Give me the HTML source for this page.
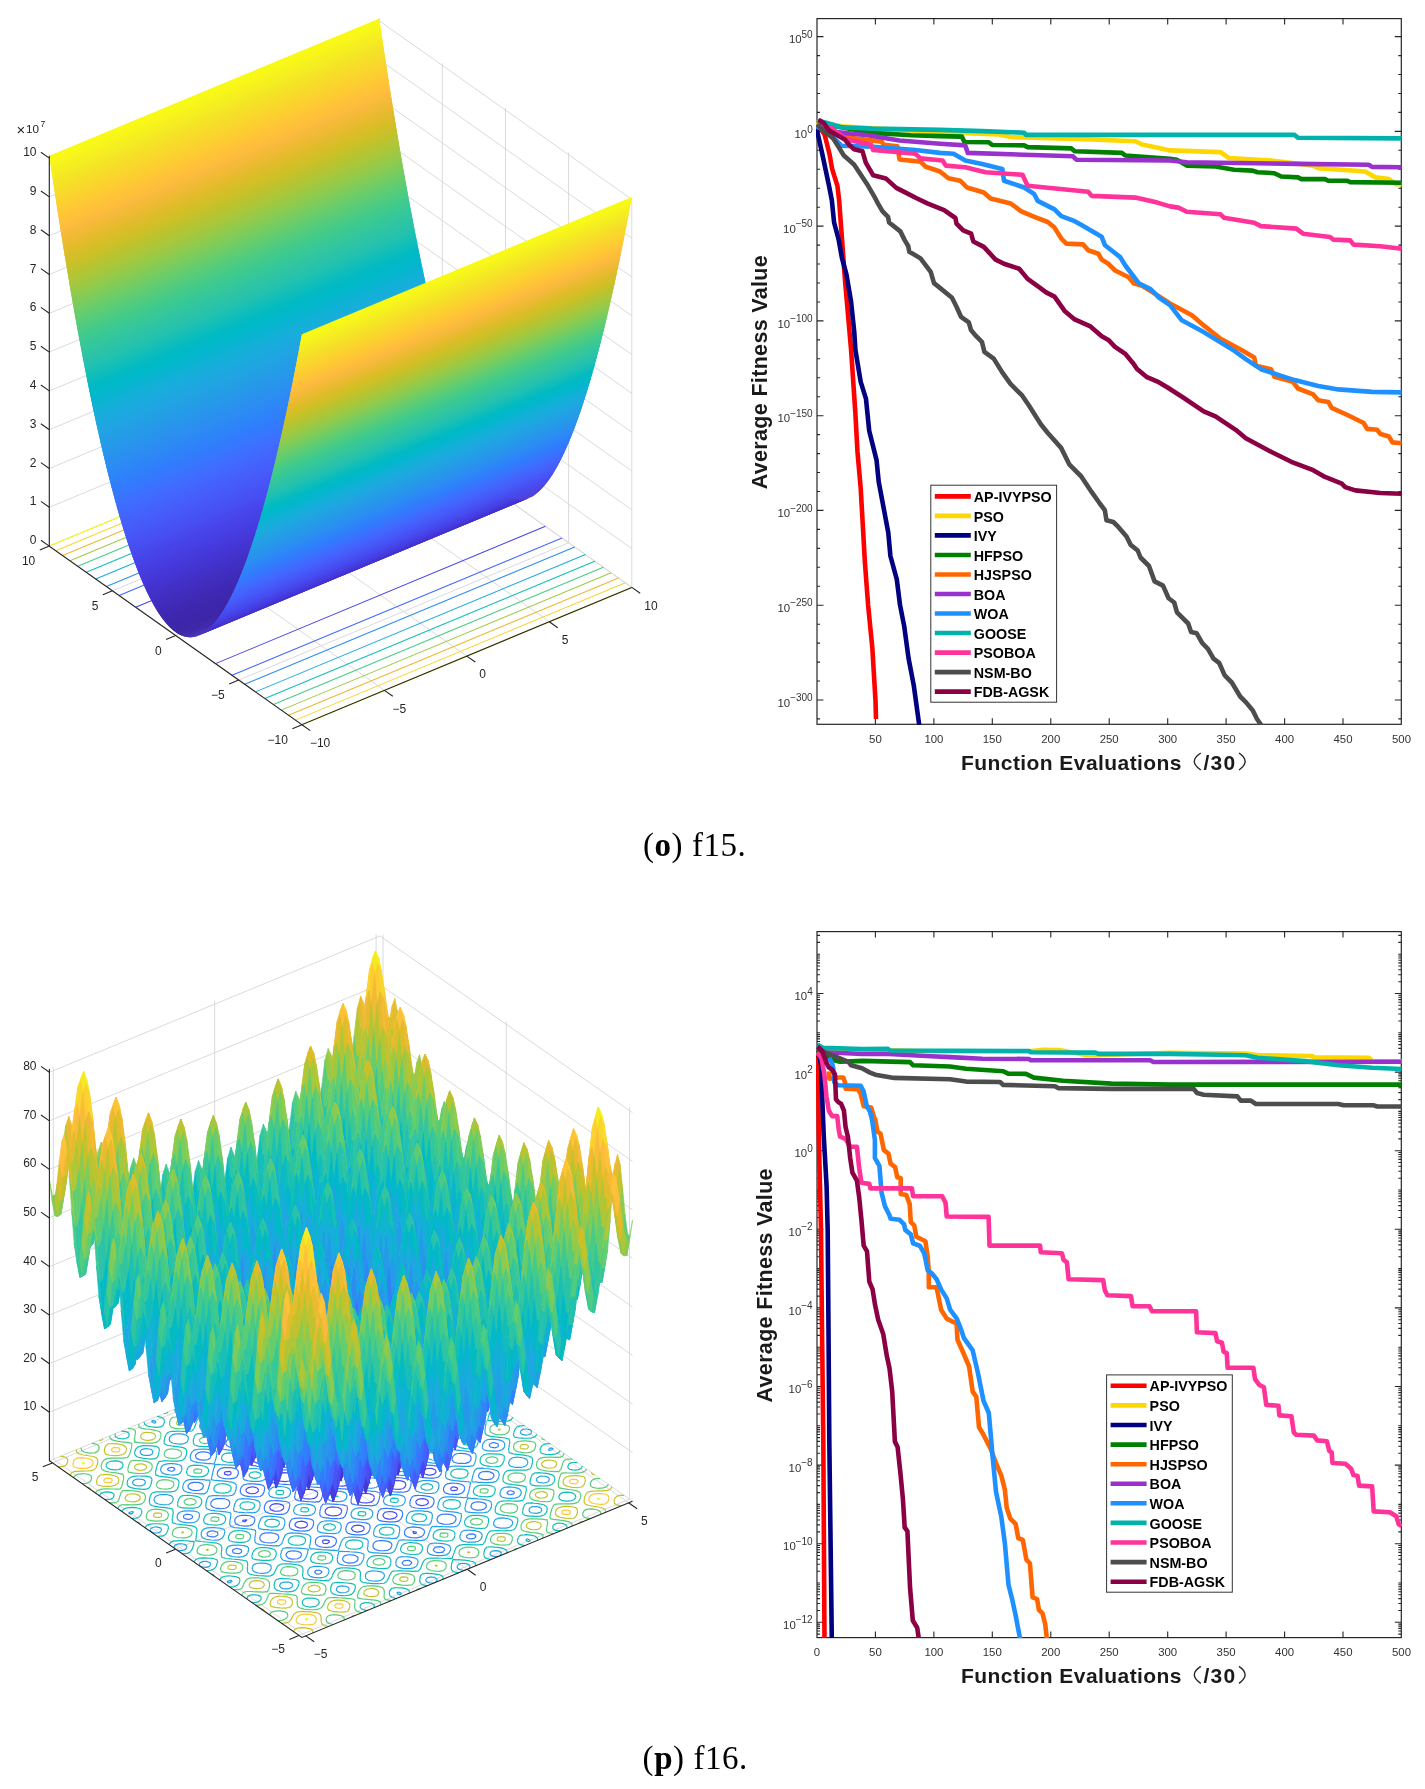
<!DOCTYPE html>
<html><head><meta charset="utf-8"><style>
html,body{margin:0;padding:0;background:#fff}
body{width:1425px;height:1789px;position:relative;overflow:hidden}
canvas,svg{position:absolute;left:0;top:0}
</style></head><body>
<svg width="700" height="1789" style="position:absolute;left:0;top:0"><path d="M301.9 724.7L631.8 587.4M301.9 724.7L49.3 546.1M49.3 546.1L49.3 155.8M631.8 587.4L631.8 197.1M238.7 680.1L568.6 542.8M384.4 690.4L131.8 511.8M131.8 511.8L131.8 121.4M568.6 542.8L568.6 152.4M175.6 635.4L505.5 498.1M466.8 656.1L214.2 477.5M214.2 477.5L214.2 87.1M505.5 498.1L505.5 107.8M112.4 590.8L442.3 453.4M549.3 621.7L296.7 443.1M296.7 443.1L296.7 52.8M442.3 453.4L442.3 63.1M49.3 546.1L379.2 408.8M631.8 587.4L379.2 408.8M379.2 408.8L379.2 18.5M379.2 408.8L379.2 18.5M49.3 546.1L379.2 408.8M631.8 587.4L379.2 408.8M49.3 507.3L379.2 370M631.8 548.6L379.2 370M49.3 468.5L379.2 331.2M631.8 509.8L379.2 331.2M49.3 429.7L379.2 292.4M631.8 471L379.2 292.4M49.3 390.9L379.2 253.6M631.8 432.2L379.2 253.6M49.3 352.1L379.2 214.8M631.8 393.4L379.2 214.8M49.3 313.3L379.2 176M631.8 354.6L379.2 176M49.3 274.5L379.2 137.2M631.8 315.8L379.2 137.2M49.3 235.7L379.2 98.4M631.8 277L379.2 98.4M49.3 196.9L379.2 59.6M631.8 238.2L379.2 59.6M49.3 158.1L379.2 20.8M631.8 199.4L379.2 20.8" stroke="#d6d6d6" stroke-width="0.9" fill="none"/><path d="M298.9 1635.4L629.5 1499.1M305.8 1635.9L53.3 1459.2M53.3 1459.2L53.3 1067.3M629.5 1499.1L629.5 1107.3M175.6 1549.2L506.2 1412.9M467.2 1569.3L214.7 1392.6M214.7 1392.6L214.7 1000.8M506.2 1412.9L506.2 1021M52.4 1462.9L383 1326.6M628.6 1502.8L376.1 1326.1M376.1 1326.1L376.1 934.2M383 1326.6L383 934.7M49.4 1412.2L380 1275.9M632.5 1452.6L380 1275.9M49.4 1363.7L380 1227.4M632.5 1404.1L380 1227.4M49.4 1315.1L380 1178.8M632.5 1355.5L380 1178.8M49.4 1266.6L380 1130.3M632.5 1307L380 1130.3M49.4 1218L380 1081.7M632.5 1258.4L380 1081.7M49.4 1169.4L380 1033.1M632.5 1209.8L380 1033.1M49.4 1120.9L380 984.6M632.5 1161.3L380 984.6M49.4 1072.3L380 936M632.5 1112.7L380 936M49.4 1460.8L380 1324.5M632.5 1501.2L380 1324.5" stroke="#d6d6d6" stroke-width="0.9" fill="none"/><path d="M415.4 1533.7l0.7 -0 0.3 -0.4 -1.7 -0.6 0.7 1M355.8 1531.9l0.5 0 6.4 -1.2 1.1 -2.1 -3.4 -3 -5.1 -0.1 -3.8 3.1 0 0.7 4.3 2.6M387.3 1518.9l6.9 -0.6 2.9 -3.4 -1.1 -1.1 -2.4 -1.9 -0.4 -0.1 -7.6 0.5 -2.7 3.8 -0 0.2 2.7 1.7 1.7 0.9M420.6 1505.2l4 -0.1 4 -3 0 -0.2 -3.6 -2.9 -1.1 -0.2 -6.6 1.2 -1.2 2.7 4.5 2.5M325.1 1540.2l2.2 0.2 -0.9 -0.8 -0.1 0 -1.2 0.6M450.2 1488.6l1.1 0.6 0.2 -1.2 -1.3 0.5 0 0.1M301.1 1528.1l0.5 0 5.4 -1.9 0.3 -0.7 -2.1 -3.5 -5 -0.6 -4.8 2.4 0.2 2.2 5.5 2.1M331.3 1515.7l2 0.1 6.3 -1.3 1.9 -3 -0.9 -2.1 -1.1 -1.5 -1.5 -0.2 -7.3 -0.5 -1.5 0 -1.8 1.3 -1.9 1.9 0.4 3.1 5.4 2.2M362.7 1502.8l1.3 0.1 7.1 -0.8 3.2 -3.5 0.2 -0.7 -2.5 -3.3 -4.7 -0.9 -3.9 0 -3.7 0.4 -1.7 1.9 -1.1 1.9 0.4 2.7 5.4 2.2M395.6 1489.2l5.9 -0.2 4 -2.9 0.3 -1.1 -2.5 -3.4 -5.6 -1 -3.8 0.5 -2.8 0.6 -0.5 0.8 -0.9 3.9 0 0.8 2.5 1 3.4 1M429.8 1475.1l1.2 0 4.9 -2.3 0.1 -0.3 -2.3 -3.4 -3.9 -0.6 -5.6 1.8 -0.2 2.8 5.8 2M279.6 1510.7l3.5 -1.2 0.1 -0.3 -0.8 -4.1 -7.1 -1.4 -0.5 -0 -3.1 1.5 -1.7 0.9 1.2 3.7 6.3 1.5 2.1 -0.6M308 1499l1.3 0.1 6.3 -1.4 1.7 -2.5 -0.1 -2.1 -0.7 -2 -3.4 -0.9 -3.7 -0.5 -5.1 0.2 -4 2.9 -0.2 0.7 1.4 3.8 6.5 1.7M339.4 1486l0.6 0 7.1 -0.8 3.3 -3.4 0 -0.4 -1.4 -3.7 -6.5 -1.8 -0.6 -0 -7 0.8 -3.3 3.4 -0.1 0.4 1.5 3.8 6.4 1.7M372.5 1472.4l5 -0.2 4.1 -2.9 0.2 -0.7 -1.5 -3.8 -6.4 -1.7 -1.3 -0.1 -6.3 1.3 -1.7 2.6 0.1 2 0.7 2.1 3.4 0.8 3.7 0.6M406.6 1458.3l0.4 0 3.2 -1.5 1.7 -0.9 -1.2 -3.7 -6.3 -1.5 -2.1 0.6 -3.5 1.2 -0.1 0.3 0.8 4.1 7.1 1.4M242.5 1521.6l0.7 0.1 1.2 -0.9 -2 0.4 0.1 0.4M437.5 1441.2l2 -0.4 -0.1 -0.4 -0.7 -0.1 -1.2 0.9M287.9 1480.9l2.8 -0.6 0.5 -0.8 1 -3.9 -0.1 -0.8 -2.4 -1 -3.5 -1 -5.9 0.2 -4 3 -0.3 1 2.5 3.4 5.6 1 3.8 -0.5M318.5 1468.3l3.8 -0.4 1.6 -1.8 1.1 -2 -0.4 -2.7 -5.4 -2.2 -1.3 -0.1 -7.1 0.8 -3.2 3.5 -0.2 0.7 2.5 3.4 4.8 0.8 3.8 0M351.2 1454.8l1.5 -0 1.8 -1.4 1.9 -1.8 -0.4 -3.2 -5.4 -2.1 -2 -0.2 -6.3 1.4 -1.9 3 0.9 2 1.1 1.5 1.4 0.3 7.4 0.5M248.3 1492.9l3.9 0.6 5.5 -1.8 0.3 -2.8 -5.8 -2 -1.3 0 -4.9 2.3 -0 0.3 2.3 3.4M376.6 1440l5 0.6 4.8 -2.4 -0.1 -2.2 -5.6 -2.1 -0.4 -0 -5.5 1.9 -0.3 0.7 2.1 3.5M230.4 1473.9l1.3 -0.5 0 -0.1 -1 -0.6 -0.3 1.2M256.8 1463l1.2 0.2 6.6 -1.2 1.1 -2.7 -4.5 -2.5 -4 0.1 -4 2.9 0 0.3 3.6 2.9M288.2 1450.1l0.4 0.1 7.6 -0.5 2.8 -3.8 -0 -0.2 -2.8 -1.7 -1.7 -0.9 -6.8 0.6 -3 3.4 1.2 1.1 2.3 1.9M321.5 1436.4l5.2 0.1 3.7 -3.1 0 -0.7 -4.3 -2.6 -0.4 -0 -6.4 1.2 -1.2 2.1 3.4 3M355.5 1422.4l0.2 0 1.1 -0.6 -2.1 -0.1 0.8 0.7M265.5 1428.7l1.7 0.6 -0.7 -1 -0.7 0 -0.3 0.4" stroke="#484cef" stroke-width="1.1" fill="none"/><path d="M403.4 1564.9l0 0 7 -0.9 0.4 -2.2 -5.4 -1.3 -2 4.4 0 0M435.2 1551.8l7.1 0 1.8 -3.7 -7.7 -1.2 -1 0.1 -0.4 0.5 0.2 4.3M468.3 1538.2l4.1 0.4 3.4 -3.4 -0.1 -0.1 -0 0 -8.4 -0.1 1 3.2M385.8 1550.3l3.7 -0.8 0.7 -1 1.4 -3.3 0.1 -1.7 -4.8 -2.4 -1.5 -0.2 -8.1 0 -3.9 3.1 -0.3 2.8 3.1 3.1 6.9 0.9 2.7 -0.5M416.7 1537.5l4.2 -0.6 2.1 -2 1.1 -1.5 0.1 -3.4 -4.8 -2.4 -4.3 -0.5 -6.3 0.5 -1.2 0 -0.4 0.6 -2.5 3.2 -0.2 2.4 3.2 3 6 0.9 3 -0.2M449.5 1524l1.9 -0.1 2.5 -1.7 1.5 -1.3 0.1 -3.8 -4.7 -2.4 -5.1 -0.6 -6.5 1.2 -2.1 4.3 -0.1 0.8 3.1 3.1 3.1 0.4 6.3 0.1M317.2 1574.2l1.1 0.1 2.7 -1.7 -5.6 -0.3 1.8 1.9M345.9 1562.3l5.4 0.6 5.5 -1.9 0.9 -3.6 -4.9 -2.3 -4.8 -0.2 -4.8 2.3 -0.4 2 3.1 3.1M474.1 1509.5l6.6 0.4 4.9 -2.3 0.3 -3 -4.8 -2.4 -3.6 -0.3 -5.5 1.9 -0.9 2.5 3 3.2M510.9 1494.3l3.6 -1 0.2 -0.6 -3.1 -1.4 -0.7 3M329 1547.4l0 0 5.5 -1.9 0.2 -0.4 1.6 -4.1 0.4 -1.1 -3.6 -3 -3 -0.2 -6 -0.5 -3 -0.1 -4.9 2.3 -0.2 1.2 -0.4 4.1 -0 0.5 4.3 2.6 0 -0 9.1 0.6M359.1 1534.9l1.6 0.1 6.3 -1.3 1.7 -2.8 0.8 -1.2 0.7 -3.8 -3.6 -2.9 -8.1 -1 -0 -0 -8.2 -0 -3.9 3 -0.2 2 -0.1 3.6 -0.2 1 4.4 2.6 1 -0 7.8 0.7M390.5 1522l0.9 0.1 7.1 -0.8 3.2 -3.5 0.1 -0.5 0.8 -4.6 0 -0.1 -3.4 -3 -1 0 -7.2 -1 -2.9 -0.3 -7.4 0.5 -2.9 3.7 -0.2 1.6 -0 4 -0.3 0.6 4.5 2.5 0.1 -0 8.6 0.8M423.6 1508.4l5.4 -0.2 4 -2.9 0.2 -0.9 0.8 -4.2 0.2 -0.5 -3.6 -3 -1.8 -0.1 -6.4 -0.9 -3.6 -0.4 -6.5 1.2 -2.1 4.3 -0 -0 -0.3 4.5 4.3 2.6 6.9 0.5 2.5 0M457.7 1494.3l0.8 0 4.9 -2.3 -0 -0 1.2 -4.9 -0 -0 -3.6 -2.9 -0.7 -0.1 -7.6 -0.9 -2.1 -0.2 -5.5 1.9 -0.6 1.7 -0.7 3.2 -0.3 1.6 4.3 2.6 2.1 0.1 7.8 0.2M290.8 1558.7l5.5 0.2 4.5 -2.6 0.6 -2 -3.5 -2.9 -4.7 -0.4 -5.9 1.6 -0.9 3.5 4.4 2.6M483.1 1479.4l3.7 0.2 5.8 -1.7 1.1 -2.9 -3.5 -2.9 -6.6 -0.5 -4.4 2.7 -0.4 2.5 4.3 2.6M304.8 1531l1 0.1 5.5 -1.9 0.3 -1 1.6 -3.4 0.8 -2 -2.2 -3.4 -8 -1.2 0 0 -8.3 -0.1 -4.9 2.3 -1.1 3.8 0.1 1.3 0.3 2.9 5.4 2.1 1.6 0.1 7.9 0.4M335 1518.6l2.6 0.3 6.6 -1.1 1.6 -3.7 0.5 -0.6 1.2 -4.4 -0.7 -1 0.2 -3.2 -4.3 0.4 -5.1 -0.9 -4.8 -0.4 -5.4 0.2 -4 -1 -1.4 3.2 -1.1 0.8 -1 4.4 0.1 0.7 -0.1 3.8 5.7 2 2.7 0 6.7 0.5M366.4 1505.6l1.9 0.2 7.5 -0.5 2.8 -3.7 0.1 -1.1 0.9 -4 0.8 -1.1 -1.5 -3.7 -6.7 -0.3 -2.2 -0.5 -7.5 -0.6 -2.2 0.3 -7.3 -1.2 0.2 4.1 -1 1.1 -0.8 4 0.2 1.3 -1.2 3.5 6.4 1.8 2.2 -0.1 7.4 0.5M399.2 1492.1l6.9 0.1 3.8 -3.1 0.1 -1.5 0.9 -3.6 0.6 -1.4 -2.1 -3.5 -6.7 -0.8 -1.3 -0.3 -8.2 -0.6 -1.7 0.3 -6.1 -0 0.7 2.3 -1.7 2.7 -0.6 2.6 0.2 2.9 -1.8 2.1 5.9 0.8 1.5 0.6 8.3 0.5 1.3 -0.1M433.4 1478l1.9 0.1 4.8 -2.3 0.1 -0.6 1.3 -4.2 0.3 -0.8 -2.5 -3.4 -5.1 -0.9 -2.4 -0.4 -6.9 -0.4 -5.5 1.9 -1.9 4.4 -0 0 -0.1 4.4 5.7 2.1 3.7 0.1 6.6 0M239.4 1553.6l0 -0 0.1 -0 0.2 -4.5 -5.9 0.5 -0.7 2.2 6.3 1.8M266 1542.6l7.1 0.1 4.6 -2.6 1 -2.7 -2.2 -3.5 -7.9 -1.1 -1.5 -0.1 -5.8 1.7 -0.8 1.7 -0.2 3.3 0.2 1.1 3.1 1.3 2.4 0.8M458.4 1463.3l5.2 0.2 5.8 -1.8 1.7 -3.6 -0.8 -1.5 -1.6 -1.9 -1.8 -0.4 -6.1 -0.8 -3.2 -0 -4.6 2.6 -0.3 0.8 0 4.3 5.7 2.1M497.7 1447.1l0.1 -0 -0 -0 -1.6 -3.8 -4.1 -0.2 -2.5 3 8.1 1M281.6 1514.2l0.1 0 5.6 -1.8 0 -0.6 1.9 -3.8 0.6 -1.6 -1 -4 -6.9 -1.5 -2.9 -0.1 -7.5 0 -1 -0.1 -4.7 2.4 0 0.1 -1.5 4.6 -0.2 0.4 1.4 3.9 6.5 1.7 0.9 0 8.7 0.4M311.8 1501.8l2 0.4 7.1 -0.8 0.6 -3.6 0.8 -1.2 1.1 -4 -0.4 -1.2 2.2 -3.9 -7.6 0.1 -2 -0.5 -7.6 -0.4 -2.3 0.1 -6.6 -0.6 -3.3 3.4 0.2 1.2 -1 4 -0.5 1 0.9 4 7 1.5 1.9 0 7.5 0.5M343.2 1488.9l1.2 0.2 8.3 0.1 2 -4.3 -0.1 -0.7 1.1 -4.4 0.4 -0.6 0.3 -4.5 -8.2 -1 -1.2 0 -8.2 -0.5 -1.2 -0.3 -8.3 -0.1 -2 4.4 0.1 0.7 -1.1 4.4 -0.5 0.6 -0.2 4.5 8.1 1 1.3 -0.1 8.2 0.6M376.2 1475.2l6.6 0.6 3.3 -3.4 -0.2 -1.2 1 -4 0.5 -1 -0.9 -4 -7 -1.5 -1.9 -0 -7.5 -0.5 -2.1 -0.5 -7 0.9 -0.6 3.6 -0.8 1.1 -1.2 4.1 0.5 1.1 -2.3 4 7.7 -0.1 2 0.5 7.6 0.4 2.3 -0.1M410.3 1461.2l1 0.1 4.7 -2.4 0 -0.1 1.6 -4.6 0.1 -0.4 -1.4 -3.8 -6.5 -1.8 -0.9 -0 -8.7 -0.4 -0.1 -0 -5.6 1.8 0 0.6 -1.9 3.8 -0.6 1.6 1 4 6.9 1.5 2.9 0.1 7.5 0M242.8 1525.8l6.3 0 4.6 -2.5 0.9 -2.4 -0.9 -3.3 -0 -0.7 -1.2 -0.2 -5.8 -1.3 -4.5 -0.1 -5.7 1.7 -1.6 3.3 0.3 1.6 1 2.2 3.8 1.1 2.8 0.6M435.2 1446.5l4.5 0.1 5.7 -1.7 1.6 -3.3 -0.3 -1.5 -1 -2.3 -3.8 -1.1 -2.8 -0.6 -6.3 -0 -4.5 2.5 -1 2.4 0.9 3.3 0 0.7 1.2 0.2 5.8 1.3M208.3 1535.7l6.9 0.9 2.3 -4.1 -0.2 -0.5 -0.9 -0.2 -8 0.1 -0.1 3.8M464.5 1430l0.9 0.2 8 -0.1 0.1 -3.8 -6.8 -1 -2.3 4.2 0.1 0.5M290.4 1484.3l6.1 0.1 -0.7 -2.3 1.7 -2.8 0.6 -2.6 -0.3 -2.9 1.8 -2.1 -5.9 -0.7 -1.5 -0.6 -8.2 -0.5 -1.3 0 -7 -0 -3.8 3.1 -0.1 1.4 -0.9 3.6 -0.6 1.4 2.2 3.5 6.7 0.9 1.2 0.2 8.3 0.7 1.7 -0.4M321.6 1471.4l7.3 1.2 -0.2 -4.1 1 -1.1 0.8 -4.1 -0.1 -1.2 1.1 -3.6 -6.4 -1.7 -2.1 0.1 -7.5 -0.5 -1.9 -0.3 -7.5 0.5 -2.8 3.8 -0.1 1 -0.9 4 -0.8 1.1 1.5 3.8 6.7 0.3 2.2 0.4 7.5 0.6 2.2 -0.2M354.5 1457.8l3.9 1 1.5 -3.2 1.1 -0.8 0.9 -4.5 -0.1 -0.7 0.2 -3.7 -5.7 -2 -2.7 -0 -6.7 -0.5 -2.7 -0.3 -6.5 1.1 -1.7 3.7 -0.4 0.6 -1.2 4.4 0.6 1 -0.1 3.2 4.2 -0.4 5.2 0.9 4.8 0.4 5.4 -0.2M221.1 1508.5l3.2 0.1 4.6 -2.6 0.2 -0.8 0 -4.4 -5.6 -2.1 -5.2 -0.1 -5.8 1.7 -1.7 3.7 0.8 1.4 1.6 2 1.8 0.4 6.1 0.7M250 1496.5l7 0.4 5.4 -1.9 1.9 -4.4 0 -0 0.1 -4.4 -5.7 -2.1 -3.7 -0.1 -6.6 -0 -1.8 -0.1 -4.9 2.3 -0 0.6 -1.4 4.2 -0.2 0.8 2.4 3.4 5.2 0.9 2.3 0.4M378.1 1443.8l8.4 0.1 4.9 -2.3 1 -3.7 -0 -1.3 -0.4 -2.9 -5.4 -2.2 -1.6 -0.1 -7.9 -0.4 -1 -0.1 -5.5 1.9 -0.3 1 -1.6 3.5 -0.8 1.9 2.3 3.5 7.9 1.1 0 0M413.3 1429.2l1.5 0.1 5.8 -1.7 0.7 -1.7 0.3 -3.4 -0.2 -1 -3.1 -1.3 -2.4 -0.8 -7.1 -0.1 -4.6 2.6 -1 2.7 2.2 3.5 7.9 1.1M185.7 1518.7l4.1 0.2 2.5 -2.9 -8.1 -1.1 -0.1 0 0 0.1 1.6 3.7M442.2 1412.9l5.9 -0.5 0.7 -2.2 -6.3 -1.8 -0 -0 -0.1 0 -0.2 4.5M229.2 1478.8l2.1 0.2 5.5 -1.9 0.5 -1.6 0.8 -3.2 0.3 -1.7 -4.4 -2.6 -2.1 -0.1 -7.7 -0.2 -0.8 0 -4.9 2.3 -0 0.1 -1.2 4.8 -0 0 3.6 2.9 0.7 0.1 7.6 0.9M259.5 1466.3l3.6 0.4 6.5 -1.2 2.1 -4.2 0.1 -0.1 0.2 -4.5 -4.3 -2.6 -6.9 -0.5 -2.5 0 -5.4 0.2 -4 2.9 -0.2 0.9 -0.7 4.2 -0.2 0.6 3.5 2.9 1.8 0.1 6.4 0.9M290.9 1453.4l2.9 0.3 7.4 -0.5 2.9 -3.7 0.2 -1.6 0.1 -4 0.2 -0.5 -4.5 -2.6 -0.1 0 -8.6 -0.8 -0.9 -0 -7.1 0.7 -3.2 3.5 -0.1 0.5 -0.8 4.7 0 0 3.4 3 1 0 7.2 1M323.4 1440l8.2 0 3.8 -3 0.2 -2 0.2 -3.6 0.2 -1 -4.4 -2.6 -1 0 -7.8 -0.7 -1.6 -0.1 -6.3 1.3 -1.8 2.8 -0.7 1.2 -0.8 3.8 3.6 2.9 8.2 1 0 -0M357.8 1425.8l3 0.1 4.9 -2.3 0.2 -1.1 0.4 -4.2 0 -0.4 -4.2 -2.6 -0.1 -0 -9.1 -0.7 -0 0 -5.4 2 -0.2 0.4 -1.7 4.1 -0.3 1.1 3.5 2.9 3 0.3 6 0.4M191.7 1489.9l6.6 0.5 4.4 -2.7 0.5 -2.5 -4.4 -2.6 -3.7 -0.2 -5.8 1.7 -1.1 2.9 3.5 2.9M384 1410.6l4.7 0.4 5.9 -1.6 0.9 -3.5 -4.4 -2.6 -5.5 -0.2 -4.5 2.6 -0.6 2 3.5 2.9M273.1 1434.4l1.2 -0 0.4 -0.7 2.5 -3.1 0.2 -2.4 -3.1 -3.1 -6.1 -0.8 -3 0.2 -4.2 0.5 -2.1 2.1 -1.1 1.5 -0 3.3 4.7 2.5 4.4 0.5 6.2 -0.5M200.8 1459.8l3.6 0.3 5.5 -1.9 0.9 -2.5 -3 -3.2 -6.6 -0.4 -4.9 2.3 -0.3 3 4.8 2.4M231.1 1447.3l5.1 0.6 6.5 -1.3 2.1 -4.2 0.2 -0.8 -3.2 -3.1 -3.1 -0.4 -6.3 -0.1 -1.9 0.1 -2.5 1.7 -1.5 1.3 -0.1 3.8 4.7 2.4M295 1421l1.5 0.1 8.2 0 3.8 -3 0.4 -2.8 -3.2 -3.1 -6.9 -0.9 -2.7 0.5 -3.6 0.8 -0.7 1 -1.4 3.3 -0.2 1.7 4.8 2.4M329.1 1406.9l4.7 0.2 4.9 -2.3 0.4 -2 -3.1 -3.1 -5.4 -0.6 -5.5 1.9 -0.9 3.5 4.9 2.4M167.2 1469.3l3 1.4 0.8 -3 -3.7 1 -0.1 0.6M361 1389.4l5.6 0.4 -1.8 -2 -1.1 -0 -2.7 1.6M245.6 1415l1 -0.1 0.4 -0.5 -0.2 -4.3 -7.1 0 -1.8 3.7 7.7 1.2M206.1 1426.9l0.1 0 8.3 0.1 -1 -3.2 -4 -0.3 -3.4 3.4 0 0M271 1400.1l5.5 1.3 2 -4.3 -0.1 -0.1 0 0 -7 0.9 -0.4 2.2" stroke="#3479fd" stroke-width="1.1" fill="none"/><path d="M400 1592.7l1.5 -0.4 -0.1 -0.2 -0.2 -0 -1.2 0.6M426.5 1581.7l1.7 0.5 7.9 -0.2 -0.7 -4 -6.1 -0.8 -3.1 3.6 0.3 0.9M468.4 1568.9l0.4 -4.1 -0.1 -0.4 -0.6 -0.1 -8.7 -0.5 -0.1 0.1 -0 -0 -1.5 4.6 0.1 0.4 0.6 0.1 7.5 0.9M491.1 1555.1l6.9 1.4 2.5 -4.1 -0.5 -1 -1.5 -0.3 -7.3 0.6 -0.1 3.4M525.1 1541.1l0.3 0.1 1.1 -0.7 -1.4 0.5 0 0.1M374.9 1581.1l2.4 0 5.3 -1.9 1.1 -1.7 0.1 -3.3 -0.1 -1.1 -2.7 -0.9 -3.5 -1 -6.5 -0.2 -4.9 2.3 -0.6 2.9 2 3.6 7.4 1.3M405.2 1568.6l3.7 0.1 6.1 -1.4 2.9 -3.7 0.1 -0.3 -0.6 -4.1 -5.8 -2 -3.2 -0.3 -6.9 0.1 -1.6 -0.3 -1 1.3 -2.5 2 -0.5 3.6 1.8 3.1 0.3 0.5 0.6 0.1 6.6 1.3M436.6 1555.7l3 0.1 6.9 -0.9 3.5 -3.4 0.5 -1.5 -0.7 -4.1 -5.8 -2 -5.9 -0.7 -3.9 0.3 -4.4 -0.3 -0.5 2.3 -1.6 2 -0.4 3.2 2.2 3.5 7.1 1.5M469.1 1542.3l0.5 0 7.4 -0.5 4.2 -2.8 0.7 -2 -0.6 -3.7 -0 -0.4 -0.9 -0.3 -5 -1.7 -6.7 -0.7 -4.2 0.8 -2.6 0.2 0 0.9 -1.8 3.6 -0.3 1.7 2 3.5 7.3 1.4M503.4 1528.1l3.3 -0.1 4.9 -2.3 0.6 -1.2 -0.5 -4.2 -5.9 -2 -5.4 -0.4 -5.4 1.9 -1.2 3.5 0.8 2 0.9 1.7 1.9 0.3 6 0.8M338.4 1591.7l6 0.8 4.2 -2.8 -0.1 -2.1 -5.4 -1.7 -1.9 0.2 -4.2 1.2 -0.2 0.7 1.6 3.7M530.7 1512.5l3.9 0.6 6.1 -1.4 0.1 -3.3 -6.3 -1.9 -1.2 -0 -3.3 1.9 -0.9 0.9 1.6 3.2M390.7 1552.6l3 -0.2 -0 -1 2.3 -3.2 1 -2.6 0.1 -2.3 3.4 -3.4 8.2 0 1.6 0.2 7.4 0.4 3.5 -0.5 4.6 0.4 0.6 -2.5 1.7 -1.7 1.3 -3.9 -0 -0.9 2.1 -4.2 7 -0.9 4.2 0.5 4.9 0.1 6.3 -0.3 1.8 0.2 1.2 -1.5 2.4 -1.7 1.5 -4.3 0 -0.4 1 -4.4 -4.9 -2.3 -6.3 -0.4 -2.8 -0.3 -7.5 -1.3 -2.9 -3.2 1 -3.8 0.5 -1.2 1.2 -3.3 5.5 -1.9 5.4 0.2 3.3 0.1 7 0.1 3.2 1.3 3.9 -3 -0.8 -0.9 1.4 -4.4 0.1 -0.7 0.9 -4.4 1.2 -0.8 -2.3 -3.4 -3.8 0.8 -6.7 -0.9 -3.3 -0.3 -5.4 -0.5 -4.3 -2.6 0.5 -3.4 0.1 -1.2 0.9 -3.8 4.4 -2.7 7.9 -0.2 2.8 0 6.2 0.6 5.9 -1.7 1.2 -4.3 0.2 -0.4 0.7 -4.4 -1.5 -2 -0.4 -1.6 -1.9 0 -5.8 -1.2 -4.9 -0.5 -4.4 -0.1 -6.2 -1.8 0 -4.4 0.4 -0.8 0.7 -4 -0.8 -1.9 0.6 -2.4 -4.6 -0.3 -3.1 -0.9 -7.3 -0.7 -1.7 -0 -7.9 -1.1 -1.6 -3.8 1 -2.2 0.3 -2.7 -0.7 -3.3 0.6 -1 -2.9 -0.6 -3.1 -1.3 -8.1 -0.8 -0.7 -0 -8.2 -0.5 -4.4 2.6 -0.7 3.4 -0.6 1.5 -2.4 4 -6 1.6 -7.1 -0.5 -2.2 -0.3 -6.2 -0.6 -3.6 -2.9 0.6 -2.9 0.2 -1.8 0.1 -3.7 2.5 -1.8 -5.6 -2.1 -1.7 0.5 -8.2 -0.8 -1.2 -0 -8.3 -0.5 -1.5 -0.6 -6.4 1.2 1.6 2.1 -1.7 3.6 -0.7 1.7 -0.9 2.9 -4.8 2.4 -6.4 -0.3 -2.3 -0 -7 -0.5 -5 -2.3 -0.4 -4.3 0.2 -1.5 0.9 -3.3 -3 -3.2 -8.1 -0.6 -0.7 -0.1 -8.2 -0.4 -3.6 0.9 -3.1 0.2 0.1 1 -2.3 3.1 -1 2.6 -0.2 2.4 -3.4 3.3 -8.2 0.1 -1.6 -0.3 -7.4 -0.3 -3.4 0.4 -4.6 -0.3 -0.6 2.5 -1.7 1.6 -1.3 4 -0 0.9 -2.2 4.2 -6.9 0.9 -4.2 -0.5 -5 -0.2 -6.2 0.4 -1.9 -0.3 -1.1 1.5 -2.5 1.7 -1.4 4.4 -0.1 0.3 -0.9 4.4 4.9 2.4 6.2 0.4 2.8 0.3 7.5 1.3 2.9 3.2 -0.9 3.8 -0.5 1.1 -1.2 3.4 -5.5 1.9 -5.4 -0.3 -3.3 -0.1 -7 -0 -3.3 -1.4 -3.9 3 0.8 1 -1.3 4.4 -0.2 0.6 -0.8 4.5 -1.3 0.8 2.3 3.4 3.8 -0.9 6.8 0.9 3.2 0.4 5.4 0.5 4.4 2.6 -0.5 3.4 -0.1 1.2 -1 3.8 -4.3 2.7 -7.9 0.2 -2.9 -0.1 -6.2 -0.5 -5.9 1.6 -1.2 4.4 -0.2 0.4 -0.7 4.4 1.6 1.9 0.4 1.6 1.9 0 5.8 1.2 4.9 0.6 4.3 0 6.2 1.8 0 4.4 -0.4 0.9 -0.7 4 0.9 1.8 -0.6 2.5 4.5 0.3 3.1 0.9 7.4 0.7 1.6 -0 7.9 1.1 1.7 3.7 -1 2.3 -0.4 2.7 0.7 3.3 -0.5 1 2.8 0.6 3.2 1.3 8 0.8 0.7 -0 8.2 0.5 4.5 -2.7 0.6 -3.3 0.6 -1.5 2.5 -4.1 6 -1.5 7 0.5 2.2 0.2 6.3 0.7 3.5 2.9 -0.5 2.9 -0.2 1.8 -0.2 3.7 -2.5 1.8 5.6 2 1.8 -0.4 8.2 0.7 1.1 0.1 8.3 0.4 1.5 0.7 6.4 -1.3 -1.5 -2 1.6 -3.6 0.7 -1.8 1 -2.8 4.8 -2.4 6.4 0.2 2.2 0.1 7.1 0.5 5 2.3 0.4 4.2 -0.2 1.6 -1 3.3 3 3.2 8.2 0.6 0.7 0.1 8.1 0.3 3.7 -0.8M319.5 1577.6l3.5 -0.1 4.6 -2.5 0.5 -0.9 0.6 -4 0.3 -0.8 -4.1 -1.9 -0.9 -0.4 -8.8 -0.6 -1.1 0.3 -4.9 1.2 -0.1 0.8 -1.3 4 -0 1 3.2 3 3.3 0.5 5.2 0.4M348.4 1565.7l7 0.2 5.4 -2 2.3 -4.1 0.1 -0.2 0.9 -4.8 -4.9 -2.3 -7.2 -0.5 -2 -0.1 -7.5 -0.8 -4.8 2.4 0.1 3.4 -0.4 2.1 -0.3 2.6 3.1 3.1 6.5 0.8 1.7 0.2M476.4 1512.9l0.4 0 8 -0.1 4.9 -2.3 1.5 -3.7 0.1 -0.9 0.2 -3.6 -4.7 -2.4 -4.8 -0.5 -3.8 -0.4 -6.2 -0.9 -5.5 1.9 -0.5 4 -0.4 1.1 -1 3.9 3.1 3.1 8.7 0.8M511.7 1498.4l1.8 0 5.8 -1.7 1 -1.8 0.7 -2.8 -0.1 -1.9 -4.7 -2.4 -1.8 -0.3 -7.4 -0.3 -1.5 -0.2 -3.5 2.2 -0.9 0.5 -1.1 4.8 0.6 0.6 2.2 2.6 1.6 0 7.3 0.7M282.9 1588.3l6.2 0 3.4 -3.3 0.1 -0.7 -3.6 -1.7 -1.6 -0.5 -6 0.8 -1.2 2.1 2.7 3.3M539.2 1482.6l1.2 0.1 6.9 -0.9 1.6 -3.2 -5.2 -2.2 -4.1 0 -3.1 2.9 0.5 1 2.2 2.3M394.7 1537.8l4.9 1.5 -2.1 -2.7 1.9 -3.2 0.2 -2 -0.4 -3.9 0.3 -0.4 -1.6 -0.5 -3.7 -1.7 -7.8 -0.6 -1.7 0.1 -6 0.2 -3.7 3.2 -0.1 0.6 -1.2 4.2 -0.5 0.9 2.3 3.5 4.8 0.2 3.7 0.6 6.3 0.7 4.4 -0.7M426.4 1524.7l4.2 1.8 -1.4 -3 2.3 -2.1 0.5 -3.4 -0.1 -2.1 0.8 -2.6 -5.6 -2 -1.8 0 -7.8 -0.5 -1.2 -0.1 -6.7 1.1 -2 3.1 -0.6 0.8 -0.9 4.2 2.1 2.4 0.4 0.9 0.9 0 6.9 1.2 3.7 0.5 6.3 -0.2M293.9 1561.8l6.6 0.1 4.6 -2.6 1 -2.5 0.6 -2.1 1.8 -3.3 -3.5 -3 -7.6 -0.2 -2 -0.2 -7.2 -0.5 -5.9 1.6 -1.5 4.7 0 0.2 0.3 4.3 4.2 2.6 6.9 0.9 1.7 0M486.3 1482.5l4.8 0.2 5.8 -1.7 1.6 -3.5 0.3 -0.9 0.3 -3.8 -3.6 -2.9 -7.6 -1.2 -0.4 -0.1 -8.8 -0.4 -4.5 2.6 -0.9 3.9 -0.2 1.1 -1.5 4 4.4 2.6 6.4 -0.1 3.9 0.2M256.8 1572.7l2.3 0.3 7.8 -0.3 3.7 -3.2 0.8 -2.8 -3.5 -2.9 -6.5 -0.7 -3.8 0.5 -3.1 0.4 -0.6 1.1 -1.5 3.2 0.2 1.8 4.2 2.6M513.1 1467.1l5.4 0.3 6.6 -1.1 2.5 -4 0.1 -1.2 -3.6 -2.9 -3.1 -0.5 -6.2 -0.1 -2.1 0.1 -1.6 1.4 -1.8 1.9 -0.5 3.5 4.3 2.6M228 1580.2l1.2 0.6 -0.8 -0.8 -0.3 0.1 -0.1 0.1M548.3 1448.2l1.2 0.6 -0.8 -0.8 -0.3 0.1 -0.1 0.1M330.7 1533.5l3.6 0.3 5.5 -1.8 0.6 -2.5 0.7 -2.4 0.2 -2.4 -3.5 -2.9 -5.1 -0.6 -3.5 -0.2 -5.2 -0.1 -4.9 2.3 -0.9 2.3 -0.5 2.4 -0.7 2.5 4.4 2.5 3.7 0.2 5.6 0.4M364.8 1519.4l5.4 -0.7 1 -1.9 1.3 -2.3 0.2 -2.7 -3.5 -3 -6 -0.7 -2.9 0 -4.8 0.3 -3.8 3.1 -0 0.2 -0.5 4.5 4.4 2.6 7.7 0.8 1.5 -0.2M397.5 1505.9l3.7 -0 2.7 -2.6 0.7 -0.7 0.6 -4.3 -3.5 -2.9 -8.4 -0.9 -0.3 -0.1 -6.5 1.2 -1.8 2.4 -0.8 1.5 -0.2 3.3 4.4 2.6 5 0.6 4.4 -0.1M428.3 1493.2l4.5 0.4 4.8 -2.4 0.4 -2 0.7 -3 0.6 -1.9 -3.4 -3 -4.6 -0.3 -4.5 -0.3 -4.4 -0.2 -5.4 2 -1.2 2.7 -0.5 1.9 -0.2 2.8 4.4 2.6 4.2 0.4 4.6 0.3M242.9 1556.5l0.7 -0 0.5 -0.5 3.2 -2.6 1.3 -3.6 -1.4 -2.3 -0.3 -1.4 -1.7 0 -6.7 -1 -3.2 -0.1 -6.6 1.1 -2.6 3.9 -0 0.3 1 4 5.2 2.2 3.6 0.4 7 -0.4M500.9 1450.2l1 -0.1 0.2 -0.4 2.5 -3.5 0.2 -2 -2.7 -3.3 -6.9 -1.5 -0.4 -0.1 -7.7 0.4 -3.8 3.1 -0.5 1.7 0 3.7 -0.5 0.9 2.5 0.5 3.7 1.3 6.8 0.3 5.6 -1M207 1566.9l1.9 -0.3 0.7 -0.8 -1.2 -3.9 -6.3 -0 -2.6 3.7 7.5 1.3M527.6 1434.8l1.6 -0.1 1 -1 -0.4 -4.2 -7.4 0.4 -1.5 3.3 6.7 1.6M275.4 1530l4.8 0.4 3.9 -3 -0.1 -0.9 1 -4.3 0.1 -0.6 -1.9 -3.6 -5.8 -1 -1.5 -0.4 -7.8 -0.5 -4.5 1.2 -1.7 0.2 -0 0.5 -2.3 3.7 -0.8 2 0.3 3.4 -3.4 2.2 5.5 -0.7 4 1.2 6.3 0.3 3.9 -0.1M437.4 1463.2l1.6 0.3 6.5 -1.3 0.5 -2.5 1.1 -2 1.2 -3.4 -1.2 -2.4 2.8 -2.6 -4.9 1.1 -6.1 -1 -3.7 -0.1 -7.2 0.2 -0.9 -0.1 -0.9 0.9 -3.2 2 -1.2 4.2 0.2 0.8 0.5 3.3 5.9 1.9 1.2 0.1 7.8 0.6M300.4 1515.3l7.9 0.3 5.4 -1.9 1.9 -4.5 -0 -0.2 -2.1 -3.5 -4.5 -0.9 -2.9 -0.4 -6.1 -0.1 -4.8 2.3 -1.2 2.7 0.2 2.4 -0 2 4.9 1.4 1.3 0.4M334.1 1501.4l3.5 0.2 6.6 -1.1 2.7 -3.8 0.1 -0.6 -2.1 -3.5 -5.5 -1.2 -2 -0.1 -5.9 0.3 -3.8 3.1 -0.1 0.6 0.7 4.1 5.8 2M366.5 1488l1.1 0.1 7.6 -0.4 3.8 -3.1 0.4 -1.9 -2 -3.6 -7.2 -1.4 -1.1 -0.1 -6.6 1.2 -2.1 3 -0.3 1 0.7 3.2 5.7 2M397.9 1475.1l0.3 0 8.5 0.2 4.9 -2.3 1.5 -4.2 -0.4 -0.8 -1.3 -2.9 -3.6 -0.5 -4.1 -0.7 -5.2 -0.1 -5.5 1.9 -1.4 3.2 0 1.6 0.5 2.6 5.8 2M176.6 1549.8l7.7 0.2 0.7 -0.1 0.2 -0.3 0.9 -4.7 -0 -0 -0.1 -0 -8.7 -0.8 -0.6 0.1 -0.3 0.3 -1.6 4M209 1539.8l3 0.3 7.6 -0.4 3.7 -3.1 1.3 -3.2 -0.6 -2.1 0.7 -2.3 -4.4 -0.3 -3.6 -0.8 -6.1 -0.2 -6.5 1.1 -2.8 3.9 -0.2 1.6 1.8 3.6 6.1 1.9M465.2 1434.2l6.1 0.2 6.5 -1.2 2.8 -3.8 0.2 -1.6 -1.8 -3.7 -6.1 -1.8 -3 -0.4 -7.6 0.5 -3.8 3.1 -1.2 3.2 0.6 2.1 -0.7 2.3 4.4 0.3 3.6 0.8M505.3 1412.2l-7.7 -0.2 -0.7 0.1 -0.2 0.3 -0.9 4.7 0 0 0.1 0 8.7 0.8 0.6 -0.1 0.3 -0.3 1.6 -4M253.9 1512.5l0.8 0.1 0.9 -0.8 3.3 -2 1.1 -4.2 -0.2 -0.9 -0.4 -3.2 -5.9 -2 -1.2 -0.1 -7.8 -0.6 -1.7 -0.3 -6.4 1.3 -0.5 2.6 -1.2 2 -1.2 3.3 1.2 2.4 -2.7 2.7 4.9 -1.2 6 1 3.8 0.1 7.2 -0.2M418.3 1444.7l1.8 -0.2 -0.1 -0.5 2.3 -3.7 0.8 -2 -0.2 -3.4 3.3 -2.2 -5.5 0.7 -3.9 -1.2 -6.4 -0.3 -3.9 0.1 -4.8 -0.4 -3.9 3 0.1 0.9 -0.9 4.3 -0.2 0.6 2 3.6 5.7 1.1 1.5 0.3 7.9 0.5 4.4 -1.2M278.2 1498.1l5.2 0.1 5.5 -1.9 1.4 -3.2 -0.1 -1.6 -0.5 -2.5 -5.7 -2.1 -0.3 0 -8.5 -0.2 -4.9 2.4 -1.5 4.1 0.4 0.8 1.3 2.9 3.5 0.5 4.2 0.7M311.8 1484.3l1.1 0.1 6.5 -1.2 2.2 -3 0.3 -1 -0.7 -3.2 -5.7 -2 -1.1 -0.1 -7.6 0.4 -3.8 3.1 -0.4 1.9 2 3.6 7.2 1.4M344.5 1470.7l5.9 -0.4 3.8 -3.1 0.1 -0.6 -0.7 -4 -5.8 -2 -3.5 -0.3 -6.6 1.1 -2.7 3.9 -0.1 0.6 2.1 3.5 5.5 1.2 2 0.1M375.8 1457.9l6.1 0.1 4.9 -2.4 1.1 -2.7 -0.2 -2.3 0 -2 -4.8 -1.4 -1.4 -0.4 -7.8 -0.3 -5.5 1.9 -1.8 4.5 -0 0.1 2.1 3.5 4.5 1 2.8 0.4M186.7 1522.7l0.5 0.1 7.7 -0.4 3.7 -3.1 0.5 -1.7 -0 -3.7 0.5 -0.9 -2.5 -0.5 -3.6 -1.4 -6.9 -0.2 -5.6 1 -1 0.1 -0.2 0.4 -2.4 3.5 -0.3 2 2.7 3.3 6.9 1.5M443.3 1416.9l3.2 0.1 6.6 -1.1 2.6 -3.9 0 -0.2 -0.9 -4 -5.3 -2.3 -3.6 -0.3 -7 0.3 -0.6 0 -0.5 0.5 -3.3 2.7 -1.3 3.6 1.5 2.2 0.3 1.4 1.7 0 6.6 1M152.2 1532.5l7.4 -0.4 1.5 -3.3 -6.7 -1.6 -1.6 0.2 -1 0.9 0.4 4.2M473.5 1400l6.4 0.1 2.5 -3.8 -7.5 -1.3 -1.9 0.3 -0.6 0.8 1.1 3.9M255.1 1481.3l4.3 0.1 5.5 -1.9 1.2 -2.7 0.5 -1.9 0.2 -2.8 -4.4 -2.6 -4.2 -0.5 -4.6 -0.2 -4.6 -0.4 -4.7 2.4 -0.4 1.9 -0.7 3.1 -0.7 1.9 3.5 3 4.5 0.2 4.6 0.4M288.6 1467.5l0.3 0 6.5 -1.1 1.8 -2.4 0.8 -1.6 0.2 -3.2 -4.3 -2.7 -5.1 -0.5 -4.4 0.1 -3.7 -0 -2.6 2.6 -0.8 0.7 -0.6 4.2 3.6 3 8.3 0.9M321.6 1453.9l4.8 -0.3 3.8 -3.1 -0 -0.1 0.5 -4.6 -4.4 -2.6 -7.7 -0.8 -1.5 0.2 -5.4 0.7 -1 1.9 -1.3 2.3 -0.3 2.8 3.6 2.9 5.9 0.7 3 -0M352.7 1441.1l5.2 0.1 4.9 -2.3 0.9 -2.3 0.5 -2.5 0.7 -2.4 -4.4 -2.6 -3.7 -0.2 -5.6 -0.3 -3.6 -0.4 -5.5 1.9 -0.6 2.4 -0.7 2.5 -0.2 2.3 3.6 2.9 5.1 0.7 3.4 0.2M167.1 1504.4l2.1 -0 1.6 -1.5 1.8 -1.9 0.5 -3.5 -4.3 -2.6 -5.4 -0.3 -6.6 1.1 -2.5 4 -0.1 1.2 3.6 2.9 3.2 0.6 6.1 0M194.1 1493.3l0.4 0.1 8.8 0.4 4.5 -2.6 0.9 -3.9 0.2 -1.1 1.5 -4 -4.5 -2.6 -6.3 0.1 -3.9 -0.2 -4.8 -0.2 -5.8 1.7 -1.6 3.5 -0.4 0.9 -0.3 3.8 3.6 2.9 7.7 1.2M386.5 1414l7.2 0.5 5.9 -1.6 1.5 -4.7 -0 -0.2 -0.2 -4.3 -4.3 -2.6 -6.8 -0.8 -1.8 -0.1 -6.6 -0.1 -4.6 2.6 -0.9 2.5 -0.7 2.1 -1.7 3.3 3.4 3 7.6 0.2 2 0.2M424.4 1398.3l3.1 -0.4 0.6 -1.1 1.5 -3.2 -0.2 -1.8 -4.2 -2.6 -2.3 -0.3 -7.8 0.3 -3.7 3.2 -0.8 2.8 3.5 2.9 6.5 0.7 3.8 -0.5M133.3 1514l0.3 -0 0.1 -0.2 -1.2 -0.6 0.8 0.8M453.6 1381.9l0.2 -0 0.2 -0.2 -1.2 -0.6 0.8 0.8M264.4 1451.1l1.2 0.1 6.7 -1.1 2 -3.1 0.6 -0.8 0.9 -4.2 -2.1 -2.4 -0.5 -0.9 -0.8 0 -6.9 -1.2 -3.7 -0.4 -6.3 0.1 -4.2 -1.7 1.4 2.9 -2.4 2.1 -0.5 3.4 0.2 2.1 -0.8 2.6 5.6 2.1 1.7 -0.1 7.9 0.5M297.2 1437.6l6.1 -0.2 3.6 -3.2 0.2 -0.7 1.1 -4.2 0.6 -0.9 -2.3 -3.4 -4.8 -0.3 -3.7 -0.6 -6.3 -0.6 -4.5 0.7 -4.9 -1.5 2.1 2.6 -1.9 3.3 -0.2 2 0.4 3.8 -0.2 0.5 1.6 0.5 3.7 1.7 7.8 0.6 1.6 -0.1M174.9 1474.9l1.5 0.2 3.5 -2.3 0.8 -0.5 1.2 -4.7 -0.6 -0.6 -2.2 -2.6 -1.6 -0 -7.3 -0.7 -1.9 -0 -5.7 1.7 -1 1.8 -0.7 2.8 0.1 1.8 4.7 2.5 1.8 0.3 7.4 0.3M203.7 1463l6.1 0.9 5.6 -1.8 0.5 -4.1 0.3 -1.1 1 -3.9 -3 -3.1 -8.7 -0.8 -0.4 0 -8 0.2 -4.9 2.3 -1.6 3.6 -0.1 1 -0.1 3.5 4.7 2.5 4.7 0.5 3.9 0.3M331.9 1410.1l7.5 0.8 4.7 -2.4 -0 -3.4 0.4 -2.1 0.3 -2.6 -3.2 -3.1 -6.4 -0.8 -1.7 -0.2 -7 -0.2 -5.4 2 -2.4 4.1 -0.1 0.2 -0.8 4.7 4.8 2.4 7.3 0.5 2 0.1M367.8 1395.3l4.9 -1.2 0.1 -0.9 1.3 -3.9 0 -1 -3.2 -3 -3.4 -0.6 -5.1 -0.3 -3.5 0 -4.6 2.5 -0.5 1 -0.7 4 -0.3 0.8 4.1 1.8 1 0.5 8.8 0.6 1.1 -0.3M138.2 1485.6l4 -0.1 3.2 -2.9 -0.5 -0.9 -2.2 -2.3 -1.2 -0.1 -7 0.9 -1.5 3.2 5.2 2.2M394.5 1379.9l6 -0.9 1.2 -2.1 -2.7 -3.2 -6.2 -0.1 -3.4 3.4 -0.1 0.7 3.5 1.7 1.7 0.5M217.4 1431l2.7 -0.2 -0.1 -0.9 1.9 -3.5 0.3 -1.7 -2.1 -3.6 -7.3 -1.4 -0.4 0 -7.5 0.5 -4.1 2.9 -0.8 1.9 0.7 3.8 -0 0.3 0.9 0.3 4.9 1.7 6.7 0.7 4.2 -0.8M247.8 1418.5l4.4 0.3 0.5 -2.3 1.5 -1.9 0.4 -3.3 -2.1 -3.5 -7.1 -1.5 -3.1 -0.1 -6.8 1 -3.5 3.3 -0.6 1.6 0.8 4.1 5.8 2 5.9 0.6 3.9 -0.3M280.4 1405l1.6 0.3 1 -1.4 2.5 -1.9 0.5 -3.7 -1.8 -3 -0.3 -0.5 -0.6 -0.1 -6.6 -1.3 -3.7 -0.2 -6.1 1.5 -2.9 3.7 -0.1 0.2 0.6 4.2 5.9 1.9 3.1 0.3 6.9 0M147.4 1455.5l1.2 0.1 3.3 -1.9 0.9 -0.9 -1.6 -3.3 -3.8 -0.6 -6.2 1.5 -0 3.3 6.2 1.8M176.2 1443.6l5.3 0.4 5.5 -1.9 1.2 -3.5 -0.9 -2 -0.8 -1.6 -2 -0.3 -5.9 -0.9 -3.3 0.1 -4.9 2.3 -0.6 1.3 0.5 4.2 5.9 1.9M304.4 1390.8l6.6 0.3 4.8 -2.4 0.6 -2.9 -1.9 -3.5 -7.5 -1.4 -2.3 0 -5.4 2 -1 1.7 -0.1 3.3 0 1.1 2.8 0.8 3.4 1M340.6 1375.8l4.3 -1.2 0.2 -0.6 -1.7 -3.8 -5.9 -0.8 -4.2 2.8 0.1 2.2 5.3 1.7 1.9 -0.3M213.5 1393.1l-0.4 4.1 0.1 0.4 0.6 0.1 8.7 0.5 0.1 -0.1 0 0 1.5 -4.6 -0.1 -0.4 -0.6 -0.1 -7.5 -0.9M155.4 1421.5l1.4 -0.4 0 -0.2 -0.3 -0 -1.1 0.6M181.9 1410.6l1.5 0.4 7.3 -0.7 0.1 -3.4 -6.9 -1.3 -2.5 4 0.5 1M246.5 1383.9l6.2 0.8 3 -3.6 -0.3 -0.9 -1.7 -0.5 -7.8 0.3 0.6 3.9M280.5 1369.9l0.2 0 1.2 -0.6 -1.4 0.4 0 0.2" stroke="#22a2e4" stroke-width="1.1" fill="none"/><path d="M374.3 1607.7l-1.4 -3.8 -5.8 -1.2 -4.1 0.9 -2 0.6 -0.1 0.3 0.5 4.1 6.7 1.7M409.4 1593.2l-0.4 -1.4 -0.9 -2.4 -3.7 -0.8 -3.6 -0.6 -6 -0.4 -4.9 2.4 -0.4 2.6 0.9 3.5 0.1 0.5 1.1 0.3 5.2 1.5M443.3 1579.2l-1.7 -3.7 -6.8 -1.6 -2.6 -0.3 -7.2 -0 -2.3 -0.9 -0 1.8 -2.6 2.1 -0.3 3.5 0.9 2.7 0.2 1.3 2.5 0.6 3.7 1.2M182.2 1553.7l5.6 -0.8 1.4 -0 0.2 -0.7 2.7 -3.1 1.3 -2.9 -0.5 -2.2 3.4 -3.4 7.4 1.4 2.7 -0.1 6.4 0.7 4.2 1 3.3 0.3 0.6 2.4 0.9 1.3 -0.4 4.6 0.1 0.3 -0.6 4.3 5.9 1.9 3.6 -0 5.7 0.6 4.4 0.7 4.5 -0 3.3 3 -1 1.8 0.1 3 0.3 3 -0.5 1.4 4.5 2.6 1.7 0 6.8 0.9 3.2 0.4 7.5 -0.4 0.4 0.1 -0.1 -0.3 3.6 -3 1.2 -3.3 0.4 -1.3 3.1 -3.5 7.3 -0.7 1.9 0.2 7.7 0.8 1.1 -0 5.3 2.2 -0.2 2.1 0.3 2.2 -0.1 3.7 -0.8 1.1 2.3 3.4 4.6 -0.2 4.8 0.7 5 0.4 5.1 -0.1 4.2 0.9 3.9 -3 -0.3 -1.2 1.8 -3.6 1.4 -2.1 0.8 -2 6.2 -1.4 1.1 0.1 7.8 0.3 2 0.1 6.6 1.6 1.4 3.9 -0.3 1.2 -0.5 3.4 2 3.4 -0.2 0.3 0.5 -0.1 7 1.4 3.3 0.1 6.9 0.1 1.8 0.2 5.5 -1.9 0.3 -1.4 1.7 -2.9 1.5 -2.9 -0.1 -1.9 4.7 -2.4 4.4 0.6 4.6 -0.1 5.8 0.2 3.4 0.5 6.7 -1 1.6 -4.3 0.2 -0.3 1.8 -4.4 1.5 -1.1 1.8 -2.3 3.3 0.2 4.6 -0.5 6.5 0.3 2.7 0.4 7.7 -0.3 1.6 3.7 -1.5 2.1 -0.2 3 1.1 3.3 -0.1 0.7 1.3 0.2 5 1.6M512.8 1417.4l-2.9 2.7 -0.4 0.7 -1.3 -0 -6.1 0.6 -5.7 -0.1 -3.9 -0.9 -6.9 0.9 0.5 4.2 -0.8 1.4 -0.4 3.5 0.8 2.5 -0.4 1.7 4.2 1 2.1 0.8 8.3 1 0.5 0.1 8 0.8 1.9 3.6 -1 1.8 -0.3 3.1 0.1 2.5 -1.2 2.3 4.5 2.5 3.6 -0 5.3 0.8 5.3 0.9 2.7 0.1 3.5 3 -0.4 0.9 -0.2 3.7 -0.2 1.8 -2.6 3.8 0.2 0.2 -0.6 -0.1 -6.2 1.1 -6.5 -0.2 -2.3 -0.2 -7.2 0.8 -3.1 3.6 -0 1 -0.7 4.2 -0.2 0.6 2.5 3.3 3.9 0.4 3.9 0.8 6.7 0.9 2.1 -0.2 5.6 2.1 -1.7 2.3 0.2 2.7 -0.7 2.7 -1.5 2.6 0.5 2.4 -6.4 1.3 -2 -0.4 -6.9 -0.1 -4.1 0.2 -4 -0.1 -4.1 2.9 -0 0.6 -1.5 4.1 -0.4 1 1.2 3.9 6.6 1.7 2.3 0.2 6.4 0.6 5.5 1.9 0.6 -0 -0.3 0.2 0.6 4 -0.6 1.8 -1.7 3.6 -0 0.9 -4.8 2.4 -2.7 -0.2 -5.6 0.1 -5.6 0.1 -3.3 -0.6 -5.7 1.8 0 2.5 -1.3 2.4 -1.2 3 0.1 1.9 -3.7 3.2 -8 -0.3 -0.6 0 -8.5 -0.2 -2.4 0.5 -4.6 0.4 -0.5 1.7 -1.9 2.3 -1.3 3.4 0.1 1.5 -2.6 4 6.3 1.8 4.1 -0.3 5.5 0.7 5.7 1.4 1.2 0.1 0.1 0.8 1.5 3M507.2 1552.9l-1.1 -2.2 -0.5 -1.5 -2.3 -0.5 -4.5 -1.1 -6.4 -0.7 -4.4 0.8 -3.3 -0.5 0.9 1.4 -1.7 3.8 -0.2 1.4 1.2 3.9 6.1 1.9M537.6 1540.3l-1.3 -3.1 -0.3 -0.6 -0.9 -0.2 -6 -1.4 -4.8 -0.4 -5.5 1.9 -1 3.2 0.2 2 0.4 2.1 4.3 1.1 2.3 0.6M566.4 1528.5l-1.2 -3.9 -7.4 -1.3 -0.6 -0.1 -1.5 0.9 -2.6 2 0.6 3.2 6.5 1.8M312.6 1606.8l2.5 -0.2 2.4 -1.8 1.2 -1.5 -0.3 -3.3 -6 -1.9 -1.3 -0.1 -6.8 1 -1.8 3.2 0.4 1.6 1.4 2 2.3 0.6 6 0.4M339.8 1595.6l0.8 0 7.9 -0.2 4.6 -2.5 1.9 -3.6 -0.1 -0.8 0.6 -3.8 -6.6 -1.6 -1.7 -0 -7.7 -0.5 -1.8 -0.5 -6.4 1.3 0.5 2.3 -1.1 3.1 -0 1.8 2.2 3.4 6.9 1.6M532.1 1516.3l6.9 -0 5.7 -1.8 2.5 -4 0.1 -0.5 -1 -3.9 -5.7 -2.1 -3.3 -0.4 -5.7 -0.3 -4.1 -0.8 -3.9 3 0.3 1 -1.1 4.2 -0.4 0.8 1.3 3.9 6.8 0.6 1.6 0.3M569.5 1500.8l3.9 -0.8 1 -1.2 0.8 -3.2 -0.4 -1.4 -3.3 -1.3 -2.8 -0.6 -6.1 0.2 -3.6 3.2 -0.2 0.7 1.9 3.6 5.9 1 2.9 -0.2M384 1568.6l0.1 0 6 -1.5 -0.4 -0.8 1.3 -4.3 0.1 -0.7 -1.5 -3.8 -6.4 -1.7 -1.1 -0.1 -8.1 0.1 -4.9 2.3 -2.1 4.3 -0.1 0.1 0.8 4 7 1.5 0.3 0 9 0.6M481.6 1528.3l1.4 0.4 4.3 -2.7 -0 -0 1.3 -4.8 0.1 -0.2 -0.9 -4 -7.1 -1.5 -0.2 0 -8.2 -0 -5.4 1.9 -2.2 4.2 -0.2 0.6 1.4 3.8 6.4 1.8 1.3 0.1 8 0.4M408.5 1554.1l4.7 0.4 6.8 -1 2.4 -4 0.1 -1.2 -1.5 -3.7 -6.4 -1.8 -1.9 -0.1 -7.3 0.6 -3.9 3.1 -0.8 2.1 1.3 3.9 6.5 1.7M440.9 1540.7l2.2 0.2 7.8 -0.2 3.6 -3.2 0.4 -2.6 -1.4 -3.8 -6.5 -1.7 -4.2 -0.1 -6.4 1.2 -3 3.7 -0.3 0.9 1.5 3.8 6.3 1.8M285.1 1591.8l0.8 0.1 7.4 -0.6 3.9 -3 0.8 -1.8 0.5 -3.1 1.6 -2.2 -5.6 -2.1 -1.9 0.2 -7.8 -0.6 -1.6 -0.2 -7.2 0.7 -1.3 3.7 -0.4 0.8 0 3.8 3.3 3 7.5 1.3M541.7 1486l3.4 0 6.5 -1.2 2.9 -3.7 0.1 -0.4 -0.4 -4.2 -4.6 -2.5 -6.7 -1 -1.6 0 -7 -0.3 -3.1 3.6 -0 0.9 -1 4.1 -0.8 1 2.3 3.4 4.4 -0.2 5.6 0.5M251.4 1602.2l7.2 -0.7 2.6 -3.9 0.1 -0.3 -1.7 -0.9 -3.6 -1.4 -6.1 0.4 -3.3 3.5M577.2 1462.5l-7.1 0.8 -2.2 3.1 1.6 2.2 1 1.1 0.6 0 7.8 -0.3 3.1 -3.6M321.3 1563.7l6.5 0.1 4.2 -2.8 0.2 -1.8 -0.3 -4.1 -0.1 -0.1 -0.6 -0.3 -4.4 -2 -7.4 -0.6 -5.3 1.4 -0.7 0.2 -0.1 0.1 -2.3 3.9 -0.7 1.8 2.7 3.2 6.3 0.9 2 0.1M356.9 1549l4.9 -1.7 0.1 -0.4 0.4 -4.5 -5.2 -2.2 -5.7 -0.1 -4.8 2.3 -1 2.5 2.7 3.3 8 1 0.6 -0.2M454.1 1508.9l0.7 0 4.3 -2.1 0.5 -0.2 0.2 -4.5 -5.2 -2.2 -4.7 -0.1 -5.4 1.9 -1.3 2.9 2.6 3.3 8.3 1M483.8 1496.7l3.2 0.3 6.1 -1.4 1.6 -3.4 0.3 -1.1 0.1 -3.4 -5.2 -2.3 -3.3 -0.1 -7.6 0.2 -0.3 0 -0.5 0.3 -3.8 2.4 -1 4 2.5 2.8 0.4 0.4 0.2 0.1 7.3 1.2M381.9 1534.3l3.1 0.5 7.1 -0.7 1.7 -4.6 0 -0.1 -0.5 -0.3 -5.1 -1.8 -5.3 0.3 -3.7 3.1 -0.1 0.4 2.8 3.2M414.3 1521l0.2 0 8.7 0.3 3.1 -3.5 -0.1 -1.7 -5 -2.3 -0.7 -0.1 -6.5 1.2 -1.9 2.6 1.9 3.2 0.3 0.3M229.4 1586.8l5.8 -0.7 1.1 -0.2 0.5 -0.5 2.5 -3.2 0.9 -2.6 -3.5 -2.9 -6.1 -0.5 -3.7 0.1 -3.9 0.2 -2.2 2.3 -1 1.3M550.4 1443.7l-2.5 0.2 -4.7 0.5 -1.4 2 -1.2 1.9 -0.6 3.3 4.3 2.6 4.9 0.2 6.4 -0.5 1 -0.1 0.6 -0.6 2.8 -2.8M265.4 1560.4l0.3 0 7.5 -0.4 2.8 -3.9 -0 -0.1 0 -4.4 -3.6 -2.9 -7.8 -1.1 -1 -0.2 -7.1 0.8 -3.3 3.5 -0.3 0.7 -0.8 4.3 -0.7 0.7 5 2.3 0.1 0 8.9 0.7M492.8 1466.7l0.1 0 7.6 -0.4 2.8 -3.8 0.1 -0.2 1 -4.8 0.1 -0 -2.9 -3.2 -1.5 0.2 -7.9 -0.7 -1.4 -0 -7 0.8 -3.3 3.5 -0 0.5 0 4.4 4.3 2.6 8 1.1M292.6 1544.8l8.2 0.1 4.2 -2.8 0.3 -2.5 -3.5 -3 -5.5 -0.6 -6.2 1.4 -1.8 4.4 -0.1 0.4 3.9 2.3 0.5 0.3M327.9 1530.2l1.4 0.1 5.6 -1.9 0.3 -1.2 -3.5 -3 -3.1 -0.2 -4.8 2.4 -0.3 1.2 4.4 2.6M363.7 1515.5l1.6 -0.2 0.3 -0.6 -3.3 -3 -2.1 -0 -1.6 1.5 5.1 2.3M395.2 1502.5l1.1 -0 0.8 -0.8 -2.8 -3.2 -3.1 0.4 -0.6 1.1 4.6 2.5M425.6 1490l2.3 0.1 4.8 -2.3 0.2 -0.8 -3.5 -3 -2.3 -0.1 -5.5 1.8 -0.4 1.7 4.4 2.6M455.4 1477.7l4.6 0.5 6.2 -1.4 1.9 -4.3 -0.3 -0.4 -3.2 -2.6 -0.7 -0.1 -8.4 -0.1 -4.2 2.8 -0.2 3 4.3 2.6M206.2 1570.5l4.1 -0.6 2.9 -0.3 0.8 -1.2 2.1 -2.5 1.4 -3.3 -1.4 -2.4 0.8 -1.8 -2.6 0.5 -7 -0.9 -2.7 -0.1 -7.3 0.6 -3.4 3.4M524.5 1425.6l-6.9 0.9 -3 3.7 -0.5 1.4 -0.2 3.8 -1.6 1.3 3.4 -0 3.9 1.4 6.5 0.1 5 -0.5 2.4 -0.1 1.2 -1.4 2.1 -2M235.1 1542.2l4.8 0.2 7.1 -0.8 3.1 -3.5 0.3 -2.2 -2.3 -3.5 -6.8 -1.6 -1.8 -0.1 -7 0.8 -3.4 3.4 -0.4 1.2 0.4 4.2 6 1.9M272 1527l3.2 -0.1 4.3 -2.7 0.1 -0.3 -2.1 -3.5 -4.9 -1.1 -5.9 1.1 -0.6 0.2 -0.1 0.1 -0.6 4.6 6.6 1.7M433.9 1460.2l0.6 0 6 -1.5 1 -1.6 -1.3 -3.9 -8.5 -0.9 -0.3 0 -0.4 0.3 -3.4 2.8 0.5 2.8 5.8 2M463 1448.2l4.1 0.4 7.1 -0.7 3.3 -3.5 0.8 -2.5 -1.8 -3.6 -7.5 -1.3 -2.3 -0.1 -7 0.8 -3.2 3.5 -0.2 1 1.1 3.9 5.6 2.1M300.6 1510.8l1.4 0.4 6.1 -1.5 -0.8 -1.7 -2.1 -0.3 -4.6 2.5 0 0.6M336.8 1495.9l0.8 0.1 -0.1 -0.4 -0.4 -0 -0.3 0.3M368 1483l0.6 0.1 0.1 -0.4 -0.6 0 -0.1 0.3M398.3 1470.5l2.8 0.8 4.3 -2.7 -0.4 -0.9 -1.1 -0.1 -5.6 1.8 0 1.1M169.1 1544.6l2.9 -2.7 0.4 -0.7 1.3 0 6.1 -0.6 5.7 0.1 3.9 0.9 6.9 -0.9 -0.5 -4.2 0.8 -1.4 0.4 -3.5 -0.8 -2.5 0.4 -1.7 -4.2 -1 -2.1 -0.8 -8.3 -1 -0.5 -0.1 -8 -0.8 -1.9 -3.6 1 -1.8 0.3 -3.1 -0.1 -2.5 1.2 -2.3 -4.5 -2.5 -3.6 0 -5.3 -0.8 -5.3 -0.9 -2.7 -0.1 -3.5 -3 0.4 -0.9 0.2 -3.7 0.2 -1.8 2.6 -3.8 -0.2 -0.2 0.6 0.1 6.2 -1.1 6.5 0.2 2.3 0.2 7.2 -0.8 3.1 -3.6 0 -1 0.7 -4.2 0.2 -0.6 -2.5 -3.3 -3.9 -0.4 -3.9 -0.8 -6.7 -0.9 -2.1 0.2 -5.6 -2.1 1.7 -2.3 -0.2 -2.7 0.7 -2.7 1.5 -2.6 -0.5 -2.4 6.4 -1.3 2 0.4 6.9 0.1 4.1 -0.2 4 0.1 4.1 -2.9 0 -0.6 1.5 -4.1 0.4 -1 -1.2 -3.9 -6.6 -1.7 -2.3 -0.2 -6.4 -0.6 -5.5 -1.9 -0.6 0 0.3 -0.2 -0.6 -4 0.6 -1.8 1.7 -3.6 0 -0.9 4.8 -2.4 2.7 0.2 5.6 -0.1 5.6 -0.1 3.3 0.6 5.7 -1.8 -0 -2.5 1.3 -2.4 1.2 -3 -0.1 -1.9 3.7 -3.2 8 0.3 0.6 -0 8.5 0.2 2.4 -0.5 4.6 -0.4 0.5 -1.7 1.9 -2.3 1.3 -3.4 -0.1 -1.5 2.6 -4 -6.3 -1.8 -4.1 0.3 -5.5 -0.7 -5.7 -1.4 -1.2 -0.1 -0.1 -0.8 -1.5 -3M223.3 1389.1l5 1.5 1.3 0.3 -0 0.6 1 3.3 -0.2 3.1 -1.5 2.1 1.6 3.7 7.8 -0.3 2.6 0.4 6.5 0.2 4.6 -0.4 3.3 0.2 1.8 -2.3 1.5 -1.1 1.8 -4.5 0.3 -0.3 1.5 -4.2 6.7 -1.1 3.4 0.5 5.8 0.2 4.6 -0.1 4.4 0.7 4.7 -2.5 -0.1 -1.9 1.5 -2.8 1.8 -2.9 0.2 -1.5 5.6 -1.8 1.7 0.2 6.9 0.1 3.3 0.1 7 1.3 0.5 -0 -0.2 0.2 2 3.4 -0.5 3.5 -0.2 1.2 1.3 3.8 6.6 1.7 2 0 7.8 0.3 1.1 0.2 6.2 -1.4 0.8 -2.1 1.4 -2.1 1.8 -3.6 -0.3 -1.1 3.9 -3 4.3 0.9 5 -0.1 5 0.3 4.8 0.8 4.6 -0.3 2.3 3.5 -0.8 1 -0.1 3.7 0.4 2.3 -0.3 2.1 5.3 2.2 1.1 -0 7.7 0.7 1.9 0.3 7.3 -0.7 3.1 -3.6 0.4 -1.2 1.2 -3.4 3.6 -3 -0.1 -0.3 0.5 0.2 7.4 -0.4 3.3 0.4 6.7 0.8 1.8 0 4.4 2.6 -0.5 1.4 0.3 3.1 0.1 2.9 -1 1.8 3.3 3.1 4.5 -0.1 4.5 0.7 5.6 0.7 3.6 -0.1 5.9 2 -0.6 4.3 0.1 0.3 -0.4 4.5 0.9 1.3 0.6 2.5 3.3 0.2 4.2 1.1 6.4 0.6 2.8 -0 7.3 1.4 3.4 -3.4 -0.5 -2.2 1.3 -3 2.7 -3 0.2 -0.7 1.4 -0 5.6 -0.8M212.9 1525l2.2 0.1 7 -0.9 3.3 -3.4 0.2 -1 -1.1 -4 -5.6 -2 -4.1 -0.5 -7.2 0.8 -3.2 3.5 -0.9 2.5 1.9 3.6 7.5 1.3M250.2 1509.6l0.3 -0 0.4 -0.3 3.4 -2.8 -0.5 -2.8 -5.8 -2 -0.6 -0 -6.1 1.5 -0.9 1.7 1.3 3.8 8.5 0.9M415.2 1441.6l0.6 -0.2 0.1 -0.1 0.6 -4.6 -6.6 -1.7 -3.2 0.1 -4.3 2.7 -0.1 0.3 2.2 3.5 4.9 1.1 5.8 -1.1M440.5 1431.2l1.8 0.2 7.1 -0.8 3.3 -3.5 0.5 -1.1 -0.4 -4.2 -6.1 -2 -4.7 -0.2 -7.1 0.8 -3.2 3.5 -0.3 2.3 2.3 3.4 6.8 1.6M277 1494.2l1.1 0.2 5.6 -1.8 -0 -1.2 -2.8 -0.8 -4.3 2.7 0.4 0.9M313.2 1479.3l0.7 -0 0 -0.3 -0.6 -0.1 -0.1 0.4M344.3 1466.4l0.5 0 0.2 -0.3 -0.8 -0.1 0.1 0.4M374.6 1454l2 0.3 4.7 -2.5 -0 -0.6 -1.5 -0.4 -6 1.5 0.8 1.7M157.4 1536.4l6.9 -0.9 3 -3.7 0.5 -1.4 0.2 -3.8 1.6 -1.3 -3.4 0 -3.9 -1.4 -6.5 -0.1 -5 0.5 -2.4 0.1 -1.2 1.4 -2.1 2M475.7 1391.5l-4.1 0.6 -2.9 0.3 -0.8 1.2 -2.1 2.5 -1.4 3.3 1.4 2.4 -0.8 1.8 2.6 -0.5 7 0.9 2.7 0.1 7.3 -0.6 3.4 -3.4M189.8 1508.2l1.3 0 7.1 -0.8 3.2 -3.5 0.1 -0.5 -0.1 -4.4 -4.3 -2.6 -7.9 -1.1 -0.2 -0 -7.6 0.4 -2.8 3.8 0 0.2 -1.1 4.8 -0 -0 2.8 3.2 1.6 -0.2 7.9 0.7M417.3 1414.4l1.1 0.1 7 -0.8 3.4 -3.4 0.2 -0.7 0.8 -4.3 0.8 -0.8 -5.1 -2.3 -0 0 -9 -0.6 -0.3 -0.1 -7.5 0.5 -2.7 3.8 -0 0.1 -0.1 4.4 3.6 2.9 7.8 1.2M217.2 1492.5l0.7 0.1 8.5 0.1 4.2 -2.8 0.2 -3 -4.4 -2.6 -4.6 -0.5 -6.1 1.4 -2 4.3 0.4 0.4 3.1 2.6M252.5 1478l2.3 0.2 5.5 -1.9 0.4 -1.7 -4.4 -2.6 -2.3 -0.1 -4.8 2.4 -0.2 0.8 3.5 2.9M287.6 1463.5l3.1 -0.4 0.6 -1.1 -4.6 -2.5 -1.1 0 -0.8 0.8 2.8 3.2M319.6 1450.3l2.1 -0 1.6 -1.5 -5.1 -2.3 -1.6 0.2 -0.3 0.6 3.3 3M350.1 1437.7l3.2 0.2 4.8 -2.4 0.2 -1.2 -4.4 -2.6 -1.4 -0.1 -5.5 1.9 -0.4 1.2 3.5 3M380.1 1425.4l5.5 0.7 6.1 -1.5 1.9 -4.4 0.1 -0.4 -3.9 -2.3 -0.5 -0.3 -8.3 -0.1 -4.2 2.8 -0.3 2.6 3.6 2.9M131.5 1518.3l2.5 -0.2 4.7 -0.5 1.4 -2 1.2 -1.9 0.6 -3.3 -4.3 -2.6 -4.9 -0.2 -6.4 0.5 -1 0.1 -0.6 0.6 -2.8 2.8M452.5 1375.2l-5.8 0.7 -1.1 0.2 -0.5 0.5 -2.5 3.2 -0.9 2.6 3.5 2.9 6.1 0.5 3.7 -0.1 3.9 -0.2 2.2 -2.3 1 -1.3M202.9 1476.5l0.3 -0 0.5 -0.3 3.8 -2.4 1 -4 -2.5 -2.8 -0.3 -0.4 -0.3 -0.1 -7.3 -1.2 -3.2 -0.3 -6.1 1.4 -1.6 3.4 -0.2 1.1 -0.2 3.4 5.2 2.3 3.3 0.1 7.6 -0.2M367.7 1408.5l0.7 -0.2 0.1 -0.1 2.3 -3.9 0.7 -1.8 -2.7 -3.2 -6.3 -0.9 -2 -0.1 -6.5 -0.1 -4.2 2.8 -0.2 1.8 0.4 4.1 -0 0.1 0.6 0.3 4.4 2 7.4 0.6 5.3 -1.4M227.3 1462.1l4.7 0.1 5.5 -1.9 1.2 -2.9 -2.6 -3.3 -8.3 -1 -0.7 -0 -4.3 2.1 -0.5 0.2 -0.2 4.5 5.2 2.2M260.8 1448.3l0.6 0 6.6 -1.1 1.9 -2.6 -1.9 -3.2 -0.3 -0.3 -0.3 -0.1 -8.6 -0.3 -3.2 3.6 0.1 1.7 5.1 2.3M293.7 1434.7l5.2 -0.3 3.8 -3.1 0.1 -0.3 -2.8 -3.3 -3.1 -0.5 -7.2 0.7 -1.7 4.6 0 0.1 0.6 0.3 5.1 1.8M324.8 1421.8l5.6 0.1 4.9 -2.3 0.9 -2.5 -2.6 -3.3 -8 -1 -0.6 0.2 -5 1.6 -0.1 0.4 -0.4 4.6 5.3 2.2M140.6 1489l6.9 0.3 3.2 -3.6 -0 -0.9 1 -4.1 0.8 -1 -2.3 -3.4 -4.4 0.3 -5.6 -0.6 -3.5 -0 -6.4 1.2 -2.9 3.7 -0.1 0.4 0.4 4.3 4.6 2.4 6.7 1 1.6 -0M397 1383.3l1.6 0.2 7.2 -0.7 1.3 -3.7 0.5 -0.8 -0.1 -3.7 -3.2 -3.1 -7.6 -1.3 -0.7 -0 -7.4 0.5 -3.9 3.1 -0.8 1.8 -0.5 3 -1.7 2.2 5.6 2.1 2 -0.2 7.7 0.6M104.7 1499.5l7.1 -0.8 2.2 -3.1 -1.6 -2.2 -1 -1.1 -0.6 -0 -7.8 0.3 -3.1 3.6M430.5 1359.8l-7.2 0.7 -2.6 3.9 -0.1 0.3 1.7 0.9 3.6 1.4 6.1 -0.4 3.3 -3.5M201.2 1446.5l0.1 -0 8.3 0 5.4 -1.9 2.2 -4.2 0.2 -0.6 -1.4 -3.8 -6.4 -1.7 -1.3 -0.2 -8 -0.4 -1.4 -0.4 -4.3 2.7 -0 0.1 -1.3 4.8 -0.1 0.1 0.9 4.1 7.1 1.4M234.9 1432.6l4.2 0.1 6.4 -1.2 3 -3.7 0.3 -0.9 -1.5 -3.8 -6.3 -1.8 -2.2 -0.2 -7.9 0.2 -3.6 3.2 -0.4 2.6 1.5 3.8 6.5 1.7M267.4 1419.2l1.8 0.1 7.4 -0.6 3.9 -3 0.8 -2.2 -1.3 -3.9 -6.5 -1.7 -4.7 -0.4 -6.8 1 -2.4 4 -0.2 1.2 1.6 3.8 6.4 1.7M298.8 1406.2l1.1 0 8.1 -0 4.9 -2.3 2.1 -4.3 0 -0.1 -0.7 -4.1 -7.1 -1.4 -0.3 -0.1 -8.9 -0.5 -0.1 -0 -6 1.5 0.4 0.8 -1.4 4.3 -0.1 0.7 1.5 3.8 6.5 1.7M150.3 1458.7l4.1 0.9 3.9 -3 -0.3 -1.1 1.1 -4.1 0.4 -0.9 -1.2 -3.9 -6.9 -0.6 -1.6 -0.3 -6.9 0.1 -5.7 1.7 -2.4 4.1 -0.1 0.4 1 4 5.6 2 3.3 0.5 5.7 0.2M342.4 1379.5l1.8 0.4 6.4 -1.2 -0.5 -2.4 1.1 -3 0 -1.8 -2.2 -3.5 -6.9 -1.5 -0.8 -0.1 -7.9 0.2 -4.6 2.5 -1.9 3.6 0.1 0.9 -0.6 3.7 6.6 1.7 1.7 0 7.7 0.5M113.1 1469.6l6.2 -0.1 3.5 -3.3 0.2 -0.7 -1.8 -3.6 -5.9 -1 -3 0.2 -3.8 0.8 -1.1 1.3 -0.8 3.2 0.4 1.3 3.4 1.3 2.7 0.6M369.5 1363.9l1.3 0.1 6.8 -1 1.8 -3.2 -0.4 -1.6 -1.4 -2 -2.3 -0.6 -6 -0.4 -2.5 0.2 -2.4 1.8 -1.2 1.5 0.3 3.3 6 1.9M174.7 1409.1l1.1 2.2 0.5 1.5 2.3 0.5 4.5 1.1 6.4 0.7 4.4 -0.8 3.3 0.5 -0.9 -1.4 1.7 -3.8 0.2 -1.4 -1.2 -3.9 -6.1 -1.9M238.6 1382.8l1.7 3.7 6.8 1.6 2.6 0.3 7.2 0 2.3 0.9 0 -1.8 2.6 -2.1 0.3 -3.5 -0.9 -2.7 -0.2 -1.3 -2.5 -0.6 -3.7 -1.2M115.5 1433.5l1.2 3.9 7.4 1.3 0.6 0.1 1.5 -0.9 2.6 -2 -0.6 -3.2 -6.5 -1.8M144.3 1421.7l1.3 3.1 0.3 0.6 0.9 0.2 6 1.4 4.8 0.4 5.5 -1.9 1 -3.2 -0.2 -2 -0.4 -2.1 -4.3 -1.1 -2.3 -0.6M272.5 1368.8l0.4 1.4 0.9 2.4 3.7 0.8 3.6 0.6 6 0.4 4.9 -2.4 0.4 -2.6 -0.9 -3.5 -0.1 -0.5 -1.1 -0.3 -5.2 -1.5M307.6 1354.3l1.4 3.8 5.8 1.2 4.1 -0.9 2 -0.6 0.1 -0.3 -0.5 -4.1 -6.7 -1.7" stroke="#0ebdbb" stroke-width="1.1" fill="none"/><path d="M302.9 1632.7l0.4 0 -0 -0.2 -0.3 0 -0.1 0.2M344.3 1620l-1.5 -3.8 -7 -1.5 -0.8 -0 -6.8 0.9 -1.5 2.9 -0.2 1.7 1 2.3 4.6 1.6 1.6 0.3M256 1605.4l6.7 -1.1 3.2 -3.4 0.8 -1.6 0.7 -3.2 4.1 -2.8 8.8 0.4 0.1 0 8.9 0.7 0.5 0.2 7.3 1 0 4.1 0.1 0.2 0 4.4 1.6 2.3 0.5 1.3 1.5 0.1 5.5 1.3 5.1 0.4 6 -0.5 1.5 0 1.1 -1.1 2.6 -2 2.2 -4.3 0.2 -0.2 2 -3.9 7.6 -0 0.6 -0.1 8.9 0.5 0.1 0 8.7 0.8 2.6 3.3 -1 3.2 0 1.6 1.5 3.8 5.9 1.9M391.2 1600.7l-4.2 -1.3 -4.4 0.5 2.2 -2 -0.9 -3 0.3 -3.2 0.2 -1.3 -2.8 -3.3 -5 -0.7 -2.9 -0.4 -6.2 -0.2 -5.9 1.6 -2.8 3.8 -0.5 1.1 -0.4 4 -3 1.8 5.4 -0.1 2.7 1.1 8.1 0.7 1 0 7.9 1.1 0.8 4.1M420.9 1588.4l-0.5 -0.1 -1.8 1.1M515.8 1549.3l-2.4 0.7 0.1 0.3M553.6 1533.7l-7.1 -1.5 0 -4.4 0.2 -0.5 1 -4.3 -1.4 -1.7 1.7 -2.8 -4.2 1.1 -7.1 -0.9 -2.2 0.1 -7.5 0.4 -4.5 2.7 -1.2 3.2 -0 1.7 -0.1 2.7 5.1 2.3 2.5 0.2 5.9 0.7 5.1 1.2 4.1 -0.6 -1.9 2.2 1.2 2.5M586.6 1469.1l-3.7 3.2 -7 0.8 -3 0 -5.9 -0.5 -6.2 1.4 -1.5 4.7 -0 0 -1 4.8 0.1 0.3 -0.1 4.1 7.4 1.1 0.4 0.1 7.9 1.1 3.8 1.4 2 0.6 -0.1 0.8 1 3.2 -0.7 2.7 -2.5 3 -0.3 0.8 -2.3 0.3 -4.3 0.9 -8.2 -0 -0.4 0 -7.7 0.1 -1.9 3.9 -0.3 0.3 -1.4 4.7 0 0.1 -0.9 4.7 5.4 2.2 6 0.3 2.8 0.4 6.4 1.8 2 3.6M600.7 1514.3l-0.1 -0.9 -1.6 -2.8 -3.9 -1.1 -3.2 -0.4 -5.5 0.1 -3.5 3.3 -0.1 0.4 0.9 4 6.4 1.8M623.2 1500.6l0.3 0 0.1 -0.2 -0.4 0 0 0.2M407.3 1585.3l0.8 0.2 5.8 -1.8 -0.2 -1 1.1 -4.1 0 -0.8 -2.8 -3.2 -3.8 -0.6 -4.4 -0.4 -4.3 0.1 -4.9 2.3 -1 1.8 -0.4 3 -0.3 1.6 5.4 2.2 0.5 0 8.5 0.7M443.7 1570.3l0.2 -0 0 -0.1 2.3 -4.1 0.1 -1.3 -2.9 -3.2 -4.7 -0.7 -3.9 -0.1 -3.9 0.4 -3.6 2.7 -0.3 0.3 0 4.2 5.1 2.3 5 0.5 6.6 -0.9M474.7 1557.5l0.2 0 0 -0.1 3.4 -3.2 0.3 -2.7 -2.7 -3.3 -7.6 -1 -0.6 0 -5.8 1.2 -1.7 1.9 -0.9 2.1 0.1 2.6 5.1 2.3 2.3 0.3 7.9 -0.1M504.9 1545l1.9 0.4 4.6 -2.6 -0.1 -0.4 1 -4.6 0.1 -0.3 -2.5 -3.3 -3.1 -0.3 -5.4 -0.6 -3.6 0 -5.4 2 -1.3 2.2 -0.3 2.4 0 2.1 5.1 2.3 1.5 0.2 7.5 0.5M277.6 1620.5l1.7 -0.1 5.2 -0.8 2.1 -2.2 0.7 -1.6 -0.1 -3 -6.2 -1.9 -0.7 0 -7.5 0.5 -3.3 3.4M600.1 1478.6l-7 0.8 -2.9 3.8 -0.1 0.4 1.8 3.7 5.3 0.8 3.2 0 4.3 -0.5 3 -2.5 0.5 -0.8M320 1594.9l3.9 0.6 -0.1 -2.2 1.9 -2.3 0.2 -2.9 -1.8 -3.7 -6.2 -1.8 -4.6 -0.3 -6.9 0.9 -3.5 3.3 -1.3 2.8 0.7 2.5 -1.2 2.1 4.1 -0 4.2 1 6.1 0.4 4.5 -0.4M547.4 1501.2l3.9 0.6 -0.1 -2.2 1.9 -2.2 0.8 -3.3 -0.7 -2.4 1.1 -2.1 -4 0 -4.3 -1 -5.4 -0 -6.9 0.9 -3.4 3.4 -0.6 2.4 1.6 3.7 6.2 1.9 5.2 0.7 4.7 -0.4M346.2 1579.8l4.6 0 4.2 -2.8 0.1 -0.9 -1.4 -3.8 -6.5 -1.7 -1.4 -0 -5.9 1.6 -1.5 2 0.2 2.8 0.4 1.4 2.3 0.6 4.9 0.8M508.3 1512.9l1.7 0.2 6.1 -1.5 1.1 -2.4 -0.2 -2.7 -0.4 -1.4 -2.4 -0.5 -5 -0.9 -4 0.3 -4.5 2.6 -0.2 0.7 1.4 3.9 6.4 1.7M374.2 1563.8l4.5 1 5.8 -1.6 -0.8 -3.3 -5.6 -1.2 -4.5 2.6 0.6 2.5M408.5 1549.7l5.9 -0.1 0.1 -2.4 -4.3 -0.5 -1.7 3M441 1536.3l4.4 0.6 1.6 -3.1 -5.9 0.1 -0.1 2.4M471.8 1523.6l5.6 1.3 4.6 -2.6 -0.7 -2.6 -4.4 -1 -5.8 1.7 0.7 3.2M241.6 1595.3l2.8 -3.8 8.1 -0 1 0.1 8.1 0.5 3.2 -0.8 5.2 0.9 -2 -2.2 1.6 -3.9 -0.1 -1.1 -0.8 -4.1 -4.9 -2.3 -6 -0.7 -3.1 0 -5.2 -0 -4.2 2.8 -0.4 1.3 -1.4 3.2 -2.3 2.7 1.2 2.2 -4 -1 -4.8 0.6M564.3 1453.5l-2.4 2.3 0.8 2.3 -3.7 -1.1 -5.5 0.5 -6 -0.2 -2.5 -0.1 -6.1 1.5 -1.3 2.7 -0.8 1.6 -0.4 3.3 3 3.1 7.1 1.5 2.1 0.3 7.3 0.2 3.4 1.6 -0.2 -2.9 2.2 -1.5 1.2 -4.3 0.1 -0.5 2.1 -4.3 7.6 -0.4M292.6 1575.5l2.6 -0.2 1 -1.3 1.5 -2.7 -0.3 -2.2 -5 -2.3 -1.3 -0.1 -7.1 0.7 -3.3 3.5 -0.4 0.9 2.8 3.2 4.4 0.7 5.1 -0.2M519.9 1481.8l2.5 -0.2 1.1 -1.3 1.6 -2.6 0 -2.4 -5.2 -2.3 -1.7 -0.1 -7 0.9 -3.2 3.4 -0.1 0.8 2.9 3.2 3.9 0.7 5.2 -0.1M320.1 1559.8l2.4 0.2 3.3 -2.6 -7.7 -0.5 2 2.9M482.3 1492.9l5.4 -1.1 0.3 -1.3 -4.7 -1.8 -1 4.2M234.3 1573.2l0.4 0 6.3 -1.3 0.5 -1.7 1.2 -2.9 -0.1 -1.9 -3.6 -2.9 -4.2 -0.7 -4.4 -0.2 -4 0.1 -4.3 2.7 -0.3 0.8 -1 4 -0.7 1.1 4.7 2.4 0.9 -0 8.6 0.5M527.2 1452.5l3.1 0.2 4.1 -2.9 0 -0.3 1.3 -4.6 0.3 -0.4 -3.2 -3.1 -2 0.1 -7.6 -0.5 -1.5 -0.1 -6 1.6 -1.1 2 -0.8 2.4 0.1 2.3 4.3 2.6 3.4 0.5 5.6 0.2M263.4 1556.9l4.8 -0.4 1.9 -2.4 -3.2 -3 -5.9 0.3 -2.4 3.1 4.8 2.4M490.8 1463.1l4.7 -0.4 2 -2.4 -3.1 -3.1 -6.1 0.5 -2.2 3 4.7 2.4M212.8 1575.1l-1.2 -1.3 -0.6 0.1M541.6 1437.6l-0.2 0.3 2 0.9M203.9 1555.1l5 0.1 6.1 -1.5 2.1 -4 -0.2 -0.4 -2.1 -3.1 -3.6 -0.8 -3.8 -0.5 -5 0.1 -4.3 2.7 -0.5 1.2 0.2 4.3 -0.1 0.1 0.3 -0 5.9 1.8M496.4 1434.5l7.8 -0 4.3 -2.8 1.1 -2.6 -1.7 -3.6 -0.1 -0.1 -0.1 -0 -7.6 -1.2 -2.4 -0 -6 1.5 -1.4 2.5 -0.2 2.2 0.7 2 5 1.9 0.6 0.2M236.3 1537.3l5.7 0.9 -0.1 -3.2 -4.5 -0 -1.1 2.3M463.7 1443.6l5.6 0.9 -0 -3.2 -4.5 -0 -1.1 2.3M181.8 1537.8l2.4 0 6 -1.5 1.4 -2.5 0.1 -2.2 -0.6 -2 -5 -1.9 -0.6 -0.2 -7.8 0 -4.3 2.8 -1.1 2.6 1.7 3.6 0.1 0.1 0.1 0 7.6 1.2M474.5 1417.2l5 -0.1 4.3 -2.7 0.5 -1.2 -0.2 -4.3 0.1 -0.1 -0.3 -0 -5.9 -1.8 -5 -0.2 -6.1 1.5 -2.1 4.1 0.2 0.3 2.1 3.2 3.6 0.8 3.8 0.5M212.7 1520.7l4.5 0 1.1 -2.3 -5.7 -0.9 0.1 3.2M440 1427l4.4 0 1.2 -2.3 -5.7 -0.8 0.1 3.1M158.7 1521.1l1.5 0 6 -1.5 1.1 -2.1 0.9 -2.3 -0.2 -2.3 -4.3 -2.7 -3.4 -0.5 -5.6 -0.1 -3 -0.2 -4.1 2.9 -0.1 0.2 -1.2 4.6 -0.4 0.5 3.3 3 2 -0 7.5 0.5M451.5 1400.3l4 -0 4.3 -2.8 0.3 -0.8 1 -4 0.7 -1 -4.7 -2.5 -0.9 0.1 -8.6 -0.6 -0.4 -0 -6.3 1.4 -0.5 1.6 -1.1 2.9 0 1.9 3.6 2.9 4.2 0.7 4.4 0.2M140.3 1524.4l0.2 -0.3 -2 -0.9M187.6 1504.7l6.1 -0.4 2.2 -3 -4.7 -2.5 -4.8 0.4 -1.9 2.4 3.1 3.1M415 1411l5.9 -0.4 2.4 -3 -4.8 -2.4 -4.8 0.4 -1.8 2.3 3.1 3.1M469.1 1386.9l1.2 1.3 0.6 -0.1M117.6 1508.5l2.4 -2.3 -0.8 -2.3 3.7 1.1 5.5 -0.5 6 0.2 2.5 0.1 6.1 -1.5 1.3 -2.7 0.8 -1.6 0.4 -3.3 -3 -3.1 -7.1 -1.5 -2.1 -0.3 -7.3 -0.2 -3.4 -1.6 0.2 2.9 -2.2 1.5 -1.2 4.3 -0.1 0.5 -2.1 4.3 -7.6 0.4M440.3 1366.7l-2.8 3.8 -8.1 0 -1 -0.1 -8.1 -0.5 -3.2 0.8 -5.2 -0.9 2 2.2 -1.6 3.9 0.1 1.1 0.8 4.1 4.9 2.3 6 0.7 3.1 -0 5.2 0 4.2 -2.8 0.4 -1.3 1.4 -3.2 2.3 -2.7 -1.2 -2.2 4 1 4.8 -0.6M161.9 1489l1.7 0.1 7 -0.8 3.3 -3.5 0.1 -0.8 -3 -3.2 -3.8 -0.7 -5.3 0.1 -2.5 0.2 -1 1.3 -1.6 2.6 -0.1 2.4 5.2 2.3M389.5 1395.2l1.4 0.1 7.1 -0.7 3.3 -3.5 0.3 -0.9 -2.7 -3.3 -4.5 -0.6 -5.1 0.2 -2.5 0.2 -1 1.3 -1.6 2.7 0.4 2.1 4.9 2.4M193.8 1471.5l4.7 1.8 1 -4.2 -5.4 1.1 -0.3 1.3M356.1 1404.6l7.8 0.5 -2.1 -2.9 -2.3 -0.1 -3.4 2.5M95.3 1492.9l3.7 -3.2 7 -0.8 3 -0 5.9 0.5 6.2 -1.4 1.5 -4.7 0 -0 1 -4.8 -0.1 -0.3 0.1 -4.1 -7.4 -1.1 -0.4 -0.1 -7.9 -1.1 -3.8 -1.4 -2 -0.6 0.1 -0.8 -1 -3.2 0.7 -2.7 2.5 -3 0.3 -0.8 2.3 -0.3 4.3 -0.9 8.2 0 0.4 -0 7.7 -0.1 1.9 -3.9 0.3 -0.3 1.4 -4.7 -0 -0.1 0.9 -4.7 -5.4 -2.2 -6 -0.3 -2.8 -0.4 -6.4 -1.8 -2 -3.6M319.9 1349.3l5.9 1.9 1.5 3.8 0 1.6 -0.9 3.2 2.5 3.3 8.8 0.8 0 0 9 0.5 0.5 -0 7.6 -0 2.1 -4 0.1 -0.2 2.2 -4.2 2.7 -2.1 1 -1.1 1.6 0.1 5.9 -0.6 5.1 0.4 5.5 1.3 1.5 0.2 0.5 1.2 1.6 2.3 -0 4.4 0.1 0.2 0 4.2 7.3 1 0.5 0.1 8.9 0.7 0.1 0 8.9 0.5 4 -2.9 0.7 -3.2 0.8 -1.5 3.3 -3.5 6.6 -1.1M135.9 1473.4l5.4 0.1 6.9 -1 3.4 -3.3 0.6 -2.5 -1.7 -3.7 -6.1 -1.9 -5.3 -0.7 -4.6 0.4 -3.9 -0.6 0 2.2 -1.9 2.3 -0.8 3.2 0.8 2.4 -1.1 2.2 4 -0.1 4.3 1M172.7 1458.2l4.1 -0.2 4.4 -2.7 0.3 -0.7 -1.5 -3.8 -6.4 -1.8 -1.6 -0.1 -6.1 1.4 -1.2 2.4 0.3 2.8 0.4 1.3 2.3 0.6 5 0.8M334.8 1391.4l1.4 0.1 5.9 -1.6 1.5 -2.1 -0.2 -2.8 -0.4 -1.4 -2.4 -0.5 -4.8 -0.9 -4.6 0 -4.2 2.8 -0.2 0.9 1.5 3.8 6.5 1.7M364 1379.4l4.6 0.3 6.9 -0.9 3.5 -3.3 1.3 -2.8 -0.7 -2.5 1.2 -2.1 -4.1 0 -4.2 -1 -6.1 -0.4 -4.5 0.4 -3.9 -0.6 0.1 2.2 -1.9 2.3 -0.2 2.9 1.8 3.7 6.2 1.8M200.6 1442.3l4.4 1 5.8 -1.7 -0.7 -3.2 -5.7 -1.3 -4.5 2.6 0.7 2.6M234.9 1428.2l5.9 -0.1 0.1 -2.4 -4.4 -0.6 -1.6 3.1M267.5 1414.8l4.3 0.6 1.7 -3.1 -6 0.1 0 2.4M298.2 1402.1l5.5 1.2 4.6 -2.6 -0.6 -2.5 -4.5 -1 -5.8 1.6 0.8 3.3M81.8 1483.4l7 -0.8 2.9 -3.8 0.1 -0.4 -1.8 -3.7 -5.3 -0.8 -3.2 -0 -4.3 0.5 -3 2.5 -0.5 0.8M404.3 1341.5l-1.7 0.1 -5.2 0.8 -2.1 2.2 -0.7 1.6 0.1 3 6.2 1.9 0.7 -0 7.5 -0.5 3.3 -3.4M128.3 1428.3l7.1 1.5 -0 4.4 -0.2 0.5 -1 4.3 1.4 1.7 -1.7 2.8 4.2 -1.1 7.1 0.9 2.2 -0.1 7.5 -0.4 4.5 -2.7 1.2 -3.2 0 -1.7 0.1 -2.7 -5.1 -2.3 -2.5 -0.2 -5.9 -0.7 -5.1 -1.2 -4.1 0.6 1.9 -2.2 -1.2 -2.5M180.5 1428.7l3.5 -0 5.5 -2 1.2 -2.2 0.4 -2.4 -0.1 -2.1 -5 -2.3 -1.5 -0.2 -7.5 -0.5 -2 -0.4 -4.6 2.6 0.1 0.4 -1 4.6 -0.1 0.3 2.6 3.3 3 0.3 5.5 0.6M214.2 1414.8l5.8 -1.2 1.7 -1.9 0.9 -2 -0.1 -2.7 -5.1 -2.3 -2.3 -0.3 -7.9 0.1 -0.2 0 -0.1 0.1 -3.4 3.2 -0.3 2.7 2.8 3.3 7.6 1.1 0.6 -0.1M247.2 1401.2l3.8 -0.4 3.7 -2.7 0.2 -0.3 0.1 -4.2 -5.2 -2.3 -4.9 -0.5 -6.6 0.9 -0.3 0 0 0.1 -2.2 4.1 -0.1 1.3 2.8 3.2 4.8 0.7 3.9 0.1M278.1 1388.5l4.4 -0.1 4.9 -2.3 0.9 -1.8 0.4 -3 0.3 -1.7 -5.4 -2.1 -0.4 -0.1 -8.6 -0.6 -0.8 -0.2 -5.8 1.7 0.2 1.1 -1 4.1 -0.1 0.8 2.8 3.2 3.9 0.6 4.3 0.4M290.7 1361.3l4.2 1.3 4.4 -0.5 -2.2 2 0.9 3 -0.3 3.2 -0.2 1.3 2.8 3.3 5 0.7 2.9 0.4 6.2 0.2 5.9 -1.6 2.8 -3.8 0.5 -1.1 0.4 -4 3 -1.8 -5.4 0.1 -2.7 -1.1 -8.1 -0.7 -1 -0 -7.9 -1.1 -0.8 -4.1M81.2 1447.7l0.1 0.9 1.6 2.8 3.9 1.1 3.2 0.4 5.5 -0.1 3.5 -3.3 0.1 -0.4 -0.9 -4 -6.4 -1.8M337.6 1342l1.5 3.8 7 1.5 0.8 0 6.8 -0.9 1.5 -2.9 0.2 -1.7 -1 -2.3 -4.6 -1.6 -1.6 -0.3M58.3 1461.5l0.3 0 0.1 -0.2 -0.3 -0 -0.1 0.2M378.6 1329.5l0.3 0 0.1 -0.2 -0.4 0 -0 0.2M166.1 1412.7l2.4 -0.7 -0.1 -0.3M261 1373.6l0.5 0.1 1.8 -1.1" stroke="#57cc7a" stroke-width="1.1" fill="none"/><path d="M293.5 1631.6l3.2 -3.5 7.6 -0.4 0.2 0 7.2 1.4 1.3 3.9M281.5 1623.2l3 -0.5 4 -0.3 1 -1.8 2 -1.9 2.3 -4.1 0.3 -0.2 3.5 -2.9 2.7 0.3 5.6 -0.3 4.8 0.4 5.3 1 2.8 0.1 2 3.2 0.2 0.2 0.2 4.3 0.9 2.2 0.1 1.8 3.7 0.8 2.7 1M354.9 1615.6l-2.6 -0.3 -0.2 1.5M582.3 1521.9l-2.6 -0.3 -0.2 1.5M612.1 1486.9l-1.7 1.4 -1.6 2 -3.4 0.1 -4 0.5 -8 0.1 -0.4 0.1 -6.1 1.1 -0.2 1.5 -1.9 2.8 -0.6 2.6 0.4 3 -0.6 1.5 5.4 1.9 0.3 0.1 7.7 1.3 3.6 1 3.3 0.5 0.5 2.1 1 1.7M624.1 1495.3l-7.2 0.7 -2.6 3.9 -0 0.1 0.6 4.1 6.6 1.7M343.1 1611.7l4.4 0.2 0.7 -2.3 1.5 -1.9 -0.1 -3.1 -2.9 -3.2 -7.4 -1.3 -0.5 -0 -6.8 0.9 -3.6 3.3 -0.2 0.4 -0.4 4.5 5.3 2.2 6.3 0.6 3.7 -0.3M570.4 1518l4.3 0.2 0.8 -2.3 1.5 -1.8 0.6 -3.5 -2.6 -3.3 -8.3 -0.9 -0.7 -0 -6.8 1 -3.5 3.3 -0.1 0.2 0.5 4.2 5 2.4 5.5 0.8 3.8 -0.3M369.8 1596.4l4.8 0.1 4.2 -2.8 0.1 -1 -2.8 -3.3 -4.3 -0.6 -6.3 1.3 -1.3 4.2 5.6 2.1M531.9 1529.5l1.8 0.2 6.2 -1.4 1.1 -2.5 -2.3 -3.5 -7.9 -0.4 -4 2.9 0 2.4 5.1 2.3M399.4 1579.8l1.6 0.7 6.5 -1.2 -1.6 -2.2 -1.7 -0.1 -4.8 2.4 0 0.4M435.7 1564.8l0.5 0.1 -0.2 -0.2 -0.2 -0 -0.1 0.1M466.8 1552l0.4 0.1 -0.1 -0.2 -0.3 -0 0 0.1M497 1539.5l3.5 1.4 3.8 -3.1 -0.8 -1 -0.8 -0 -5.6 1.8 -0.1 0.9M278.2 1607.8l6.4 0.3 6.1 -1.4 1.9 -4.5 -0 -0.3 -1.8 -3.7 -6.2 -1.8 -0.5 -0.1 -7.8 0.3 -4.4 2.7 -1.5 2.9 0.5 2.1 -0.4 2.3 4.3 0.4 3.4 0.8M317.9 1591.4l0.2 -0 0.1 -0.1 1 -4.8 -9 -0.7 -1.4 4.8 0 0.1 0.2 0.1 8.9 0.6M545.2 1497.7l0.2 -0 0.1 -0.1 1.1 -4.8 0 -0.1 -0.2 -0 -8.9 -0.6 -1.3 4.9 9 0.7M570.8 1487.1l0.7 0.1 8.5 0.2 4.1 -2.8 1.1 -3.4 -0.5 -2 0.3 -2.3 -4.2 -0.4 -3.6 -0.8 -5.7 0 -6 1.6 -2.5 4 -0 0.3 1.7 3.6 6.1 1.9M263.5 1610.6l0.5 -1.4 -2.6 -0.1M592 1472.9l-0.5 1.4 2.6 0.1M251.8 1587.9l4.7 0.6 6.4 -1.3 0.8 -4.2 -5.4 -2.2 -4.4 0.1 -4.3 2.7 -0.4 1 2.6 3.3M544.4 1467.3l7.8 0.7 3.9 -3 0.2 -2.6 -5.3 -2.2 -1.8 -0.1 -6.1 1.6 -1.2 2.2 2.5 3.4M234.2 1568.9l1.9 -0.4 0.2 -0.4 -3.5 -3 -1.6 -0.1 -2.7 1.9 5.7 2M524.6 1449.2l0.8 0 1.3 -0.8 -2.2 -3.5 -4.1 0.9 -0.3 0.9 4.5 2.5M207.8 1549.1l0.5 -0 -0 -0.2 -0.2 -0 -0.3 0.2M497.3 1429.7l0.3 0.1 0.2 -0.3 -0.5 0.1 0 0.1M184.1 1532.5l0.5 -0.1 -0 -0.1 -0.3 -0.1 -0.2 0.3M473.6 1413.1l0.2 0 0.3 -0.2 -0.6 0 0.1 0.2M157.4 1517.2l4.1 -0.9 0.3 -0.9 -4.5 -2.5 -0.8 -0.1 -1.3 0.9 2.2 3.5M449.1 1396.9l1.7 0.1 2.7 -1.9 -5.8 -2 -1.9 0.4 -0.1 0.4 3.4 3M130.8 1501.8l1.9 0 6 -1.5 1.2 -2.3 -2.5 -3.3 -7.7 -0.7 -4 3 -0.1 2.6 5.2 2.2M423.6 1381.1l4.4 -0 4.3 -2.8 0.4 -1 -2.6 -3.3 -4.7 -0.5 -6.4 1.2 -0.8 4.2 5.4 2.2M104.7 1486.3l5.7 -0 6 -1.6 2.5 -4 0 -0.3 -1.7 -3.6 -6.1 -1.9 -0.7 -0.1 -8.5 -0.2 -4.1 2.8 -1.1 3.4 0.5 2 -0.3 2.3 4.2 0.4 3.6 0.8M397.3 1365.6l0.5 0 7.8 -0.2 4.4 -2.7 1.5 -3 -0.5 -2 0.4 -2.3 -4.3 -0.4 -3.4 -0.8 -6.4 -0.4 -6.1 1.5 -1.9 4.4 0 0.4 1.9 3.6 6.1 1.9M89.9 1489.1l0.5 -1.4 -2.6 -0.1M135.3 1469.3l0.2 0 9 0.6 1.2 -4.9 -9 -0.7 -0.2 0 -0 0.1 -1.2 4.8 0 0.1M362.7 1375.5l9.1 0.6 1.3 -4.8 -0 -0.1 -0.2 -0 -8.9 -0.6 -0.2 -0 -0 0.1 -1.1 4.8M418.4 1351.4l-0.5 1.4 2.6 0.1M69.8 1475.1l1.7 -1.4 1.6 -2 3.4 -0.1 4 -0.5 8 -0.1 0.4 -0.1 6.1 -1.1 0.2 -1.5 1.9 -2.8 0.6 -2.6 -0.4 -3 0.6 -1.5 -5.4 -1.9 -0.3 -0.1 -7.7 -1.3 -3.6 -1 -3.3 -0.5 -0.5 -2.1 -1 -1.7M353.3 1335.5l2.7 0.9 3.7 0.9 0.1 1.8 0.9 2.1 0.2 4.3 0.2 0.3 2 3.2 2.8 0.1 5.2 1 4.9 0.3 5.6 -0.2 2.7 0.3 3.5 -2.9 0.3 -0.2 2.3 -4.1 1.9 -2 1.1 -1.7 3.9 -0.3 3.1 -0.5M115.2 1455.6l0.7 -0 6.8 -1 3.5 -3.3 0.1 -0.3 -0.5 -4.2 -5 -2.3 -5.5 -0.8 -3.8 0.3 -4.3 -0.2 -0.8 2.3 -1.5 1.8 -0.7 3.4 2.7 3.3 8.3 1M342.6 1361.8l0.5 0 6.8 -0.9 3.6 -3.3 0.2 -0.4 0.4 -4.5 -5.3 -2.2 -6.3 -0.6 -3.7 0.3 -4.4 -0.2 -0.7 2.3 -1.5 1.9 0.1 3.1 2.9 3.2 7.4 1.3M143.2 1439.7l7.8 0.4 4.1 -2.9 -0 -2.4 -5.1 -2.3 -1.9 -0.2 -6.1 1.4 -1.1 2.6 2.3 3.4M178.4 1425.2l0.8 0.1 5.5 -1.9 0.2 -0.9 -3.5 -1.4 -3.8 3.1 0.8 1M214.8 1410.2l0.3 -0 0 -0.1 -0.4 -0.2 0.1 0.3M245.9 1397.4l0.2 0 0.1 -0.1 -0.4 -0.1 0.1 0.2M276.1 1384.9l1.7 0.2 4.7 -2.4 0.1 -0.5 -1.7 -0.6 -6.5 1.1 1.7 2.2M305.9 1372.6l4.2 0.6 6.3 -1.3 1.4 -4.2 -5.6 -2.1 -4.8 -0.1 -4.2 2.9 -0.1 1 2.8 3.2M57.8 1466.7l7.2 -0.7 2.6 -3.9 0 -0.1 -0.6 -4.1 -6.6 -1.7M368.9 1329.1l1.3 3.8 7.3 1.4 0.1 0.1 7.6 -0.4 3.2 -3.5M99.6 1440.1l2.6 0.3 0.2 -1.5M327 1346.4l2.6 0.3 0.2 -1.5" stroke="#c3c22b" stroke-width="1.1" fill="none"/><path d="M301.8 1624.4l6.7 0.5 6.2 -1.4 1.6 -4.6 -0 -0.5 -3 -3.1 -3 -0.6 -5.3 -0.4 -3.2 0.2 -4.4 2.6 -0.3 0.4 -0.6 4.7 5.3 2.2M341.5 1608l0.4 -0 0.1 -0.2 -1.6 -3.7 -3.9 0.1 -1.3 2 6.3 1.8M568.8 1514.3l0.3 -0 0.2 -0.2 -1.6 -3.7 -3.9 0.1 -1.3 2 6.3 1.8M594.4 1503.7l0.8 0.1 8.7 0.4 4.1 -2.9 0.9 -3.6 -2.6 -3.3 -8.5 -0.9 -0.9 0.1 -5.9 1.6 -1.1 1.6 -0.7 2.8 0.3 1.7 4.9 2.4M277.8 1603.6l0.3 0.1 7 -0.9 -0.3 -2.1 -3.6 -0.7 -3.4 3.4 0 0.2M570.7 1482.8l3.7 0.7 3.3 -3.4 -0 -0.2 -0.3 -0.1 -7 0.9 0.3 2.1M104.2 1482.1l0.3 0.1 7 -0.9 -0.3 -2.1 -3.7 -0.7 -3.3 3.4 0 0.2M397.1 1361.3l3.6 0.7 3.4 -3.4 -0 -0.2 -0.3 -0.1 -7 0.9 0.3 2.1M84.1 1468.4l0.8 -0 5.9 -1.6 1.1 -1.6 0.7 -2.9 -0.2 -1.7 -4.9 -2.4 -0.8 -0.1 -8.7 -0.3 -4.1 2.8 -0.9 3.6 2.6 3.3 8.5 0.9M376.9 1347.7l3.2 -0.1 4.4 -2.7 0.2 -0.4 0.7 -4.7 -5.3 -2.2 -6.7 -0.4 -6.2 1.4 -1.6 4.5 -0 0.5 2.9 3.2 3 0.5 5.4 0.4M114.2 1451.6l3.9 -0.2 1.3 -1.9 -6.3 -1.8 -0.3 -0 -0.2 0.2 1.6 3.7M341.6 1357.9l3.8 -0.2 1.4 -1.9 -6.3 -1.8 -0.4 0 -0.1 0.2 1.6 3.7" stroke="#fec735" stroke-width="1.1" fill="none"/><path d="" stroke="#f8f818" stroke-width="1.1" fill="none"/><path d="M135.7 607.2L465.6 469.9" stroke="#4743e7" stroke-width="1.2"/><path d="M215.5 663.6L545.4 526.3" stroke="#4743e7" stroke-width="1.2"/><path d="M119.1 595.5L449 458.2" stroke="#4367fd" stroke-width="1.2"/><path d="M232.1 675.3L562 538" stroke="#4367fd" stroke-width="1.2"/><path d="M106.4 586.5L436.3 449.2" stroke="#2d8cf3" stroke-width="1.2"/><path d="M244.8 684.3L574.7 547" stroke="#2d8cf3" stroke-width="1.2"/><path d="M95.7 578.9L425.6 441.6" stroke="#1caadf" stroke-width="1.2"/><path d="M255.5 691.9L585.4 554.6" stroke="#1caadf" stroke-width="1.2"/><path d="M86.3 572.3L416.2 435" stroke="#12beb9" stroke-width="1.2"/><path d="M264.9 698.5L594.8 561.2" stroke="#12beb9" stroke-width="1.2"/><path d="M77.8 566.2L407.7 428.9" stroke="#48cb86" stroke-width="1.2"/><path d="M273.4 704.6L603.3 567.3" stroke="#48cb86" stroke-width="1.2"/><path d="M69.9 560.7L399.8 423.4" stroke="#9fc942" stroke-width="1.2"/><path d="M281.3 710.1L611.2 572.8" stroke="#9fc942" stroke-width="1.2"/><path d="M62.6 555.5L392.5 418.2" stroke="#eaba31" stroke-width="1.2"/><path d="M288.6 715.3L618.5 578" stroke="#eaba31" stroke-width="1.2"/><path d="M55.8 550.7L385.7 413.4" stroke="#fad42e" stroke-width="1.2"/><path d="M295.4 720.1L625.3 582.8" stroke="#fad42e" stroke-width="1.2"/><path d="M49.3 546.1L379.2 408.8" stroke="#f9fb15" stroke-width="1.2"/><path d="M301.9 724.7L631.8 587.4" stroke="#f9fb15" stroke-width="1.2"/><path fill="#484df0" d="M131.9 554.8L129.3 547.5L459.2 410.2L461.8 417.5Z" stroke="#484df0" stroke-width="0.6"/><path fill="#4849ed" d="M133.4 559.2L130.9 552.1L460.8 414.8L463.3 421.9Z" stroke="#4849ed" stroke-width="0.6"/><path fill="#4850f2" d="M130.3 550.2L127.8 542.7L457.7 405.4L460.2 412.9Z" stroke="#4850f2" stroke-width="0.6"/><path fill="#4746eb" d="M135 563.5L132.5 556.5L462.4 419.2L464.9 426.2Z" stroke="#4746eb" stroke-width="0.6"/><path fill="#4853f5" d="M128.7 545.6L126.2 537.9L456.1 400.6L458.6 408.3Z" stroke="#4853f5" stroke-width="0.6"/><path fill="#4744e8" d="M136.6 567.6L134.1 560.9L464 423.6L466.5 430.3Z" stroke="#4744e8" stroke-width="0.6"/><path fill="#4757f7" d="M127.1 540.8L124.6 532.9L454.5 395.6L457 403.5Z" stroke="#4757f7" stroke-width="0.6"/><path fill="#4741e5" d="M138.2 571.7L135.7 565.1L465.6 427.8L468.1 434.4Z" stroke="#4741e5" stroke-width="0.6"/><path fill="#475af9" d="M125.6 535.9L123 527.9L452.9 390.6L455.5 398.6Z" stroke="#475af9" stroke-width="0.6"/><path fill="#473ee1" d="M139.8 575.6L137.2 569.3L467.1 432L469.7 438.3Z" stroke="#473ee1" stroke-width="0.6"/><path fill="#465efb" d="M124 530.9L121.4 522.7L451.3 385.4L453.9 393.6Z" stroke="#465efb" stroke-width="0.6"/><path fill="#463cde" d="M141.3 579.4L138.8 573.2L468.7 435.9L471.2 442.1Z" stroke="#463cde" stroke-width="0.6"/><path fill="#4562fc" d="M122.4 525.8L119.9 517.3L449.8 380L452.3 388.5Z" stroke="#4562fc" stroke-width="0.6"/><path fill="#4639da" d="M142.9 583.1L140.4 577.1L470.3 439.8L472.8 445.8Z" stroke="#4639da" stroke-width="0.6"/><path fill="#4466fd" d="M120.8 520.5L118.3 511.9L448.2 374.6L450.7 383.2Z" stroke="#4466fd" stroke-width="0.6"/><path fill="#4537d6" d="M144.5 586.6L142 580.9L471.9 443.6L474.4 449.3Z" stroke="#4537d6" stroke-width="0.6"/><path fill="#426afe" d="M119.2 515.2L116.7 506.3L446.6 369L449.1 377.9Z" stroke="#426afe" stroke-width="0.6"/><path fill="#4536d3" d="M146.1 590.1L143.6 584.5L473.5 447.2L476 452.8Z" stroke="#4536d3" stroke-width="0.6"/><path fill="#3f6eff" d="M117.7 509.7L115.1 500.6L445 363.3L447.6 372.4Z" stroke="#3f6eff" stroke-width="0.6"/><path fill="#4434cf" d="M147.7 593.4L145.1 588L475 450.7L477.6 456.1Z" stroke="#4434cf" stroke-width="0.6"/><path fill="#3b73fe" d="M116.1 504.1L113.6 494.8L443.5 357.5L446 366.8Z" stroke="#3b73fe" stroke-width="0.6"/><path fill="#4433cb" d="M149.2 596.6L146.7 591.4L476.6 454.1L479.1 459.3Z" stroke="#4433cb" stroke-width="0.6"/><path fill="#3678fe" d="M114.5 498.3L112 488.9L441.9 351.6L444.4 361Z" stroke="#3678fe" stroke-width="0.6"/><path fill="#4331c7" d="M150.8 599.7L148.3 594.7L478.2 457.4L480.7 462.4Z" stroke="#4331c7" stroke-width="0.6"/><path fill="#327cfc" d="M112.9 492.5L110.4 482.8L440.3 345.5L442.8 355.2Z" stroke="#327cfc" stroke-width="0.6"/><path fill="#4230c4" d="M152.4 602.6L149.9 597.8L479.8 460.5L482.3 465.3Z" stroke="#4230c4" stroke-width="0.6"/><path fill="#2f81fa" d="M111.3 486.5L108.8 476.7L438.7 339.4L441.2 349.2Z" stroke="#2f81fa" stroke-width="0.6"/><path fill="#422fc0" d="M154 605.4L151.4 600.8L481.3 463.5L483.9 468.1Z" stroke="#422fc0" stroke-width="0.6"/><path fill="#2e86f8" d="M109.8 480.4L107.2 470.4L437.1 333.1L439.7 343.1Z" stroke="#2e86f8" stroke-width="0.6"/><path fill="#412dbd" d="M155.5 608.2L153 603.8L482.9 466.5L485.4 470.9Z" stroke="#412dbd" stroke-width="0.6"/><path fill="#2d8af4" d="M108.2 474.2L105.7 464L435.6 326.7L438.1 336.9Z" stroke="#2d8af4" stroke-width="0.6"/><path fill="#412cba" d="M157.1 610.7L154.6 606.5L484.5 469.2L487 473.4Z" stroke="#412cba" stroke-width="0.6"/><path fill="#2c8ff1" d="M106.6 467.8L104.1 457.4L434 320.1L436.5 330.5Z" stroke="#2c8ff1" stroke-width="0.6"/><path fill="#402bb8" d="M158.7 613.2L156.2 609.2L486.1 471.9L488.6 475.9Z" stroke="#402bb8" stroke-width="0.6"/><path fill="#2a93ed" d="M105 461.4L102.5 450.8L432.4 313.5L434.9 324.1Z" stroke="#2a93ed" stroke-width="0.6"/><path fill="#402ab5" d="M160.3 615.6L157.8 611.7L487.7 474.4L490.2 478.3Z" stroke="#402ab5" stroke-width="0.6"/><path fill="#2798ea" d="M103.5 454.8L100.9 444L430.8 306.7L433.4 317.5Z" stroke="#2798ea" stroke-width="0.6"/><path fill="#402ab3" d="M161.9 617.8L159.3 614.2L489.2 476.9L491.8 480.5Z" stroke="#402ab3" stroke-width="0.6"/><path fill="#259ce7" d="M101.9 448.1L99.3 437.1L429.2 299.8L431.8 310.8Z" stroke="#259ce7" stroke-width="0.6"/><path fill="#3f29b1" d="M163.4 619.9L160.9 616.5L490.8 479.2L493.3 482.6Z" stroke="#3f29b1" stroke-width="0.6"/><path fill="#23a1e4" d="M100.3 441.2L97.8 430.1L427.7 292.8L430.2 303.9Z" stroke="#23a1e4" stroke-width="0.6"/><path fill="#3f28af" d="M165 621.9L162.5 618.7L492.4 481.4L494.9 484.6Z" stroke="#3f28af" stroke-width="0.6"/><path fill="#1fa5e2" d="M98.7 434.3L96.2 422.9L426.1 285.6L428.6 297Z" stroke="#1fa5e2" stroke-width="0.6"/><path fill="#3f28ad" d="M166.6 623.8L164.1 620.7L494 483.4L496.5 486.5Z" stroke="#3f28ad" stroke-width="0.6"/><path fill="#1caadf" d="M97.1 427.2L94.6 415.7L424.5 278.4L427 289.9Z" stroke="#1caadf" stroke-width="0.6"/><path fill="#3e27ac" d="M168.2 625.5L165.7 622.6L495.6 485.3L498.1 488.2Z" stroke="#3e27ac" stroke-width="0.6"/><path fill="#18aedb" d="M95.6 420L93 408.3L422.9 271L425.5 282.7Z" stroke="#18aedb" stroke-width="0.6"/><path fill="#3e27ab" d="M169.8 627.1L167.2 624.5L497.1 487.2L499.7 489.8Z" stroke="#3e27ab" stroke-width="0.6"/><path fill="#10b2d5" d="M94 412.7L91.5 400.8L421.4 263.5L423.9 275.4Z" stroke="#10b2d5" stroke-width="0.6"/><path fill="#3e27aa" d="M171.3 628.6L168.8 626.2L498.7 488.9L501.2 491.3Z" stroke="#3e27aa" stroke-width="0.6"/><path fill="#06b5cf" d="M92.4 405.3L89.9 393.2L419.8 255.9L422.3 268Z" stroke="#06b5cf" stroke-width="0.6"/><path fill="#3e27a9" d="M172.9 630L170.4 627.7L500.3 490.4L502.8 492.7Z" stroke="#3e27a9" stroke-width="0.6"/><path fill="#01b8c8" d="M90.8 397.8L88.3 385.4L418.2 248.1L420.7 260.5Z" stroke="#01b8c8" stroke-width="0.6"/><path fill="#3e26a9" d="M174.5 631.3L172 629.2L501.9 491.9L504.4 494Z" stroke="#3e26a9" stroke-width="0.6"/><path fill="#05bbc1" d="M89.2 390.1L86.7 377.6L416.6 240.3L419.1 252.8Z" stroke="#05bbc1" stroke-width="0.6"/><path fill="#3e26a8" d="M176.1 632.4L173.5 630.5L503.4 493.2L506 495.1Z" stroke="#3e26a8" stroke-width="0.6"/><path fill="#11beba" d="M87.7 382.3L85.1 369.6L415 232.3L417.6 245Z" stroke="#11beba" stroke-width="0.6"/><path fill="#3e26a8" d="M177.7 633.4L175.1 631.7L505 494.4L507.6 496.1Z" stroke="#3e26a8" stroke-width="0.6"/><path fill="#1fc0b2" d="M86.1 374.4L83.6 361.5L413.5 224.2L416 237.1Z" stroke="#1fc0b2" stroke-width="0.6"/><path fill="#3e26a9" d="M179.2 634.3L176.7 632.8L506.6 495.5L509.1 497Z" stroke="#3e26a9" stroke-width="0.6"/><path fill="#29c3a9" d="M84.5 366.4L82 353.2L411.9 215.9L414.4 229.1Z" stroke="#29c3a9" stroke-width="0.6"/><path fill="#3e27a9" d="M180.8 635.1L178.3 633.8L508.2 496.5L510.7 497.8Z" stroke="#3e27a9" stroke-width="0.6"/><path fill="#31c5a1" d="M82.9 358.2L80.4 344.9L410.3 207.6L412.8 220.9Z" stroke="#31c5a1" stroke-width="0.6"/><path fill="#3e27aa" d="M182.4 635.8L179.9 634.7L509.8 497.4L512.3 498.5Z" stroke="#3e27aa" stroke-width="0.6"/><path fill="#37c897" d="M81.3 349.9L78.8 336.4L408.7 199.1L411.2 212.6Z" stroke="#37c897" stroke-width="0.6"/><path fill="#3e27ab" d="M184 636.3L181.4 635.4L511.3 498.1L513.9 499Z" stroke="#3e27ab" stroke-width="0.6"/><path fill="#42ca8c" d="M79.8 341.5L77.2 327.8L407.1 190.5L409.7 204.2Z" stroke="#42ca8c" stroke-width="0.6"/><path fill="#3e27ac" d="M185.5 636.7L183 636L512.9 498.7L515.4 499.4Z" stroke="#3e27ac" stroke-width="0.6"/><path fill="#50cc80" d="M78.2 333L75.7 319.1L405.6 181.8L408.1 195.7Z" stroke="#50cc80" stroke-width="0.6"/><path fill="#3f28ad" d="M187.1 637L184.6 636.5L514.5 499.2L517 499.7Z" stroke="#3f28ad" stroke-width="0.6"/><path fill="#60cd72" d="M76.6 324.4L74.1 310.3L404 173L406.5 187.1Z" stroke="#60cd72" stroke-width="0.6"/><path fill="#3f28af" d="M188.7 637.2L186.2 636.8L516.1 499.5L518.6 499.9Z" stroke="#3f28af" stroke-width="0.6"/><path fill="#71cd64" d="M75 315.6L72.5 301.3L402.4 164L404.9 178.3Z" stroke="#71cd64" stroke-width="0.6"/><path fill="#3f29b1" d="M190.3 637.2L187.8 637.1L517.7 499.8L520.2 499.9Z" stroke="#3f29b1" stroke-width="0.6"/><path fill="#84cc56" d="M73.5 306.7L70.9 292.3L400.8 155L403.4 169.4Z" stroke="#84cc56" stroke-width="0.6"/><path fill="#402ab3" d="M191.9 637.2L189.3 637.2L519.2 499.9L521.8 499.9Z" stroke="#402ab3" stroke-width="0.6"/><path fill="#97ca48" d="M71.9 297.7L69.4 283.1L399.3 145.8L401.8 160.4Z" stroke="#97ca48" stroke-width="0.6"/><path fill="#402ab5" d="M193.4 637L190.9 637.2L520.8 499.9L523.3 499.7Z" stroke="#402ab5" stroke-width="0.6"/><path fill="#a9c73a" d="M70.3 288.6L67.8 273.8L397.7 136.5L400.2 151.3Z" stroke="#a9c73a" stroke-width="0.6"/><path fill="#402bb8" d="M195 636.7L192.5 637.1L522.4 499.8L524.9 499.4Z" stroke="#402bb8" stroke-width="0.6"/><path fill="#bbc42f" d="M68.7 279.4L66.2 264.3L396.1 127L398.6 142.1Z" stroke="#bbc42f" stroke-width="0.6"/><path fill="#412cba" d="M196.6 636.2L194.1 636.9L524 499.6L526.5 498.9Z" stroke="#412cba" stroke-width="0.6"/><path fill="#ccc028" d="M67.1 270L64.6 254.8L394.5 117.5L397 132.7Z" stroke="#ccc028" stroke-width="0.6"/><path fill="#412dbd" d="M198.2 635.7L195.7 636.5L525.6 499.2L528.1 498.4Z" stroke="#412dbd" stroke-width="0.6"/><path fill="#dbbd29" d="M65.6 260.5L63 245.1L392.9 107.8L395.5 123.2Z" stroke="#dbbd29" stroke-width="0.6"/><path fill="#422fc0" d="M199.8 635L197.2 636L527.1 498.7L529.7 497.7Z" stroke="#422fc0" stroke-width="0.6"/><path fill="#e9bb30" d="M64 250.9L61.5 235.3L391.4 98L393.9 113.6Z" stroke="#e9bb30" stroke-width="0.6"/><path fill="#4230c4" d="M201.3 634.2L198.8 635.4L528.7 498.1L531.2 496.9Z" stroke="#4230c4" stroke-width="0.6"/><path fill="#f6ba3b" d="M62.4 241.2L59.9 225.4L389.8 88.1L392.3 103.9Z" stroke="#f6ba3b" stroke-width="0.6"/><path fill="#4331c7" d="M202.9 633.3L200.4 634.7L530.3 497.4L532.8 496Z" stroke="#4331c7" stroke-width="0.6"/><path fill="#febf3c" d="M60.8 231.3L58.3 215.3L388.2 78L390.7 94Z" stroke="#febf3c" stroke-width="0.6"/><path fill="#4433cb" d="M204.5 632.3L202 633.9L531.9 496.6L534.4 495Z" stroke="#4433cb" stroke-width="0.6"/><path fill="#fec735" d="M59.2 221.4L56.7 205.2L386.6 67.9L389.1 84.1Z" stroke="#fec735" stroke-width="0.6"/><path fill="#4434cf" d="M206.1 631.1L203.5 632.9L533.4 495.6L536 493.8Z" stroke="#4434cf" stroke-width="0.6"/><path fill="#fcd030" d="M57.7 211.3L55.1 194.9L385 57.6L387.6 74Z" stroke="#fcd030" stroke-width="0.6"/><path fill="#4536d3" d="M207.6 629.8L205.1 631.8L535 494.5L537.5 492.5Z" stroke="#4536d3" stroke-width="0.6"/><path fill="#f8da2b" d="M56.1 201.1L53.6 184.5L383.5 47.2L386 63.8Z" stroke="#f8da2b" stroke-width="0.6"/><path fill="#4537d6" d="M209.2 628.4L206.7 630.6L536.6 493.3L539.1 491.1Z" stroke="#4537d6" stroke-width="0.6"/><path fill="#f5e327" d="M54.5 190.7L52 173.9L381.9 36.6L384.4 53.4Z" stroke="#f5e327" stroke-width="0.6"/><path fill="#4639da" d="M210.8 626.9L208.3 629.3L538.2 492L540.7 489.6Z" stroke="#4639da" stroke-width="0.6"/><path fill="#f5ed22" d="M52.9 180.3L50.4 163.3L380.3 26L382.8 43Z" stroke="#f5ed22" stroke-width="0.6"/><path fill="#463cde" d="M212.4 625.3L209.9 627.8L539.8 490.5L542.3 488Z" stroke="#463cde" stroke-width="0.6"/><path fill="#f8f61a" d="M51.4 169.7L49.3 155.8L379.2 18.5L381.3 32.4Z" stroke="#f8f61a" stroke-width="0.6"/><path fill="#473ee1" d="M214 623.5L211.4 626.3L541.3 489L543.9 486.2Z" stroke="#473ee1" stroke-width="0.6"/><path fill="#4741e5" d="M215.5 621.6L213 624.6L542.9 487.3L545.4 484.3Z" stroke="#4741e5" stroke-width="0.6"/><path fill="#4744e8" d="M217.1 619.6L214.6 622.8L544.5 485.5L547 482.3Z" stroke="#4744e8" stroke-width="0.6"/><path fill="#4746eb" d="M218.7 617.5L216.2 620.8L546.1 483.5L548.6 480.2Z" stroke="#4746eb" stroke-width="0.6"/><path fill="#4849ed" d="M220.3 615.2L217.8 618.8L547.7 481.5L550.2 477.9Z" stroke="#4849ed" stroke-width="0.6"/><path fill="#484df0" d="M221.9 612.9L219.3 616.6L549.2 479.3L551.8 475.6Z" stroke="#484df0" stroke-width="0.6"/><path fill="#4850f2" d="M223.4 610.4L220.9 614.3L550.8 477L553.3 473.1Z" stroke="#4850f2" stroke-width="0.6"/><path fill="#4853f5" d="M225 607.8L222.5 611.9L552.4 474.6L554.9 470.5Z" stroke="#4853f5" stroke-width="0.6"/><path fill="#4757f7" d="M226.6 605L224.1 609.4L554 472.1L556.5 467.7Z" stroke="#4757f7" stroke-width="0.6"/><path fill="#475af9" d="M228.2 602.2L225.6 606.7L555.5 469.4L558.1 464.9Z" stroke="#475af9" stroke-width="0.6"/><path fill="#465efb" d="M229.8 599.2L227.2 603.9L557.1 466.6L559.7 461.9Z" stroke="#465efb" stroke-width="0.6"/><path fill="#4562fc" d="M231.3 596.1L228.8 601L558.7 463.7L561.2 458.8Z" stroke="#4562fc" stroke-width="0.6"/><path fill="#4466fd" d="M232.9 592.9L230.4 598L560.3 460.7L562.8 455.6Z" stroke="#4466fd" stroke-width="0.6"/><path fill="#426afe" d="M234.5 589.6L232 594.9L561.9 457.6L564.4 452.3Z" stroke="#426afe" stroke-width="0.6"/><path fill="#3f6eff" d="M236.1 586.1L233.5 591.6L563.4 454.3L566 448.8Z" stroke="#3f6eff" stroke-width="0.6"/><path fill="#3b73fe" d="M237.6 582.6L235.1 588.2L565 450.9L567.5 445.3Z" stroke="#3b73fe" stroke-width="0.6"/><path fill="#3678fe" d="M239.2 578.9L236.7 584.7L566.6 447.4L569.1 441.6Z" stroke="#3678fe" stroke-width="0.6"/><path fill="#327cfc" d="M240.8 575L238.3 581.1L568.2 443.8L570.7 437.7Z" stroke="#327cfc" stroke-width="0.6"/><path fill="#2f81fa" d="M242.4 571.1L239.9 577.3L569.8 440L572.3 433.8Z" stroke="#2f81fa" stroke-width="0.6"/><path fill="#2e86f8" d="M244 567L241.4 573.5L571.3 436.2L573.9 429.7Z" stroke="#2e86f8" stroke-width="0.6"/><path fill="#2d8af4" d="M245.5 562.9L243 569.5L572.9 432.2L575.4 425.6Z" stroke="#2d8af4" stroke-width="0.6"/><path fill="#2c8ff1" d="M247.1 558.6L244.6 565.4L574.5 428.1L577 421.3Z" stroke="#2c8ff1" stroke-width="0.6"/><path fill="#2a93ed" d="M248.7 554.1L246.2 561.2L576.1 423.9L578.6 416.8Z" stroke="#2a93ed" stroke-width="0.6"/><path fill="#2798ea" d="M250.3 549.6L247.7 556.8L577.6 419.5L580.2 412.3Z" stroke="#2798ea" stroke-width="0.6"/><path fill="#259ce7" d="M251.9 544.9L249.3 552.3L579.2 415L581.8 407.6Z" stroke="#259ce7" stroke-width="0.6"/><path fill="#23a1e4" d="M253.4 540.1L250.9 547.7L580.8 410.4L583.3 402.8Z" stroke="#23a1e4" stroke-width="0.6"/><path fill="#1fa5e2" d="M255 535.2L252.5 543L582.4 405.7L584.9 397.9Z" stroke="#1fa5e2" stroke-width="0.6"/><path fill="#1caadf" d="M256.6 530.2L254.1 538.2L584 400.9L586.5 392.9Z" stroke="#1caadf" stroke-width="0.6"/><path fill="#18aedb" d="M258.2 525.1L255.6 533.2L585.5 395.9L588.1 387.8Z" stroke="#18aedb" stroke-width="0.6"/><path fill="#10b2d5" d="M259.7 519.8L257.2 528.2L587.1 390.9L589.6 382.5Z" stroke="#10b2d5" stroke-width="0.6"/><path fill="#06b5cf" d="M261.3 514.4L258.8 523L588.7 385.7L591.2 377.1Z" stroke="#06b5cf" stroke-width="0.6"/><path fill="#01b8c8" d="M262.9 508.9L260.4 517.6L590.3 380.3L592.8 371.6Z" stroke="#01b8c8" stroke-width="0.6"/><path fill="#05bbc1" d="M264.5 503.3L262 512.2L591.9 374.9L594.4 366Z" stroke="#05bbc1" stroke-width="0.6"/><path fill="#11beba" d="M266.1 497.5L263.5 506.6L593.4 369.3L596 360.2Z" stroke="#11beba" stroke-width="0.6"/><path fill="#1fc0b2" d="M267.6 491.6L265.1 501L595 363.7L597.5 354.3Z" stroke="#1fc0b2" stroke-width="0.6"/><path fill="#29c3a9" d="M269.2 485.6L266.7 495.2L596.6 357.9L599.1 348.3Z" stroke="#29c3a9" stroke-width="0.6"/><path fill="#31c5a1" d="M270.8 479.5L268.3 489.2L598.2 351.9L600.7 342.2Z" stroke="#31c5a1" stroke-width="0.6"/><path fill="#37c897" d="M272.4 473.3L269.9 483.2L599.8 345.9L602.3 336Z" stroke="#37c897" stroke-width="0.6"/><path fill="#42ca8c" d="M274 466.9L271.4 477L601.3 339.7L603.9 329.6Z" stroke="#42ca8c" stroke-width="0.6"/><path fill="#50cc80" d="M275.5 460.4L273 470.8L602.9 333.5L605.4 323.1Z" stroke="#50cc80" stroke-width="0.6"/><path fill="#60cd72" d="M277.1 453.8L274.6 464.3L604.5 327L607 316.5Z" stroke="#60cd72" stroke-width="0.6"/><path fill="#71cd64" d="M278.7 447.1L276.2 457.8L606.1 320.5L608.6 309.8Z" stroke="#71cd64" stroke-width="0.6"/><path fill="#84cc56" d="M280.3 440.3L277.7 451.2L607.6 313.9L610.2 303Z" stroke="#84cc56" stroke-width="0.6"/><path fill="#97ca48" d="M281.8 433.3L279.3 444.4L609.2 307.1L611.7 296Z" stroke="#97ca48" stroke-width="0.6"/><path fill="#a9c73a" d="M283.4 426.2L280.9 437.5L610.8 300.2L613.3 288.9Z" stroke="#a9c73a" stroke-width="0.6"/><path fill="#bbc42f" d="M285 419L282.5 430.5L612.4 293.2L614.9 281.7Z" stroke="#bbc42f" stroke-width="0.6"/><path fill="#ccc028" d="M286.6 411.7L284.1 423.4L614 286.1L616.5 274.4Z" stroke="#ccc028" stroke-width="0.6"/><path fill="#dbbd29" d="M288.2 404.3L285.6 416.1L615.5 278.8L618.1 267Z" stroke="#dbbd29" stroke-width="0.6"/><path fill="#e9bb30" d="M289.7 396.7L287.2 408.7L617.1 271.4L619.6 259.4Z" stroke="#e9bb30" stroke-width="0.6"/><path fill="#f6ba3b" d="M291.3 389L288.8 401.2L618.7 263.9L621.2 251.7Z" stroke="#f6ba3b" stroke-width="0.6"/><path fill="#febf3c" d="M292.9 381.2L290.4 393.6L620.3 256.3L622.8 243.9Z" stroke="#febf3c" stroke-width="0.6"/><path fill="#fec735" d="M294.5 373.3L292 385.9L621.9 248.6L624.4 236Z" stroke="#fec735" stroke-width="0.6"/><path fill="#fcd030" d="M296.1 365.2L293.5 378L623.4 240.7L626 227.9Z" stroke="#fcd030" stroke-width="0.6"/><path fill="#f8da2b" d="M297.6 357L295.1 370.1L625 232.8L627.5 219.7Z" stroke="#f8da2b" stroke-width="0.6"/><path fill="#f5e327" d="M299.2 348.7L296.7 362L626.6 224.7L629.1 211.4Z" stroke="#f5e327" stroke-width="0.6"/><path fill="#f5ed22" d="M300.8 340.3L298.3 353.7L628.2 216.4L630.7 203Z" stroke="#f5ed22" stroke-width="0.6"/><path fill="#f8f61a" d="M301.9 334.4L299.8 345.4L629.7 208.1L631.8 197.1Z" stroke="#f8f61a" stroke-width="0.6"/><path fill="#82cc58" stroke="#82cc58" stroke-width=".5" d="M379.1 1085.4l-3 -21.1 3.9 -20.7 3 21.1Z"/><path fill="#97ca48" stroke="#97ca48" stroke-width=".5" d="M371 1052l-3 -21.1 8.1 33.4 3 21.1Z"/><path fill="#97ca48" stroke="#97ca48" stroke-width=".5" d="M385.2 1053l-6.2 32.4 3.9 -20.7 6.2 -32.4Z"/><path fill="#e1bc2b" stroke="#e1bc2b" stroke-width=".5" d="M362.9 1018l-3 -21.1 8.1 34 3 21.1Z"/><path fill="#aac739" stroke="#aac739" stroke-width=".5" d="M377.2 1019.6l-6.2 32.4 8.1 33.4 6.2 -32.4Z"/><path fill="#e1bc2b" stroke="#e1bc2b" stroke-width=".5" d="M391.4 1019.9l-6.2 33 3.9 -20.7 6.2 -33Z"/><path fill="#cec028" stroke="#cec028" stroke-width=".5" d="M354.9 1080.5l-3 -21.1 8.1 -62.5 3 21.1Z"/><path fill="#efba35" stroke="#efba35" stroke-width=".5" d="M369.1 985.6l-6.2 32.4 8.1 34 6.2 -32.4Z"/><path fill="#efba35" stroke="#efba35" stroke-width=".5" d="M383.3 986.5l-6.2 33 8.1 33.4 6.2 -33Z"/><path fill="#cec028" stroke="#cec028" stroke-width=".5" d="M397.6 1083.4l-6.2 -63.5 3.9 -20.7 6.2 63.5Z"/><path fill="#4dcc82" stroke="#4dcc82" stroke-width=".5" d="M346.8 1142.4l-3 -21.1 8.1 -61.9 3 21.1Z"/><path fill="#debd29" stroke="#debd29" stroke-width=".5" d="M361 1048.1l-6.2 32.4 8.1 -62.5 6.2 -32.4Z"/><path fill="#fad52e" stroke="#fad52e" stroke-width=".5" d="M375.3 952.5l-6.2 33 8.1 34 6.2 -33Z"/><path fill="#debd29" stroke="#debd29" stroke-width=".5" d="M389.5 1050l-6.2 -63.5 8.1 33.4 6.2 63.5Z"/><path fill="#3dc991" stroke="#3dc991" stroke-width=".5" d="M338.7 1106.6l-3 -21.1 8.1 35.8 3 21.1Z"/><path fill="#4dcc82" stroke="#4dcc82" stroke-width=".5" d="M403.7 1146.3l-6.2 -62.9 3.9 -20.7 6.2 62.9Z"/><path fill="#5fcd73" stroke="#5fcd73" stroke-width=".5" d="M353 1110l-6.2 32.4 8.1 -61.9 6.2 -32.4Z"/><path fill="#feca33" stroke="#feca33" stroke-width=".5" d="M367.2 1015.1l-6.2 33 8.1 -62.5 6.2 -33Z"/><path fill="#feca33" stroke="#feca33" stroke-width=".5" d="M381.4 1016l-6.2 -63.5 8.1 34 6.2 63.5Z"/><path fill="#90ca4d" stroke="#90ca4d" stroke-width=".5" d="M330.7 1070.1l-3 -21.1 8.1 36.4 3 21.1Z"/><path fill="#5fcd73" stroke="#5fcd73" stroke-width=".5" d="M395.7 1112.9l-6.2 -62.9 8.1 33.4 6.2 62.9Z"/><path fill="#4bcb83" stroke="#4bcb83" stroke-width=".5" d="M344.9 1074.1l-6.2 32.4 8.1 35.8 6.2 -32.4Z"/><path fill="#3dc991" stroke="#3dc991" stroke-width=".5" d="M409.9 1111.5l-6.2 34.8 3.9 -20.7 6.2 -34.8Z"/><path fill="#b4c534" stroke="#b4c534" stroke-width=".5" d="M359.1 1077l-6.2 33 8.1 -61.9 6.2 -33Z"/><path fill="#febf3b" stroke="#febf3b" stroke-width=".5" d="M373.4 1078.5l-6.2 -63.5 8.1 -62.5 6.2 63.5Z"/><path fill="#7ccc5c" stroke="#7ccc5c" stroke-width=".5" d="M322.6 1130.2l-3 -21.1 8.1 -60.1 3 21.1Z"/><path fill="#b4c534" stroke="#b4c534" stroke-width=".5" d="M387.6 1078.9l-6.2 -62.9 8.1 34 6.2 62.9Z"/><path fill="#a4c83e" stroke="#a4c83e" stroke-width=".5" d="M336.8 1037.7l-6.2 32.4 8.1 36.4 6.2 -32.4Z"/><path fill="#4bcb83" stroke="#4bcb83" stroke-width=".5" d="M401.8 1078.1l-6.2 34.8 8.1 33.4 6.2 -34.8Z"/><path fill="#9ec942" stroke="#9ec942" stroke-width=".5" d="M351.1 1041.1l-6.2 33 8.1 35.8 6.2 -33Z"/><path fill="#90ca4d" stroke="#90ca4d" stroke-width=".5" d="M416.1 1076l-6.2 35.4 3.9 -20.7 6.2 -35.4Z"/><path fill="#9bc944" stroke="#9bc944" stroke-width=".5" d="M365.3 1140.5l-6.2 -63.5 8.1 -61.9 6.2 63.5Z"/><path fill="#1fc1b1" stroke="#1fc1b1" stroke-width=".5" d="M314.5 1189.7l-3 -21.1 8.1 -59.5 3 21.1Z"/><path fill="#9bc944" stroke="#9bc944" stroke-width=".5" d="M379.5 1141.4l-6.2 -62.9 8.1 -62.5 6.2 62.9Z"/><path fill="#90ca4d" stroke="#90ca4d" stroke-width=".5" d="M328.8 1097.8l-6.2 32.4 8.1 -60.1 6.2 -32.4Z"/><path fill="#9ec942" stroke="#9ec942" stroke-width=".5" d="M393.8 1044.1l-6.2 34.8 8.1 34 6.2 -34.8Z"/><path fill="#eaba31" stroke="#eaba31" stroke-width=".5" d="M343 1004.7l-6.2 33 8.1 36.4 6.2 -33Z"/><path fill="#a4c83e" stroke="#a4c83e" stroke-width=".5" d="M408 1042.6l-6.2 35.4 8.1 33.4 6.2 -35.4Z"/><path fill="#85cb55" stroke="#85cb55" stroke-width=".5" d="M357.2 1104.6l-6.2 -63.5 8.1 35.8 6.2 63.5Z"/><path fill="#11beba" stroke="#11beba" stroke-width=".5" d="M306.4 1151.4l-3 -21.1 8.1 38.3 3 21.1Z"/><path fill="#7ccc5c" stroke="#7ccc5c" stroke-width=".5" d="M422.2 1137.1l-6.2 -61.1 3.9 -20.7 6.2 61.1Z"/><path fill="#2ec4a4" stroke="#2ec4a4" stroke-width=".5" d="M371.5 1203.3l-6.2 -62.9 8.1 -61.9 6.2 62.9Z"/><path fill="#2cc4a7" stroke="#2cc4a7" stroke-width=".5" d="M320.7 1157.3l-6.2 32.4 8.1 -59.5 6.2 -32.4Z"/><path fill="#85cb55" stroke="#85cb55" stroke-width=".5" d="M385.7 1106.6l-6.2 34.8 8.1 -62.5 6.2 -34.8Z"/><path fill="#ddbd29" stroke="#ddbd29" stroke-width=".5" d="M334.9 1064.8l-6.2 33 8.1 -60.1 6.2 -33Z"/><path fill="#eaba31" stroke="#eaba31" stroke-width=".5" d="M399.9 1008.6l-6.2 35.4 8.1 34 6.2 -35.4Z"/><path fill="#d8be28" stroke="#d8be28" stroke-width=".5" d="M349.2 1068.2l-6.2 -63.5 8.1 36.4 6.2 63.5Z"/><path fill="#4ccb83" stroke="#4ccb83" stroke-width=".5" d="M298.4 1112.6l-3 -21.1 8.1 38.9 3 21.1Z"/><path fill="#90ca4d" stroke="#90ca4d" stroke-width=".5" d="M414.2 1103.7l-6.2 -61.1 8.1 33.4 6.2 61.1Z"/><path fill="#22c1b0" stroke="#22c1b0" stroke-width=".5" d="M363.4 1167.5l-6.2 -62.9 8.1 35.8 6.2 62.9Z"/><path fill="#22c1b0" stroke="#22c1b0" stroke-width=".5" d="M312.6 1119l-6.2 32.4 8.1 38.3 6.2 -32.4Z"/><path fill="#1fc1b1" stroke="#1fc1b1" stroke-width=".5" d="M428.4 1197.6l-6.2 -60.5 3.9 -20.7 6.2 60.5Z"/><path fill="#22c1b0" stroke="#22c1b0" stroke-width=".5" d="M377.6 1168.5l-6.2 34.8 8.1 -61.9 6.2 -34.8Z"/><path fill="#63cd6f" stroke="#63cd6f" stroke-width=".5" d="M326.8 1124.3l-6.2 33 8.1 -59.5 6.2 -33Z"/><path fill="#d8be28" stroke="#d8be28" stroke-width=".5" d="M391.9 1071.2l-6.2 35.4 8.1 -62.5 6.2 -35.4Z"/><path fill="#c9c129" stroke="#c9c129" stroke-width=".5" d="M341.1 1128.3l-6.2 -63.5 8.1 -60.1 6.2 63.5Z"/><path fill="#41ca8c" stroke="#41ca8c" stroke-width=".5" d="M290.3 1170.2l-3 -21.1 8.1 -57.7 3 21.1Z"/><path fill="#ddbd29" stroke="#ddbd29" stroke-width=".5" d="M406.1 1069.7l-6.2 -61.1 8.1 34 6.2 61.1Z"/><path fill="#59cc78" stroke="#59cc78" stroke-width=".5" d="M355.3 1131.1l-6.2 -62.9 8.1 36.4 6.2 62.9Z"/><path fill="#5ecd74" stroke="#5ecd74" stroke-width=".5" d="M304.5 1080.2l-6.2 32.4 8.1 38.9 6.2 -32.4Z"/><path fill="#2cc4a7" stroke="#2cc4a7" stroke-width=".5" d="M420.3 1164.2l-6.2 -60.5 8.1 33.4 6.2 60.5Z"/><path fill="#0fbebb" stroke="#0fbebb" stroke-width=".5" d="M369.6 1132.7l-6.2 34.8 8.1 35.8 6.2 -34.8Z"/><path fill="#54cc7c" stroke="#54cc7c" stroke-width=".5" d="M318.8 1086l-6.2 33 8.1 38.3 6.2 -33Z"/><path fill="#11beba" stroke="#11beba" stroke-width=".5" d="M434.6 1160.3l-6.2 37.3 3.9 -20.7 6.2 -37.3Z"/><path fill="#59cc78" stroke="#59cc78" stroke-width=".5" d="M383.8 1133.1l-6.2 35.4 8.1 -61.9 6.2 -35.4Z"/><path fill="#4dcb82" stroke="#4dcb82" stroke-width=".5" d="M333 1187.8l-6.2 -63.5 8.1 -59.5 6.2 63.5Z"/><path fill="#04b6cd" stroke="#04b6cd" stroke-width=".5" d="M282.2 1227.3l-3 -21.1 8.1 -57 3 21.1Z"/><path fill="#c9c129" stroke="#c9c129" stroke-width=".5" d="M398 1132.2l-6.2 -61.1 8.1 -62.5 6.2 61.1Z"/><path fill="#48cb86" stroke="#48cb86" stroke-width=".5" d="M347.2 1191.2l-6.2 -62.9 8.1 -60.1 6.2 62.9Z"/><path fill="#52cc7e" stroke="#52cc7e" stroke-width=".5" d="M296.5 1137.8l-6.2 32.4 8.1 -57.7 6.2 -32.4Z"/><path fill="#63cd6f" stroke="#63cd6f" stroke-width=".5" d="M412.3 1130.2l-6.2 -60.5 8.1 34 6.2 60.5Z"/><path fill="#46cb88" stroke="#46cb88" stroke-width=".5" d="M361.5 1096.3l-6.2 34.8 8.1 36.4 6.2 -34.8Z"/><path fill="#b2c535" stroke="#b2c535" stroke-width=".5" d="M310.7 1047.1l-6.2 33 8.1 38.9 6.2 -33Z"/><path fill="#22c1b0" stroke="#22c1b0" stroke-width=".5" d="M426.5 1126.9l-6.2 37.3 8.1 33.4 6.2 -37.3Z"/><path fill="#46cb88" stroke="#46cb88" stroke-width=".5" d="M375.7 1097.2l-6.2 35.4 8.1 35.8 6.2 -35.4Z"/><path fill="#3fca8e" stroke="#3fca8e" stroke-width=".5" d="M324.9 1149.5l-6.2 -63.5 8.1 38.3 6.2 63.5Z"/><path fill="#0ab4d2" stroke="#0ab4d2" stroke-width=".5" d="M274.2 1186.6l-3 -21.1 8.1 40.7 3 21.1Z"/><path fill="#4ccb83" stroke="#4ccb83" stroke-width=".5" d="M440.7 1122.4l-6.2 37.9 3.9 -20.7 6.2 -37.9Z"/><path fill="#48cb86" stroke="#48cb86" stroke-width=".5" d="M390 1194.1l-6.2 -61.1 8.1 -61.9 6.2 61.1Z"/><path fill="#03b7cc" stroke="#03b7cc" stroke-width=".5" d="M339.2 1250.6l-6.2 -62.9 8.1 -59.5 6.2 62.9Z"/><path fill="#02bac4" stroke="#02bac4" stroke-width=".5" d="M288.4 1194.9l-6.2 32.4 8.1 -57 6.2 -32.4Z"/><path fill="#4dcb82" stroke="#4dcb82" stroke-width=".5" d="M404.2 1192.7l-6.2 -60.5 8.1 -62.5 6.2 60.5Z"/><path fill="#39c895" stroke="#39c895" stroke-width=".5" d="M353.4 1156.3l-6.2 34.8 8.1 -60.1 6.2 -34.8Z"/><path fill="#a5c83d" stroke="#a5c83d" stroke-width=".5" d="M302.6 1104.8l-6.2 33 8.1 -57.7 6.2 -33Z"/><path fill="#54cc7c" stroke="#54cc7c" stroke-width=".5" d="M418.4 1092.9l-6.2 37.3 8.1 34 6.2 -37.3Z"/><path fill="#9dc943" stroke="#9dc943" stroke-width=".5" d="M367.6 1060.8l-6.2 35.4 8.1 36.4 6.2 -35.4Z"/><path fill="#9ac945" stroke="#9ac945" stroke-width=".5" d="M316.9 1110.6l-6.2 -63.5 8.1 38.9 6.2 63.5Z"/><path fill="#30c5a1" stroke="#30c5a1" stroke-width=".5" d="M266.1 1145.3l-3 -21.1 8.1 41.3 3 21.1Z"/><path fill="#5ecd74" stroke="#5ecd74" stroke-width=".5" d="M432.7 1089l-6.2 37.9 8.1 33.4 6.2 -37.9Z"/><path fill="#39c895" stroke="#39c895" stroke-width=".5" d="M381.9 1158.3l-6.2 -61.1 8.1 35.8 6.2 61.1Z"/><path fill="#0cb3d3" stroke="#0cb3d3" stroke-width=".5" d="M331.1 1212.4l-6.2 -62.9 8.1 38.3 6.2 62.9Z"/><path fill="#01b8c9" stroke="#01b8c9" stroke-width=".5" d="M280.3 1154.2l-6.2 32.4 8.1 40.7 6.2 -32.4Z"/><path fill="#41ca8c" stroke="#41ca8c" stroke-width=".5" d="M446.9 1181.1l-6.2 -58.6 3.9 -20.7 6.2 58.6Z"/><path fill="#03b7cc" stroke="#03b7cc" stroke-width=".5" d="M396.1 1254.6l-6.2 -60.5 8.1 -61.9 6.2 60.5Z"/><path fill="#10b2d5" stroke="#10b2d5" stroke-width=".5" d="M345.3 1215.8l-6.2 34.8 8.1 -59.5 6.2 -34.8Z"/><path fill="#36c898" stroke="#36c898" stroke-width=".5" d="M294.6 1161.8l-6.2 33 8.1 -57 6.2 -33Z"/><path fill="#3fca8e" stroke="#3fca8e" stroke-width=".5" d="M410.4 1155.4l-6.2 37.3 8.1 -62.5 6.2 -37.3Z"/><path fill="#89cb52" stroke="#89cb52" stroke-width=".5" d="M359.6 1120.9l-6.2 35.4 8.1 -60.1 6.2 -35.4Z"/><path fill="#8ccb50" stroke="#8ccb50" stroke-width=".5" d="M308.8 1168.3l-6.2 -63.5 8.1 -57.7 6.2 63.5Z"/><path fill="#2dc4a5" stroke="#2dc4a5" stroke-width=".5" d="M258 1200.5l-3 -21.1 8.1 -55.2 3 21.1Z"/><path fill="#b2c535" stroke="#b2c535" stroke-width=".5" d="M424.6 1055l-6.2 37.9 8.1 34 6.2 -37.9Z"/><path fill="#89cb52" stroke="#89cb52" stroke-width=".5" d="M373.8 1121.9l-6.2 -61.1 8.1 36.4 6.2 61.1Z"/><path fill="#2dc4a5" stroke="#2dc4a5" stroke-width=".5" d="M323 1173.5l-6.2 -62.9 8.1 38.9 6.2 62.9Z"/><path fill="#39c895" stroke="#39c895" stroke-width=".5" d="M272.3 1112.9l-6.2 32.4 8.1 41.3 6.2 -32.4Z"/><path fill="#52cc7e" stroke="#52cc7e" stroke-width=".5" d="M438.8 1147.7l-6.2 -58.6 8.1 33.4 6.2 58.6Z"/><path fill="#10b2d5" stroke="#10b2d5" stroke-width=".5" d="M388 1218.8l-6.2 -60.5 8.1 35.8 6.2 60.5Z"/><path fill="#18addb" stroke="#18addb" stroke-width=".5" d="M337.3 1177.6l-6.2 34.8 8.1 38.3 6.2 -34.8Z"/><path fill="#32c69f" stroke="#32c69f" stroke-width=".5" d="M286.5 1121.2l-6.2 33 8.1 40.7 6.2 -33Z"/><path fill="#04b6cd" stroke="#04b6cd" stroke-width=".5" d="M453.1 1239.1l-6.2 -58 3.9 -20.7 6.2 58Z"/><path fill="#0cb3d3" stroke="#0cb3d3" stroke-width=".5" d="M402.3 1217.3l-6.2 37.3 8.1 -61.9 6.2 -37.3Z"/><path fill="#28c3ab" stroke="#28c3ab" stroke-width=".5" d="M351.5 1180.4l-6.2 35.4 8.1 -59.5 6.2 -35.4Z"/><path fill="#2cc4a6" stroke="#2cc4a6" stroke-width=".5" d="M300.7 1225.3l-6.2 -63.5 8.1 -57 6.2 63.5Z"/><path fill="#18addb" stroke="#18addb" stroke-width=".5" d="M249.9 1255.2l-3 -21.1 8.1 -54.6 3 21.1Z"/><path fill="#9ac945" stroke="#9ac945" stroke-width=".5" d="M416.5 1117.5l-6.2 37.9 8.1 -62.5 6.2 -37.9Z"/><path fill="#75cc61" stroke="#75cc61" stroke-width=".5" d="M365.7 1182l-6.2 -61.1 8.1 -60.1 6.2 61.1Z"/><path fill="#26c2ac" stroke="#26c2ac" stroke-width=".5" d="M315 1231.2l-6.2 -62.9 8.1 -57.7 6.2 62.9Z"/><path fill="#35c79a" stroke="#35c79a" stroke-width=".5" d="M264.2 1168.1l-6.2 32.4 8.1 -55.2 6.2 -32.4Z"/><path fill="#a5c83d" stroke="#a5c83d" stroke-width=".5" d="M430.8 1113.7l-6.2 -58.6 8.1 34 6.2 58.6Z"/><path fill="#28c3ab" stroke="#28c3ab" stroke-width=".5" d="M380 1182.3l-6.2 -60.5 8.1 36.4 6.2 60.5Z"/><path fill="#21c1b0" stroke="#21c1b0" stroke-width=".5" d="M329.2 1138.7l-6.2 34.8 8.1 38.9 6.2 -34.8Z"/><path fill="#84cc56" stroke="#84cc56" stroke-width=".5" d="M278.4 1079.9l-6.2 33 8.1 41.3 6.2 -33Z"/><path fill="#02bac4" stroke="#02bac4" stroke-width=".5" d="M445 1205.7l-6.2 -58 8.1 33.4 6.2 58Z"/><path fill="#18addb" stroke="#18addb" stroke-width=".5" d="M394.2 1181.5l-6.2 37.3 8.1 35.8 6.2 -37.3Z"/><path fill="#1dc0b3" stroke="#1dc0b3" stroke-width=".5" d="M343.4 1142.1l-6.2 35.4 8.1 38.3 6.2 -35.4Z"/><path fill="#26c2ac" stroke="#26c2ac" stroke-width=".5" d="M292.7 1184.7l-6.2 -63.5 8.1 40.7 6.2 63.5Z"/><path fill="#0ab4d2" stroke="#0ab4d2" stroke-width=".5" d="M459.2 1199.4l-6.2 39.7 3.9 -20.7 6.2 -39.7Z"/><path fill="#1aacdd" stroke="#1aacdd" stroke-width=".5" d="M241.9 1212l-3 -21.1 8.1 43.1 3 21.1Z"/><path fill="#2dc4a5" stroke="#2dc4a5" stroke-width=".5" d="M408.4 1179.5l-6.2 37.9 8.1 -61.9 6.2 -37.9Z"/><path fill="#1ac0b4" stroke="#1ac0b4" stroke-width=".5" d="M357.7 1241.4l-6.2 -61.1 8.1 -59.5 6.2 61.1Z"/><path fill="#1ea8e1" stroke="#1ea8e1" stroke-width=".5" d="M306.9 1288.2l-6.2 -62.9 8.1 -57 6.2 62.9Z"/><path fill="#0eb2d4" stroke="#0eb2d4" stroke-width=".5" d="M256.1 1222.7l-6.2 32.4 8.1 -54.6 6.2 -32.4Z"/><path fill="#8ccb50" stroke="#8ccb50" stroke-width=".5" d="M422.7 1176.2l-6.2 -58.6 8.1 -62.5 6.2 58.6Z"/><path fill="#1ac0b4" stroke="#1ac0b4" stroke-width=".5" d="M371.9 1242.4l-6.2 -60.5 8.1 -60.1 6.2 60.5Z"/><path fill="#15bfb7" stroke="#15bfb7" stroke-width=".5" d="M321.1 1196.4l-6.2 34.8 8.1 -57.7 6.2 -34.8Z"/><path fill="#7bcc5d" stroke="#7bcc5d" stroke-width=".5" d="M270.3 1135.1l-6.2 33 8.1 -55.2 6.2 -33Z"/><path fill="#36c898" stroke="#36c898" stroke-width=".5" d="M436.9 1171.7l-6.2 -58 8.1 34 6.2 58Z"/><path fill="#1dc0b3" stroke="#1dc0b3" stroke-width=".5" d="M386.1 1145.1l-6.2 37.3 8.1 36.4 6.2 -37.3Z"/><path fill="#58cc79" stroke="#58cc79" stroke-width=".5" d="M335.4 1103.3l-6.2 35.4 8.1 38.9 6.2 -35.4Z"/><path fill="#6acd6a" stroke="#6acd6a" stroke-width=".5" d="M284.6 1143.4l-6.2 -63.5 8.1 41.3 6.2 63.5Z"/><path fill="#01b8c9" stroke="#01b8c9" stroke-width=".5" d="M451.2 1166l-6.2 39.7 8.1 33.4 6.2 -39.7Z"/><path fill="#25c2ae" stroke="#25c2ae" stroke-width=".5" d="M233.8 1168.3l-3 -21.1 8.1 43.7 3 21.1Z"/><path fill="#21c1b0" stroke="#21c1b0" stroke-width=".5" d="M400.4 1143.6l-6.2 37.9 8.1 35.8 6.2 -37.9Z"/><path fill="#0bbdbd" stroke="#0bbdbd" stroke-width=".5" d="M349.6 1203.2l-6.2 -61.1 8.1 38.3 6.2 61.1Z"/><path fill="#20a4e3" stroke="#20a4e3" stroke-width=".5" d="M298.8 1247.6l-6.2 -62.9 8.1 40.7 6.2 62.9Z"/><path fill="#30c5a1" stroke="#30c5a1" stroke-width=".5" d="M465.4 1159.1l-6.2 40.3 3.9 -20.7 6.2 -40.3Z"/><path fill="#12b1d6" stroke="#12b1d6" stroke-width=".5" d="M248 1179.6l-6.2 32.4 8.1 43.1 6.2 -32.4Z"/><path fill="#26c2ac" stroke="#26c2ac" stroke-width=".5" d="M414.6 1238.1l-6.2 -58.6 8.1 -61.9 6.2 58.6Z"/><path fill="#23a0e5" stroke="#23a0e5" stroke-width=".5" d="M363.8 1301.9l-6.2 -60.5 8.1 -59.5 6.2 60.5Z"/><path fill="#23a0e5" stroke="#23a0e5" stroke-width=".5" d="M313.1 1253.4l-6.2 34.8 8.1 -57 6.2 -34.8Z"/><path fill="#26c2ac" stroke="#26c2ac" stroke-width=".5" d="M262.3 1189.7l-6.2 33 8.1 -54.6 6.2 -33Z"/><path fill="#2cc4a6" stroke="#2cc4a6" stroke-width=".5" d="M428.8 1234.2l-6.2 -58 8.1 -62.5 6.2 58Z"/><path fill="#0bbdbd" stroke="#0bbdbd" stroke-width=".5" d="M378.1 1205.2l-6.2 37.3 8.1 -60.1 6.2 -37.3Z"/><path fill="#4bcb83" stroke="#4bcb83" stroke-width=".5" d="M327.3 1160.9l-6.2 35.4 8.1 -57.7 6.2 -35.4Z"/><path fill="#62cd71" stroke="#62cd71" stroke-width=".5" d="M276.5 1198.6l-6.2 -63.5 8.1 -55.2 6.2 63.5Z"/><path fill="#32c69f" stroke="#32c69f" stroke-width=".5" d="M443.1 1132l-6.2 39.7 8.1 34 6.2 -39.7Z"/><path fill="#23c1af" stroke="#23c1af" stroke-width=".5" d="M225.7 1221.1l-3 -21.1 8.1 -52.8 3 21.1Z"/><path fill="#58cc79" stroke="#58cc79" stroke-width=".5" d="M392.3 1107.2l-6.2 37.9 8.1 36.4 6.2 -37.9Z"/><path fill="#47cb87" stroke="#47cb87" stroke-width=".5" d="M341.5 1164.3l-6.2 -61.1 8.1 38.9 6.2 61.1Z"/><path fill="#0bbdbd" stroke="#0bbdbd" stroke-width=".5" d="M290.7 1206.3l-6.2 -62.9 8.1 41.3 6.2 62.9Z"/><path fill="#39c895" stroke="#39c895" stroke-width=".5" d="M457.3 1125.7l-6.2 40.3 8.1 33.4 6.2 -40.3Z"/><path fill="#2fc5a3" stroke="#2fc5a3" stroke-width=".5" d="M240 1135.9l-6.2 32.4 8.1 43.7 6.2 -32.4Z"/><path fill="#15bfb7" stroke="#15bfb7" stroke-width=".5" d="M406.5 1202.3l-6.2 -58.6 8.1 35.8 6.2 58.6Z"/><path fill="#259be8" stroke="#259be8" stroke-width=".5" d="M355.8 1263.6l-6.2 -60.5 8.1 38.3 6.2 60.5Z"/><path fill="#259de7" stroke="#259de7" stroke-width=".5" d="M305 1212.7l-6.2 34.8 8.1 40.7 6.2 -34.8Z"/><path fill="#2dc4a5" stroke="#2dc4a5" stroke-width=".5" d="M471.6 1215.3l-6.2 -56.2 3.9 -20.7 6.2 56.2Z"/><path fill="#23c1af" stroke="#23c1af" stroke-width=".5" d="M254.2 1146.6l-6.2 33 8.1 43.1 6.2 -33Z"/><path fill="#1ea8e1" stroke="#1ea8e1" stroke-width=".5" d="M420.8 1296.1l-6.2 -58 8.1 -61.9 6.2 58Z"/><path fill="#259be8" stroke="#259be8" stroke-width=".5" d="M370 1264.6l-6.2 37.3 8.1 -59.5 6.2 -37.3Z"/><path fill="#01b9c7" stroke="#01b9c7" stroke-width=".5" d="M319.2 1218l-6.2 35.4 8.1 -57 6.2 -35.4Z"/><path fill="#13beb9" stroke="#13beb9" stroke-width=".5" d="M268.4 1253.2l-6.2 -63.5 8.1 -54.6 6.2 63.5Z"/><path fill="#26c2ac" stroke="#26c2ac" stroke-width=".5" d="M435 1194.5l-6.2 39.7 8.1 -62.5 6.2 -39.7Z"/><path fill="#1ca9e0" stroke="#1ca9e0" stroke-width=".5" d="M217.7 1273.3l-3 -21.1 8.1 -52.2 3 21.1Z"/><path fill="#47cb87" stroke="#47cb87" stroke-width=".5" d="M384.2 1167.3l-6.2 37.9 8.1 -60.1 6.2 -37.9Z"/><path fill="#3dc990" stroke="#3dc990" stroke-width=".5" d="M333.5 1222l-6.2 -61.1 8.1 -57.7 6.2 61.1Z"/><path fill="#05bbc1" stroke="#05bbc1" stroke-width=".5" d="M282.7 1261.5l-6.2 -62.9 8.1 -55.2 6.2 62.9Z"/><path fill="#84cc56" stroke="#84cc56" stroke-width=".5" d="M449.2 1091.7l-6.2 40.3 8.1 34 6.2 -40.3Z"/><path fill="#2dc4a5" stroke="#2dc4a5" stroke-width=".5" d="M231.9 1188.7l-6.2 32.4 8.1 -52.8 6.2 -32.4Z"/><path fill="#4bcb83" stroke="#4bcb83" stroke-width=".5" d="M398.5 1165.8l-6.2 -58.6 8.1 36.4 6.2 58.6Z"/><path fill="#03b7cc" stroke="#03b7cc" stroke-width=".5" d="M347.7 1224.8l-6.2 -60.5 8.1 38.9 6.2 60.5Z"/><path fill="#01b9c7" stroke="#01b9c7" stroke-width=".5" d="M296.9 1171.4l-6.2 34.8 8.1 41.3 6.2 -34.8Z"/><path fill="#35c79a" stroke="#35c79a" stroke-width=".5" d="M463.5 1181.9l-6.2 -56.2 8.1 33.4 6.2 56.2Z"/><path fill="#6acd6a" stroke="#6acd6a" stroke-width=".5" d="M246.1 1102.9l-6.2 33 8.1 43.7 6.2 -33Z"/><path fill="#23a0e5" stroke="#23a0e5" stroke-width=".5" d="M412.7 1260.3l-6.2 -58 8.1 35.8 6.2 58Z"/><path fill="#2895ec" stroke="#2895ec" stroke-width=".5" d="M361.9 1226.4l-6.2 37.3 8.1 38.3 6.2 -37.3Z"/><path fill="#03b7cc" stroke="#03b7cc" stroke-width=".5" d="M311.1 1177.3l-6.2 35.4 8.1 40.7 6.2 -35.4Z"/><path fill="#18addb" stroke="#18addb" stroke-width=".5" d="M477.7 1270.9l-6.2 -55.6 3.9 -20.7 6.2 55.6Z"/><path fill="#0dbdbb" stroke="#0dbdbb" stroke-width=".5" d="M260.4 1210.1l-6.2 -63.5 8.1 43.1 6.2 63.5Z"/><path fill="#20a4e3" stroke="#20a4e3" stroke-width=".5" d="M426.9 1256.4l-6.2 39.7 8.1 -61.9 6.2 -39.7Z"/><path fill="#1ca9e0" stroke="#1ca9e0" stroke-width=".5" d="M209.6 1227.8l-3 -21.1 8.1 45.5 3 21.1Z"/><path fill="#03b7cc" stroke="#03b7cc" stroke-width=".5" d="M376.2 1226.8l-6.2 37.9 8.1 -59.5 6.2 -37.9Z"/><path fill="#07b5d0" stroke="#07b5d0" stroke-width=".5" d="M325.4 1279l-6.2 -61.1 8.1 -57 6.2 61.1Z"/><path fill="#259ce7" stroke="#259ce7" stroke-width=".5" d="M274.6 1316.1l-6.2 -62.9 8.1 -54.6 6.2 62.9Z"/><path fill="#6acd6a" stroke="#6acd6a" stroke-width=".5" d="M441.2 1154.2l-6.2 40.3 8.1 -62.5 6.2 -40.3Z"/><path fill="#16afd9" stroke="#16afd9" stroke-width=".5" d="M223.8 1240.9l-6.2 32.4 8.1 -52.2 6.2 -32.4Z"/><path fill="#3dc990" stroke="#3dc990" stroke-width=".5" d="M390.4 1225.9l-6.2 -58.6 8.1 -60.1 6.2 58.6Z"/><path fill="#0bb3d2" stroke="#0bb3d2" stroke-width=".5" d="M339.6 1282.4l-6.2 -60.5 8.1 -57.7 6.2 60.5Z"/><path fill="#02b7cb" stroke="#02b7cb" stroke-width=".5" d="M288.8 1226.7l-6.2 34.8 8.1 -55.2 6.2 -34.8Z"/><path fill="#7bcc5d" stroke="#7bcc5d" stroke-width=".5" d="M455.4 1147.9l-6.2 -56.2 8.1 34 6.2 56.2Z"/><path fill="#67cd6c" stroke="#67cd6c" stroke-width=".5" d="M238.1 1155.7l-6.2 33 8.1 -52.8 6.2 -33Z"/><path fill="#01b9c7" stroke="#01b9c7" stroke-width=".5" d="M404.6 1223.9l-6.2 -58 8.1 36.4 6.2 58Z"/><path fill="#0db3d3" stroke="#0db3d3" stroke-width=".5" d="M353.9 1187.5l-6.2 37.3 8.1 38.9 6.2 -37.3Z"/><path fill="#36c799" stroke="#36c799" stroke-width=".5" d="M303.1 1136l-6.2 35.4 8.1 41.3 6.2 -35.4Z"/><path fill="#0eb2d4" stroke="#0eb2d4" stroke-width=".5" d="M469.6 1237.5l-6.2 -55.6 8.1 33.4 6.2 55.6Z"/><path fill="#53cc7d" stroke="#53cc7d" stroke-width=".5" d="M252.3 1166.4l-6.2 -63.5 8.1 43.7 6.2 63.5Z"/><path fill="#259de7" stroke="#259de7" stroke-width=".5" d="M418.9 1220.6l-6.2 39.7 8.1 35.8 6.2 -39.7Z"/><path fill="#23c1af" stroke="#23c1af" stroke-width=".5" d="M201.5 1181.6l-3 -21.1 8.1 46.1 3 21.1Z"/><path fill="#0db3d3" stroke="#0db3d3" stroke-width=".5" d="M368.1 1188.5l-6.2 37.9 8.1 38.3 6.2 -37.9Z"/><path fill="#0fb2d4" stroke="#0fb2d4" stroke-width=".5" d="M317.3 1238.3l-6.2 -61.1 8.1 40.7 6.2 61.1Z"/><path fill="#1aacdd" stroke="#1aacdd" stroke-width=".5" d="M483.9 1228.8l-6.2 42.1 3.9 -20.7 6.2 -42.1Z"/><path fill="#269ae9" stroke="#269ae9" stroke-width=".5" d="M266.5 1273l-6.2 -62.9 8.1 43.1 6.2 62.9Z"/><path fill="#0bbdbd" stroke="#0bbdbd" stroke-width=".5" d="M433.1 1216.1l-6.2 40.3 8.1 -61.9 6.2 -40.3Z"/><path fill="#16afd9" stroke="#16afd9" stroke-width=".5" d="M215.8 1195.4l-6.2 32.4 8.1 45.5 6.2 -32.4Z"/><path fill="#0bb3d2" stroke="#0bb3d2" stroke-width=".5" d="M382.3 1285.4l-6.2 -58.6 8.1 -59.5 6.2 58.6Z"/><path fill="#2d8cf3" stroke="#2d8cf3" stroke-width=".5" d="M331.5 1339.5l-6.2 -60.5 8.1 -57 6.2 60.5Z"/><path fill="#2994ed" stroke="#2994ed" stroke-width=".5" d="M280.8 1281.3l-6.2 34.8 8.1 -54.6 6.2 -34.8Z"/><path fill="#62cd71" stroke="#62cd71" stroke-width=".5" d="M447.3 1210.4l-6.2 -56.2 8.1 -62.5 6.2 56.2Z"/><path fill="#1dc0b3" stroke="#1dc0b3" stroke-width=".5" d="M230 1207.9l-6.2 33 8.1 -52.2 6.2 -33Z"/><path fill="#07b5d0" stroke="#07b5d0" stroke-width=".5" d="M396.6 1284l-6.2 -58 8.1 -60.1 6.2 58Z"/><path fill="#15afd9" stroke="#15afd9" stroke-width=".5" d="M345.8 1245.2l-6.2 37.3 8.1 -57.7 6.2 -37.3Z"/><path fill="#32c69e" stroke="#32c69e" stroke-width=".5" d="M295 1191.2l-6.2 35.4 8.1 -55.2 6.2 -35.4Z"/><path fill="#26c2ac" stroke="#26c2ac" stroke-width=".5" d="M461.6 1203.5l-6.2 -55.6 8.1 34 6.2 55.6Z"/><path fill="#50cc7f" stroke="#50cc7f" stroke-width=".5" d="M244.2 1219.2l-6.2 -63.5 8.1 -52.8 6.2 63.5Z"/><path fill="#03b7cc" stroke="#03b7cc" stroke-width=".5" d="M410.8 1184.2l-6.2 39.7 8.1 36.4 6.2 -39.7Z"/><path fill="#25c2ae" stroke="#25c2ae" stroke-width=".5" d="M193.4 1232l-3 -21.1 8.1 -50.4 3 21.1Z"/><path fill="#2dc4a6" stroke="#2dc4a6" stroke-width=".5" d="M360 1149.6l-6.2 37.9 8.1 38.9 6.2 -37.9Z"/><path fill="#2ec4a4" stroke="#2ec4a4" stroke-width=".5" d="M309.2 1197.1l-6.2 -61.1 8.1 41.3 6.2 61.1Z"/><path fill="#12b1d6" stroke="#12b1d6" stroke-width=".5" d="M475.8 1195.4l-6.2 42.1 8.1 33.4 6.2 -42.1Z"/><path fill="#01b8c8" stroke="#01b8c8" stroke-width=".5" d="M258.5 1229.3l-6.2 -62.9 8.1 43.7 6.2 62.9Z"/><path fill="#01b9c7" stroke="#01b9c7" stroke-width=".5" d="M425 1180.3l-6.2 40.3 8.1 35.8 6.2 -40.3Z"/><path fill="#2dc4a5" stroke="#2dc4a5" stroke-width=".5" d="M207.7 1149.2l-6.2 32.4 8.1 46.1 6.2 -32.4Z"/><path fill="#15afd9" stroke="#15afd9" stroke-width=".5" d="M374.3 1247.1l-6.2 -58.6 8.1 38.3 6.2 58.6Z"/><path fill="#2d88f6" stroke="#2d88f6" stroke-width=".5" d="M323.5 1298.8l-6.2 -60.5 8.1 40.7 6.2 60.5Z"/><path fill="#25c2ae" stroke="#25c2ae" stroke-width=".5" d="M490 1186.1l-6.2 42.7 3.9 -20.7 6.2 -42.7Z"/><path fill="#2a92ee" stroke="#2a92ee" stroke-width=".5" d="M272.7 1238.2l-6.2 34.8 8.1 43.1 6.2 -34.8Z"/><path fill="#05bbc1" stroke="#05bbc1" stroke-width=".5" d="M439.3 1272.3l-6.2 -56.2 8.1 -61.9 6.2 56.2Z"/><path fill="#1dc0b3" stroke="#1dc0b3" stroke-width=".5" d="M221.9 1162.4l-6.2 33 8.1 45.5 6.2 -33Z"/><path fill="#2d8cf3" stroke="#2d8cf3" stroke-width=".5" d="M388.5 1343.4l-6.2 -58 8.1 -59.5 6.2 58Z"/><path fill="#2e86f7" stroke="#2e86f7" stroke-width=".5" d="M337.7 1302.2l-6.2 37.3 8.1 -57 6.2 -37.3Z"/><path fill="#12b1d7" stroke="#12b1d7" stroke-width=".5" d="M286.9 1245.8l-6.2 35.4 8.1 -54.6 6.2 -35.4Z"/><path fill="#13beb9" stroke="#13beb9" stroke-width=".5" d="M453.5 1266l-6.2 -55.6 8.1 -62.5 6.2 55.6Z"/><path fill="#07bcbf" stroke="#07bcbf" stroke-width=".5" d="M236.2 1271.4l-6.2 -63.5 8.1 -52.2 6.2 63.5Z"/><path fill="#0fb2d4" stroke="#0fb2d4" stroke-width=".5" d="M402.7 1244.3l-6.2 39.7 8.1 -60.1 6.2 -39.7Z"/><path fill="#1aacdd" stroke="#1aacdd" stroke-width=".5" d="M185.4 1281.8l-3 -21.1 8.1 -49.8 3 21.1Z"/><path fill="#26c2ad" stroke="#26c2ad" stroke-width=".5" d="M351.9 1207.3l-6.2 37.9 8.1 -57.7 6.2 -37.9Z"/><path fill="#2ac3a9" stroke="#2ac3a9" stroke-width=".5" d="M301.2 1252.3l-6.2 -61.1 8.1 -55.2 6.2 61.1Z"/><path fill="#23c1af" stroke="#23c1af" stroke-width=".5" d="M467.7 1161.4l-6.2 42.1 8.1 34 6.2 -42.1Z"/><path fill="#01b8ca" stroke="#01b8ca" stroke-width=".5" d="M250.4 1282.1l-6.2 -62.9 8.1 -52.8 6.2 62.9Z"/><path fill="#36c799" stroke="#36c799" stroke-width=".5" d="M417 1143.9l-6.2 40.3 8.1 36.4 6.2 -40.3Z"/><path fill="#2fc5a3" stroke="#2fc5a3" stroke-width=".5" d="M199.6 1199.6l-6.2 32.4 8.1 -50.4 6.2 -32.4Z"/><path fill="#26c2ad" stroke="#26c2ad" stroke-width=".5" d="M366.2 1208.3l-6.2 -58.6 8.1 38.9 6.2 58.6Z"/><path fill="#1babde" stroke="#1babde" stroke-width=".5" d="M315.4 1257.5l-6.2 -60.5 8.1 41.3 6.2 60.5Z"/><path fill="#2fc5a3" stroke="#2fc5a3" stroke-width=".5" d="M482 1152.7l-6.2 42.7 8.1 33.4 6.2 -42.7Z"/><path fill="#0bb3d2" stroke="#0bb3d2" stroke-width=".5" d="M264.6 1194.5l-6.2 34.8 8.1 43.7 6.2 -34.8Z"/><path fill="#02b7cb" stroke="#02b7cb" stroke-width=".5" d="M431.2 1236.5l-6.2 -56.2 8.1 35.8 6.2 56.2Z"/><path fill="#67cd6c" stroke="#67cd6c" stroke-width=".5" d="M213.8 1116.2l-6.2 33 8.1 46.1 6.2 -33Z"/><path fill="#2e86f7" stroke="#2e86f7" stroke-width=".5" d="M380.4 1305.2l-6.2 -58 8.1 38.3 6.2 58Z"/><path fill="#2f82fa" stroke="#2f82fa" stroke-width=".5" d="M329.6 1261.5l-6.2 37.3 8.1 40.7 6.2 -37.3Z"/><path fill="#23c1af" stroke="#23c1af" stroke-width=".5" d="M496.2 1239.9l-6.2 -53.8 3.9 -20.7 6.2 53.8Z"/><path fill="#15afd9" stroke="#15afd9" stroke-width=".5" d="M278.9 1202.7l-6.2 35.4 8.1 43.1 6.2 -35.4Z"/><path fill="#259ce7" stroke="#259ce7" stroke-width=".5" d="M445.4 1327.9l-6.2 -55.6 8.1 -61.9 6.2 55.6Z"/><path fill="#07bcbf" stroke="#07bcbf" stroke-width=".5" d="M228.1 1225.9l-6.2 -63.5 8.1 45.5 6.2 63.5Z"/><path fill="#2d88f6" stroke="#2d88f6" stroke-width=".5" d="M394.7 1303.7l-6.2 39.7 8.1 -59.5 6.2 -39.7Z"/><path fill="#18addb" stroke="#18addb" stroke-width=".5" d="M177.3 1233.8l-3 -21.1 8.1 48 3 21.1Z"/><path fill="#1ea7e1" stroke="#1ea7e1" stroke-width=".5" d="M343.9 1264.3l-6.2 37.9 8.1 -57 6.2 -37.9Z"/><path fill="#1aabdd" stroke="#1aabdd" stroke-width=".5" d="M293.1 1306.9l-6.2 -61.1 8.1 -54.6 6.2 61.1Z"/><path fill="#0dbdbb" stroke="#0dbdbb" stroke-width=".5" d="M459.7 1223.9l-6.2 42.1 8.1 -62.5 6.2 -42.1Z"/><path fill="#2797eb" stroke="#2797eb" stroke-width=".5" d="M242.3 1334.3l-6.2 -62.9 8.1 -52.2 6.2 62.9Z"/><path fill="#2ec4a4" stroke="#2ec4a4" stroke-width=".5" d="M408.9 1204l-6.2 40.3 8.1 -60.1 6.2 -40.3Z"/><path fill="#12b1d6" stroke="#12b1d6" stroke-width=".5" d="M191.5 1249.4l-6.2 32.4 8.1 -49.8 6.2 -32.4Z"/><path fill="#1bc0b4" stroke="#1bc0b4" stroke-width=".5" d="M358.1 1265.9l-6.2 -58.6 8.1 -57.7 6.2 58.6Z"/><path fill="#1da8e0" stroke="#1da8e0" stroke-width=".5" d="M307.3 1312.7l-6.2 -60.5 8.1 -55.2 6.2 60.5Z"/><path fill="#6acd6a" stroke="#6acd6a" stroke-width=".5" d="M473.9 1118.7l-6.2 42.7 8.1 34 6.2 -42.7Z"/><path fill="#0db3d3" stroke="#0db3d3" stroke-width=".5" d="M256.6 1247.3l-6.2 34.8 8.1 -52.8 6.2 -34.8Z"/><path fill="#32c69e" stroke="#32c69e" stroke-width=".5" d="M423.1 1200.1l-6.2 -56.2 8.1 36.4 6.2 56.2Z"/><path fill="#6acd6a" stroke="#6acd6a" stroke-width=".5" d="M205.8 1166.6l-6.2 33 8.1 -50.4 6.2 -33Z"/><path fill="#1ea7e1" stroke="#1ea7e1" stroke-width=".5" d="M372.3 1266.3l-6.2 -58 8.1 38.9 6.2 58Z"/><path fill="#1fa5e2" stroke="#1fa5e2" stroke-width=".5" d="M321.6 1220.3l-6.2 37.3 8.1 41.3 6.2 -37.3Z"/><path fill="#2dc4a5" stroke="#2dc4a5" stroke-width=".5" d="M488.1 1206.5l-6.2 -53.8 8.1 33.4 6.2 53.8Z"/><path fill="#2cc4a7" stroke="#2cc4a7" stroke-width=".5" d="M270.8 1159l-6.2 35.4 8.1 43.7 6.2 -35.4Z"/><path fill="#2994ed" stroke="#2994ed" stroke-width=".5" d="M437.4 1292.1l-6.2 -55.6 8.1 35.8 6.2 55.6Z"/><path fill="#50cc7f" stroke="#50cc7f" stroke-width=".5" d="M220 1179.7l-6.2 -63.5 8.1 46.1 6.2 63.5Z"/><path fill="#2f82fa" stroke="#2f82fa" stroke-width=".5" d="M386.6 1265.5l-6.2 39.7 8.1 38.3 6.2 -39.7Z"/><path fill="#2dc4a5" stroke="#2dc4a5" stroke-width=".5" d="M169.2 1185.2l-3 -21.1 8.1 48.6 3 21.1Z"/><path fill="#21a4e3" stroke="#21a4e3" stroke-width=".5" d="M335.8 1223.7l-6.2 37.9 8.1 40.7 6.2 -37.9Z"/><path fill="#1ca9e0" stroke="#1ca9e0" stroke-width=".5" d="M502.4 1293l-6.2 -53.2 3.9 -20.7 6.2 53.2Z"/><path fill="#1caadf" stroke="#1caadf" stroke-width=".5" d="M285 1263.8l-6.2 -61.1 8.1 43.1 6.2 61.1Z"/><path fill="#269ae9" stroke="#269ae9" stroke-width=".5" d="M451.6 1285.8l-6.2 42.1 8.1 -61.9 6.2 -42.1Z"/><path fill="#2797eb" stroke="#2797eb" stroke-width=".5" d="M234.2 1288.7l-6.2 -62.9 8.1 45.5 6.2 62.9Z"/><path fill="#1babde" stroke="#1babde" stroke-width=".5" d="M400.8 1263.4l-6.2 40.3 8.1 -59.5 6.2 -40.3Z"/><path fill="#0eb2d4" stroke="#0eb2d4" stroke-width=".5" d="M183.5 1201.4l-6.2 32.4 8.1 48 6.2 -32.4Z"/><path fill="#21a3e4" stroke="#21a3e4" stroke-width=".5" d="M350 1323l-6.2 -58.6 8.1 -57 6.2 58.6Z"/><path fill="#317efb" stroke="#317efb" stroke-width=".5" d="M299.3 1367.4l-6.2 -60.5 8.1 -54.6 6.2 60.5Z"/><path fill="#53cc7d" stroke="#53cc7d" stroke-width=".5" d="M465.8 1181.2l-6.2 42.7 8.1 -62.5 6.2 -42.7Z"/><path fill="#2c8ff0" stroke="#2c8ff0" stroke-width=".5" d="M248.5 1299.4l-6.2 34.8 8.1 -52.2 6.2 -34.8Z"/><path fill="#2ac3a9" stroke="#2ac3a9" stroke-width=".5" d="M415.1 1260.2l-6.2 -56.2 8.1 -60.1 6.2 56.2Z"/><path fill="#23c1af" stroke="#23c1af" stroke-width=".5" d="M197.7 1216.3l-6.2 33 8.1 -49.8 6.2 -33Z"/><path fill="#21a3e4" stroke="#21a3e4" stroke-width=".5" d="M364.3 1324l-6.2 -58 8.1 -57.7 6.2 58Z"/><path fill="#21a3e4" stroke="#21a3e4" stroke-width=".5" d="M313.5 1275.5l-6.2 37.3 8.1 -55.2 6.2 -37.3Z"/><path fill="#67cd6c" stroke="#67cd6c" stroke-width=".5" d="M480.1 1172.5l-6.2 -53.8 8.1 34 6.2 53.8Z"/><path fill="#2ac3a9" stroke="#2ac3a9" stroke-width=".5" d="M262.7 1211.8l-6.2 35.4 8.1 -52.8 6.2 -35.4Z"/><path fill="#12b1d7" stroke="#12b1d7" stroke-width=".5" d="M429.3 1255.7l-6.2 -55.6 8.1 36.4 6.2 55.6Z"/><path fill="#53cc7d" stroke="#53cc7d" stroke-width=".5" d="M211.9 1230.1l-6.2 -63.5 8.1 -50.4 6.2 63.5Z"/><path fill="#21a4e3" stroke="#21a4e3" stroke-width=".5" d="M378.5 1226.6l-6.2 39.7 8.1 38.9 6.2 -39.7Z"/><path fill="#30c5a1" stroke="#30c5a1" stroke-width=".5" d="M161.2 1233.2l-3 -21.1 8.1 -47.9 3 21.1Z"/><path fill="#0abdbd" stroke="#0abdbd" stroke-width=".5" d="M327.7 1182.4l-6.2 37.9 8.1 41.3 6.2 -37.9Z"/><path fill="#16afd9" stroke="#16afd9" stroke-width=".5" d="M494.3 1259.7l-6.2 -53.2 8.1 33.4 6.2 53.2Z"/><path fill="#20c1b1" stroke="#20c1b1" stroke-width=".5" d="M277 1220.1l-6.2 -61.1 8.1 43.7 6.2 61.1Z"/><path fill="#2a92ee" stroke="#2a92ee" stroke-width=".5" d="M443.5 1250l-6.2 42.1 8.1 35.8 6.2 -42.1Z"/><path fill="#01b8ca" stroke="#01b8ca" stroke-width=".5" d="M226.2 1242.6l-6.2 -62.9 8.1 46.1 6.2 62.9Z"/><path fill="#1fa5e2" stroke="#1fa5e2" stroke-width=".5" d="M392.7 1225.2l-6.2 40.3 8.1 38.3 6.2 -40.3Z"/><path fill="#35c79a" stroke="#35c79a" stroke-width=".5" d="M175.4 1152.8l-6.2 32.4 8.1 48.6 6.2 -32.4Z"/><path fill="#249fe5" stroke="#249fe5" stroke-width=".5" d="M342 1282.3l-6.2 -58.6 8.1 40.7 6.2 58.6Z"/><path fill="#1ca9e0" stroke="#1ca9e0" stroke-width=".5" d="M508.5 1248.5l-6.2 44.5 3.9 -20.7 6.2 -44.5Z"/><path fill="#327cfc" stroke="#327cfc" stroke-width=".5" d="M291.2 1324.3l-6.2 -60.5 8.1 43.1 6.2 60.5Z"/><path fill="#01b8c8" stroke="#01b8c8" stroke-width=".5" d="M457.8 1243.1l-6.2 42.7 8.1 -61.9 6.2 -42.7Z"/><path fill="#2c8ff0" stroke="#2c8ff0" stroke-width=".5" d="M240.4 1253.9l-6.2 34.8 8.1 45.5 6.2 -34.8Z"/><path fill="#1da8e0" stroke="#1da8e0" stroke-width=".5" d="M407 1319.6l-6.2 -56.2 8.1 -59.5 6.2 56.2Z"/><path fill="#26c2ac" stroke="#26c2ac" stroke-width=".5" d="M189.6 1168.4l-6.2 33 8.1 48 6.2 -33Z"/><path fill="#3975fe" stroke="#3975fe" stroke-width=".5" d="M356.2 1381l-6.2 -58 8.1 -57 6.2 58Z"/><path fill="#3777fe" stroke="#3777fe" stroke-width=".5" d="M305.4 1330.1l-6.2 37.3 8.1 -54.6 6.2 -37.3Z"/><path fill="#50cc7f" stroke="#50cc7f" stroke-width=".5" d="M472 1235l-6.2 -53.8 8.1 -62.5 6.2 53.8Z"/><path fill="#19addc" stroke="#19addc" stroke-width=".5" d="M254.6 1264l-6.2 35.4 8.1 -52.2 6.2 -35.4Z"/><path fill="#1aabdd" stroke="#1aabdd" stroke-width=".5" d="M421.2 1315.8l-6.2 -55.6 8.1 -60.1 6.2 55.6Z"/><path fill="#0dbdbb" stroke="#0dbdbb" stroke-width=".5" d="M203.9 1279.8l-6.2 -63.5 8.1 -49.8 6.2 63.5Z"/><path fill="#249fe5" stroke="#249fe5" stroke-width=".5" d="M370.4 1284.3l-6.2 39.7 8.1 -57.7 6.2 -39.7Z"/><path fill="#0ab4d2" stroke="#0ab4d2" stroke-width=".5" d="M153.1 1280.5l-3 -21.1 8.1 -47.3 3 21.1Z"/><path fill="#05bbc1" stroke="#05bbc1" stroke-width=".5" d="M319.7 1237.6l-6.2 37.9 8.1 -55.2 6.2 -37.9Z"/><path fill="#1dc0b3" stroke="#1dc0b3" stroke-width=".5" d="M486.2 1225.6l-6.2 -53.2 8.1 34 6.2 53.2Z"/><path fill="#1ec0b2" stroke="#1ec0b2" stroke-width=".5" d="M268.9 1272.9l-6.2 -61.1 8.1 -52.8 6.2 61.1Z"/><path fill="#15afd9" stroke="#15afd9" stroke-width=".5" d="M435.5 1213.6l-6.2 42.1 8.1 36.4 6.2 -42.1Z"/><path fill="#01b8c8" stroke="#01b8c8" stroke-width=".5" d="M218.1 1293l-6.2 -62.9 8.1 -50.4 6.2 62.9Z"/><path fill="#0abdbd" stroke="#0abdbd" stroke-width=".5" d="M384.7 1186.3l-6.2 40.3 8.1 38.9 6.2 -40.3Z"/><path fill="#39c895" stroke="#39c895" stroke-width=".5" d="M167.3 1200.8l-6.2 32.4 8.1 -47.9 6.2 -32.4Z"/><path fill="#02bac4" stroke="#02bac4" stroke-width=".5" d="M333.9 1241l-6.2 -58.6 8.1 41.3 6.2 58.6Z"/><path fill="#16afd9" stroke="#16afd9" stroke-width=".5" d="M500.5 1215.1l-6.2 44.5 8.1 33.4 6.2 -44.5Z"/><path fill="#21a3e4" stroke="#21a3e4" stroke-width=".5" d="M283.1 1280.5l-6.2 -60.5 8.1 43.7 6.2 60.5Z"/><path fill="#0bb3d2" stroke="#0bb3d2" stroke-width=".5" d="M449.7 1207.3l-6.2 42.7 8.1 35.8 6.2 -42.7Z"/><path fill="#0db3d3" stroke="#0db3d3" stroke-width=".5" d="M232.3 1207.8l-6.2 34.8 8.1 46.1 6.2 -34.8Z"/><path fill="#21a3e4" stroke="#21a3e4" stroke-width=".5" d="M398.9 1281.4l-6.2 -56.2 8.1 38.3 6.2 56.2Z"/><path fill="#7bcc5d" stroke="#7bcc5d" stroke-width=".5" d="M181.6 1119.8l-6.2 33 8.1 48.6 6.2 -33Z"/><path fill="#3e70ff" stroke="#3e70ff" stroke-width=".5" d="M348.1 1340.3l-6.2 -58 8.1 40.7 6.2 58Z"/><path fill="#23c1af" stroke="#23c1af" stroke-width=".5" d="M514.7 1203.3l-6.2 45.2 3.9 -20.7 6.2 -45.2Z"/><path fill="#3975fe" stroke="#3975fe" stroke-width=".5" d="M297.4 1287l-6.2 37.3 8.1 43.1 6.2 -37.3Z"/><path fill="#01b8ca" stroke="#01b8ca" stroke-width=".5" d="M463.9 1296.9l-6.2 -53.8 8.1 -61.9 6.2 53.8Z"/><path fill="#19addc" stroke="#19addc" stroke-width=".5" d="M246.6 1218.5l-6.2 35.4 8.1 45.5 6.2 -35.4Z"/><path fill="#317efb" stroke="#317efb" stroke-width=".5" d="M413.1 1375.3l-6.2 -55.6 8.1 -59.5 6.2 55.6Z"/><path fill="#13beb9" stroke="#13beb9" stroke-width=".5" d="M195.8 1231.9l-6.2 -63.5 8.1 48 6.2 63.5Z"/><path fill="#3e70ff" stroke="#3e70ff" stroke-width=".5" d="M362.4 1341.3l-6.2 39.7 8.1 -57 6.2 -39.7Z"/><path fill="#04b6cd" stroke="#04b6cd" stroke-width=".5" d="M145 1230.1l-3 -21.1 8.1 50.4 3 21.1Z"/><path fill="#259be8" stroke="#259be8" stroke-width=".5" d="M311.6 1292.2l-6.2 37.9 8.1 -54.6 6.2 -37.9Z"/><path fill="#07bcbf" stroke="#07bcbf" stroke-width=".5" d="M478.2 1288.2l-6.2 -53.2 8.1 -62.5 6.2 53.2Z"/><path fill="#1ea7e1" stroke="#1ea7e1" stroke-width=".5" d="M260.8 1325.1l-6.2 -61.1 8.1 -52.2 6.2 61.1Z"/><path fill="#1caadf" stroke="#1caadf" stroke-width=".5" d="M427.4 1273.7l-6.2 42.1 8.1 -60.1 6.2 -42.1Z"/><path fill="#269ae9" stroke="#269ae9" stroke-width=".5" d="M210 1342.7l-6.2 -62.9 8.1 -49.8 6.2 62.9Z"/><path fill="#02bac4" stroke="#02bac4" stroke-width=".5" d="M376.6 1244l-6.2 40.3 8.1 -57.7 6.2 -40.3Z"/><path fill="#01b8c9" stroke="#01b8c9" stroke-width=".5" d="M159.3 1248.1l-6.2 32.4 8.1 -47.3 6.2 -32.4Z"/><path fill="#01b9c8" stroke="#01b9c8" stroke-width=".5" d="M325.8 1296.2l-6.2 -58.6 8.1 -55.2 6.2 58.6Z"/><path fill="#1dc0b3" stroke="#1dc0b3" stroke-width=".5" d="M492.4 1181.1l-6.2 44.5 8.1 34 6.2 -44.5Z"/><path fill="#22a2e4" stroke="#22a2e4" stroke-width=".5" d="M275 1333.3l-6.2 -60.5 8.1 -52.8 6.2 60.5Z"/><path fill="#2cc4a7" stroke="#2cc4a7" stroke-width=".5" d="M441.6 1170.8l-6.2 42.7 8.1 36.4 6.2 -42.7Z"/><path fill="#0bb3d2" stroke="#0bb3d2" stroke-width=".5" d="M224.3 1258.1l-6.2 34.8 8.1 -50.4 6.2 -34.8Z"/><path fill="#05bbc1" stroke="#05bbc1" stroke-width=".5" d="M390.8 1242.5l-6.2 -56.2 8.1 38.9 6.2 56.2Z"/><path fill="#84cc56" stroke="#84cc56" stroke-width=".5" d="M173.5 1167.8l-6.2 33 8.1 -47.9 6.2 -33Z"/><path fill="#2798ea" stroke="#2798ea" stroke-width=".5" d="M340.1 1299.1l-6.2 -58 8.1 41.3 6.2 58Z"/><path fill="#2dc4a5" stroke="#2dc4a5" stroke-width=".5" d="M506.6 1169.9l-6.2 45.2 8.1 33.4 6.2 -45.2Z"/><path fill="#249de6" stroke="#249de6" stroke-width=".5" d="M289.3 1243.3l-6.2 37.3 8.1 43.7 6.2 -37.3Z"/><path fill="#0db3d3" stroke="#0db3d3" stroke-width=".5" d="M455.9 1261.1l-6.2 -53.8 8.1 35.8 6.2 53.8Z"/><path fill="#2ac3a9" stroke="#2ac3a9" stroke-width=".5" d="M238.5 1172.3l-6.2 35.4 8.1 46.1 6.2 -35.4Z"/><path fill="#3777fe" stroke="#3777fe" stroke-width=".5" d="M405.1 1337l-6.2 -55.6 8.1 38.3 6.2 55.6Z"/><path fill="#62cd71" stroke="#62cd71" stroke-width=".5" d="M187.7 1183.3l-6.2 -63.5 8.1 48.6 6.2 63.5Z"/><path fill="#416bfe" stroke="#416bfe" stroke-width=".5" d="M354.3 1300.6l-6.2 39.7 8.1 40.7 6.2 -39.7Z"/><path fill="#25c2ae" stroke="#25c2ae" stroke-width=".5" d="M520.9 1254.7l-6.2 -51.4 3.9 -20.7 6.2 51.4Z"/><path fill="#41ca8c" stroke="#41ca8c" stroke-width=".5" d="M136.9 1179.1l-3 -21.1 8.1 51 3 21.1Z"/><path fill="#2699e9" stroke="#2699e9" stroke-width=".5" d="M303.5 1249.1l-6.2 37.9 8.1 43.1 6.2 -37.9Z"/><path fill="#2797eb" stroke="#2797eb" stroke-width=".5" d="M470.1 1350.1l-6.2 -53.2 8.1 -61.9 6.2 53.2Z"/><path fill="#1ea7e1" stroke="#1ea7e1" stroke-width=".5" d="M252.7 1279.5l-6.2 -61.1 8.1 45.5 6.2 61.1Z"/><path fill="#327cfc" stroke="#327cfc" stroke-width=".5" d="M419.3 1333.1l-6.2 42.1 8.1 -59.5 6.2 -42.1Z"/><path fill="#259ce7" stroke="#259ce7" stroke-width=".5" d="M202 1294.8l-6.2 -62.9 8.1 48 6.2 62.9Z"/><path fill="#2798ea" stroke="#2798ea" stroke-width=".5" d="M368.5 1301l-6.2 40.3 8.1 -57 6.2 -40.3Z"/><path fill="#02bac4" stroke="#02bac4" stroke-width=".5" d="M151.2 1197.7l-6.2 32.4 8.1 50.4 6.2 -32.4Z"/><path fill="#2797eb" stroke="#2797eb" stroke-width=".5" d="M317.8 1350.9l-6.2 -58.6 8.1 -54.6 6.2 58.6Z"/><path fill="#07bcbf" stroke="#07bcbf" stroke-width=".5" d="M484.3 1243.6l-6.2 44.5 8.1 -62.5 6.2 -44.5Z"/><path fill="#3578fd" stroke="#3578fd" stroke-width=".5" d="M267 1385.5l-6.2 -60.5 8.1 -52.2 6.2 60.5Z"/><path fill="#20c1b1" stroke="#20c1b1" stroke-width=".5" d="M433.5 1230.9l-6.2 42.7 8.1 -60.1 6.2 -42.7Z"/><path fill="#2a92ee" stroke="#2a92ee" stroke-width=".5" d="M216.2 1307.9l-6.2 34.8 8.1 -49.8 6.2 -34.8Z"/><path fill="#01b9c8" stroke="#01b9c8" stroke-width=".5" d="M382.8 1300.2l-6.2 -56.2 8.1 -57.7 6.2 56.2Z"/><path fill="#32c69f" stroke="#32c69f" stroke-width=".5" d="M165.4 1215.1l-6.2 33 8.1 -47.3 6.2 -33Z"/><path fill="#2995ec" stroke="#2995ec" stroke-width=".5" d="M332 1354.3l-6.2 -58 8.1 -55.2 6.2 58Z"/><path fill="#67cd6c" stroke="#67cd6c" stroke-width=".5" d="M498.6 1135.9l-6.2 45.2 8.1 34 6.2 -45.2Z"/><path fill="#259ce7" stroke="#259ce7" stroke-width=".5" d="M281.2 1296.1l-6.2 37.3 8.1 -52.8 6.2 -37.3Z"/><path fill="#2ac3a9" stroke="#2ac3a9" stroke-width=".5" d="M447.8 1224.6l-6.2 -53.8 8.1 36.4 6.2 53.8Z"/><path fill="#2cc4a7" stroke="#2cc4a7" stroke-width=".5" d="M230.4 1222.7l-6.2 35.4 8.1 -50.4 6.2 -35.4Z"/><path fill="#259be8" stroke="#259be8" stroke-width=".5" d="M397 1298.1l-6.2 -55.6 8.1 38.9 6.2 55.6Z"/><path fill="#6acd6a" stroke="#6acd6a" stroke-width=".5" d="M179.7 1231.3l-6.2 -63.5 8.1 -47.9 6.2 63.5Z"/><path fill="#2994ed" stroke="#2994ed" stroke-width=".5" d="M346.2 1259.4l-6.2 39.7 8.1 41.3 6.2 -39.7Z"/><path fill="#2fc5a3" stroke="#2fc5a3" stroke-width=".5" d="M512.8 1221.3l-6.2 -51.4 8.1 33.4 6.2 51.4Z"/><path fill="#4ccb83" stroke="#4ccb83" stroke-width=".5" d="M128.9 1224.6l-3 -21.1 8.1 -45.5 3 21.1Z"/><path fill="#01b8c9" stroke="#01b8c9" stroke-width=".5" d="M295.4 1205.4l-6.2 37.9 8.1 43.7 6.2 -37.9Z"/><path fill="#2c8ff0" stroke="#2c8ff0" stroke-width=".5" d="M462 1314.2l-6.2 -53.2 8.1 35.8 6.2 53.2Z"/><path fill="#1ec0b2" stroke="#1ec0b2" stroke-width=".5" d="M244.7 1233.4l-6.2 -61.1 8.1 46.1 6.2 61.1Z"/><path fill="#3975fe" stroke="#3975fe" stroke-width=".5" d="M411.2 1294.9l-6.2 42.1 8.1 38.3 6.2 -42.1Z"/><path fill="#05bbc1" stroke="#05bbc1" stroke-width=".5" d="M193.9 1246.2l-6.2 -62.9 8.1 48.6 6.2 62.9Z"/><path fill="#2994ed" stroke="#2994ed" stroke-width=".5" d="M360.5 1260.3l-6.2 40.3 8.1 40.7 6.2 -40.3Z"/><path fill="#1aacdd" stroke="#1aacdd" stroke-width=".5" d="M527 1305.4l-6.2 -50.7 3.9 -20.7 6.2 50.7Z"/><path fill="#52cc7e" stroke="#52cc7e" stroke-width=".5" d="M143.1 1146.7l-6.2 32.4 8.1 51 6.2 -32.4Z"/><path fill="#2995ec" stroke="#2995ec" stroke-width=".5" d="M309.7 1307.8l-6.2 -58.6 8.1 43.1 6.2 58.6Z"/><path fill="#2797eb" stroke="#2797eb" stroke-width=".5" d="M476.3 1305.5l-6.2 44.5 8.1 -61.9 6.2 -44.5Z"/><path fill="#3578fd" stroke="#3578fd" stroke-width=".5" d="M258.9 1340l-6.2 -60.5 8.1 45.5 6.2 60.5Z"/><path fill="#21a3e4" stroke="#21a3e4" stroke-width=".5" d="M425.5 1290.4l-6.2 42.7 8.1 -59.5 6.2 -42.7Z"/><path fill="#2994ed" stroke="#2994ed" stroke-width=".5" d="M208.1 1259.9l-6.2 34.8 8.1 48 6.2 -34.8Z"/><path fill="#2995ec" stroke="#2995ec" stroke-width=".5" d="M374.7 1357.2l-6.2 -56.2 8.1 -57 6.2 56.2Z"/><path fill="#36c898" stroke="#36c898" stroke-width=".5" d="M157.3 1164.7l-6.2 33 8.1 50.4 6.2 -33Z"/><path fill="#4465fd" stroke="#4465fd" stroke-width=".5" d="M323.9 1408.9l-6.2 -58 8.1 -54.6 6.2 58Z"/><path fill="#50cc7f" stroke="#50cc7f" stroke-width=".5" d="M490.5 1198.5l-6.2 45.2 8.1 -62.5 6.2 -45.2Z"/><path fill="#3c71ff" stroke="#3c71ff" stroke-width=".5" d="M273.1 1348.3l-6.2 37.3 8.1 -52.2 6.2 -37.3Z"/><path fill="#1ec0b2" stroke="#1ec0b2" stroke-width=".5" d="M439.7 1284.7l-6.2 -53.8 8.1 -60.1 6.2 53.8Z"/><path fill="#15afd9" stroke="#15afd9" stroke-width=".5" d="M222.4 1272.5l-6.2 35.4 8.1 -49.8 6.2 -35.4Z"/><path fill="#2797eb" stroke="#2797eb" stroke-width=".5" d="M388.9 1355.8l-6.2 -55.6 8.1 -57.7 6.2 55.6Z"/><path fill="#26c2ac" stroke="#26c2ac" stroke-width=".5" d="M171.6 1278.6l-6.2 -63.5 8.1 -47.3 6.2 63.5Z"/><path fill="#2b91ef" stroke="#2b91ef" stroke-width=".5" d="M338.2 1314.6l-6.2 39.7 8.1 -55.2 6.2 -39.7Z"/><path fill="#6acd6a" stroke="#6acd6a" stroke-width=".5" d="M504.7 1187.3l-6.2 -51.4 8.1 34 6.2 51.4Z"/><path fill="#11beba" stroke="#11beba" stroke-width=".5" d="M120.8 1269.5l-3 -21.1 8.1 -44.9 3 21.1Z"/><path fill="#01b7ca" stroke="#01b7ca" stroke-width=".5" d="M287.4 1258.2l-6.2 37.9 8.1 -52.8 6.2 -37.9Z"/><path fill="#19addc" stroke="#19addc" stroke-width=".5" d="M453.9 1277.8l-6.2 -53.2 8.1 36.4 6.2 53.2Z"/><path fill="#20c1b1" stroke="#20c1b1" stroke-width=".5" d="M236.6 1283.8l-6.2 -61.1 8.1 -50.4 6.2 61.1Z"/><path fill="#2699e9" stroke="#2699e9" stroke-width=".5" d="M403.2 1256l-6.2 42.1 8.1 38.9 6.2 -42.1Z"/><path fill="#0bbdbd" stroke="#0bbdbd" stroke-width=".5" d="M185.8 1294.1l-6.2 -62.9 8.1 -47.9 6.2 62.9Z"/><path fill="#0cb3d3" stroke="#0cb3d3" stroke-width=".5" d="M352.4 1219.1l-6.2 40.3 8.1 41.3 6.2 -40.3Z"/><path fill="#12b1d6" stroke="#12b1d6" stroke-width=".5" d="M519 1272.1l-6.2 -50.7 8.1 33.4 6.2 50.7Z"/><path fill="#5ecd74" stroke="#5ecd74" stroke-width=".5" d="M135 1192.2l-6.2 32.4 8.1 -45.5 6.2 -32.4Z"/><path fill="#07b5cf" stroke="#07b5cf" stroke-width=".5" d="M301.6 1264l-6.2 -58.6 8.1 43.7 6.2 58.6Z"/><path fill="#2c8ff0" stroke="#2c8ff0" stroke-width=".5" d="M468.2 1269.7l-6.2 44.5 8.1 35.8 6.2 -44.5Z"/><path fill="#22a2e4" stroke="#22a2e4" stroke-width=".5" d="M250.8 1293.8l-6.2 -60.5 8.1 46.1 6.2 60.5Z"/><path fill="#249de6" stroke="#249de6" stroke-width=".5" d="M417.4 1252.2l-6.2 42.7 8.1 38.3 6.2 -42.7Z"/><path fill="#02b7cb" stroke="#02b7cb" stroke-width=".5" d="M200.1 1211.4l-6.2 34.8 8.1 48.6 6.2 -34.8Z"/><path fill="#2b91ef" stroke="#2b91ef" stroke-width=".5" d="M366.6 1316.6l-6.2 -56.2 8.1 40.7 6.2 56.2Z"/><path fill="#18addb" stroke="#18addb" stroke-width=".5" d="M533.2 1258.5l-6.2 47 3.9 -20.7 6.2 -47Z"/><path fill="#a5c83d" stroke="#a5c83d" stroke-width=".5" d="M149.3 1113.7l-6.2 33 8.1 51 6.2 -33Z"/><path fill="#4563fd" stroke="#4563fd" stroke-width=".5" d="M315.8 1365.8l-6.2 -58 8.1 43.1 6.2 58Z"/><path fill="#01b8ca" stroke="#01b8ca" stroke-width=".5" d="M482.4 1260.4l-6.2 45.2 8.1 -61.9 6.2 -45.2Z"/><path fill="#3c71ff" stroke="#3c71ff" stroke-width=".5" d="M265.1 1302.7l-6.2 37.3 8.1 45.5 6.2 -37.3Z"/><path fill="#22a2e4" stroke="#22a2e4" stroke-width=".5" d="M431.6 1344.2l-6.2 -53.8 8.1 -59.5 6.2 53.8Z"/><path fill="#12b1d7" stroke="#12b1d7" stroke-width=".5" d="M214.3 1224.5l-6.2 35.4 8.1 48 6.2 -35.4Z"/><path fill="#4465fd" stroke="#4465fd" stroke-width=".5" d="M380.9 1412.8l-6.2 -55.6 8.1 -57 6.2 55.6Z"/><path fill="#2cc4a6" stroke="#2cc4a6" stroke-width=".5" d="M163.5 1228.2l-6.2 -63.5 8.1 50.4 6.2 63.5Z"/><path fill="#4661fc" stroke="#4661fc" stroke-width=".5" d="M330.1 1369.2l-6.2 39.7 8.1 -54.6 6.2 -39.7Z"/><path fill="#53cc7d" stroke="#53cc7d" stroke-width=".5" d="M496.7 1249.8l-6.2 -51.4 8.1 -62.5 6.2 51.4Z"/><path fill="#1fc1b1" stroke="#1fc1b1" stroke-width=".5" d="M112.7 1216.7l-3 -21.1 8.1 52.8 3 21.1Z"/><path fill="#2797eb" stroke="#2797eb" stroke-width=".5" d="M279.3 1310.4l-6.2 37.9 8.1 -52.2 6.2 -37.9Z"/><path fill="#1ea7e1" stroke="#1ea7e1" stroke-width=".5" d="M445.9 1337.9l-6.2 -53.2 8.1 -60.1 6.2 53.2Z"/><path fill="#1caadf" stroke="#1caadf" stroke-width=".5" d="M228.5 1333.5l-6.2 -61.1 8.1 -49.8 6.2 61.1Z"/><path fill="#2995ec" stroke="#2995ec" stroke-width=".5" d="M395.1 1313.7l-6.2 42.1 8.1 -57.7 6.2 -42.1Z"/><path fill="#20a4e3" stroke="#20a4e3" stroke-width=".5" d="M177.7 1341.5l-6.2 -62.9 8.1 -47.3 6.2 62.9Z"/><path fill="#12b1d6" stroke="#12b1d6" stroke-width=".5" d="M344.3 1274.3l-6.2 40.3 8.1 -55.2 6.2 -40.3Z"/><path fill="#23c1af" stroke="#23c1af" stroke-width=".5" d="M510.9 1238l-6.2 -50.7 8.1 34 6.2 50.7Z"/><path fill="#22c1b0" stroke="#22c1b0" stroke-width=".5" d="M127 1237.1l-6.2 32.4 8.1 -44.9 6.2 -32.4Z"/><path fill="#08b4d0" stroke="#08b4d0" stroke-width=".5" d="M293.5 1316.8l-6.2 -58.6 8.1 -52.8 6.2 58.6Z"/><path fill="#19addc" stroke="#19addc" stroke-width=".5" d="M460.1 1233.3l-6.2 44.5 8.1 36.4 6.2 -44.5Z"/><path fill="#21a3e4" stroke="#21a3e4" stroke-width=".5" d="M242.8 1344.2l-6.2 -60.5 8.1 -50.4 6.2 60.5Z"/><path fill="#01b8c9" stroke="#01b8c9" stroke-width=".5" d="M409.3 1213.3l-6.2 42.7 8.1 38.9 6.2 -42.7Z"/><path fill="#01b9c7" stroke="#01b9c7" stroke-width=".5" d="M192 1259.3l-6.2 34.8 8.1 -47.9 6.2 -34.8Z"/><path fill="#12b1d6" stroke="#12b1d6" stroke-width=".5" d="M358.6 1275.3l-6.2 -56.2 8.1 41.3 6.2 56.2Z"/><path fill="#0eb2d4" stroke="#0eb2d4" stroke-width=".5" d="M525.1 1225.1l-6.2 47 8.1 33.4 6.2 -47Z"/><path fill="#b2c535" stroke="#b2c535" stroke-width=".5" d="M141.2 1159.2l-6.2 33 8.1 -45.5 6.2 -33Z"/><path fill="#2c8ff1" stroke="#2c8ff1" stroke-width=".5" d="M307.8 1322.1l-6.2 -58 8.1 43.7 6.2 58Z"/><path fill="#0db3d3" stroke="#0db3d3" stroke-width=".5" d="M474.3 1224.5l-6.2 45.2 8.1 35.8 6.2 -45.2Z"/><path fill="#259ce7" stroke="#259ce7" stroke-width=".5" d="M257 1256.6l-6.2 37.3 8.1 46.1 6.2 -37.3Z"/><path fill="#259ce7" stroke="#259ce7" stroke-width=".5" d="M423.6 1305.9l-6.2 -53.8 8.1 38.3 6.2 53.8Z"/><path fill="#32c69e" stroke="#32c69e" stroke-width=".5" d="M206.2 1175.9l-6.2 35.4 8.1 48.6 6.2 -35.4Z"/><path fill="#4661fc" stroke="#4661fc" stroke-width=".5" d="M372.8 1372.2l-6.2 -55.6 8.1 40.7 6.2 55.6Z"/><path fill="#2dc4a5" stroke="#2dc4a5" stroke-width=".5" d="M539.4 1210.9l-6.2 47.6 3.9 -20.7 6.2 -47.6Z"/><path fill="#8ccb50" stroke="#8ccb50" stroke-width=".5" d="M155.4 1177.2l-6.2 -63.5 8.1 51 6.2 63.5Z"/><path fill="#465ffb" stroke="#465ffb" stroke-width=".5" d="M322 1326.1l-6.2 39.7 8.1 43.1 6.2 -39.7Z"/><path fill="#01b8c8" stroke="#01b8c8" stroke-width=".5" d="M488.6 1311.7l-6.2 -51.4 8.1 -61.9 6.2 51.4Z"/><path fill="#7ccc5c" stroke="#7ccc5c" stroke-width=".5" d="M104.7 1163.3l-3 -21.1 8.1 53.4 3 21.1Z"/><path fill="#2797eb" stroke="#2797eb" stroke-width=".5" d="M271.2 1264.9l-6.2 37.9 8.1 45.5 6.2 -37.9Z"/><path fill="#3578fd" stroke="#3578fd" stroke-width=".5" d="M437.8 1397.4l-6.2 -53.2 8.1 -59.5 6.2 53.2Z"/><path fill="#1aabdd" stroke="#1aabdd" stroke-width=".5" d="M220.5 1285.6l-6.2 -61.1 8.1 48 6.2 61.1Z"/><path fill="#4563fd" stroke="#4563fd" stroke-width=".5" d="M387 1370.7l-6.2 42.1 8.1 -57 6.2 -42.1Z"/><path fill="#1ea8e1" stroke="#1ea8e1" stroke-width=".5" d="M169.7 1291.1l-6.2 -62.9 8.1 50.4 6.2 62.9Z"/><path fill="#2d8bf4" stroke="#2d8bf4" stroke-width=".5" d="M336.2 1328.9l-6.2 40.3 8.1 -54.6 6.2 -40.3Z"/><path fill="#0dbdbb" stroke="#0dbdbb" stroke-width=".5" d="M502.8 1300.6l-6.2 -50.7 8.1 -62.5 6.2 50.7Z"/><path fill="#2cc4a7" stroke="#2cc4a7" stroke-width=".5" d="M118.9 1184.3l-6.2 32.4 8.1 52.8 6.2 -32.4Z"/><path fill="#2b92ee" stroke="#2b92ee" stroke-width=".5" d="M285.5 1369l-6.2 -58.6 8.1 -52.2 6.2 58.6Z"/><path fill="#1ea7e1" stroke="#1ea7e1" stroke-width=".5" d="M452 1293.3l-6.2 44.5 8.1 -60.1 6.2 -44.5Z"/><path fill="#327cfc" stroke="#327cfc" stroke-width=".5" d="M234.7 1394l-6.2 -60.5 8.1 -49.8 6.2 60.5Z"/><path fill="#07b5cf" stroke="#07b5cf" stroke-width=".5" d="M401.3 1270.9l-6.2 42.7 8.1 -57.7 6.2 -42.7Z"/><path fill="#259de7" stroke="#259de7" stroke-width=".5" d="M183.9 1306.6l-6.2 34.8 8.1 -47.3 6.2 -34.8Z"/><path fill="#16afd9" stroke="#16afd9" stroke-width=".5" d="M350.5 1330.5l-6.2 -56.2 8.1 -55.2 6.2 56.2Z"/><path fill="#26c2ac" stroke="#26c2ac" stroke-width=".5" d="M517.1 1191.1l-6.2 47 8.1 34 6.2 -47Z"/><path fill="#54cc7c" stroke="#54cc7c" stroke-width=".5" d="M133.1 1204.1l-6.2 33 8.1 -44.9 6.2 -33Z"/><path fill="#2c8ef2" stroke="#2c8ef2" stroke-width=".5" d="M299.7 1374.9l-6.2 -58 8.1 -52.8 6.2 58Z"/><path fill="#2ac3a9" stroke="#2ac3a9" stroke-width=".5" d="M466.3 1188.1l-6.2 45.2 8.1 36.4 6.2 -45.2Z"/><path fill="#249de6" stroke="#249de6" stroke-width=".5" d="M248.9 1307l-6.2 37.3 8.1 -50.4 6.2 -37.3Z"/><path fill="#01b7ca" stroke="#01b7ca" stroke-width=".5" d="M415.5 1267.1l-6.2 -53.8 8.1 38.9 6.2 53.8Z"/><path fill="#36c799" stroke="#36c799" stroke-width=".5" d="M198.1 1223.9l-6.2 35.4 8.1 -47.9 6.2 -35.4Z"/><path fill="#2d8bf4" stroke="#2d8bf4" stroke-width=".5" d="M364.7 1330.9l-6.2 -55.6 8.1 41.3 6.2 55.6Z"/><path fill="#35c79a" stroke="#35c79a" stroke-width=".5" d="M531.3 1177.5l-6.2 47.6 8.1 33.4 6.2 -47.6Z"/><path fill="#9ac945" stroke="#9ac945" stroke-width=".5" d="M147.4 1222.7l-6.2 -63.5 8.1 -45.5 6.2 63.5Z"/><path fill="#2d8bf4" stroke="#2d8bf4" stroke-width=".5" d="M313.9 1282.4l-6.2 39.7 8.1 43.7 6.2 -39.7Z"/><path fill="#0bb3d2" stroke="#0bb3d2" stroke-width=".5" d="M480.5 1275.9l-6.2 -51.4 8.1 35.8 6.2 51.4Z"/><path fill="#90ca4d" stroke="#90ca4d" stroke-width=".5" d="M96.6 1206.4l-3 -21.1 8.1 -43.1 3 21.1Z"/><path fill="#01b7ca" stroke="#01b7ca" stroke-width=".5" d="M263.2 1218.7l-6.2 37.9 8.1 46.1 6.2 -37.9Z"/><path fill="#3c71ff" stroke="#3c71ff" stroke-width=".5" d="M429.7 1359.1l-6.2 -53.2 8.1 38.3 6.2 53.2Z"/><path fill="#2ac3a9" stroke="#2ac3a9" stroke-width=".5" d="M212.4 1237l-6.2 -61.1 8.1 48.6 6.2 61.1Z"/><path fill="#465ffb" stroke="#465ffb" stroke-width=".5" d="M379 1330l-6.2 42.1 8.1 40.7 6.2 -42.1Z"/><path fill="#30c5a1" stroke="#30c5a1" stroke-width=".5" d="M545.5 1259.8l-6.2 -48.9 3.9 -20.7 6.2 48.9Z"/><path fill="#26c2ac" stroke="#26c2ac" stroke-width=".5" d="M161.6 1240.1l-6.2 -62.9 8.1 51 6.2 62.9Z"/><path fill="#2d88f6" stroke="#2d88f6" stroke-width=".5" d="M328.2 1285.8l-6.2 40.3 8.1 43.1 6.2 -40.3Z"/><path fill="#269ae9" stroke="#269ae9" stroke-width=".5" d="M494.7 1362.5l-6.2 -50.7 8.1 -61.9 6.2 50.7Z"/><path fill="#90ca4d" stroke="#90ca4d" stroke-width=".5" d="M110.8 1130.9l-6.2 32.4 8.1 53.4 6.2 -32.4Z"/><path fill="#2b92ee" stroke="#2b92ee" stroke-width=".5" d="M277.4 1323.5l-6.2 -58.6 8.1 45.5 6.2 58.6Z"/><path fill="#3578fd" stroke="#3578fd" stroke-width=".5" d="M444 1352.8l-6.2 44.5 8.1 -59.5 6.2 -44.5Z"/><path fill="#317efb" stroke="#317efb" stroke-width=".5" d="M226.6 1346l-6.2 -60.5 8.1 48 6.2 60.5Z"/><path fill="#2c8ff1" stroke="#2c8ff1" stroke-width=".5" d="M393.2 1328l-6.2 42.7 8.1 -57 6.2 -42.7Z"/><path fill="#23a0e5" stroke="#23a0e5" stroke-width=".5" d="M175.8 1256.2l-6.2 34.8 8.1 50.4 6.2 -34.8Z"/><path fill="#2d87f6" stroke="#2d87f6" stroke-width=".5" d="M342.4 1385.1l-6.2 -56.2 8.1 -54.6 6.2 56.2Z"/><path fill="#13beb9" stroke="#13beb9" stroke-width=".5" d="M509 1253.6l-6.2 47 8.1 -62.5 6.2 -47Z"/><path fill="#63cd6f" stroke="#63cd6f" stroke-width=".5" d="M125.1 1151.3l-6.2 33 8.1 52.8 6.2 -33Z"/><path fill="#4660fb" stroke="#4660fb" stroke-width=".5" d="M291.6 1427.1l-6.2 -58 8.1 -52.2 6.2 58Z"/><path fill="#1ec0b2" stroke="#1ec0b2" stroke-width=".5" d="M458.2 1248.2l-6.2 45.2 8.1 -60.1 6.2 -45.2Z"/><path fill="#3975fe" stroke="#3975fe" stroke-width=".5" d="M240.9 1356.7l-6.2 37.3 8.1 -49.8 6.2 -37.3Z"/><path fill="#08b4d0" stroke="#08b4d0" stroke-width=".5" d="M407.4 1324.7l-6.2 -53.8 8.1 -57.7 6.2 53.8Z"/><path fill="#03b7cc" stroke="#03b7cc" stroke-width=".5" d="M190.1 1271.2l-6.2 35.4 8.1 -47.3 6.2 -35.4Z"/><path fill="#2d87f6" stroke="#2d87f6" stroke-width=".5" d="M356.6 1386.1l-6.2 -55.6 8.1 -55.2 6.2 55.6Z"/><path fill="#7bcc5d" stroke="#7bcc5d" stroke-width=".5" d="M523.2 1143.5l-6.2 47.6 8.1 34 6.2 -47.6Z"/><path fill="#3fca8e" stroke="#3fca8e" stroke-width=".5" d="M139.3 1267.6l-6.2 -63.5 8.1 -44.9 6.2 63.5Z"/><path fill="#2d8af5" stroke="#2d8af5" stroke-width=".5" d="M305.9 1335.2l-6.2 39.7 8.1 -52.8 6.2 -39.7Z"/><path fill="#2cc4a7" stroke="#2cc4a7" stroke-width=".5" d="M472.4 1239.5l-6.2 -51.4 8.1 36.4 6.2 51.4Z"/><path fill="#3dc991" stroke="#3dc991" stroke-width=".5" d="M88.5 1248.9l-3 -21.1 8.1 -42.5 3 21.1Z"/><path fill="#01b8c9" stroke="#01b8c9" stroke-width=".5" d="M255.1 1269.1l-6.2 37.9 8.1 -50.4 6.2 -37.9Z"/><path fill="#2797eb" stroke="#2797eb" stroke-width=".5" d="M421.7 1320.3l-6.2 -53.2 8.1 38.9 6.2 53.2Z"/><path fill="#2ec4a4" stroke="#2ec4a4" stroke-width=".5" d="M204.3 1284.9l-6.2 -61.1 8.1 -47.9 6.2 61.1Z"/><path fill="#2d88f6" stroke="#2d88f6" stroke-width=".5" d="M370.9 1288.8l-6.2 42.1 8.1 41.3 6.2 -42.1Z"/><path fill="#39c895" stroke="#39c895" stroke-width=".5" d="M537.5 1226.4l-6.2 -48.9 8.1 33.4 6.2 48.9Z"/><path fill="#2dc4a5" stroke="#2dc4a5" stroke-width=".5" d="M153.5 1285.6l-6.2 -62.9 8.1 -45.5 6.2 62.9Z"/><path fill="#19addc" stroke="#19addc" stroke-width=".5" d="M320.1 1242.1l-6.2 40.3 8.1 43.7 6.2 -40.3Z"/><path fill="#2a92ee" stroke="#2a92ee" stroke-width=".5" d="M486.7 1326.6l-6.2 -50.7 8.1 35.8 6.2 50.7Z"/><path fill="#a4c83e" stroke="#a4c83e" stroke-width=".5" d="M102.8 1174l-6.2 32.4 8.1 -43.1 6.2 -32.4Z"/><path fill="#08b4d0" stroke="#08b4d0" stroke-width=".5" d="M269.3 1277.4l-6.2 -58.6 8.1 46.1 6.2 58.6Z"/><path fill="#3c71ff" stroke="#3c71ff" stroke-width=".5" d="M435.9 1314.6l-6.2 44.5 8.1 38.3 6.2 -44.5Z"/><path fill="#1da8e0" stroke="#1da8e0" stroke-width=".5" d="M218.5 1297.4l-6.2 -60.5 8.1 48.6 6.2 60.5Z"/><path fill="#2d8bf4" stroke="#2d8bf4" stroke-width=".5" d="M385.1 1287.3l-6.2 42.7 8.1 40.7 6.2 -42.7Z"/><path fill="#0ab4d2" stroke="#0ab4d2" stroke-width=".5" d="M551.7 1308.1l-6.2 -48.3 3.9 -20.7 6.2 48.3Z"/><path fill="#15bfb7" stroke="#15bfb7" stroke-width=".5" d="M167.8 1205.2l-6.2 34.8 8.1 51 6.2 -34.8Z"/><path fill="#2e85f8" stroke="#2e85f8" stroke-width=".5" d="M334.3 1342l-6.2 -56.2 8.1 43.1 6.2 56.2Z"/><path fill="#259ce7" stroke="#259ce7" stroke-width=".5" d="M500.9 1315.5l-6.2 47 8.1 -61.9 6.2 -47Z"/><path fill="#ddbd29" stroke="#ddbd29" stroke-width=".5" d="M117 1097.9l-6.2 33 8.1 53.4 6.2 -33Z"/><path fill="#4660fb" stroke="#4660fb" stroke-width=".5" d="M283.6 1381.5l-6.2 -58 8.1 45.5 6.2 58Z"/><path fill="#22a2e4" stroke="#22a2e4" stroke-width=".5" d="M450.1 1307.7l-6.2 45.2 8.1 -59.5 6.2 -45.2Z"/><path fill="#3777fe" stroke="#3777fe" stroke-width=".5" d="M232.8 1308.8l-6.2 37.3 8.1 48 6.2 -37.3Z"/><path fill="#2c8ef2" stroke="#2c8ef2" stroke-width=".5" d="M399.4 1381.8l-6.2 -53.8 8.1 -57 6.2 53.8Z"/><path fill="#01b9c7" stroke="#01b9c7" stroke-width=".5" d="M182 1220.8l-6.2 35.4 8.1 50.4 6.2 -35.4Z"/><path fill="#4757f7" stroke="#4757f7" stroke-width=".5" d="M348.6 1440.7l-6.2 -55.6 8.1 -54.6 6.2 55.6Z"/><path fill="#62cd71" stroke="#62cd71" stroke-width=".5" d="M515.1 1206l-6.2 47.6 8.1 -62.5 6.2 -47.6Z"/><path fill="#4dcb82" stroke="#4dcb82" stroke-width=".5" d="M131.2 1214.8l-6.2 -63.5 8.1 52.8 6.2 63.5Z"/><path fill="#475bf9" stroke="#475bf9" stroke-width=".5" d="M297.8 1387.4l-6.2 39.7 8.1 -52.2 6.2 -39.7Z"/><path fill="#20c1b1" stroke="#20c1b1" stroke-width=".5" d="M464.4 1299.5l-6.2 -51.4 8.1 -60.1 6.2 51.4Z"/><path fill="#4dcc82" stroke="#4dcc82" stroke-width=".5" d="M80.4 1193.6l-3 -21.1 8.1 55.2 3 21.1Z"/><path fill="#2699e9" stroke="#2699e9" stroke-width=".5" d="M247 1318.8l-6.2 37.9 8.1 -49.8 6.2 -37.9Z"/><path fill="#2b92ee" stroke="#2b92ee" stroke-width=".5" d="M413.6 1377.9l-6.2 -53.2 8.1 -57.7 6.2 53.2Z"/><path fill="#0fb2d4" stroke="#0fb2d4" stroke-width=".5" d="M196.2 1332.3l-6.2 -61.1 8.1 -47.3 6.2 61.1Z"/><path fill="#2e85f8" stroke="#2e85f8" stroke-width=".5" d="M362.8 1344l-6.2 42.1 8.1 -55.2 6.2 -42.1Z"/><path fill="#84cc56" stroke="#84cc56" stroke-width=".5" d="M529.4 1192.4l-6.2 -48.9 8.1 34 6.2 48.9Z"/><path fill="#0cb3d3" stroke="#0cb3d3" stroke-width=".5" d="M145.5 1330.5l-6.2 -62.9 8.1 -44.9 6.2 62.9Z"/><path fill="#1aacdd" stroke="#1aacdd" stroke-width=".5" d="M312 1294.9l-6.2 40.3 8.1 -52.8 6.2 -40.3Z"/><path fill="#15afd9" stroke="#15afd9" stroke-width=".5" d="M478.6 1290.2l-6.2 -50.7 8.1 36.4 6.2 50.7Z"/><path fill="#4bcb83" stroke="#4bcb83" stroke-width=".5" d="M94.7 1216.5l-6.2 32.4 8.1 -42.5 6.2 -32.4Z"/><path fill="#07b5cf" stroke="#07b5cf" stroke-width=".5" d="M261.3 1327.7l-6.2 -58.6 8.1 -50.4 6.2 58.6Z"/><path fill="#2797eb" stroke="#2797eb" stroke-width=".5" d="M427.8 1275.7l-6.2 44.5 8.1 38.9 6.2 -44.5Z"/><path fill="#1babde" stroke="#1babde" stroke-width=".5" d="M210.5 1345.4l-6.2 -60.5 8.1 -47.9 6.2 60.5Z"/><path fill="#19addc" stroke="#19addc" stroke-width=".5" d="M377 1246l-6.2 42.7 8.1 41.3 6.2 -42.7Z"/><path fill="#01b8c9" stroke="#01b8c9" stroke-width=".5" d="M543.6 1274.7l-6.2 -48.3 8.1 33.4 6.2 48.3Z"/><path fill="#21c1b0" stroke="#21c1b0" stroke-width=".5" d="M159.7 1250.8l-6.2 34.8 8.1 -45.5 6.2 -34.8Z"/><path fill="#1baadf" stroke="#1baadf" stroke-width=".5" d="M326.3 1298.3l-6.2 -56.2 8.1 43.7 6.2 56.2Z"/><path fill="#2994ed" stroke="#2994ed" stroke-width=".5" d="M492.8 1279.7l-6.2 47 8.1 35.8 6.2 -47Z"/><path fill="#eaba31" stroke="#eaba31" stroke-width=".5" d="M108.9 1141l-6.2 33 8.1 -43.1 6.2 -33Z"/><path fill="#2c8ef2" stroke="#2c8ef2" stroke-width=".5" d="M275.5 1335.4l-6.2 -58 8.1 46.1 6.2 58Z"/><path fill="#259ce7" stroke="#259ce7" stroke-width=".5" d="M442.1 1269.4l-6.2 45.2 8.1 38.3 6.2 -45.2Z"/><path fill="#21a3e4" stroke="#21a3e4" stroke-width=".5" d="M224.7 1260.2l-6.2 37.3 8.1 48.6 6.2 -37.3Z"/><path fill="#2d8af5" stroke="#2d8af5" stroke-width=".5" d="M391.3 1341.1l-6.2 -53.8 8.1 40.7 6.2 53.8Z"/><path fill="#04b6cd" stroke="#04b6cd" stroke-width=".5" d="M557.9 1258.7l-6.2 49.4 3.9 -20.7 6.2 -49.4Z"/><path fill="#4bcb83" stroke="#4bcb83" stroke-width=".5" d="M173.9 1169.8l-6.2 35.4 8.1 51 6.2 -35.4Z"/><path fill="#4755f6" stroke="#4755f6" stroke-width=".5" d="M340.5 1397.6l-6.2 -55.6 8.1 43.1 6.2 55.6Z"/><path fill="#05bbc1" stroke="#05bbc1" stroke-width=".5" d="M507.1 1267.9l-6.2 47.6 8.1 -61.9 6.2 -47.6Z"/><path fill="#c9c129" stroke="#c9c129" stroke-width=".5" d="M123.2 1161.4l-6.2 -63.5 8.1 53.4 6.2 63.5Z"/><path fill="#475bf9" stroke="#475bf9" stroke-width=".5" d="M289.7 1341.8l-6.2 39.7 8.1 45.5 6.2 -39.7Z"/><path fill="#21a3e4" stroke="#21a3e4" stroke-width=".5" d="M456.3 1359l-6.2 -51.4 8.1 -59.5 6.2 51.4Z"/><path fill="#cec028" stroke="#cec028" stroke-width=".5" d="M72.4 1137.8l-3 -21.1 8.1 55.9 3 21.1Z"/><path fill="#259be8" stroke="#259be8" stroke-width=".5" d="M238.9 1270.9l-6.2 37.9 8.1 48 6.2 -37.9Z"/><path fill="#4660fb" stroke="#4660fb" stroke-width=".5" d="M405.5 1435l-6.2 -53.2 8.1 -57 6.2 53.2Z"/><path fill="#07b5d0" stroke="#07b5d0" stroke-width=".5" d="M188.2 1281.9l-6.2 -61.1 8.1 50.4 6.2 61.1Z"/><path fill="#4755f6" stroke="#4755f6" stroke-width=".5" d="M354.7 1398.6l-6.2 42.1 8.1 -54.6 6.2 -42.1Z"/><path fill="#6acd6a" stroke="#6acd6a" stroke-width=".5" d="M521.3 1254.9l-6.2 -48.9 8.1 -62.5 6.2 48.9Z"/><path fill="#03b7cc" stroke="#03b7cc" stroke-width=".5" d="M137.4 1277.7l-6.2 -62.9 8.1 52.8 6.2 62.9Z"/><path fill="#2e85f8" stroke="#2e85f8" stroke-width=".5" d="M304 1347.1l-6.2 40.3 8.1 -52.2 6.2 -40.3Z"/><path fill="#1caadf" stroke="#1caadf" stroke-width=".5" d="M470.5 1350.3l-6.2 -50.7 8.1 -60.1 6.2 50.7Z"/><path fill="#5fcd73" stroke="#5fcd73" stroke-width=".5" d="M86.6 1161.2l-6.2 32.4 8.1 55.2 6.2 -32.4Z"/><path fill="#2995ec" stroke="#2995ec" stroke-width=".5" d="M253.2 1377.5l-6.2 -58.6 8.1 -49.8 6.2 58.6Z"/><path fill="#2b92ee" stroke="#2b92ee" stroke-width=".5" d="M419.8 1333.4l-6.2 44.5 8.1 -57.7 6.2 -44.5Z"/><path fill="#2d88f6" stroke="#2d88f6" stroke-width=".5" d="M202.4 1392.7l-6.2 -60.5 8.1 -47.3 6.2 60.5Z"/><path fill="#1baadf" stroke="#1baadf" stroke-width=".5" d="M369 1301.3l-6.2 42.7 8.1 -55.2 6.2 -42.7Z"/><path fill="#32c69f" stroke="#32c69f" stroke-width=".5" d="M535.5 1240.7l-6.2 -48.3 8.1 34 6.2 48.3Z"/><path fill="#18addb" stroke="#18addb" stroke-width=".5" d="M151.6 1295.7l-6.2 34.8 8.1 -44.9 6.2 -34.8Z"/><path fill="#1ca9df" stroke="#1ca9df" stroke-width=".5" d="M318.2 1351.1l-6.2 -56.2 8.1 -52.8 6.2 56.2Z"/><path fill="#12b1d7" stroke="#12b1d7" stroke-width=".5" d="M484.8 1243.2l-6.2 47 8.1 36.4 6.2 -47Z"/><path fill="#9ec942" stroke="#9ec942" stroke-width=".5" d="M100.8 1183.4l-6.2 33 8.1 -42.5 6.2 -33Z"/><path fill="#2c8ff1" stroke="#2c8ff1" stroke-width=".5" d="M267.4 1385.8l-6.2 -58 8.1 -50.4 6.2 58Z"/><path fill="#01b7ca" stroke="#01b7ca" stroke-width=".5" d="M434 1230.5l-6.2 45.2 8.1 38.9 6.2 -45.2Z"/><path fill="#1fa5e2" stroke="#1fa5e2" stroke-width=".5" d="M216.6 1308.1l-6.2 37.3 8.1 -47.9 6.2 -37.3Z"/><path fill="#1aacdd" stroke="#1aacdd" stroke-width=".5" d="M383.2 1299.8l-6.2 -53.8 8.1 41.3 6.2 53.8Z"/><path fill="#02bac4" stroke="#02bac4" stroke-width=".5" d="M549.8 1225.3l-6.2 49.4 8.1 33.4 6.2 -49.4Z"/><path fill="#58cc79" stroke="#58cc79" stroke-width=".5" d="M165.9 1215.3l-6.2 35.4 8.1 -45.5 6.2 -35.4Z"/><path fill="#2f81fa" stroke="#2f81fa" stroke-width=".5" d="M332.4 1353.9l-6.2 -55.6 8.1 43.7 6.2 55.6Z"/><path fill="#02b7cb" stroke="#02b7cb" stroke-width=".5" d="M499 1232.1l-6.2 47.6 8.1 35.8 6.2 -47.6Z"/><path fill="#d8be28" stroke="#d8be28" stroke-width=".5" d="M115.1 1204.5l-6.2 -63.5 8.1 -43.1 6.2 63.5Z"/><path fill="#2d8af5" stroke="#2d8af5" stroke-width=".5" d="M281.7 1295.7l-6.2 39.7 8.1 46.1 6.2 -39.7Z"/><path fill="#249de6" stroke="#249de6" stroke-width=".5" d="M448.2 1320.8l-6.2 -51.4 8.1 38.3 6.2 51.4Z"/><path fill="#e1bc2b" stroke="#e1bc2b" stroke-width=".5" d="M64.3 1178.4l-3 -21.1 8.1 -40.7 3 21.1Z"/><path fill="#05bbc1" stroke="#05bbc1" stroke-width=".5" d="M230.9 1222.3l-6.2 37.9 8.1 48.6 6.2 -37.9Z"/><path fill="#475bf9" stroke="#475bf9" stroke-width=".5" d="M397.4 1394.3l-6.2 -53.2 8.1 40.7 6.2 53.2Z"/><path fill="#41ca8c" stroke="#41ca8c" stroke-width=".5" d="M564 1208.7l-6.2 50 3.9 -20.7 6.2 -50Z"/><path fill="#3dc990" stroke="#3dc990" stroke-width=".5" d="M180.1 1230.9l-6.2 -61.1 8.1 51 6.2 61.1Z"/><path fill="#4852f4" stroke="#4852f4" stroke-width=".5" d="M346.7 1355.5l-6.2 42.1 8.1 43.1 6.2 -42.1Z"/><path fill="#0bbdbd" stroke="#0bbdbd" stroke-width=".5" d="M513.2 1316.8l-6.2 -48.9 8.1 -61.9 6.2 48.9Z"/><path fill="#48cb86" stroke="#48cb86" stroke-width=".5" d="M129.3 1224.3l-6.2 -62.9 8.1 53.4 6.2 62.9Z"/><path fill="#2e85f8" stroke="#2e85f8" stroke-width=".5" d="M295.9 1301.5l-6.2 40.3 8.1 45.5 6.2 -40.3Z"/><path fill="#327cfc" stroke="#327cfc" stroke-width=".5" d="M462.5 1409.8l-6.2 -50.7 8.1 -59.5 6.2 50.7Z"/><path fill="#debd29" stroke="#debd29" stroke-width=".5" d="M78.5 1105.4l-6.2 32.4 8.1 55.9 6.2 -32.4Z"/><path fill="#2797eb" stroke="#2797eb" stroke-width=".5" d="M245.1 1329.5l-6.2 -58.6 8.1 48 6.2 58.6Z"/><path fill="#4660fb" stroke="#4660fb" stroke-width=".5" d="M411.7 1390.4l-6.2 44.5 8.1 -57 6.2 -44.5Z"/><path fill="#2d8cf3" stroke="#2d8cf3" stroke-width=".5" d="M194.3 1342.3l-6.2 -60.5 8.1 50.4 6.2 60.5Z"/><path fill="#2f81fa" stroke="#2f81fa" stroke-width=".5" d="M360.9 1355.9l-6.2 42.7 8.1 -54.6 6.2 -42.7Z"/><path fill="#26c2ac" stroke="#26c2ac" stroke-width=".5" d="M527.5 1303.2l-6.2 -48.3 8.1 -62.5 6.2 48.3Z"/><path fill="#10b2d5" stroke="#10b2d5" stroke-width=".5" d="M143.6 1242.9l-6.2 34.8 8.1 52.8 6.2 -34.8Z"/><path fill="#2f82f9" stroke="#2f82f9" stroke-width=".5" d="M310.1 1403.3l-6.2 -56.2 8.1 -52.2 6.2 56.2Z"/><path fill="#1aabdd" stroke="#1aabdd" stroke-width=".5" d="M476.7 1303.3l-6.2 47 8.1 -60.1 6.2 -47Z"/><path fill="#b4c534" stroke="#b4c534" stroke-width=".5" d="M92.8 1128.2l-6.2 33 8.1 55.2 6.2 -33Z"/><path fill="#4563fd" stroke="#4563fd" stroke-width=".5" d="M259.3 1435.5l-6.2 -58 8.1 -49.8 6.2 58Z"/><path fill="#08b4d0" stroke="#08b4d0" stroke-width=".5" d="M425.9 1288.2l-6.2 45.2 8.1 -57.7 6.2 -45.2Z"/><path fill="#2f82fa" stroke="#2f82fa" stroke-width=".5" d="M208.6 1355.5l-6.2 37.3 8.1 -47.3 6.2 -37.3Z"/><path fill="#1ca9df" stroke="#1ca9df" stroke-width=".5" d="M375.1 1355l-6.2 -53.8 8.1 -55.2 6.2 53.8Z"/><path fill="#36c898" stroke="#36c898" stroke-width=".5" d="M541.7 1191.3l-6.2 49.4 8.1 34 6.2 -49.4Z"/><path fill="#1dc0b3" stroke="#1dc0b3" stroke-width=".5" d="M157.8 1260.2l-6.2 35.4 8.1 -44.9 6.2 -35.4Z"/><path fill="#3080fa" stroke="#3080fa" stroke-width=".5" d="M324.4 1406.7l-6.2 -55.6 8.1 -52.8 6.2 55.6Z"/><path fill="#32c69e" stroke="#32c69e" stroke-width=".5" d="M490.9 1195.6l-6.2 47.6 8.1 36.4 6.2 -47.6Z"/><path fill="#85cb55" stroke="#85cb55" stroke-width=".5" d="M107 1246.9l-6.2 -63.5 8.1 -42.5 6.2 63.5Z"/><path fill="#2d8bf4" stroke="#2d8bf4" stroke-width=".5" d="M273.6 1346.1l-6.2 39.7 8.1 -50.4 6.2 -39.7Z"/><path fill="#01b8c9" stroke="#01b8c9" stroke-width=".5" d="M440.2 1281.9l-6.2 -51.4 8.1 38.9 6.2 51.4Z"/><path fill="#97ca48" stroke="#97ca48" stroke-width=".5" d="M56.2 1218.5l-3 -21.1 8.1 -40.1 3 21.1Z"/><path fill="#0abdbd" stroke="#0abdbd" stroke-width=".5" d="M222.8 1270.3l-6.2 37.9 8.1 -47.9 6.2 -37.9Z"/><path fill="#2e85f8" stroke="#2e85f8" stroke-width=".5" d="M389.4 1353l-6.2 -53.2 8.1 41.3 6.2 53.2Z"/><path fill="#52cc7e" stroke="#52cc7e" stroke-width=".5" d="M556 1175.3l-6.2 50 8.1 33.4 6.2 -50Z"/><path fill="#47cb87" stroke="#47cb87" stroke-width=".5" d="M172 1276.4l-6.2 -61.1 8.1 -45.5 6.2 61.1Z"/><path fill="#307ffb" stroke="#307ffb" stroke-width=".5" d="M338.6 1311.8l-6.2 42.1 8.1 43.7 6.2 -42.1Z"/><path fill="#01b9c7" stroke="#01b9c7" stroke-width=".5" d="M505.2 1281l-6.2 -48.9 8.1 35.8 6.2 48.9Z"/><path fill="#59cc78" stroke="#59cc78" stroke-width=".5" d="M121.2 1267.3l-6.2 -62.9 8.1 -43.1 6.2 62.9Z"/><path fill="#1aacdd" stroke="#1aacdd" stroke-width=".5" d="M287.8 1255.4l-6.2 40.3 8.1 46.1 6.2 -40.3Z"/><path fill="#3975fe" stroke="#3975fe" stroke-width=".5" d="M454.4 1371.5l-6.2 -50.7 8.1 38.3 6.2 50.7Z"/><path fill="#efba35" stroke="#efba35" stroke-width=".5" d="M70.5 1146l-6.2 32.4 8.1 -40.7 6.2 -32.4Z"/><path fill="#01b9c8" stroke="#01b9c8" stroke-width=".5" d="M237 1281l-6.2 -58.6 8.1 48.6 6.2 58.6Z"/><path fill="#475bf9" stroke="#475bf9" stroke-width=".5" d="M403.6 1349.7l-6.2 44.5 8.1 40.7 6.2 -44.5Z"/><path fill="#4ccb83" stroke="#4ccb83" stroke-width=".5" d="M570.2 1255.2l-6.2 -46.5 3.9 -20.7 6.2 46.5Z"/><path fill="#0bb3d2" stroke="#0bb3d2" stroke-width=".5" d="M186.3 1291.3l-6.2 -60.5 8.1 51 6.2 60.5Z"/><path fill="#307ffb" stroke="#307ffb" stroke-width=".5" d="M352.8 1312.8l-6.2 42.7 8.1 43.1 6.2 -42.7Z"/><path fill="#20a4e3" stroke="#20a4e3" stroke-width=".5" d="M519.4 1365.1l-6.2 -48.3 8.1 -61.9 6.2 48.3Z"/><path fill="#39c895" stroke="#39c895" stroke-width=".5" d="M135.5 1189.4l-6.2 34.8 8.1 53.4 6.2 -34.8Z"/><path fill="#2f82f9" stroke="#2f82f9" stroke-width=".5" d="M302.1 1357.7l-6.2 -56.2 8.1 45.5 6.2 56.2Z"/><path fill="#317efb" stroke="#317efb" stroke-width=".5" d="M468.6 1362.8l-6.2 47 8.1 -59.5 6.2 -47Z"/><path fill="#feca33" stroke="#feca33" stroke-width=".5" d="M84.7 1072.3l-6.2 33 8.1 55.9 6.2 -33Z"/><path fill="#4465fd" stroke="#4465fd" stroke-width=".5" d="M251.3 1387.6l-6.2 -58 8.1 48 6.2 58Z"/><path fill="#2c8ef2" stroke="#2c8ef2" stroke-width=".5" d="M417.8 1345.2l-6.2 45.2 8.1 -57 6.2 -45.2Z"/><path fill="#2e86f7" stroke="#2e86f7" stroke-width=".5" d="M200.5 1305.1l-6.2 37.3 8.1 50.4 6.2 -37.3Z"/><path fill="#3080fa" stroke="#3080fa" stroke-width=".5" d="M367.1 1409.7l-6.2 -53.8 8.1 -54.6 6.2 53.8Z"/><path fill="#2cc4a6" stroke="#2cc4a6" stroke-width=".5" d="M533.6 1253.8l-6.2 49.4 8.1 -62.5 6.2 -49.4Z"/><path fill="#28c3ab" stroke="#28c3ab" stroke-width=".5" d="M149.7 1207.4l-6.2 35.4 8.1 52.8 6.2 -35.4Z"/><path fill="#4851f4" stroke="#4851f4" stroke-width=".5" d="M316.3 1458.9l-6.2 -55.6 8.1 -52.2 6.2 55.6Z"/><path fill="#2ac3a9" stroke="#2ac3a9" stroke-width=".5" d="M482.9 1255.7l-6.2 47.6 8.1 -60.1 6.2 -47.6Z"/><path fill="#9bc944" stroke="#9bc944" stroke-width=".5" d="M98.9 1191.7l-6.2 -63.5 8.1 55.2 6.2 63.5Z"/><path fill="#465ffb" stroke="#465ffb" stroke-width=".5" d="M265.5 1395.8l-6.2 39.7 8.1 -49.8 6.2 -39.7Z"/><path fill="#07b5cf" stroke="#07b5cf" stroke-width=".5" d="M432.1 1339.6l-6.2 -51.4 8.1 -57.7 6.2 51.4Z"/><path fill="#82cc58" stroke="#82cc58" stroke-width=".5" d="M52.4 1201l-3 -21.1 3.9 17.5 3 21.1Z"/><path fill="#21a4e3" stroke="#21a4e3" stroke-width=".5" d="M214.7 1317.6l-6.2 37.9 8.1 -47.3 6.2 -37.9Z"/><path fill="#2f82f9" stroke="#2f82f9" stroke-width=".5" d="M381.3 1408.2l-6.2 -53.2 8.1 -55.2 6.2 53.2Z"/><path fill="#a5c83d" stroke="#a5c83d" stroke-width=".5" d="M547.9 1141.3l-6.2 50 8.1 34 6.2 -50Z"/><path fill="#0bbdbd" stroke="#0bbdbd" stroke-width=".5" d="M164 1321.3l-6.2 -61.1 8.1 -44.9 6.2 61.1Z"/><path fill="#317efb" stroke="#317efb" stroke-width=".5" d="M330.5 1364.6l-6.2 42.1 8.1 -52.8 6.2 -42.1Z"/><path fill="#36c799" stroke="#36c799" stroke-width=".5" d="M497.1 1244.6l-6.2 -48.9 8.1 36.4 6.2 48.9Z"/><path fill="#22c1b0" stroke="#22c1b0" stroke-width=".5" d="M113.2 1309.8l-6.2 -62.9 8.1 -42.5 6.2 62.9Z"/><path fill="#19addc" stroke="#19addc" stroke-width=".5" d="M279.7 1305.8l-6.2 40.3 8.1 -50.4 6.2 -40.3Z"/><path fill="#2699e9" stroke="#2699e9" stroke-width=".5" d="M446.3 1332.7l-6.2 -50.7 8.1 38.9 6.2 50.7Z"/><path fill="#aac739" stroke="#aac739" stroke-width=".5" d="M62.4 1186.1l-6.2 32.4 8.1 -40.1 6.2 -32.4Z"/><path fill="#02bac4" stroke="#02bac4" stroke-width=".5" d="M229 1328.9l-6.2 -58.6 8.1 -47.9 6.2 58.6Z"/><path fill="#2e85f8" stroke="#2e85f8" stroke-width=".5" d="M395.5 1308.4l-6.2 44.5 8.1 41.3 6.2 -44.5Z"/><path fill="#5ecd74" stroke="#5ecd74" stroke-width=".5" d="M562.1 1221.8l-6.2 -46.5 8.1 33.4 6.2 46.5Z"/><path fill="#03b7cc" stroke="#03b7cc" stroke-width=".5" d="M178.2 1336.8l-6.2 -60.5 8.1 -45.5 6.2 60.5Z"/><path fill="#20a5e2" stroke="#20a5e2" stroke-width=".5" d="M344.8 1269l-6.2 42.7 8.1 43.7 6.2 -42.7Z"/><path fill="#259de7" stroke="#259de7" stroke-width=".5" d="M511.3 1329.3l-6.2 -48.3 8.1 35.8 6.2 48.3Z"/><path fill="#46cb88" stroke="#46cb88" stroke-width=".5" d="M127.4 1232.5l-6.2 34.8 8.1 -43.1 6.2 -34.8Z"/><path fill="#1ca9df" stroke="#1ca9df" stroke-width=".5" d="M294 1311.6l-6.2 -56.2 8.1 46.1 6.2 56.2Z"/><path fill="#3777fe" stroke="#3777fe" stroke-width=".5" d="M460.6 1324.5l-6.2 47 8.1 38.3 6.2 -47Z"/><path fill="#fad52e" stroke="#fad52e" stroke-width=".5" d="M76.6 1113l-6.2 33 8.1 -40.7 6.2 -33Z"/><path fill="#2995ec" stroke="#2995ec" stroke-width=".5" d="M243.2 1339l-6.2 -58 8.1 48.6 6.2 58Z"/><path fill="#2d8af5" stroke="#2d8af5" stroke-width=".5" d="M409.8 1304.6l-6.2 45.2 8.1 40.7 6.2 -45.2Z"/><path fill="#11beba" stroke="#11beba" stroke-width=".5" d="M576.4 1301.1l-6.2 -45.9 3.9 -20.7 6.2 45.9Z"/><path fill="#15afd9" stroke="#15afd9" stroke-width=".5" d="M192.4 1254.1l-6.2 37.3 8.1 51 6.2 -37.3Z"/><path fill="#317efb" stroke="#317efb" stroke-width=".5" d="M359 1366.5l-6.2 -53.8 8.1 43.1 6.2 53.8Z"/><path fill="#1ea8e1" stroke="#1ea8e1" stroke-width=".5" d="M525.6 1315.7l-6.2 49.4 8.1 -61.9 6.2 -49.4Z"/><path fill="#89cb52" stroke="#89cb52" stroke-width=".5" d="M141.6 1154l-6.2 35.4 8.1 53.4 6.2 -35.4Z"/><path fill="#4851f4" stroke="#4851f4" stroke-width=".5" d="M308.2 1413.4l-6.2 -55.6 8.1 45.5 6.2 55.6Z"/><path fill="#1da8e0" stroke="#1da8e0" stroke-width=".5" d="M474.8 1315.2l-6.2 47.6 8.1 -59.5 6.2 -47.6Z"/><path fill="#febf3b" stroke="#febf3b" stroke-width=".5" d="M90.9 1135.8l-6.2 -63.5 8.1 55.9 6.2 63.5Z"/><path fill="#4661fc" stroke="#4661fc" stroke-width=".5" d="M257.4 1347.9l-6.2 39.7 8.1 48 6.2 -39.7Z"/><path fill="#2c8ff1" stroke="#2c8ff1" stroke-width=".5" d="M424 1396.6l-6.2 -51.4 8.1 -57 6.2 51.4Z"/><path fill="#1ea7e1" stroke="#1ea7e1" stroke-width=".5" d="M206.7 1267.2l-6.2 37.9 8.1 50.4 6.2 -37.9Z"/><path fill="#4851f4" stroke="#4851f4" stroke-width=".5" d="M373.2 1462.8l-6.2 -53.2 8.1 -54.6 6.2 53.2Z"/><path fill="#8ccb50" stroke="#8ccb50" stroke-width=".5" d="M539.8 1203.8l-6.2 50 8.1 -62.5 6.2 -50Z"/><path fill="#1ac0b4" stroke="#1ac0b4" stroke-width=".5" d="M155.9 1268.5l-6.2 -61.1 8.1 52.8 6.2 61.1Z"/><path fill="#484ff2" stroke="#484ff2" stroke-width=".5" d="M322.5 1416.8l-6.2 42.1 8.1 -52.2 6.2 -42.1Z"/><path fill="#2ec4a4" stroke="#2ec4a4" stroke-width=".5" d="M489 1304.7l-6.2 -48.9 8.1 -60.1 6.2 48.9Z"/><path fill="#2ec4a4" stroke="#2ec4a4" stroke-width=".5" d="M105.1 1254.6l-6.2 -62.9 8.1 55.2 6.2 62.9Z"/><path fill="#2d88f6" stroke="#2d88f6" stroke-width=".5" d="M271.7 1355.5l-6.2 40.3 8.1 -49.8 6.2 -40.3Z"/><path fill="#2995ec" stroke="#2995ec" stroke-width=".5" d="M438.2 1390.3l-6.2 -50.7 8.1 -57.7 6.2 50.7Z"/><path fill="#97ca48" stroke="#97ca48" stroke-width=".5" d="M58.5 1168.6l-6.2 32.4 3.9 17.5 6.2 -32.4Z"/><path fill="#249fe5" stroke="#249fe5" stroke-width=".5" d="M220.9 1376.2l-6.2 -58.6 8.1 -47.3 6.2 58.6Z"/><path fill="#2f82f9" stroke="#2f82f9" stroke-width=".5" d="M387.5 1363.7l-6.2 44.5 8.1 -55.2 6.2 -44.5Z"/><path fill="#b2c535" stroke="#b2c535" stroke-width=".5" d="M554 1187.8l-6.2 -46.5 8.1 34 6.2 46.5Z"/><path fill="#259be8" stroke="#259be8" stroke-width=".5" d="M170.1 1381.8l-6.2 -60.5 8.1 -44.9 6.2 60.5Z"/><path fill="#20a4e3" stroke="#20a4e3" stroke-width=".5" d="M336.7 1321.8l-6.2 42.7 8.1 -52.8 6.2 -42.7Z"/><path fill="#03b7cc" stroke="#03b7cc" stroke-width=".5" d="M503.3 1292.9l-6.2 -48.3 8.1 36.4 6.2 48.3Z"/><path fill="#0fbebb" stroke="#0fbebb" stroke-width=".5" d="M119.3 1275l-6.2 34.8 8.1 -42.5 6.2 -34.8Z"/><path fill="#1baadf" stroke="#1baadf" stroke-width=".5" d="M285.9 1362l-6.2 -56.2 8.1 -50.4 6.2 56.2Z"/><path fill="#259be8" stroke="#259be8" stroke-width=".5" d="M452.5 1285.7l-6.2 47 8.1 38.9 6.2 -47Z"/><path fill="#efba35" stroke="#efba35" stroke-width=".5" d="M68.6 1153l-6.2 33 8.1 -40.1 6.2 -33Z"/><path fill="#2798ea" stroke="#2798ea" stroke-width=".5" d="M235.1 1386.9l-6.2 -58 8.1 -47.9 6.2 58Z"/><path fill="#1aacdd" stroke="#1aacdd" stroke-width=".5" d="M401.7 1263.3l-6.2 45.2 8.1 41.3 6.2 -45.2Z"/><path fill="#22c1b0" stroke="#22c1b0" stroke-width=".5" d="M568.3 1267.7l-6.2 -45.9 8.1 33.4 6.2 45.9Z"/><path fill="#0db3d3" stroke="#0db3d3" stroke-width=".5" d="M184.4 1299.6l-6.2 37.3 8.1 -45.5 6.2 -37.3Z"/><path fill="#20a4e3" stroke="#20a4e3" stroke-width=".5" d="M350.9 1322.8l-6.2 -53.8 8.1 43.7 6.2 53.8Z"/><path fill="#23a0e5" stroke="#23a0e5" stroke-width=".5" d="M517.5 1279.9l-6.2 49.4 8.1 35.8 6.2 -49.4Z"/><path fill="#9dc943" stroke="#9dc943" stroke-width=".5" d="M133.6 1197.1l-6.2 35.4 8.1 -43.1 6.2 -35.4Z"/><path fill="#3080fa" stroke="#3080fa" stroke-width=".5" d="M300.1 1367.2l-6.2 -55.6 8.1 46.1 6.2 55.6Z"/><path fill="#21a3e4" stroke="#21a3e4" stroke-width=".5" d="M466.7 1277l-6.2 47.6 8.1 38.3 6.2 -47.6Z"/><path fill="#feca33" stroke="#feca33" stroke-width=".5" d="M82.8 1176.5l-6.2 -63.5 8.1 -40.7 6.2 63.5Z"/><path fill="#2b91ef" stroke="#2b91ef" stroke-width=".5" d="M249.4 1299.3l-6.2 39.7 8.1 48.6 6.2 -39.7Z"/><path fill="#2d8bf4" stroke="#2d8bf4" stroke-width=".5" d="M415.9 1355.9l-6.2 -51.4 8.1 40.7 6.2 51.4Z"/><path fill="#1fc1b1" stroke="#1fc1b1" stroke-width=".5" d="M582.5 1249.3l-6.2 51.8 3.9 -20.7 6.2 -51.8Z"/><path fill="#26c2ad" stroke="#26c2ad" stroke-width=".5" d="M198.6 1216.2l-6.2 37.9 8.1 51 6.2 -37.9Z"/><path fill="#484ff2" stroke="#484ff2" stroke-width=".5" d="M365.2 1419.7l-6.2 -53.2 8.1 43.1 6.2 53.2Z"/><path fill="#26c2ac" stroke="#26c2ac" stroke-width=".5" d="M531.7 1265.7l-6.2 50 8.1 -61.9 6.2 -50Z"/><path fill="#75cc61" stroke="#75cc61" stroke-width=".5" d="M147.8 1215l-6.2 -61.1 8.1 53.4 6.2 61.1Z"/><path fill="#484ff2" stroke="#484ff2" stroke-width=".5" d="M314.4 1371.2l-6.2 42.1 8.1 45.5 6.2 -42.1Z"/><path fill="#1babde" stroke="#1babde" stroke-width=".5" d="M481 1364.1l-6.2 -48.9 8.1 -59.5 6.2 48.9Z"/><path fill="#9bc944" stroke="#9bc944" stroke-width=".5" d="M97 1198.7l-6.2 -62.9 8.1 55.9 6.2 62.9Z"/><path fill="#2d8bf4" stroke="#2d8bf4" stroke-width=".5" d="M263.6 1307.6l-6.2 40.3 8.1 48 6.2 -40.3Z"/><path fill="#4563fd" stroke="#4563fd" stroke-width=".5" d="M430.2 1447.4l-6.2 -50.7 8.1 -57 6.2 50.7Z"/><path fill="#21a3e4" stroke="#21a3e4" stroke-width=".5" d="M212.8 1325.8l-6.2 -58.6 8.1 50.4 6.2 58.6Z"/><path fill="#4851f4" stroke="#4851f4" stroke-width=".5" d="M379.4 1418.3l-6.2 44.5 8.1 -54.6 6.2 -44.5Z"/><path fill="#9ac945" stroke="#9ac945" stroke-width=".5" d="M546 1250.3l-6.2 -46.5 8.1 -62.5 6.2 46.5Z"/><path fill="#23a0e5" stroke="#23a0e5" stroke-width=".5" d="M162 1328.9l-6.2 -60.5 8.1 52.8 6.2 60.5Z"/><path fill="#327bfc" stroke="#327bfc" stroke-width=".5" d="M328.6 1374l-6.2 42.7 8.1 -52.2 6.2 -42.7Z"/><path fill="#0fb2d4" stroke="#0fb2d4" stroke-width=".5" d="M495.2 1353l-6.2 -48.3 8.1 -60.1 6.2 48.3Z"/><path fill="#22c1b0" stroke="#22c1b0" stroke-width=".5" d="M111.3 1219.7l-6.2 34.8 8.1 55.2 6.2 -34.8Z"/><path fill="#2e85f8" stroke="#2e85f8" stroke-width=".5" d="M277.8 1411.7l-6.2 -56.2 8.1 -49.8 6.2 56.2Z"/><path fill="#2797eb" stroke="#2797eb" stroke-width=".5" d="M444.4 1343.3l-6.2 47 8.1 -57.7 6.2 -47Z"/><path fill="#e1bc2b" stroke="#e1bc2b" stroke-width=".5" d="M64.7 1135.6l-6.2 33 3.9 17.5 6.2 -33Z"/><path fill="#3e70ff" stroke="#3e70ff" stroke-width=".5" d="M227.1 1434.3l-6.2 -58 8.1 -47.3 6.2 58Z"/><path fill="#1ca9df" stroke="#1ca9df" stroke-width=".5" d="M393.6 1318.5l-6.2 45.2 8.1 -55.2 6.2 -45.2Z"/><path fill="#54cc7c" stroke="#54cc7c" stroke-width=".5" d="M560.2 1233.7l-6.2 -45.9 8.1 34 6.2 45.9Z"/><path fill="#2895ec" stroke="#2895ec" stroke-width=".5" d="M176.3 1344.5l-6.2 37.3 8.1 -44.9 6.2 -37.3Z"/><path fill="#21a3e3" stroke="#21a3e3" stroke-width=".5" d="M342.9 1375.6l-6.2 -53.8 8.1 -52.8 6.2 53.8Z"/><path fill="#01b9c7" stroke="#01b9c7" stroke-width=".5" d="M509.4 1243.5l-6.2 49.4 8.1 36.4 6.2 -49.4Z"/><path fill="#46cb88" stroke="#46cb88" stroke-width=".5" d="M125.5 1239.5l-6.2 35.4 8.1 -42.5 6.2 -35.4Z"/><path fill="#2f81fa" stroke="#2f81fa" stroke-width=".5" d="M292.1 1417.6l-6.2 -55.6 8.1 -50.4 6.2 55.6Z"/><path fill="#05bbc1" stroke="#05bbc1" stroke-width=".5" d="M458.7 1238.1l-6.2 47.6 8.1 38.9 6.2 -47.6Z"/><path fill="#debd29" stroke="#debd29" stroke-width=".5" d="M74.7 1216.5l-6.2 -63.5 8.1 -40.1 6.2 63.5Z"/><path fill="#2994ed" stroke="#2994ed" stroke-width=".5" d="M241.3 1347.2l-6.2 39.7 8.1 -47.9 6.2 -39.7Z"/><path fill="#19addc" stroke="#19addc" stroke-width=".5" d="M407.9 1314.6l-6.2 -51.4 8.1 41.3 6.2 51.4Z"/><path fill="#2cc4a7" stroke="#2cc4a7" stroke-width=".5" d="M574.4 1215.9l-6.2 51.8 8.1 33.4 6.2 -51.8Z"/><path fill="#2dc4a6" stroke="#2dc4a6" stroke-width=".5" d="M190.5 1261.7l-6.2 37.9 8.1 -45.5 6.2 -37.9Z"/><path fill="#327bfc" stroke="#327bfc" stroke-width=".5" d="M357.1 1376l-6.2 -53.2 8.1 43.7 6.2 53.2Z"/><path fill="#15bfb7" stroke="#15bfb7" stroke-width=".5" d="M523.7 1229.9l-6.2 50 8.1 35.8 6.2 -50Z"/><path fill="#89cb52" stroke="#89cb52" stroke-width=".5" d="M139.7 1258.1l-6.2 -61.1 8.1 -43.1 6.2 61.1Z"/><path fill="#317efb" stroke="#317efb" stroke-width=".5" d="M306.3 1325.1l-6.2 42.1 8.1 46.1 6.2 -42.1Z"/><path fill="#1fa5e2" stroke="#1fa5e2" stroke-width=".5" d="M472.9 1325.9l-6.2 -48.9 8.1 38.3 6.2 48.9Z"/><path fill="#b4c534" stroke="#b4c534" stroke-width=".5" d="M89 1239.4l-6.2 -62.9 8.1 -40.7 6.2 62.9Z"/><path fill="#12b1d6" stroke="#12b1d6" stroke-width=".5" d="M255.5 1259l-6.2 40.3 8.1 48.6 6.2 -40.3Z"/><path fill="#465ffb" stroke="#465ffb" stroke-width=".5" d="M422.1 1406.7l-6.2 -50.7 8.1 40.7 6.2 50.7Z"/><path fill="#7ccc5c" stroke="#7ccc5c" stroke-width=".5" d="M588.7 1196.8l-6.2 52.4 3.9 -20.7 6.2 -52.4Z"/><path fill="#1bc0b4" stroke="#1bc0b4" stroke-width=".5" d="M204.8 1274.8l-6.2 -58.6 8.1 51 6.2 58.6Z"/><path fill="#484ff2" stroke="#484ff2" stroke-width=".5" d="M371.3 1375.2l-6.2 44.5 8.1 43.1 6.2 -44.5Z"/><path fill="#2dc4a5" stroke="#2dc4a5" stroke-width=".5" d="M537.9 1312.2l-6.2 -46.5 8.1 -61.9 6.2 46.5Z"/><path fill="#1ac0b4" stroke="#1ac0b4" stroke-width=".5" d="M154 1275.5l-6.2 -60.5 8.1 53.4 6.2 60.5Z"/><path fill="#327bfc" stroke="#327bfc" stroke-width=".5" d="M320.5 1328.5l-6.2 42.7 8.1 45.5 6.2 -42.7Z"/><path fill="#2d88f6" stroke="#2d88f6" stroke-width=".5" d="M487.1 1412.5l-6.2 -48.3 8.1 -59.5 6.2 48.3Z"/><path fill="#85cb55" stroke="#85cb55" stroke-width=".5" d="M103.2 1163.9l-6.2 34.8 8.1 55.9 6.2 -34.8Z"/><path fill="#2d87f6" stroke="#2d87f6" stroke-width=".5" d="M269.8 1363.8l-6.2 -56.2 8.1 48 6.2 56.2Z"/><path fill="#4465fd" stroke="#4465fd" stroke-width=".5" d="M436.3 1400.4l-6.2 47 8.1 -57 6.2 -47Z"/><path fill="#3975fe" stroke="#3975fe" stroke-width=".5" d="M219 1383.9l-6.2 -58 8.1 50.4 6.2 58Z"/><path fill="#3080fa" stroke="#3080fa" stroke-width=".5" d="M385.6 1373.1l-6.2 45.2 8.1 -54.6 6.2 -45.2Z"/><path fill="#3fca8e" stroke="#3fca8e" stroke-width=".5" d="M552.1 1296.2l-6.2 -45.9 8.1 -62.5 6.2 45.9Z"/><path fill="#259be8" stroke="#259be8" stroke-width=".5" d="M168.2 1291.7l-6.2 37.3 8.1 52.8 6.2 -37.3Z"/><path fill="#347afd" stroke="#347afd" stroke-width=".5" d="M334.8 1427.8l-6.2 -53.8 8.1 -52.2 6.2 53.8Z"/><path fill="#07b5d0" stroke="#07b5d0" stroke-width=".5" d="M501.4 1303.6l-6.2 49.4 8.1 -60.1 6.2 -49.4Z"/><path fill="#59cc78" stroke="#59cc78" stroke-width=".5" d="M117.4 1184.3l-6.2 35.4 8.1 55.2 6.2 -35.4Z"/><path fill="#4755f6" stroke="#4755f6" stroke-width=".5" d="M284 1467.3l-6.2 -55.6 8.1 -49.8 6.2 55.6Z"/><path fill="#01b9c8" stroke="#01b9c8" stroke-width=".5" d="M450.6 1295.7l-6.2 47.6 8.1 -57.7 6.2 -47.6Z"/><path fill="#cec028" stroke="#cec028" stroke-width=".5" d="M70.9 1199.1l-6.2 -63.5 3.9 17.5 6.2 63.5Z"/><path fill="#416bfe" stroke="#416bfe" stroke-width=".5" d="M233.2 1394.6l-6.2 39.7 8.1 -47.3 6.2 -39.7Z"/><path fill="#1baadf" stroke="#1baadf" stroke-width=".5" d="M399.8 1369.9l-6.2 -51.4 8.1 -55.2 6.2 51.4Z"/><path fill="#63cd6f" stroke="#63cd6f" stroke-width=".5" d="M566.4 1181.9l-6.2 51.8 8.1 34 6.2 -51.8Z"/><path fill="#0db3d3" stroke="#0db3d3" stroke-width=".5" d="M182.4 1306.6l-6.2 37.9 8.1 -44.9 6.2 -37.9Z"/><path fill="#347afd" stroke="#347afd" stroke-width=".5" d="M349 1428.8l-6.2 -53.2 8.1 -52.8 6.2 53.2Z"/><path fill="#4bcb83" stroke="#4bcb83" stroke-width=".5" d="M515.6 1193.5l-6.2 50 8.1 36.4 6.2 -50Z"/><path fill="#39c895" stroke="#39c895" stroke-width=".5" d="M131.7 1300.6l-6.2 -61.1 8.1 -42.5 6.2 61.1Z"/><path fill="#307ffb" stroke="#307ffb" stroke-width=".5" d="M298.2 1375.5l-6.2 42.1 8.1 -50.4 6.2 -42.1Z"/><path fill="#0abdbd" stroke="#0abdbd" stroke-width=".5" d="M464.8 1287l-6.2 -48.9 8.1 38.9 6.2 48.9Z"/><path fill="#5fcd73" stroke="#5fcd73" stroke-width=".5" d="M80.9 1279.4l-6.2 -62.9 8.1 -40.1 6.2 62.9Z"/><path fill="#0cb3d3" stroke="#0cb3d3" stroke-width=".5" d="M247.5 1306.9l-6.2 40.3 8.1 -47.9 6.2 -40.3Z"/><path fill="#2d88f6" stroke="#2d88f6" stroke-width=".5" d="M414 1365.4l-6.2 -50.7 8.1 41.3 6.2 50.7Z"/><path fill="#90ca4d" stroke="#90ca4d" stroke-width=".5" d="M580.6 1163.4l-6.2 52.4 8.1 33.4 6.2 -52.4Z"/><path fill="#26c2ad" stroke="#26c2ad" stroke-width=".5" d="M196.7 1320.4l-6.2 -58.6 8.1 -45.5 6.2 58.6Z"/><path fill="#327bfc" stroke="#327bfc" stroke-width=".5" d="M363.3 1331.5l-6.2 44.5 8.1 43.7 6.2 -44.5Z"/><path fill="#21c1b0" stroke="#21c1b0" stroke-width=".5" d="M529.8 1276.4l-6.2 -46.5 8.1 35.8 6.2 46.5Z"/><path fill="#28c3ab" stroke="#28c3ab" stroke-width=".5" d="M145.9 1318.6l-6.2 -60.5 8.1 -43.1 6.2 60.5Z"/><path fill="#20a4e3" stroke="#20a4e3" stroke-width=".5" d="M312.5 1282.4l-6.2 42.7 8.1 46.1 6.2 -42.7Z"/><path fill="#2f82fa" stroke="#2f82fa" stroke-width=".5" d="M479.1 1374.2l-6.2 -48.3 8.1 38.3 6.2 48.3Z"/><path fill="#9ec942" stroke="#9ec942" stroke-width=".5" d="M95.1 1204.5l-6.2 34.8 8.1 -40.7 6.2 -34.8Z"/><path fill="#16afd9" stroke="#16afd9" stroke-width=".5" d="M261.7 1315.2l-6.2 -56.2 8.1 48.6 6.2 56.2Z"/><path fill="#4661fc" stroke="#4661fc" stroke-width=".5" d="M428.3 1359.7l-6.2 47 8.1 40.7 6.2 -47Z"/><path fill="#90ca4d" stroke="#90ca4d" stroke-width=".5" d="M594.8 1240.9l-6.2 -44.1 3.9 -20.7 6.2 44.1Z"/><path fill="#21a3e4" stroke="#21a3e4" stroke-width=".5" d="M210.9 1332.9l-6.2 -58 8.1 51 6.2 58Z"/><path fill="#317efb" stroke="#317efb" stroke-width=".5" d="M377.5 1330l-6.2 45.2 8.1 43.1 6.2 -45.2Z"/><path fill="#0cb3d3" stroke="#0cb3d3" stroke-width=".5" d="M544.1 1358.1l-6.2 -45.9 8.1 -61.9 6.2 45.9Z"/><path fill="#0bbdbd" stroke="#0bbdbd" stroke-width=".5" d="M160.1 1238.2l-6.2 37.3 8.1 53.4 6.2 -37.3Z"/><path fill="#347afd" stroke="#347afd" stroke-width=".5" d="M326.7 1382.3l-6.2 -53.8 8.1 45.5 6.2 53.8Z"/><path fill="#2d8cf3" stroke="#2d8cf3" stroke-width=".5" d="M493.3 1363l-6.2 49.4 8.1 -59.5 6.2 -49.4Z"/><path fill="#d8be28" stroke="#d8be28" stroke-width=".5" d="M109.4 1128.4l-6.2 35.4 8.1 55.9 6.2 -35.4Z"/><path fill="#4757f7" stroke="#4757f7" stroke-width=".5" d="M275.9 1419.4l-6.2 -55.6 8.1 48 6.2 55.6Z"/><path fill="#2995ec" stroke="#2995ec" stroke-width=".5" d="M442.5 1352.8l-6.2 47.6 8.1 -57 6.2 -47.6Z"/><path fill="#3e70ff" stroke="#3e70ff" stroke-width=".5" d="M225.2 1344.2l-6.2 39.7 8.1 50.4 6.2 -39.7Z"/><path fill="#2f81fa" stroke="#2f81fa" stroke-width=".5" d="M391.7 1424.5l-6.2 -51.4 8.1 -54.6 6.2 51.4Z"/><path fill="#4dcb82" stroke="#4dcb82" stroke-width=".5" d="M558.3 1244.4l-6.2 51.8 8.1 -62.5 6.2 -51.8Z"/><path fill="#03b7cc" stroke="#03b7cc" stroke-width=".5" d="M174.4 1253.8l-6.2 37.9 8.1 52.8 6.2 -37.9Z"/><path fill="#484cef" stroke="#484cef" stroke-width=".5" d="M340.9 1481l-6.2 -53.2 8.1 -52.2 6.2 53.2Z"/><path fill="#3dc990" stroke="#3dc990" stroke-width=".5" d="M507.5 1253.6l-6.2 50 8.1 -60.1 6.2 -50Z"/><path fill="#48cb86" stroke="#48cb86" stroke-width=".5" d="M123.6 1245.4l-6.2 -61.1 8.1 55.2 6.2 61.1Z"/><path fill="#4852f4" stroke="#4852f4" stroke-width=".5" d="M290.2 1425.2l-6.2 42.1 8.1 -49.8 6.2 -42.1Z"/><path fill="#02bac4" stroke="#02bac4" stroke-width=".5" d="M456.7 1344.7l-6.2 -48.9 8.1 -57.7 6.2 48.9Z"/><path fill="#4dcc82" stroke="#4dcc82" stroke-width=".5" d="M77 1262l-6.2 -62.9 3.9 17.5 6.2 62.9Z"/><path fill="#2994ed" stroke="#2994ed" stroke-width=".5" d="M239.4 1354.3l-6.2 40.3 8.1 -47.3 6.2 -40.3Z"/><path fill="#2e85f8" stroke="#2e85f8" stroke-width=".5" d="M406 1420.6l-6.2 -50.7 8.1 -55.2 6.2 50.7Z"/><path fill="#ddbd29" stroke="#ddbd29" stroke-width=".5" d="M572.5 1129.4l-6.2 52.4 8.1 34 6.2 -52.4Z"/><path fill="#15afd9" stroke="#15afd9" stroke-width=".5" d="M188.6 1365.3l-6.2 -58.6 8.1 -44.9 6.2 58.6Z"/><path fill="#347afd" stroke="#347afd" stroke-width=".5" d="M355.2 1384.3l-6.2 44.5 8.1 -52.8 6.2 -44.5Z"/><path fill="#58cc79" stroke="#58cc79" stroke-width=".5" d="M521.8 1240l-6.2 -46.5 8.1 36.4 6.2 46.5Z"/><path fill="#10b2d5" stroke="#10b2d5" stroke-width=".5" d="M137.8 1361.1l-6.2 -60.5 8.1 -42.5 6.2 60.5Z"/><path fill="#20a5e2" stroke="#20a5e2" stroke-width=".5" d="M304.4 1332.7l-6.2 42.7 8.1 -50.4 6.2 -42.7Z"/><path fill="#21a4e3" stroke="#21a4e3" stroke-width=".5" d="M471 1335.3l-6.2 -48.3 8.1 38.9 6.2 48.3Z"/><path fill="#4bcb83" stroke="#4bcb83" stroke-width=".5" d="M87.1 1244.6l-6.2 34.8 8.1 -40.1 6.2 -34.8Z"/><path fill="#12b1d6" stroke="#12b1d6" stroke-width=".5" d="M253.6 1363.1l-6.2 -56.2 8.1 -47.9 6.2 56.2Z"/><path fill="#2d8bf4" stroke="#2d8bf4" stroke-width=".5" d="M420.2 1318.4l-6.2 47 8.1 41.3 6.2 -47Z"/><path fill="#a4c83e" stroke="#a4c83e" stroke-width=".5" d="M586.8 1207.5l-6.2 -44.1 8.1 33.4 6.2 44.1Z"/><path fill="#1ea7e1" stroke="#1ea7e1" stroke-width=".5" d="M202.8 1378.4l-6.2 -58 8.1 -45.5 6.2 58Z"/><path fill="#20a4e3" stroke="#20a4e3" stroke-width=".5" d="M369.4 1286.3l-6.2 45.2 8.1 43.7 6.2 -45.2Z"/><path fill="#18addb" stroke="#18addb" stroke-width=".5" d="M536 1322.3l-6.2 -45.9 8.1 35.8 6.2 45.9Z"/><path fill="#1dc0b3" stroke="#1dc0b3" stroke-width=".5" d="M152.1 1281.3l-6.2 37.3 8.1 -43.1 6.2 -37.3Z"/><path fill="#21a3e3" stroke="#21a3e3" stroke-width=".5" d="M318.6 1336.1l-6.2 -53.8 8.1 46.1 6.2 53.8Z"/><path fill="#2e86f7" stroke="#2e86f7" stroke-width=".5" d="M485.2 1324.8l-6.2 49.4 8.1 38.3 6.2 -49.4Z"/><path fill="#eaba31" stroke="#eaba31" stroke-width=".5" d="M101.3 1169.1l-6.2 35.4 8.1 -40.7 6.2 -35.4Z"/><path fill="#2d87f6" stroke="#2d87f6" stroke-width=".5" d="M267.9 1370.8l-6.2 -55.6 8.1 48.6 6.2 55.6Z"/><path fill="#2b91ef" stroke="#2b91ef" stroke-width=".5" d="M434.4 1312.1l-6.2 47.6 8.1 40.7 6.2 -47.6Z"/><path fill="#3dc991" stroke="#3dc991" stroke-width=".5" d="M601 1284.4l-6.2 -43.5 3.9 -20.7 6.2 43.5Z"/><path fill="#249fe5" stroke="#249fe5" stroke-width=".5" d="M217.1 1293.2l-6.2 39.7 8.1 51 6.2 -39.7Z"/><path fill="#307ffb" stroke="#307ffb" stroke-width=".5" d="M383.7 1381.4l-6.2 -51.4 8.1 43.1 6.2 51.4Z"/><path fill="#03b7cc" stroke="#03b7cc" stroke-width=".5" d="M550.2 1306.3l-6.2 51.8 8.1 -61.9 6.2 -51.8Z"/><path fill="#47cb87" stroke="#47cb87" stroke-width=".5" d="M166.3 1200.4l-6.2 37.9 8.1 53.4 6.2 -37.9Z"/><path fill="#484cef" stroke="#484cef" stroke-width=".5" d="M332.9 1435.5l-6.2 -53.2 8.1 45.5 6.2 53.2Z"/><path fill="#0bb3d2" stroke="#0bb3d2" stroke-width=".5" d="M499.5 1313l-6.2 50 8.1 -59.5 6.2 -50Z"/><path fill="#c9c129" stroke="#c9c129" stroke-width=".5" d="M115.5 1189.5l-6.2 -61.1 8.1 55.9 6.2 61.1Z"/><path fill="#4755f6" stroke="#4755f6" stroke-width=".5" d="M282.1 1377.3l-6.2 42.1 8.1 48 6.2 -42.1Z"/><path fill="#2798ea" stroke="#2798ea" stroke-width=".5" d="M448.7 1401.7l-6.2 -48.9 8.1 -57 6.2 48.9Z"/><path fill="#2798ea" stroke="#2798ea" stroke-width=".5" d="M231.3 1303.9l-6.2 40.3 8.1 50.4 6.2 -40.3Z"/><path fill="#4755f6" stroke="#4755f6" stroke-width=".5" d="M397.9 1475.2l-6.2 -50.7 8.1 -54.6 6.2 50.7Z"/><path fill="#c9c129" stroke="#c9c129" stroke-width=".5" d="M564.5 1191.9l-6.2 52.4 8.1 -62.5 6.2 -52.4Z"/><path fill="#0bb3d2" stroke="#0bb3d2" stroke-width=".5" d="M180.5 1312.4l-6.2 -58.6 8.1 52.8 6.2 58.6Z"/><path fill="#484cef" stroke="#484cef" stroke-width=".5" d="M347.1 1436.5l-6.2 44.5 8.1 -52.2 6.2 -44.5Z"/><path fill="#47cb87" stroke="#47cb87" stroke-width=".5" d="M513.7 1300.1l-6.2 -46.5 8.1 -60.1 6.2 46.5Z"/><path fill="#03b7cc" stroke="#03b7cc" stroke-width=".5" d="M129.8 1305.8l-6.2 -60.5 8.1 55.2 6.2 60.5Z"/><path fill="#307ffb" stroke="#307ffb" stroke-width=".5" d="M296.3 1382.5l-6.2 42.7 8.1 -49.8 6.2 -42.7Z"/><path fill="#249fe5" stroke="#249fe5" stroke-width=".5" d="M462.9 1393l-6.2 -48.3 8.1 -57.7 6.2 48.3Z"/><path fill="#3dc991" stroke="#3dc991" stroke-width=".5" d="M83.2 1227.1l-6.2 34.8 3.9 17.5 6.2 -34.8Z"/><path fill="#2b91ef" stroke="#2b91ef" stroke-width=".5" d="M245.6 1410.5l-6.2 -56.2 8.1 -47.3 6.2 56.2Z"/><path fill="#2d87f6" stroke="#2d87f6" stroke-width=".5" d="M412.1 1373.6l-6.2 47 8.1 -55.2 6.2 -47Z"/><path fill="#eaba31" stroke="#eaba31" stroke-width=".5" d="M578.7 1173.5l-6.2 -44.1 8.1 34 6.2 44.1Z"/><path fill="#2e86f7" stroke="#2e86f7" stroke-width=".5" d="M194.8 1423.3l-6.2 -58 8.1 -44.9 6.2 58Z"/><path fill="#21a3e3" stroke="#21a3e3" stroke-width=".5" d="M361.4 1339.1l-6.2 45.2 8.1 -52.8 6.2 -45.2Z"/><path fill="#1dc0b3" stroke="#1dc0b3" stroke-width=".5" d="M527.9 1285.9l-6.2 -45.9 8.1 36.4 6.2 45.9Z"/><path fill="#18addb" stroke="#18addb" stroke-width=".5" d="M144 1323.8l-6.2 37.3 8.1 -42.5 6.2 -37.3Z"/><path fill="#20a4e3" stroke="#20a4e3" stroke-width=".5" d="M310.6 1386.5l-6.2 -53.8 8.1 -50.4 6.2 53.8Z"/><path fill="#1ea7e1" stroke="#1ea7e1" stroke-width=".5" d="M477.1 1285.9l-6.2 49.4 8.1 38.9 6.2 -49.4Z"/><path fill="#a4c83e" stroke="#a4c83e" stroke-width=".5" d="M93.2 1209.2l-6.2 35.4 8.1 -40.1 6.2 -35.4Z"/><path fill="#2d8bf4" stroke="#2d8bf4" stroke-width=".5" d="M259.8 1418.8l-6.2 -55.6 8.1 -47.9 6.2 55.6Z"/><path fill="#12b1d6" stroke="#12b1d6" stroke-width=".5" d="M426.4 1270.8l-6.2 47.6 8.1 41.3 6.2 -47.6Z"/><path fill="#4bcb83" stroke="#4bcb83" stroke-width=".5" d="M592.9 1251l-6.2 -43.5 8.1 33.4 6.2 43.5Z"/><path fill="#21a4e3" stroke="#21a4e3" stroke-width=".5" d="M209 1338.7l-6.2 39.7 8.1 -45.5 6.2 -39.7Z"/><path fill="#20a5e2" stroke="#20a5e2" stroke-width=".5" d="M375.6 1337.7l-6.2 -51.4 8.1 43.7 6.2 51.4Z"/><path fill="#10b2d5" stroke="#10b2d5" stroke-width=".5" d="M542.2 1270.5l-6.2 51.8 8.1 35.8 6.2 -51.8Z"/><path fill="#58cc79" stroke="#58cc79" stroke-width=".5" d="M158.2 1243.5l-6.2 37.9 8.1 -43.1 6.2 -37.9Z"/><path fill="#347afd" stroke="#347afd" stroke-width=".5" d="M324.8 1389.3l-6.2 -53.2 8.1 46.1 6.2 53.2Z"/><path fill="#15afd9" stroke="#15afd9" stroke-width=".5" d="M491.4 1274.8l-6.2 50 8.1 38.3 6.2 -50Z"/><path fill="#ddbd29" stroke="#ddbd29" stroke-width=".5" d="M107.5 1230.2l-6.2 -61.1 8.1 -40.7 6.2 61.1Z"/><path fill="#2e85f8" stroke="#2e85f8" stroke-width=".5" d="M274 1328.7l-6.2 42.1 8.1 48.6 6.2 -42.1Z"/><path fill="#2994ed" stroke="#2994ed" stroke-width=".5" d="M440.6 1361l-6.2 -48.9 8.1 40.7 6.2 48.9Z"/><path fill="#4dcc82" stroke="#4dcc82" stroke-width=".5" d="M607.2 1230.1l-6.2 54.3 3.9 -20.7 6.2 -54.3Z"/><path fill="#02bac4" stroke="#02bac4" stroke-width=".5" d="M223.2 1252.9l-6.2 40.3 8.1 51 6.2 -40.3Z"/><path fill="#4852f4" stroke="#4852f4" stroke-width=".5" d="M389.8 1432.1l-6.2 -50.7 8.1 43.1 6.2 50.7Z"/><path fill="#48cb86" stroke="#48cb86" stroke-width=".5" d="M556.4 1253.9l-6.2 52.4 8.1 -61.9 6.2 -52.4Z"/><path fill="#3dc990" stroke="#3dc990" stroke-width=".5" d="M172.5 1259l-6.2 -58.6 8.1 53.4 6.2 58.6Z"/><path fill="#484cef" stroke="#484cef" stroke-width=".5" d="M339 1390.9l-6.2 44.5 8.1 45.5 6.2 -44.5Z"/><path fill="#03b7cc" stroke="#03b7cc" stroke-width=".5" d="M505.6 1359.5l-6.2 -46.5 8.1 -59.5 6.2 46.5Z"/><path fill="#4dcb82" stroke="#4dcb82" stroke-width=".5" d="M121.7 1250l-6.2 -60.5 8.1 55.9 6.2 60.5Z"/><path fill="#2f81fa" stroke="#2f81fa" stroke-width=".5" d="M288.3 1334.5l-6.2 42.7 8.1 48 6.2 -42.7Z"/><path fill="#3e70ff" stroke="#3e70ff" stroke-width=".5" d="M454.8 1450l-6.2 -48.3 8.1 -57 6.2 48.3Z"/><path fill="#2995ec" stroke="#2995ec" stroke-width=".5" d="M237.5 1360.1l-6.2 -56.2 8.1 50.4 6.2 56.2Z"/><path fill="#4757f7" stroke="#4757f7" stroke-width=".5" d="M404.1 1428.3l-6.2 47 8.1 -54.6 6.2 -47Z"/><path fill="#d8be28" stroke="#d8be28" stroke-width=".5" d="M570.6 1236l-6.2 -44.1 8.1 -62.5 6.2 44.1Z"/><path fill="#2d8cf3" stroke="#2d8cf3" stroke-width=".5" d="M186.7 1370.5l-6.2 -58 8.1 52.8 6.2 58Z"/><path fill="#347afd" stroke="#347afd" stroke-width=".5" d="M353.3 1391.3l-6.2 45.2 8.1 -52.2 6.2 -45.2Z"/><path fill="#0bbdbd" stroke="#0bbdbd" stroke-width=".5" d="M519.9 1346l-6.2 -45.9 8.1 -60.1 6.2 45.9Z"/><path fill="#0cb3d3" stroke="#0cb3d3" stroke-width=".5" d="M135.9 1268.6l-6.2 37.3 8.1 55.2 6.2 -37.3Z"/><path fill="#317efb" stroke="#317efb" stroke-width=".5" d="M302.5 1436.3l-6.2 -53.8 8.1 -49.8 6.2 53.8Z"/><path fill="#21a3e4" stroke="#21a3e4" stroke-width=".5" d="M469.1 1343.6l-6.2 49.4 8.1 -57.7 6.2 -49.4Z"/><path fill="#90ca4d" stroke="#90ca4d" stroke-width=".5" d="M89.3 1191.7l-6.2 35.4 3.9 17.5 6.2 -35.4Z"/><path fill="#4661fc" stroke="#4661fc" stroke-width=".5" d="M251.7 1466.1l-6.2 -55.6 8.1 -47.3 6.2 55.6Z"/><path fill="#16afd9" stroke="#16afd9" stroke-width=".5" d="M418.3 1326.1l-6.2 47.6 8.1 -55.2 6.2 -47.6Z"/><path fill="#9ec942" stroke="#9ec942" stroke-width=".5" d="M584.9 1217l-6.2 -43.5 8.1 34 6.2 43.5Z"/><path fill="#2f82fa" stroke="#2f82fa" stroke-width=".5" d="M200.9 1383.6l-6.2 39.7 8.1 -44.9 6.2 -39.7Z"/><path fill="#20a4e3" stroke="#20a4e3" stroke-width=".5" d="M367.5 1390.5l-6.2 -51.4 8.1 -52.8 6.2 51.4Z"/><path fill="#28c3ab" stroke="#28c3ab" stroke-width=".5" d="M534.1 1234l-6.2 51.8 8.1 36.4 6.2 -51.8Z"/><path fill="#21c1b0" stroke="#21c1b0" stroke-width=".5" d="M150.2 1285.9l-6.2 37.9 8.1 -42.5 6.2 -37.9Z"/><path fill="#327bfc" stroke="#327bfc" stroke-width=".5" d="M316.7 1439.7l-6.2 -53.2 8.1 -50.4 6.2 53.2Z"/><path fill="#26c2ad" stroke="#26c2ad" stroke-width=".5" d="M483.3 1235.9l-6.2 50 8.1 38.9 6.2 -50Z"/><path fill="#90ca4d" stroke="#90ca4d" stroke-width=".5" d="M99.4 1270.2l-6.2 -61.1 8.1 -40.1 6.2 61.1Z"/><path fill="#2d88f6" stroke="#2d88f6" stroke-width=".5" d="M266 1376.6l-6.2 42.1 8.1 -47.9 6.2 -42.1Z"/><path fill="#0cb3d3" stroke="#0cb3d3" stroke-width=".5" d="M432.5 1319.8l-6.2 -48.9 8.1 41.3 6.2 48.9Z"/><path fill="#5fcd73" stroke="#5fcd73" stroke-width=".5" d="M599.1 1196.7l-6.2 54.3 8.1 33.4 6.2 -54.3Z"/><path fill="#0abdbd" stroke="#0abdbd" stroke-width=".5" d="M215.2 1298.4l-6.2 40.3 8.1 -45.5 6.2 -40.3Z"/><path fill="#307ffb" stroke="#307ffb" stroke-width=".5" d="M381.8 1388.4l-6.2 -50.7 8.1 43.7 6.2 50.7Z"/><path fill="#39c895" stroke="#39c895" stroke-width=".5" d="M548.3 1218l-6.2 52.4 8.1 35.8 6.2 -52.4Z"/><path fill="#4bcb83" stroke="#4bcb83" stroke-width=".5" d="M164.4 1302.1l-6.2 -58.6 8.1 -43.1 6.2 58.6Z"/><path fill="#347afd" stroke="#347afd" stroke-width=".5" d="M331 1344.8l-6.2 44.5 8.1 46.1 6.2 -44.5Z"/><path fill="#0db3d3" stroke="#0db3d3" stroke-width=".5" d="M497.5 1321.3l-6.2 -46.5 8.1 38.3 6.2 46.5Z"/><path fill="#63cd6f" stroke="#63cd6f" stroke-width=".5" d="M113.6 1290.6l-6.2 -60.5 8.1 -40.7 6.2 60.5Z"/><path fill="#1baadf" stroke="#1baadf" stroke-width=".5" d="M280.2 1286l-6.2 42.7 8.1 48.6 6.2 -42.7Z"/><path fill="#416bfe" stroke="#416bfe" stroke-width=".5" d="M446.8 1409.4l-6.2 -48.3 8.1 40.7 6.2 48.3Z"/><path fill="#cec028" stroke="#cec028" stroke-width=".5" d="M613.3 1175.2l-6.2 54.9 3.9 -20.7 6.2 -54.9Z"/><path fill="#01b9c8" stroke="#01b9c8" stroke-width=".5" d="M229.4 1309.1l-6.2 -56.2 8.1 51 6.2 56.2Z"/><path fill="#4755f6" stroke="#4755f6" stroke-width=".5" d="M396 1385.1l-6.2 47 8.1 43.1 6.2 -47Z"/><path fill="#59cc78" stroke="#59cc78" stroke-width=".5" d="M562.6 1297.9l-6.2 -44.1 8.1 -61.9 6.2 44.1Z"/><path fill="#07b5d0" stroke="#07b5d0" stroke-width=".5" d="M178.6 1317l-6.2 -58 8.1 53.4 6.2 58Z"/><path fill="#347afd" stroke="#347afd" stroke-width=".5" d="M345.2 1345.8l-6.2 45.2 8.1 45.5 6.2 -45.2Z"/><path fill="#259be8" stroke="#259be8" stroke-width=".5" d="M511.8 1405.4l-6.2 -45.9 8.1 -59.5 6.2 45.9Z"/><path fill="#3fca8e" stroke="#3fca8e" stroke-width=".5" d="M127.9 1212.7l-6.2 37.3 8.1 55.9 6.2 -37.3Z"/><path fill="#3080fa" stroke="#3080fa" stroke-width=".5" d="M294.4 1388.3l-6.2 -53.8 8.1 48 6.2 53.8Z"/><path fill="#3975fe" stroke="#3975fe" stroke-width=".5" d="M461 1400.6l-6.2 49.4 8.1 -57 6.2 -49.4Z"/><path fill="#4465fd" stroke="#4465fd" stroke-width=".5" d="M243.7 1415.7l-6.2 -55.6 8.1 50.4 6.2 55.6Z"/><path fill="#2d87f6" stroke="#2d87f6" stroke-width=".5" d="M410.2 1380.7l-6.2 47.6 8.1 -54.6 6.2 -47.6Z"/><path fill="#85cb55" stroke="#85cb55" stroke-width=".5" d="M576.8 1279.5l-6.2 -43.5 8.1 -62.5 6.2 43.5Z"/><path fill="#2d88f6" stroke="#2d88f6" stroke-width=".5" d="M192.9 1330.8l-6.2 39.7 8.1 52.8 6.2 -39.7Z"/><path fill="#327bfc" stroke="#327bfc" stroke-width=".5" d="M359.4 1442.7l-6.2 -51.4 8.1 -52.2 6.2 51.4Z"/><path fill="#1ac0b4" stroke="#1ac0b4" stroke-width=".5" d="M526 1294.1l-6.2 51.8 8.1 -60.1 6.2 -51.8Z"/><path fill="#2dc4a5" stroke="#2dc4a5" stroke-width=".5" d="M142.1 1230.7l-6.2 37.9 8.1 55.2 6.2 -37.9Z"/><path fill="#484ff2" stroke="#484ff2" stroke-width=".5" d="M308.7 1489.5l-6.2 -53.2 8.1 -49.8 6.2 53.2Z"/><path fill="#1bc0b4" stroke="#1bc0b4" stroke-width=".5" d="M475.2 1293.6l-6.2 50 8.1 -57.7 6.2 -50Z"/><path fill="#7ccc5c" stroke="#7ccc5c" stroke-width=".5" d="M95.5 1252.8l-6.2 -61.1 3.9 17.5 6.2 61.1Z"/><path fill="#465ffb" stroke="#465ffb" stroke-width=".5" d="M257.9 1424l-6.2 42.1 8.1 -47.3 6.2 -42.1Z"/><path fill="#12b1d6" stroke="#12b1d6" stroke-width=".5" d="M424.5 1375l-6.2 -48.9 8.1 -55.2 6.2 48.9Z"/><path fill="#b4c534" stroke="#b4c534" stroke-width=".5" d="M591 1162.7l-6.2 54.3 8.1 34 6.2 -54.3Z"/><path fill="#1fa5e2" stroke="#1fa5e2" stroke-width=".5" d="M207.1 1343.3l-6.2 40.3 8.1 -44.9 6.2 -40.3Z"/><path fill="#317efb" stroke="#317efb" stroke-width=".5" d="M373.7 1441.2l-6.2 -50.7 8.1 -52.8 6.2 50.7Z"/><path fill="#89cb52" stroke="#89cb52" stroke-width=".5" d="M540.3 1181.6l-6.2 52.4 8.1 36.4 6.2 -52.4Z"/><path fill="#15bfb7" stroke="#15bfb7" stroke-width=".5" d="M156.3 1344.6l-6.2 -58.6 8.1 -42.5 6.2 58.6Z"/><path fill="#327bfc" stroke="#327bfc" stroke-width=".5" d="M322.9 1395.1l-6.2 44.5 8.1 -50.4 6.2 -44.5Z"/><path fill="#2dc4a6" stroke="#2dc4a6" stroke-width=".5" d="M489.5 1282.4l-6.2 -46.5 8.1 38.9 6.2 46.5Z"/><path fill="#2cc4a7" stroke="#2cc4a7" stroke-width=".5" d="M105.5 1330.7l-6.2 -60.5 8.1 -40.1 6.2 60.5Z"/><path fill="#19addc" stroke="#19addc" stroke-width=".5" d="M272.1 1333.9l-6.2 42.7 8.1 -47.9 6.2 -42.7Z"/><path fill="#2994ed" stroke="#2994ed" stroke-width=".5" d="M438.7 1368.1l-6.2 -48.3 8.1 41.3 6.2 48.3Z"/><path fill="#debd29" stroke="#debd29" stroke-width=".5" d="M605.3 1141.8l-6.2 54.9 8.1 33.4 6.2 -54.9Z"/><path fill="#05bbc1" stroke="#05bbc1" stroke-width=".5" d="M221.3 1354.6l-6.2 -56.2 8.1 -45.5 6.2 56.2Z"/><path fill="#2f81fa" stroke="#2f81fa" stroke-width=".5" d="M387.9 1341.4l-6.2 47 8.1 43.7 6.2 -47Z"/><path fill="#46cb88" stroke="#46cb88" stroke-width=".5" d="M554.5 1262.1l-6.2 -44.1 8.1 35.8 6.2 44.1Z"/><path fill="#01b9c7" stroke="#01b9c7" stroke-width=".5" d="M170.6 1360.1l-6.2 -58 8.1 -43.1 6.2 58Z"/><path fill="#21a3e3" stroke="#21a3e3" stroke-width=".5" d="M337.1 1299.6l-6.2 45.2 8.1 46.1 6.2 -45.2Z"/><path fill="#2895ec" stroke="#2895ec" stroke-width=".5" d="M503.7 1367.2l-6.2 -45.9 8.1 38.3 6.2 45.9Z"/><path fill="#54cc7c" stroke="#54cc7c" stroke-width=".5" d="M119.8 1253.4l-6.2 37.3 8.1 -40.7 6.2 -37.3Z"/><path fill="#1ca9df" stroke="#1ca9df" stroke-width=".5" d="M286.4 1339.7l-6.2 -53.8 8.1 48.6 6.2 53.8Z"/><path fill="#3e70ff" stroke="#3e70ff" stroke-width=".5" d="M452.9 1360l-6.2 49.4 8.1 40.7 6.2 -49.4Z"/><path fill="#e1bc2b" stroke="#e1bc2b" stroke-width=".5" d="M619.5 1216.9l-6.2 -41.6 3.9 -20.7 6.2 41.6Z"/><path fill="#2797eb" stroke="#2797eb" stroke-width=".5" d="M235.6 1364.7l-6.2 -55.6 8.1 51 6.2 55.6Z"/><path fill="#2e85f8" stroke="#2e85f8" stroke-width=".5" d="M402.2 1337.6l-6.2 47.6 8.1 43.1 6.2 -47.6Z"/><path fill="#22c1b0" stroke="#22c1b0" stroke-width=".5" d="M568.7 1341.4l-6.2 -43.5 8.1 -61.9 6.2 43.5Z"/><path fill="#0fb2d4" stroke="#0fb2d4" stroke-width=".5" d="M184.8 1277.4l-6.2 39.7 8.1 53.4 6.2 -39.7Z"/><path fill="#327bfc" stroke="#327bfc" stroke-width=".5" d="M351.4 1397.1l-6.2 -51.4 8.1 45.5 6.2 51.4Z"/><path fill="#23a0e5" stroke="#23a0e5" stroke-width=".5" d="M517.9 1353.6l-6.2 51.8 8.1 -59.5 6.2 -51.8Z"/><path fill="#9ac945" stroke="#9ac945" stroke-width=".5" d="M134 1174.8l-6.2 37.9 8.1 55.9 6.2 -37.9Z"/><path fill="#4851f4" stroke="#4851f4" stroke-width=".5" d="M300.6 1441.5l-6.2 -53.2 8.1 48 6.2 53.2Z"/><path fill="#21a3e4" stroke="#21a3e4" stroke-width=".5" d="M467.2 1350.6l-6.2 50 8.1 -57 6.2 -50Z"/><path fill="#4563fd" stroke="#4563fd" stroke-width=".5" d="M249.8 1373.6l-6.2 42.1 8.1 50.4 6.2 -42.1Z"/><path fill="#2d8bf4" stroke="#2d8bf4" stroke-width=".5" d="M416.4 1429.6l-6.2 -48.9 8.1 -54.6 6.2 48.9Z"/><path fill="#9bc944" stroke="#9bc944" stroke-width=".5" d="M583 1225.2l-6.2 54.3 8.1 -62.5 6.2 -54.3Z"/><path fill="#1babde" stroke="#1babde" stroke-width=".5" d="M199 1290.5l-6.2 40.3 8.1 52.8 6.2 -40.3Z"/><path fill="#484ff2" stroke="#484ff2" stroke-width=".5" d="M365.6 1493.4l-6.2 -50.7 8.1 -52.2 6.2 50.7Z"/><path fill="#75cc61" stroke="#75cc61" stroke-width=".5" d="M532.2 1241.7l-6.2 52.4 8.1 -60.1 6.2 -52.4Z"/><path fill="#26c2ac" stroke="#26c2ac" stroke-width=".5" d="M148.3 1289.3l-6.2 -58.6 8.1 55.2 6.2 58.6Z"/><path fill="#484ff2" stroke="#484ff2" stroke-width=".5" d="M314.8 1444.9l-6.2 44.5 8.1 -49.8 6.2 -44.5Z"/><path fill="#26c2ad" stroke="#26c2ad" stroke-width=".5" d="M481.4 1340.1l-6.2 -46.5 8.1 -57.7 6.2 46.5Z"/><path fill="#1fc1b1" stroke="#1fc1b1" stroke-width=".5" d="M101.7 1313.2l-6.2 -60.5 3.9 17.5 6.2 60.5Z"/><path fill="#2d8bf4" stroke="#2d8bf4" stroke-width=".5" d="M264.1 1381.2l-6.2 42.7 8.1 -47.3 6.2 -42.7Z"/><path fill="#2b91ef" stroke="#2b91ef" stroke-width=".5" d="M430.6 1423.3l-6.2 -48.3 8.1 -55.2 6.2 48.3Z"/><path fill="#feca33" stroke="#feca33" stroke-width=".5" d="M597.2 1107.8l-6.2 54.9 8.1 34 6.2 -54.9Z"/><path fill="#21a3e4" stroke="#21a3e4" stroke-width=".5" d="M213.3 1399.5l-6.2 -56.2 8.1 -44.9 6.2 56.2Z"/><path fill="#3080fa" stroke="#3080fa" stroke-width=".5" d="M379.8 1394.2l-6.2 47 8.1 -52.8 6.2 -47Z"/><path fill="#9dc943" stroke="#9dc943" stroke-width=".5" d="M546.4 1225.7l-6.2 -44.1 8.1 36.4 6.2 44.1Z"/><path fill="#23a0e5" stroke="#23a0e5" stroke-width=".5" d="M162.5 1402.6l-6.2 -58 8.1 -42.5 6.2 58Z"/><path fill="#20a4e3" stroke="#20a4e3" stroke-width=".5" d="M329.1 1350l-6.2 45.2 8.1 -50.4 6.2 -45.2Z"/><path fill="#0db3d3" stroke="#0db3d3" stroke-width=".5" d="M495.6 1328.3l-6.2 -45.9 8.1 38.9 6.2 45.9Z"/><path fill="#22c1b0" stroke="#22c1b0" stroke-width=".5" d="M111.7 1293.4l-6.2 37.3 8.1 -40.1 6.2 -37.3Z"/><path fill="#1aacdd" stroke="#1aacdd" stroke-width=".5" d="M278.3 1387.7l-6.2 -53.8 8.1 -47.9 6.2 53.8Z"/><path fill="#2798ea" stroke="#2798ea" stroke-width=".5" d="M444.9 1318.7l-6.2 49.4 8.1 41.3 6.2 -49.4Z"/><path fill="#efba35" stroke="#efba35" stroke-width=".5" d="M611.4 1183.5l-6.2 -41.6 8.1 33.4 6.2 41.6Z"/><path fill="#259be8" stroke="#259be8" stroke-width=".5" d="M227.5 1410.2l-6.2 -55.6 8.1 -45.5 6.2 55.6Z"/><path fill="#1baadf" stroke="#1baadf" stroke-width=".5" d="M394.1 1293.8l-6.2 47.6 8.1 43.7 6.2 -47.6Z"/><path fill="#0fbebb" stroke="#0fbebb" stroke-width=".5" d="M560.7 1305.6l-6.2 -43.5 8.1 35.8 6.2 43.5Z"/><path fill="#03b7cc" stroke="#03b7cc" stroke-width=".5" d="M176.7 1320.4l-6.2 39.7 8.1 -43.1 6.2 -39.7Z"/><path fill="#20a4e3" stroke="#20a4e3" stroke-width=".5" d="M343.3 1351l-6.2 -51.4 8.1 46.1 6.2 51.4Z"/><path fill="#259be8" stroke="#259be8" stroke-width=".5" d="M509.9 1315.3l-6.2 51.8 8.1 38.3 6.2 -51.8Z"/><path fill="#b2c535" stroke="#b2c535" stroke-width=".5" d="M125.9 1215.5l-6.2 37.9 8.1 -40.7 6.2 -37.9Z"/><path fill="#2f82f9" stroke="#2f82f9" stroke-width=".5" d="M292.5 1392.9l-6.2 -53.2 8.1 48.6 6.2 53.2Z"/><path fill="#249fe5" stroke="#249fe5" stroke-width=".5" d="M459.1 1309.9l-6.2 50 8.1 40.7 6.2 -50Z"/><path fill="#97ca48" stroke="#97ca48" stroke-width=".5" d="M625.7 1257.9l-6.2 -41 3.9 -20.7 6.2 41Z"/><path fill="#2995ec" stroke="#2995ec" stroke-width=".5" d="M241.7 1322.6l-6.2 42.1 8.1 51 6.2 -42.1Z"/><path fill="#2d88f6" stroke="#2d88f6" stroke-width=".5" d="M408.3 1386.5l-6.2 -48.9 8.1 43.1 6.2 48.9Z"/><path fill="#2ec4a4" stroke="#2ec4a4" stroke-width=".5" d="M574.9 1287.1l-6.2 54.3 8.1 -61.9 6.2 -54.3Z"/><path fill="#2ec4a4" stroke="#2ec4a4" stroke-width=".5" d="M191 1237.1l-6.2 40.3 8.1 53.4 6.2 -40.3Z"/><path fill="#484ff2" stroke="#484ff2" stroke-width=".5" d="M357.5 1447.9l-6.2 -50.7 8.1 45.5 6.2 50.7Z"/><path fill="#1ac0b4" stroke="#1ac0b4" stroke-width=".5" d="M524.1 1301.2l-6.2 52.4 8.1 -59.5 6.2 -52.4Z"/><path fill="#8ccb50" stroke="#8ccb50" stroke-width=".5" d="M140.2 1233.5l-6.2 -58.6 8.1 55.9 6.2 58.6Z"/><path fill="#4851f4" stroke="#4851f4" stroke-width=".5" d="M306.8 1396.9l-6.2 44.5 8.1 48 6.2 -44.5Z"/><path fill="#1ea7e1" stroke="#1ea7e1" stroke-width=".5" d="M473.3 1397.1l-6.2 -46.5 8.1 -57 6.2 46.5Z"/><path fill="#2c8ff1" stroke="#2c8ff1" stroke-width=".5" d="M256 1330.8l-6.2 42.7 8.1 50.4 6.2 -42.7Z"/><path fill="#4661fc" stroke="#4661fc" stroke-width=".5" d="M422.6 1477.9l-6.2 -48.3 8.1 -54.6 6.2 48.3Z"/><path fill="#febf3b" stroke="#febf3b" stroke-width=".5" d="M589.1 1170.4l-6.2 54.9 8.1 -62.5 6.2 -54.9Z"/><path fill="#1da8e0" stroke="#1da8e0" stroke-width=".5" d="M205.2 1346.7l-6.2 -56.2 8.1 52.8 6.2 56.2Z"/><path fill="#4851f4" stroke="#4851f4" stroke-width=".5" d="M371.8 1446.4l-6.2 47 8.1 -52.2 6.2 -47Z"/><path fill="#89cb52" stroke="#89cb52" stroke-width=".5" d="M538.3 1285.8l-6.2 -44.1 8.1 -60.1 6.2 44.1Z"/><path fill="#1ea8e1" stroke="#1ea8e1" stroke-width=".5" d="M154.4 1347.4l-6.2 -58 8.1 55.2 6.2 58Z"/><path fill="#317efb" stroke="#317efb" stroke-width=".5" d="M321 1399.7l-6.2 45.2 8.1 -49.8 6.2 -45.2Z"/><path fill="#15afd9" stroke="#15afd9" stroke-width=".5" d="M487.6 1386l-6.2 -45.9 8.1 -57.7 6.2 45.9Z"/><path fill="#11beba" stroke="#11beba" stroke-width=".5" d="M107.8 1276l-6.2 37.3 3.9 17.5 6.2 -37.3Z"/><path fill="#2d8af5" stroke="#2d8af5" stroke-width=".5" d="M270.2 1435l-6.2 -53.8 8.1 -47.3 6.2 53.8Z"/><path fill="#2995ec" stroke="#2995ec" stroke-width=".5" d="M436.8 1373.9l-6.2 49.4 8.1 -55.2 6.2 -49.4Z"/><path fill="#fad52e" stroke="#fad52e" stroke-width=".5" d="M603.4 1149.5l-6.2 -41.6 8.1 34 6.2 41.6Z"/><path fill="#3777fe" stroke="#3777fe" stroke-width=".5" d="M219.4 1455.1l-6.2 -55.6 8.1 -44.9 6.2 55.6Z"/><path fill="#1ca9df" stroke="#1ca9df" stroke-width=".5" d="M386 1346.6l-6.2 47.6 8.1 -52.8 6.2 -47.6Z"/><path fill="#46cb88" stroke="#46cb88" stroke-width=".5" d="M552.6 1269.1l-6.2 -43.5 8.1 36.4 6.2 43.5Z"/><path fill="#259de7" stroke="#259de7" stroke-width=".5" d="M168.7 1362.9l-6.2 39.7 8.1 -42.5 6.2 -39.7Z"/><path fill="#20a5e2" stroke="#20a5e2" stroke-width=".5" d="M335.2 1401.3l-6.2 -51.4 8.1 -50.4 6.2 51.4Z"/><path fill="#03b7cc" stroke="#03b7cc" stroke-width=".5" d="M501.8 1276.5l-6.2 51.8 8.1 38.9 6.2 -51.8Z"/><path fill="#5ecd74" stroke="#5ecd74" stroke-width=".5" d="M117.9 1255.5l-6.2 37.9 8.1 -40.1 6.2 -37.9Z"/><path fill="#2e85f8" stroke="#2e85f8" stroke-width=".5" d="M284.5 1440.9l-6.2 -53.2 8.1 -47.9 6.2 53.2Z"/><path fill="#02bac4" stroke="#02bac4" stroke-width=".5" d="M451 1268.7l-6.2 50 8.1 41.3 6.2 -50Z"/><path fill="#aac739" stroke="#aac739" stroke-width=".5" d="M617.6 1224.5l-6.2 -41 8.1 33.4 6.2 41Z"/><path fill="#2699e9" stroke="#2699e9" stroke-width=".5" d="M233.7 1368.1l-6.2 42.1 8.1 -45.5 6.2 -42.1Z"/><path fill="#19addc" stroke="#19addc" stroke-width=".5" d="M400.2 1342.8l-6.2 -48.9 8.1 43.7 6.2 48.9Z"/><path fill="#22c1b0" stroke="#22c1b0" stroke-width=".5" d="M566.8 1251.3l-6.2 54.3 8.1 35.8 6.2 -54.3Z"/><path fill="#36c799" stroke="#36c799" stroke-width=".5" d="M182.9 1280.1l-6.2 40.3 8.1 -43.1 6.2 -40.3Z"/><path fill="#317efb" stroke="#317efb" stroke-width=".5" d="M349.5 1401.7l-6.2 -50.7 8.1 46.1 6.2 50.7Z"/><path fill="#0bbdbd" stroke="#0bbdbd" stroke-width=".5" d="M516 1262.9l-6.2 52.4 8.1 38.3 6.2 -52.4Z"/><path fill="#a5c83d" stroke="#a5c83d" stroke-width=".5" d="M132.1 1274.1l-6.2 -58.6 8.1 -40.7 6.2 58.6Z"/><path fill="#2f82f9" stroke="#2f82f9" stroke-width=".5" d="M298.7 1348.4l-6.2 44.5 8.1 48.6 6.2 -44.5Z"/><path fill="#21a4e3" stroke="#21a4e3" stroke-width=".5" d="M465.3 1356.4l-6.2 -46.5 8.1 40.7 6.2 46.5Z"/><path fill="#82cc58" stroke="#82cc58" stroke-width=".5" d="M628.6 1240.9l-3 17 3.9 -20.7 3 -17Z"/><path fill="#07b5cf" stroke="#07b5cf" stroke-width=".5" d="M247.9 1279.8l-6.2 42.7 8.1 51 6.2 -42.7Z"/><path fill="#465ffb" stroke="#465ffb" stroke-width=".5" d="M414.5 1434.8l-6.2 -48.3 8.1 43.1 6.2 48.3Z"/><path fill="#9bc944" stroke="#9bc944" stroke-width=".5" d="M581.1 1232.3l-6.2 54.9 8.1 -61.9 6.2 -54.9Z"/><path fill="#2ac3a9" stroke="#2ac3a9" stroke-width=".5" d="M197.1 1293.3l-6.2 -56.2 8.1 53.4 6.2 56.2Z"/><path fill="#4851f4" stroke="#4851f4" stroke-width=".5" d="M363.7 1400.9l-6.2 47 8.1 45.5 6.2 -47Z"/><path fill="#28c3ab" stroke="#28c3ab" stroke-width=".5" d="M530.3 1345.2l-6.2 -44.1 8.1 -59.5 6.2 44.1Z"/><path fill="#2cc4a6" stroke="#2cc4a6" stroke-width=".5" d="M146.4 1291.5l-6.2 -58 8.1 55.9 6.2 58Z"/><path fill="#3080fa" stroke="#3080fa" stroke-width=".5" d="M312.9 1351.8l-6.2 45.2 8.1 48 6.2 -45.2Z"/><path fill="#2e86f7" stroke="#2e86f7" stroke-width=".5" d="M479.5 1443l-6.2 -45.9 8.1 -57 6.2 45.9Z"/><path fill="#2c8ef2" stroke="#2c8ef2" stroke-width=".5" d="M262.1 1384.6l-6.2 -53.8 8.1 50.4 6.2 53.8Z"/><path fill="#4465fd" stroke="#4465fd" stroke-width=".5" d="M428.7 1428.5l-6.2 49.4 8.1 -54.6 6.2 -49.4Z"/><path fill="#feca33" stroke="#feca33" stroke-width=".5" d="M595.3 1212l-6.2 -41.6 8.1 -62.5 6.2 41.6Z"/><path fill="#317efb" stroke="#317efb" stroke-width=".5" d="M211.4 1402.3l-6.2 -55.6 8.1 52.8 6.2 55.6Z"/><path fill="#2f82f9" stroke="#2f82f9" stroke-width=".5" d="M377.9 1398.8l-6.2 47.6 8.1 -52.2 6.2 -47.6Z"/><path fill="#39c895" stroke="#39c895" stroke-width=".5" d="M544.5 1329.2l-6.2 -43.5 8.1 -60.1 6.2 43.5Z"/><path fill="#20a4e3" stroke="#20a4e3" stroke-width=".5" d="M160.6 1307.7l-6.2 39.7 8.1 55.2 6.2 -39.7Z"/><path fill="#307ffb" stroke="#307ffb" stroke-width=".5" d="M327.2 1451.1l-6.2 -51.4 8.1 -49.8 6.2 51.4Z"/><path fill="#0bb3d2" stroke="#0bb3d2" stroke-width=".5" d="M493.7 1334.1l-6.2 51.8 8.1 -57.7 6.2 -51.8Z"/><path fill="#4ccb83" stroke="#4ccb83" stroke-width=".5" d="M114 1238.1l-6.2 37.9 3.9 17.5 6.2 -37.9Z"/><path fill="#475bf9" stroke="#475bf9" stroke-width=".5" d="M276.4 1488.2l-6.2 -53.2 8.1 -47.3 6.2 53.2Z"/><path fill="#01b9c8" stroke="#01b9c8" stroke-width=".5" d="M443 1323.9l-6.2 50 8.1 -55.2 6.2 -50Z"/><path fill="#efba35" stroke="#efba35" stroke-width=".5" d="M609.5 1190.5l-6.2 -41 8.1 34 6.2 41Z"/><path fill="#3975fe" stroke="#3975fe" stroke-width=".5" d="M225.6 1413l-6.2 42.1 8.1 -44.9 6.2 -42.1Z"/><path fill="#1aacdd" stroke="#1aacdd" stroke-width=".5" d="M392.2 1395.6l-6.2 -48.9 8.1 -52.8 6.2 48.9Z"/><path fill="#59cc78" stroke="#59cc78" stroke-width=".5" d="M558.7 1214.9l-6.2 54.3 8.1 36.4 6.2 -54.3Z"/><path fill="#01b9c7" stroke="#01b9c7" stroke-width=".5" d="M174.8 1322.6l-6.2 40.3 8.1 -42.5 6.2 -40.3Z"/><path fill="#307ffb" stroke="#307ffb" stroke-width=".5" d="M341.4 1452.1l-6.2 -50.7 8.1 -50.4 6.2 50.7Z"/><path fill="#47cb87" stroke="#47cb87" stroke-width=".5" d="M508 1224l-6.2 52.4 8.1 38.9 6.2 -52.4Z"/><path fill="#52cc7e" stroke="#52cc7e" stroke-width=".5" d="M124 1314.2l-6.2 -58.6 8.1 -40.1 6.2 58.6Z"/><path fill="#2e85f8" stroke="#2e85f8" stroke-width=".5" d="M290.6 1396.3l-6.2 44.5 8.1 -47.9 6.2 -44.5Z"/><path fill="#0abdbd" stroke="#0abdbd" stroke-width=".5" d="M457.2 1315.2l-6.2 -46.5 8.1 41.3 6.2 46.5Z"/><path fill="#97ca48" stroke="#97ca48" stroke-width=".5" d="M620.6 1207.5l-3 17 8.1 33.4 3 -17Z"/><path fill="#01b8c9" stroke="#01b8c9" stroke-width=".5" d="M239.8 1325.4l-6.2 42.7 8.1 -45.5 6.2 -42.7Z"/><path fill="#2d8bf4" stroke="#2d8bf4" stroke-width=".5" d="M406.4 1391.1l-6.2 -48.3 8.1 43.7 6.2 48.3Z"/><path fill="#85cb55" stroke="#85cb55" stroke-width=".5" d="M573 1196.4l-6.2 54.9 8.1 35.8 6.2 -54.9Z"/><path fill="#32c69e" stroke="#32c69e" stroke-width=".5" d="M189.1 1336.3l-6.2 -56.2 8.1 -43.1 6.2 56.2Z"/><path fill="#3080fa" stroke="#3080fa" stroke-width=".5" d="M355.6 1354.7l-6.2 47 8.1 46.1 6.2 -47Z"/><path fill="#1dc0b3" stroke="#1dc0b3" stroke-width=".5" d="M522.2 1307l-6.2 -44.1 8.1 38.3 6.2 44.1Z"/><path fill="#36c898" stroke="#36c898" stroke-width=".5" d="M138.3 1332.2l-6.2 -58 8.1 -40.7 6.2 58Z"/><path fill="#1ca9df" stroke="#1ca9df" stroke-width=".5" d="M304.9 1303.2l-6.2 45.2 8.1 48.6 6.2 -45.2Z"/><path fill="#2f82fa" stroke="#2f82fa" stroke-width=".5" d="M471.4 1402.3l-6.2 -45.9 8.1 40.7 6.2 45.9Z"/><path fill="#08b4d0" stroke="#08b4d0" stroke-width=".5" d="M254.1 1333.6l-6.2 -53.8 8.1 51 6.2 53.8Z"/><path fill="#4563fd" stroke="#4563fd" stroke-width=".5" d="M420.6 1385.4l-6.2 49.4 8.1 43.1 6.2 -49.4Z"/><path fill="#b4c534" stroke="#b4c534" stroke-width=".5" d="M587.2 1273.9l-6.2 -41.6 8.1 -61.9 6.2 41.6Z"/><path fill="#1aabdd" stroke="#1aabdd" stroke-width=".5" d="M203.3 1348.9l-6.2 -55.6 8.1 53.4 6.2 55.6Z"/><path fill="#2f82f9" stroke="#2f82f9" stroke-width=".5" d="M369.9 1353.3l-6.2 47.6 8.1 45.5 6.2 -47.6Z"/><path fill="#10b2d5" stroke="#10b2d5" stroke-width=".5" d="M536.4 1388.7l-6.2 -43.5 8.1 -59.5 6.2 43.5Z"/><path fill="#26c2ac" stroke="#26c2ac" stroke-width=".5" d="M152.5 1251.8l-6.2 39.7 8.1 55.9 6.2 -39.7Z"/><path fill="#2f81fa" stroke="#2f81fa" stroke-width=".5" d="M319.1 1403.1l-6.2 -51.4 8.1 48 6.2 51.4Z"/><path fill="#2d8cf3" stroke="#2d8cf3" stroke-width=".5" d="M485.7 1391.2l-6.2 51.8 8.1 -57 6.2 -51.8Z"/><path fill="#4660fb" stroke="#4660fb" stroke-width=".5" d="M268.3 1437.8l-6.2 -53.2 8.1 50.4 6.2 53.2Z"/><path fill="#2797eb" stroke="#2797eb" stroke-width=".5" d="M434.9 1378.5l-6.2 50 8.1 -54.6 6.2 -50Z"/><path fill="#debd29" stroke="#debd29" stroke-width=".5" d="M601.5 1253l-6.2 -41 8.1 -62.5 6.2 41Z"/><path fill="#327cfc" stroke="#327cfc" stroke-width=".5" d="M217.5 1360.2l-6.2 42.1 8.1 52.8 6.2 -42.1Z"/><path fill="#2e85f8" stroke="#2e85f8" stroke-width=".5" d="M384.1 1447.8l-6.2 -48.9 8.1 -52.2 6.2 48.9Z"/><path fill="#48cb86" stroke="#48cb86" stroke-width=".5" d="M550.7 1275l-6.2 54.3 8.1 -60.1 6.2 -54.3Z"/><path fill="#0bbdbd" stroke="#0bbdbd" stroke-width=".5" d="M166.8 1267.4l-6.2 40.3 8.1 55.2 6.2 -40.3Z"/><path fill="#4852f4" stroke="#4852f4" stroke-width=".5" d="M333.3 1501.9l-6.2 -50.7 8.1 -49.8 6.2 50.7Z"/><path fill="#3dc990" stroke="#3dc990" stroke-width=".5" d="M499.9 1281.7l-6.2 52.4 8.1 -57.7 6.2 -52.4Z"/><path fill="#41ca8c" stroke="#41ca8c" stroke-width=".5" d="M120.2 1296.7l-6.2 -58.6 3.9 17.5 6.2 58.6Z"/><path fill="#475bf9" stroke="#475bf9" stroke-width=".5" d="M282.5 1443.6l-6.2 44.5 8.1 -47.3 6.2 -44.5Z"/><path fill="#05bbc1" stroke="#05bbc1" stroke-width=".5" d="M449.1 1370.4l-6.2 -46.5 8.1 -55.2 6.2 46.5Z"/><path fill="#e1bc2b" stroke="#e1bc2b" stroke-width=".5" d="M612.5 1173.5l-3 17 8.1 34 3 -17Z"/><path fill="#249de6" stroke="#249de6" stroke-width=".5" d="M231.8 1370.3l-6.2 42.7 8.1 -44.9 6.2 -42.7Z"/><path fill="#2d8af5" stroke="#2d8af5" stroke-width=".5" d="M398.3 1443.9l-6.2 -48.3 8.1 -52.8 6.2 48.3Z"/><path fill="#d8be28" stroke="#d8be28" stroke-width=".5" d="M564.9 1160l-6.2 54.9 8.1 36.4 6.2 -54.9Z"/><path fill="#02b7cb" stroke="#02b7cb" stroke-width=".5" d="M181 1378.8l-6.2 -56.2 8.1 -42.5 6.2 56.2Z"/><path fill="#2f81fa" stroke="#2f81fa" stroke-width=".5" d="M347.6 1405.1l-6.2 47 8.1 -50.4 6.2 -47Z"/><path fill="#58cc79" stroke="#58cc79" stroke-width=".5" d="M514.1 1268.1l-6.2 -44.1 8.1 38.9 6.2 44.1Z"/><path fill="#02bac4" stroke="#02bac4" stroke-width=".5" d="M130.2 1372.2l-6.2 -58 8.1 -40.1 6.2 58Z"/><path fill="#1aacdd" stroke="#1aacdd" stroke-width=".5" d="M296.8 1351.2l-6.2 45.2 8.1 -47.9 6.2 -45.2Z"/><path fill="#1fa5e2" stroke="#1fa5e2" stroke-width=".5" d="M463.4 1361.1l-6.2 -45.9 8.1 41.3 6.2 45.9Z"/><path fill="#01b7ca" stroke="#01b7ca" stroke-width=".5" d="M246 1379.1l-6.2 -53.8 8.1 -45.5 6.2 53.8Z"/><path fill="#2c8ff1" stroke="#2c8ff1" stroke-width=".5" d="M412.6 1341.7l-6.2 49.4 8.1 43.7 6.2 -49.4Z"/><path fill="#9ec942" stroke="#9ec942" stroke-width=".5" d="M579.1 1238.1l-6.2 -41.6 8.1 35.8 6.2 41.6Z"/><path fill="#12b1d7" stroke="#12b1d7" stroke-width=".5" d="M195.2 1392l-6.2 -55.6 8.1 -43.1 6.2 55.6Z"/><path fill="#1ca9df" stroke="#1ca9df" stroke-width=".5" d="M361.8 1307.2l-6.2 47.6 8.1 46.1 6.2 -47.6Z"/><path fill="#18addb" stroke="#18addb" stroke-width=".5" d="M528.4 1350.4l-6.2 -43.5 8.1 38.3 6.2 43.5Z"/><path fill="#32c69f" stroke="#32c69f" stroke-width=".5" d="M144.4 1292.5l-6.2 39.7 8.1 -40.7 6.2 -39.7Z"/><path fill="#1baadf" stroke="#1baadf" stroke-width=".5" d="M311 1354.6l-6.2 -51.4 8.1 48.6 6.2 51.4Z"/><path fill="#2d88f6" stroke="#2d88f6" stroke-width=".5" d="M477.6 1350.5l-6.2 51.8 8.1 40.7 6.2 -51.8Z"/><path fill="#2b92ee" stroke="#2b92ee" stroke-width=".5" d="M260.2 1386.8l-6.2 -53.2 8.1 51 6.2 53.2Z"/><path fill="#2995ec" stroke="#2995ec" stroke-width=".5" d="M426.8 1335.4l-6.2 50 8.1 43.1 6.2 -50Z"/><path fill="#5fcd73" stroke="#5fcd73" stroke-width=".5" d="M593.4 1314.9l-6.2 -41 8.1 -61.9 6.2 41Z"/><path fill="#1caadf" stroke="#1caadf" stroke-width=".5" d="M209.5 1306.7l-6.2 42.1 8.1 53.4 6.2 -42.1Z"/><path fill="#2e85f8" stroke="#2e85f8" stroke-width=".5" d="M376 1402.2l-6.2 -48.9 8.1 45.5 6.2 48.9Z"/><path fill="#03b7cc" stroke="#03b7cc" stroke-width=".5" d="M542.6 1334.4l-6.2 54.3 8.1 -59.5 6.2 -54.3Z"/><path fill="#6acd6a" stroke="#6acd6a" stroke-width=".5" d="M158.7 1211.5l-6.2 40.3 8.1 55.9 6.2 -40.3Z"/><path fill="#4755f6" stroke="#4755f6" stroke-width=".5" d="M325.3 1453.9l-6.2 -50.7 8.1 48 6.2 50.7Z"/><path fill="#07b5d0" stroke="#07b5d0" stroke-width=".5" d="M491.8 1338.7l-6.2 52.4 8.1 -57 6.2 -52.4Z"/><path fill="#4660fb" stroke="#4660fb" stroke-width=".5" d="M274.5 1393.3l-6.2 44.5 8.1 50.4 6.2 -44.5Z"/><path fill="#259be8" stroke="#259be8" stroke-width=".5" d="M441 1425l-6.2 -46.5 8.1 -54.6 6.2 46.5Z"/><path fill="#cec028" stroke="#cec028" stroke-width=".5" d="M604.4 1236.1l-3 17 8.1 -62.5 3 -17Z"/><path fill="#21a3e4" stroke="#21a3e4" stroke-width=".5" d="M223.7 1317.4l-6.2 42.7 8.1 52.8 6.2 -42.7Z"/><path fill="#475bf9" stroke="#475bf9" stroke-width=".5" d="M390.3 1496.1l-6.2 -48.3 8.1 -52.2 6.2 48.3Z"/><path fill="#c9c129" stroke="#c9c129" stroke-width=".5" d="M556.8 1220.1l-6.2 54.9 8.1 -60.1 6.2 -54.9Z"/><path fill="#05bbc1" stroke="#05bbc1" stroke-width=".5" d="M172.9 1323.6l-6.2 -56.2 8.1 55.2 6.2 56.2Z"/><path fill="#4755f6" stroke="#4755f6" stroke-width=".5" d="M339.5 1454.9l-6.2 47 8.1 -49.8 6.2 -47Z"/><path fill="#4bcb83" stroke="#4bcb83" stroke-width=".5" d="M506.1 1325.8l-6.2 -44.1 8.1 -57.7 6.2 44.1Z"/><path fill="#04b6cd" stroke="#04b6cd" stroke-width=".5" d="M126.3 1354.8l-6.2 -58 3.9 17.5 6.2 58Z"/><path fill="#2d8af5" stroke="#2d8af5" stroke-width=".5" d="M288.7 1398.5l-6.2 45.2 8.1 -47.3 6.2 -45.2Z"/><path fill="#21a3e4" stroke="#21a3e4" stroke-width=".5" d="M455.3 1416.3l-6.2 -45.9 8.1 -55.2 6.2 45.9Z"/><path fill="#259ce7" stroke="#259ce7" stroke-width=".5" d="M237.9 1424.1l-6.2 -53.8 8.1 -44.9 6.2 53.8Z"/><path fill="#2c8ef2" stroke="#2c8ef2" stroke-width=".5" d="M404.5 1394.5l-6.2 49.4 8.1 -52.8 6.2 -49.4Z"/><path fill="#eaba31" stroke="#eaba31" stroke-width=".5" d="M571.1 1201.6l-6.2 -41.6 8.1 36.4 6.2 41.6Z"/><path fill="#2994ed" stroke="#2994ed" stroke-width=".5" d="M187.2 1434.4l-6.2 -55.6 8.1 -42.5 6.2 55.6Z"/><path fill="#1baadf" stroke="#1baadf" stroke-width=".5" d="M353.7 1357.5l-6.2 47.6 8.1 -50.4 6.2 -47.6Z"/><path fill="#21c1b0" stroke="#21c1b0" stroke-width=".5" d="M520.3 1311.6l-6.2 -43.5 8.1 38.9 6.2 43.5Z"/><path fill="#01b8c9" stroke="#01b8c9" stroke-width=".5" d="M136.4 1332.5l-6.2 39.7 8.1 -40.1 6.2 -39.7Z"/><path fill="#19addc" stroke="#19addc" stroke-width=".5" d="M302.9 1402.5l-6.2 -51.4 8.1 -47.9 6.2 51.4Z"/><path fill="#1babde" stroke="#1babde" stroke-width=".5" d="M469.5 1309.2l-6.2 51.8 8.1 41.3 6.2 -51.8Z"/><path fill="#2797eb" stroke="#2797eb" stroke-width=".5" d="M252.2 1432.3l-6.2 -53.2 8.1 -45.5 6.2 53.2Z"/><path fill="#07b5cf" stroke="#07b5cf" stroke-width=".5" d="M418.7 1291.7l-6.2 50 8.1 43.7 6.2 -50Z"/><path fill="#4bcb83" stroke="#4bcb83" stroke-width=".5" d="M585.3 1279.1l-6.2 -41 8.1 35.8 6.2 41Z"/><path fill="#15afd9" stroke="#15afd9" stroke-width=".5" d="M201.4 1349.8l-6.2 42.1 8.1 -43.1 6.2 -42.1Z"/><path fill="#1aacdd" stroke="#1aacdd" stroke-width=".5" d="M368 1356.1l-6.2 -48.9 8.1 46.1 6.2 48.9Z"/><path fill="#0cb3d3" stroke="#0cb3d3" stroke-width=".5" d="M534.5 1296.2l-6.2 54.3 8.1 38.3 6.2 -54.3Z"/><path fill="#84cc56" stroke="#84cc56" stroke-width=".5" d="M150.6 1252.2l-6.2 40.3 8.1 -40.7 6.2 -40.3Z"/><path fill="#2e85f8" stroke="#2e85f8" stroke-width=".5" d="M317.2 1405.3l-6.2 -50.7 8.1 48.6 6.2 50.7Z"/><path fill="#0fb2d4" stroke="#0fb2d4" stroke-width=".5" d="M483.8 1298.1l-6.2 52.4 8.1 40.7 6.2 -52.4Z"/><path fill="#2b92ee" stroke="#2b92ee" stroke-width=".5" d="M266.4 1342.3l-6.2 44.5 8.1 51 6.2 -44.5Z"/><path fill="#2699e9" stroke="#2699e9" stroke-width=".5" d="M433 1381.9l-6.2 -46.5 8.1 43.1 6.2 46.5Z"/><path fill="#4dcc82" stroke="#4dcc82" stroke-width=".5" d="M596.3 1298l-3 17 8.1 -61.9 3 -17Z"/><path fill="#20c1b1" stroke="#20c1b1" stroke-width=".5" d="M215.6 1264l-6.2 42.7 8.1 53.4 6.2 -42.7Z"/><path fill="#475bf9" stroke="#475bf9" stroke-width=".5" d="M382.2 1450.6l-6.2 -48.3 8.1 45.5 6.2 48.3Z"/><path fill="#4dcb82" stroke="#4dcb82" stroke-width=".5" d="M548.8 1279.6l-6.2 54.9 8.1 -59.5 6.2 -54.9Z"/><path fill="#62cd71" stroke="#62cd71" stroke-width=".5" d="M164.8 1267.7l-6.2 -56.2 8.1 55.9 6.2 56.2Z"/><path fill="#4757f7" stroke="#4757f7" stroke-width=".5" d="M331.4 1406.9l-6.2 47 8.1 48 6.2 -47Z"/><path fill="#01b9c7" stroke="#01b9c7" stroke-width=".5" d="M498 1382.8l-6.2 -44.1 8.1 -57 6.2 44.1Z"/><path fill="#2c8ef2" stroke="#2c8ef2" stroke-width=".5" d="M280.6 1348.1l-6.2 45.2 8.1 50.4 6.2 -45.2Z"/><path fill="#3777fe" stroke="#3777fe" stroke-width=".5" d="M447.2 1470.9l-6.2 -45.9 8.1 -54.6 6.2 45.9Z"/><path fill="#22a2e4" stroke="#22a2e4" stroke-width=".5" d="M229.9 1371.2l-6.2 -53.8 8.1 52.8 6.2 53.8Z"/><path fill="#4660fb" stroke="#4660fb" stroke-width=".5" d="M396.4 1446.7l-6.2 49.4 8.1 -52.2 6.2 -49.4Z"/><path fill="#ddbd29" stroke="#ddbd29" stroke-width=".5" d="M563 1261.7l-6.2 -41.6 8.1 -60.1 6.2 41.6Z"/><path fill="#259ce7" stroke="#259ce7" stroke-width=".5" d="M179.1 1379.2l-6.2 -55.6 8.1 55.2 6.2 55.6Z"/><path fill="#2e85f8" stroke="#2e85f8" stroke-width=".5" d="M345.7 1407.3l-6.2 47.6 8.1 -49.8 6.2 -47.6Z"/><path fill="#15bfb7" stroke="#15bfb7" stroke-width=".5" d="M512.2 1369.2l-6.2 -43.5 8.1 -57.7 6.2 43.5Z"/><path fill="#0ab4d2" stroke="#0ab4d2" stroke-width=".5" d="M132.5 1315.1l-6.2 39.7 3.9 17.5 6.2 -39.7Z"/><path fill="#2d8bf4" stroke="#2d8bf4" stroke-width=".5" d="M294.9 1449.8l-6.2 -51.4 8.1 -47.3 6.2 51.4Z"/><path fill="#1da8e0" stroke="#1da8e0" stroke-width=".5" d="M461.4 1364.4l-6.2 51.8 8.1 -55.2 6.2 -51.8Z"/><path fill="#3c71ff" stroke="#3c71ff" stroke-width=".5" d="M244.1 1477.2l-6.2 -53.2 8.1 -44.9 6.2 53.2Z"/><path fill="#08b4d0" stroke="#08b4d0" stroke-width=".5" d="M410.7 1344.5l-6.2 50 8.1 -52.8 6.2 -50Z"/><path fill="#a4c83e" stroke="#a4c83e" stroke-width=".5" d="M577.2 1242.7l-6.2 -41 8.1 36.4 6.2 41Z"/><path fill="#2a92ee" stroke="#2a92ee" stroke-width=".5" d="M193.3 1392.3l-6.2 42.1 8.1 -42.5 6.2 -42.1Z"/><path fill="#19addc" stroke="#19addc" stroke-width=".5" d="M359.9 1406.5l-6.2 -48.9 8.1 -50.4 6.2 48.9Z"/><path fill="#2dc4a5" stroke="#2dc4a5" stroke-width=".5" d="M526.5 1257.3l-6.2 54.3 8.1 38.9 6.2 -54.3Z"/><path fill="#39c895" stroke="#39c895" stroke-width=".5" d="M142.5 1292.2l-6.2 40.3 8.1 -40.1 6.2 -40.3Z"/><path fill="#2d88f6" stroke="#2d88f6" stroke-width=".5" d="M309.1 1453.3l-6.2 -50.7 8.1 -47.9 6.2 50.7Z"/><path fill="#2ec4a4" stroke="#2ec4a4" stroke-width=".5" d="M475.7 1256.8l-6.2 52.4 8.1 41.3 6.2 -52.4Z"/><path fill="#2797eb" stroke="#2797eb" stroke-width=".5" d="M258.3 1387.8l-6.2 44.5 8.1 -45.5 6.2 -44.5Z"/><path fill="#01b8c9" stroke="#01b8c9" stroke-width=".5" d="M424.9 1338.2l-6.2 -46.5 8.1 43.7 6.2 46.5Z"/><path fill="#3dc991" stroke="#3dc991" stroke-width=".5" d="M588.3 1262.1l-3 17 8.1 35.8 3 -17Z"/><path fill="#2cc4a7" stroke="#2cc4a7" stroke-width=".5" d="M207.6 1307.1l-6.2 42.7 8.1 -43.1 6.2 -42.7Z"/><path fill="#2d8af5" stroke="#2d8af5" stroke-width=".5" d="M374.1 1404.4l-6.2 -48.3 8.1 46.1 6.2 48.3Z"/><path fill="#3fca8e" stroke="#3fca8e" stroke-width=".5" d="M540.7 1241.3l-6.2 54.9 8.1 38.3 6.2 -54.9Z"/><path fill="#7bcc5d" stroke="#7bcc5d" stroke-width=".5" d="M156.8 1308.4l-6.2 -56.2 8.1 -40.7 6.2 56.2Z"/><path fill="#2d87f6" stroke="#2d87f6" stroke-width=".5" d="M323.3 1358.3l-6.2 47 8.1 48.6 6.2 -47Z"/><path fill="#03b7cc" stroke="#03b7cc" stroke-width=".5" d="M489.9 1342.1l-6.2 -44.1 8.1 40.7 6.2 44.1Z"/><path fill="#08b4d0" stroke="#08b4d0" stroke-width=".5" d="M272.6 1297.1l-6.2 45.2 8.1 51 6.2 -45.2Z"/><path fill="#3975fe" stroke="#3975fe" stroke-width=".5" d="M439.1 1427.8l-6.2 -45.9 8.1 43.1 6.2 45.9Z"/><path fill="#1ec0b2" stroke="#1ec0b2" stroke-width=".5" d="M221.8 1317.8l-6.2 -53.8 8.1 53.4 6.2 53.8Z"/><path fill="#4660fb" stroke="#4660fb" stroke-width=".5" d="M388.4 1401.1l-6.2 49.4 8.1 45.5 6.2 -49.4Z"/><path fill="#63cd6f" stroke="#63cd6f" stroke-width=".5" d="M554.9 1321.2l-6.2 -41.6 8.1 -59.5 6.2 41.6Z"/><path fill="#13beb9" stroke="#13beb9" stroke-width=".5" d="M171 1323.3l-6.2 -55.6 8.1 55.9 6.2 55.6Z"/><path fill="#2d87f6" stroke="#2d87f6" stroke-width=".5" d="M337.6 1359.3l-6.2 47.6 8.1 48 6.2 -47.6Z"/><path fill="#23a0e5" stroke="#23a0e5" stroke-width=".5" d="M504.2 1426.3l-6.2 -43.5 8.1 -57 6.2 43.5Z"/><path fill="#2c8ff1" stroke="#2c8ff1" stroke-width=".5" d="M286.8 1399.5l-6.2 -51.4 8.1 50.4 6.2 51.4Z"/><path fill="#317efb" stroke="#317efb" stroke-width=".5" d="M453.4 1419.1l-6.2 51.8 8.1 -54.6 6.2 -51.8Z"/><path fill="#3578fd" stroke="#3578fd" stroke-width=".5" d="M236 1424.4l-6.2 -53.2 8.1 52.8 6.2 53.2Z"/><path fill="#2b92ee" stroke="#2b92ee" stroke-width=".5" d="M402.6 1396.7l-6.2 50 8.1 -52.2 6.2 -50Z"/><path fill="#90ca4d" stroke="#90ca4d" stroke-width=".5" d="M569.2 1302.8l-6.2 -41 8.1 -60.1 6.2 41Z"/><path fill="#269ae9" stroke="#269ae9" stroke-width=".5" d="M185.2 1337.1l-6.2 42.1 8.1 55.2 6.2 -42.1Z"/><path fill="#2d88f6" stroke="#2d88f6" stroke-width=".5" d="M351.8 1456.2l-6.2 -48.9 8.1 -49.8 6.2 48.9Z"/><path fill="#26c2ac" stroke="#26c2ac" stroke-width=".5" d="M518.4 1315l-6.2 54.3 8.1 -57.7 6.2 -54.3Z"/><path fill="#30c5a1" stroke="#30c5a1" stroke-width=".5" d="M138.7 1274.8l-6.2 40.3 3.9 17.5 6.2 -40.3Z"/><path fill="#465ffb" stroke="#465ffb" stroke-width=".5" d="M301 1500.6l-6.2 -50.7 8.1 -47.3 6.2 50.7Z"/><path fill="#2ac3a9" stroke="#2ac3a9" stroke-width=".5" d="M467.6 1312l-6.2 52.4 8.1 -55.2 6.2 -52.4Z"/><path fill="#3c71ff" stroke="#3c71ff" stroke-width=".5" d="M250.3 1432.7l-6.2 44.5 8.1 -44.9 6.2 -44.5Z"/><path fill="#01b7ca" stroke="#01b7ca" stroke-width=".5" d="M416.8 1391l-6.2 -46.5 8.1 -52.8 6.2 46.5Z"/><path fill="#90ca4d" stroke="#90ca4d" stroke-width=".5" d="M580.2 1225.7l-3 17 8.1 36.4 3 -17Z"/><path fill="#0bb3d2" stroke="#0bb3d2" stroke-width=".5" d="M199.5 1349.6l-6.2 42.7 8.1 -42.5 6.2 -42.7Z"/><path fill="#2d8bf4" stroke="#2d8bf4" stroke-width=".5" d="M366.1 1454.8l-6.2 -48.3 8.1 -50.4 6.2 48.3Z"/><path fill="#9ac945" stroke="#9ac945" stroke-width=".5" d="M532.6 1202.5l-6.2 54.9 8.1 38.9 6.2 -54.9Z"/><path fill="#35c79a" stroke="#35c79a" stroke-width=".5" d="M148.7 1348.4l-6.2 -56.2 8.1 -40.1 6.2 56.2Z"/><path fill="#2d8bf4" stroke="#2d8bf4" stroke-width=".5" d="M315.3 1406.3l-6.2 47 8.1 -47.9 6.2 -47Z"/><path fill="#36c799" stroke="#36c799" stroke-width=".5" d="M481.8 1300.9l-6.2 -44.1 8.1 41.3 6.2 44.1Z"/><path fill="#01b7ca" stroke="#01b7ca" stroke-width=".5" d="M264.5 1342.6l-6.2 45.2 8.1 -45.5 6.2 -45.2Z"/><path fill="#249de6" stroke="#249de6" stroke-width=".5" d="M431.1 1384.1l-6.2 -45.9 8.1 43.7 6.2 45.9Z"/><path fill="#2ac3a9" stroke="#2ac3a9" stroke-width=".5" d="M213.7 1360.9l-6.2 -53.8 8.1 -43.1 6.2 53.8Z"/><path fill="#2c8ef2" stroke="#2c8ef2" stroke-width=".5" d="M380.3 1355l-6.2 49.4 8.1 46.1 6.2 -49.4Z"/><path fill="#54cc7c" stroke="#54cc7c" stroke-width=".5" d="M546.9 1283l-6.2 -41.6 8.1 38.3 6.2 41.6Z"/><path fill="#26c2ac" stroke="#26c2ac" stroke-width=".5" d="M162.9 1364l-6.2 -55.6 8.1 -40.7 6.2 55.6Z"/><path fill="#16afd9" stroke="#16afd9" stroke-width=".5" d="M329.5 1310.8l-6.2 47.6 8.1 48.6 6.2 -47.6Z"/><path fill="#259de7" stroke="#259de7" stroke-width=".5" d="M496.1 1385.6l-6.2 -43.5 8.1 40.7 6.2 43.5Z"/><path fill="#07b5cf" stroke="#07b5cf" stroke-width=".5" d="M278.7 1348.5l-6.2 -51.4 8.1 51 6.2 51.4Z"/><path fill="#327cfc" stroke="#327cfc" stroke-width=".5" d="M445.3 1376l-6.2 51.8 8.1 43.1 6.2 -51.8Z"/><path fill="#1ea7e1" stroke="#1ea7e1" stroke-width=".5" d="M228 1371l-6.2 -53.2 8.1 53.4 6.2 53.2Z"/><path fill="#2b92ee" stroke="#2b92ee" stroke-width=".5" d="M394.5 1351.1l-6.2 50 8.1 45.5 6.2 -50Z"/><path fill="#2cc4a7" stroke="#2cc4a7" stroke-width=".5" d="M561.1 1362.2l-6.2 -41 8.1 -59.5 6.2 41Z"/><path fill="#0dbdbb" stroke="#0dbdbb" stroke-width=".5" d="M177.2 1281.2l-6.2 42.1 8.1 55.9 6.2 -42.1Z"/><path fill="#2d8bf4" stroke="#2d8bf4" stroke-width=".5" d="M343.7 1408.3l-6.2 -48.9 8.1 48 6.2 48.9Z"/><path fill="#1ea8e1" stroke="#1ea8e1" stroke-width=".5" d="M510.3 1372l-6.2 54.3 8.1 -57 6.2 -54.3Z"/><path fill="#4563fd" stroke="#4563fd" stroke-width=".5" d="M293 1450.2l-6.2 -50.7 8.1 50.4 6.2 50.7Z"/><path fill="#1aabdd" stroke="#1aabdd" stroke-width=".5" d="M459.5 1366.6l-6.2 52.4 8.1 -54.6 6.2 -52.4Z"/><path fill="#3578fd" stroke="#3578fd" stroke-width=".5" d="M242.2 1379.9l-6.2 44.5 8.1 52.8 6.2 -44.5Z"/><path fill="#2797eb" stroke="#2797eb" stroke-width=".5" d="M408.8 1443.2l-6.2 -46.5 8.1 -52.2 6.2 46.5Z"/><path fill="#7ccc5c" stroke="#7ccc5c" stroke-width=".5" d="M572.1 1285.8l-3 17 8.1 -60.1 3 -17Z"/><path fill="#01b8c8" stroke="#01b8c8" stroke-width=".5" d="M191.4 1294.3l-6.2 42.7 8.1 55.2 6.2 -42.7Z"/><path fill="#465ffb" stroke="#465ffb" stroke-width=".5" d="M358 1504.5l-6.2 -48.3 8.1 -49.8 6.2 48.3Z"/><path fill="#8ccb50" stroke="#8ccb50" stroke-width=".5" d="M524.6 1260.1l-6.2 54.9 8.1 -57.7 6.2 -54.9Z"/><path fill="#2dc4a5" stroke="#2dc4a5" stroke-width=".5" d="M144.8 1331l-6.2 -56.2 3.9 17.5 6.2 56.2Z"/><path fill="#4661fc" stroke="#4661fc" stroke-width=".5" d="M307.2 1453.6l-6.2 47 8.1 -47.3 6.2 -47Z"/><path fill="#32c69e" stroke="#32c69e" stroke-width=".5" d="M473.8 1356.1l-6.2 -44.1 8.1 -55.2 6.2 44.1Z"/><path fill="#259ce7" stroke="#259ce7" stroke-width=".5" d="M256.4 1387.5l-6.2 45.2 8.1 -44.9 6.2 -45.2Z"/><path fill="#259ce7" stroke="#259ce7" stroke-width=".5" d="M423 1436.9l-6.2 -45.9 8.1 -52.8 6.2 45.9Z"/><path fill="#0db3d3" stroke="#0db3d3" stroke-width=".5" d="M205.6 1403.4l-6.2 -53.8 8.1 -42.5 6.2 53.8Z"/><path fill="#2c8ff1" stroke="#2c8ff1" stroke-width=".5" d="M372.2 1405.4l-6.2 49.4 8.1 -50.4 6.2 -49.4Z"/><path fill="#b2c535" stroke="#b2c535" stroke-width=".5" d="M538.8 1244.1l-6.2 -41.6 8.1 38.9 6.2 41.6Z"/><path fill="#0eb2d4" stroke="#0eb2d4" stroke-width=".5" d="M154.9 1404l-6.2 -55.6 8.1 -40.1 6.2 55.6Z"/><path fill="#12b1d6" stroke="#12b1d6" stroke-width=".5" d="M321.4 1358.7l-6.2 47.6 8.1 -47.9 6.2 -47.6Z"/><path fill="#01b9c7" stroke="#01b9c7" stroke-width=".5" d="M488 1344.3l-6.2 -43.5 8.1 41.3 6.2 43.5Z"/><path fill="#01b8c9" stroke="#01b8c9" stroke-width=".5" d="M270.7 1394l-6.2 -51.4 8.1 -45.5 6.2 51.4Z"/><path fill="#21a3e4" stroke="#21a3e4" stroke-width=".5" d="M437.2 1332.2l-6.2 51.8 8.1 43.7 6.2 -51.8Z"/><path fill="#19addc" stroke="#19addc" stroke-width=".5" d="M219.9 1414.1l-6.2 -53.2 8.1 -43.1 6.2 53.2Z"/><path fill="#08b4d0" stroke="#08b4d0" stroke-width=".5" d="M386.5 1305l-6.2 50 8.1 46.1 6.2 -50Z"/><path fill="#22c1b0" stroke="#22c1b0" stroke-width=".5" d="M553 1324l-6.2 -41 8.1 38.3 6.2 41Z"/><path fill="#23c1af" stroke="#23c1af" stroke-width=".5" d="M169.1 1321.9l-6.2 42.1 8.1 -40.7 6.2 -42.1Z"/><path fill="#12b1d6" stroke="#12b1d6" stroke-width=".5" d="M335.7 1359.7l-6.2 -48.9 8.1 48.6 6.2 48.9Z"/><path fill="#20a4e3" stroke="#20a4e3" stroke-width=".5" d="M502.2 1331.3l-6.2 54.3 8.1 40.7 6.2 -54.3Z"/><path fill="#2995ec" stroke="#2995ec" stroke-width=".5" d="M284.9 1399.2l-6.2 -50.7 8.1 51 6.2 50.7Z"/><path fill="#1caadf" stroke="#1caadf" stroke-width=".5" d="M451.5 1323.5l-6.2 52.4 8.1 43.1 6.2 -52.4Z"/><path fill="#1ea7e1" stroke="#1ea7e1" stroke-width=".5" d="M234.1 1326.4l-6.2 44.5 8.1 53.4 6.2 -44.5Z"/><path fill="#2797eb" stroke="#2797eb" stroke-width=".5" d="M400.7 1397.6l-6.2 -46.5 8.1 45.5 6.2 46.5Z"/><path fill="#1fc1b1" stroke="#1fc1b1" stroke-width=".5" d="M564.1 1345.3l-3 17 8.1 -59.5 3 -17Z"/><path fill="#53cc7d" stroke="#53cc7d" stroke-width=".5" d="M183.3 1238.5l-6.2 42.7 8.1 55.9 6.2 -42.7Z"/><path fill="#4661fc" stroke="#4661fc" stroke-width=".5" d="M349.9 1456.6l-6.2 -48.3 8.1 48 6.2 48.3Z"/><path fill="#2cc4a6" stroke="#2cc4a6" stroke-width=".5" d="M516.5 1317.2l-6.2 54.9 8.1 -57 6.2 -54.9Z"/><path fill="#4465fd" stroke="#4465fd" stroke-width=".5" d="M299.1 1403.2l-6.2 47 8.1 50.4 6.2 -47Z"/><path fill="#12b1d7" stroke="#12b1d7" stroke-width=".5" d="M465.7 1410.7l-6.2 -44.1 8.1 -54.6 6.2 44.1Z"/><path fill="#22a2e4" stroke="#22a2e4" stroke-width=".5" d="M248.4 1334.7l-6.2 45.2 8.1 52.8 6.2 -45.2Z"/><path fill="#3c71ff" stroke="#3c71ff" stroke-width=".5" d="M414.9 1489.1l-6.2 -45.9 8.1 -52.2 6.2 45.9Z"/><path fill="#01b8ca" stroke="#01b8ca" stroke-width=".5" d="M197.6 1348.1l-6.2 -53.8 8.1 55.2 6.2 53.8Z"/><path fill="#4563fd" stroke="#4563fd" stroke-width=".5" d="M364.1 1455.1l-6.2 49.4 8.1 -49.8 6.2 -49.4Z"/><path fill="#a5c83d" stroke="#a5c83d" stroke-width=".5" d="M530.7 1301.7l-6.2 -41.6 8.1 -57.7 6.2 41.6Z"/><path fill="#18addb" stroke="#18addb" stroke-width=".5" d="M151 1386.6l-6.2 -55.6 3.9 17.5 6.2 55.6Z"/><path fill="#2b91ef" stroke="#2b91ef" stroke-width=".5" d="M313.4 1406l-6.2 47.6 8.1 -47.3 6.2 -47.6Z"/><path fill="#02b7cb" stroke="#02b7cb" stroke-width=".5" d="M479.9 1399.5l-6.2 -43.5 8.1 -55.2 6.2 43.5Z"/><path fill="#249de6" stroke="#249de6" stroke-width=".5" d="M262.6 1438.9l-6.2 -51.4 8.1 -44.9 6.2 51.4Z"/><path fill="#22a2e4" stroke="#22a2e4" stroke-width=".5" d="M429.2 1385l-6.2 51.8 8.1 -52.8 6.2 -51.8Z"/><path fill="#2c8ff0" stroke="#2c8ff0" stroke-width=".5" d="M211.8 1456.5l-6.2 -53.2 8.1 -42.5 6.2 53.2Z"/><path fill="#07b5cf" stroke="#07b5cf" stroke-width=".5" d="M378.4 1355.4l-6.2 50 8.1 -50.4 6.2 -50Z"/><path fill="#5ecd74" stroke="#5ecd74" stroke-width=".5" d="M545 1285.1l-6.2 -41 8.1 38.9 6.2 41Z"/><path fill="#12b1d6" stroke="#12b1d6" stroke-width=".5" d="M161 1361.9l-6.2 42.1 8.1 -40.1 6.2 -42.1Z"/><path fill="#0cb3d3" stroke="#0cb3d3" stroke-width=".5" d="M327.6 1407.6l-6.2 -48.9 8.1 -47.9 6.2 48.9Z"/><path fill="#0bbdbd" stroke="#0bbdbd" stroke-width=".5" d="M494.2 1290.1l-6.2 54.3 8.1 41.3 6.2 -54.3Z"/><path fill="#2699e9" stroke="#2699e9" stroke-width=".5" d="M276.8 1444.7l-6.2 -50.7 8.1 -45.5 6.2 50.7Z"/><path fill="#20c1b1" stroke="#20c1b1" stroke-width=".5" d="M443.4 1279.8l-6.2 52.4 8.1 43.7 6.2 -52.4Z"/><path fill="#19addc" stroke="#19addc" stroke-width=".5" d="M226 1369.5l-6.2 44.5 8.1 -43.1 6.2 -44.5Z"/><path fill="#01b7ca" stroke="#01b7ca" stroke-width=".5" d="M392.6 1351.5l-6.2 -46.5 8.1 46.1 6.2 46.5Z"/><path fill="#11beba" stroke="#11beba" stroke-width=".5" d="M556 1307l-3 17 8.1 38.3 3 -17Z"/><path fill="#6acd6a" stroke="#6acd6a" stroke-width=".5" d="M175.3 1279.1l-6.2 42.7 8.1 -40.7 6.2 -42.7Z"/><path fill="#2b91ef" stroke="#2b91ef" stroke-width=".5" d="M341.8 1408l-6.2 -48.3 8.1 48.6 6.2 48.3Z"/><path fill="#26c2ac" stroke="#26c2ac" stroke-width=".5" d="M508.4 1276.5l-6.2 54.9 8.1 40.7 6.2 -54.9Z"/><path fill="#2797eb" stroke="#2797eb" stroke-width=".5" d="M291.1 1352.2l-6.2 47 8.1 51 6.2 -47Z"/><path fill="#15afd9" stroke="#15afd9" stroke-width=".5" d="M457.6 1367.6l-6.2 -44.1 8.1 43.1 6.2 44.1Z"/><path fill="#1ec0b2" stroke="#1ec0b2" stroke-width=".5" d="M240.3 1281.3l-6.2 45.2 8.1 53.4 6.2 -45.2Z"/><path fill="#3c71ff" stroke="#3c71ff" stroke-width=".5" d="M406.9 1443.5l-6.2 -45.9 8.1 45.5 6.2 45.9Z"/><path fill="#50cc7f" stroke="#50cc7f" stroke-width=".5" d="M189.5 1292.3l-6.2 -53.8 8.1 55.9 6.2 53.8Z"/><path fill="#4465fd" stroke="#4465fd" stroke-width=".5" d="M356.1 1407.2l-6.2 49.4 8.1 48 6.2 -49.4Z"/><path fill="#36c898" stroke="#36c898" stroke-width=".5" d="M522.6 1358.8l-6.2 -41.6 8.1 -57 6.2 41.6Z"/><path fill="#2995ec" stroke="#2995ec" stroke-width=".5" d="M305.3 1355.6l-6.2 47.6 8.1 50.4 6.2 -47.6Z"/><path fill="#2994ed" stroke="#2994ed" stroke-width=".5" d="M471.9 1454.2l-6.2 -43.5 8.1 -54.6 6.2 43.5Z"/><path fill="#21a3e4" stroke="#21a3e4" stroke-width=".5" d="M254.5 1386.1l-6.2 -51.4 8.1 52.8 6.2 51.4Z"/><path fill="#3578fd" stroke="#3578fd" stroke-width=".5" d="M421.1 1437.2l-6.2 51.8 8.1 -52.2 6.2 -51.8Z"/><path fill="#2797eb" stroke="#2797eb" stroke-width=".5" d="M203.7 1401.3l-6.2 -53.2 8.1 55.2 6.2 53.2Z"/><path fill="#2995ec" stroke="#2995ec" stroke-width=".5" d="M370.3 1405.1l-6.2 50 8.1 -49.8 6.2 -50Z"/><path fill="#52cc7e" stroke="#52cc7e" stroke-width=".5" d="M536.9 1342.8l-6.2 -41 8.1 -57.7 6.2 41Z"/><path fill="#1aacdd" stroke="#1aacdd" stroke-width=".5" d="M157.2 1344.5l-6.2 42.1 3.9 17.5 6.2 -42.1Z"/><path fill="#2994ed" stroke="#2994ed" stroke-width=".5" d="M319.5 1455l-6.2 -48.9 8.1 -47.3 6.2 48.9Z"/><path fill="#05bbc1" stroke="#05bbc1" stroke-width=".5" d="M486.1 1345.3l-6.2 54.3 8.1 -55.2 6.2 -54.3Z"/><path fill="#3975fe" stroke="#3975fe" stroke-width=".5" d="M268.8 1489.6l-6.2 -50.7 8.1 -44.9 6.2 50.7Z"/><path fill="#1ec0b2" stroke="#1ec0b2" stroke-width=".5" d="M435.3 1332.6l-6.2 52.4 8.1 -52.8 6.2 -52.4Z"/><path fill="#2c8ff0" stroke="#2c8ff0" stroke-width=".5" d="M218 1412l-6.2 44.5 8.1 -42.5 6.2 -44.5Z"/><path fill="#01b8c9" stroke="#01b8c9" stroke-width=".5" d="M384.5 1401.9l-6.2 -46.5 8.1 -50.4 6.2 46.5Z"/><path fill="#4ccb83" stroke="#4ccb83" stroke-width=".5" d="M547.9 1268.1l-3 17 8.1 38.9 3 -17Z"/><path fill="#2fc5a3" stroke="#2fc5a3" stroke-width=".5" d="M167.2 1319.2l-6.2 42.7 8.1 -40.1 6.2 -42.7Z"/><path fill="#2994ed" stroke="#2994ed" stroke-width=".5" d="M333.8 1455.9l-6.2 -48.3 8.1 -47.9 6.2 48.3Z"/><path fill="#6acd6a" stroke="#6acd6a" stroke-width=".5" d="M500.3 1235.2l-6.2 54.9 8.1 41.3 6.2 -54.9Z"/><path fill="#259be8" stroke="#259be8" stroke-width=".5" d="M283 1397.7l-6.2 47 8.1 -45.5 6.2 -47Z"/><path fill="#2cc4a7" stroke="#2cc4a7" stroke-width=".5" d="M449.6 1323.9l-6.2 -44.1 8.1 43.7 6.2 44.1Z"/><path fill="#2ac3a9" stroke="#2ac3a9" stroke-width=".5" d="M232.2 1324.4l-6.2 45.2 8.1 -43.1 6.2 -45.2Z"/><path fill="#259ce7" stroke="#259ce7" stroke-width=".5" d="M398.8 1397.4l-6.2 -45.9 8.1 46.1 6.2 45.9Z"/><path fill="#67cd6c" stroke="#67cd6c" stroke-width=".5" d="M181.4 1332.9l-6.2 -53.8 8.1 -40.7 6.2 53.8Z"/><path fill="#2995ec" stroke="#2995ec" stroke-width=".5" d="M348 1358.6l-6.2 49.4 8.1 48.6 6.2 -49.4Z"/><path fill="#32c69f" stroke="#32c69f" stroke-width=".5" d="M514.6 1318.1l-6.2 -41.6 8.1 40.7 6.2 41.6Z"/><path fill="#01b9c8" stroke="#01b9c8" stroke-width=".5" d="M297.2 1304.6l-6.2 47.6 8.1 51 6.2 -47.6Z"/><path fill="#2a92ee" stroke="#2a92ee" stroke-width=".5" d="M463.8 1411.1l-6.2 -43.5 8.1 43.1 6.2 43.5Z"/><path fill="#20c1b1" stroke="#20c1b1" stroke-width=".5" d="M246.4 1332.6l-6.2 -51.4 8.1 53.4 6.2 51.4Z"/><path fill="#3578fd" stroke="#3578fd" stroke-width=".5" d="M413 1391.7l-6.2 51.8 8.1 45.5 6.2 -51.8Z"/><path fill="#07bcbf" stroke="#07bcbf" stroke-width=".5" d="M195.7 1345.4l-6.2 -53.2 8.1 55.9 6.2 53.2Z"/><path fill="#2797eb" stroke="#2797eb" stroke-width=".5" d="M362.2 1357.2l-6.2 50 8.1 48 6.2 -50Z"/><path fill="#02bac4" stroke="#02bac4" stroke-width=".5" d="M528.8 1399.8l-6.2 -41 8.1 -57 6.2 41Z"/><path fill="#2798ea" stroke="#2798ea" stroke-width=".5" d="M311.5 1404.6l-6.2 -48.9 8.1 50.4 6.2 48.9Z"/><path fill="#259ce7" stroke="#259ce7" stroke-width=".5" d="M478 1399.9l-6.2 54.3 8.1 -54.6 6.2 -54.3Z"/><path fill="#327cfc" stroke="#327cfc" stroke-width=".5" d="M260.7 1436.8l-6.2 -50.7 8.1 52.8 6.2 50.7Z"/><path fill="#1ea7e1" stroke="#1ea7e1" stroke-width=".5" d="M427.3 1384.8l-6.2 52.4 8.1 -52.2 6.2 -52.4Z"/><path fill="#2797eb" stroke="#2797eb" stroke-width=".5" d="M209.9 1356.7l-6.2 44.5 8.1 55.2 6.2 -44.5Z"/><path fill="#2699e9" stroke="#2699e9" stroke-width=".5" d="M376.5 1451.6l-6.2 -46.5 8.1 -49.8 6.2 46.5Z"/><path fill="#41ca8c" stroke="#41ca8c" stroke-width=".5" d="M539.8 1325.8l-3 17 8.1 -57.7 3 -17Z"/><path fill="#25c2ae" stroke="#25c2ae" stroke-width=".5" d="M163.3 1301.7l-6.2 42.7 3.9 17.5 6.2 -42.7Z"/><path fill="#416bfe" stroke="#416bfe" stroke-width=".5" d="M325.7 1503.3l-6.2 -48.3 8.1 -47.3 6.2 48.3Z"/><path fill="#62cd71" stroke="#62cd71" stroke-width=".5" d="M492.3 1290.4l-6.2 54.9 8.1 -55.2 6.2 -54.9Z"/><path fill="#3777fe" stroke="#3777fe" stroke-width=".5" d="M274.9 1442.6l-6.2 47 8.1 -44.9 6.2 -47Z"/><path fill="#2ac3a9" stroke="#2ac3a9" stroke-width=".5" d="M441.5 1376.7l-6.2 -44.1 8.1 -52.8 6.2 44.1Z"/><path fill="#0db3d3" stroke="#0db3d3" stroke-width=".5" d="M224.1 1366.8l-6.2 45.2 8.1 -42.5 6.2 -45.2Z"/><path fill="#249de6" stroke="#249de6" stroke-width=".5" d="M390.7 1447.8l-6.2 -45.9 8.1 -50.4 6.2 45.9Z"/><path fill="#2dc4a5" stroke="#2dc4a5" stroke-width=".5" d="M173.4 1373l-6.2 -53.8 8.1 -40.1 6.2 53.8Z"/><path fill="#2798ea" stroke="#2798ea" stroke-width=".5" d="M339.9 1406.5l-6.2 49.4 8.1 -47.9 6.2 -49.4Z"/><path fill="#84cc56" stroke="#84cc56" stroke-width=".5" d="M506.5 1276.8l-6.2 -41.6 8.1 41.3 6.2 41.6Z"/><path fill="#05bbc1" stroke="#05bbc1" stroke-width=".5" d="M289.2 1350.2l-6.2 47.6 8.1 -45.5 6.2 -47.6Z"/><path fill="#0bb3d2" stroke="#0bb3d2" stroke-width=".5" d="M455.7 1367.3l-6.2 -43.5 8.1 43.7 6.2 43.5Z"/><path fill="#2cc4a7" stroke="#2cc4a7" stroke-width=".5" d="M238.4 1375.7l-6.2 -51.4 8.1 -43.1 6.2 51.4Z"/><path fill="#22a2e4" stroke="#22a2e4" stroke-width=".5" d="M404.9 1345.6l-6.2 51.8 8.1 46.1 6.2 -51.8Z"/><path fill="#1dc0b3" stroke="#1dc0b3" stroke-width=".5" d="M187.6 1386.1l-6.2 -53.2 8.1 -40.7 6.2 53.2Z"/><path fill="#01b9c8" stroke="#01b9c8" stroke-width=".5" d="M354.2 1308.6l-6.2 50 8.1 48.6 6.2 -50Z"/><path fill="#01b8c9" stroke="#01b8c9" stroke-width=".5" d="M520.7 1359.2l-6.2 -41 8.1 40.7 6.2 41Z"/><path fill="#02bac4" stroke="#02bac4" stroke-width=".5" d="M303.4 1353.6l-6.2 -48.9 8.1 51 6.2 48.9Z"/><path fill="#269ae9" stroke="#269ae9" stroke-width=".5" d="M470 1356.8l-6.2 54.3 8.1 43.1 6.2 -54.3Z"/><path fill="#1caadf" stroke="#1caadf" stroke-width=".5" d="M252.6 1383.4l-6.2 -50.7 8.1 53.4 6.2 50.7Z"/><path fill="#1ea7e1" stroke="#1ea7e1" stroke-width=".5" d="M419.2 1339.3l-6.2 52.4 8.1 45.5 6.2 -52.4Z"/><path fill="#07bcbf" stroke="#07bcbf" stroke-width=".5" d="M201.8 1300.9l-6.2 44.5 8.1 55.9 6.2 -44.5Z"/><path fill="#259be8" stroke="#259be8" stroke-width=".5" d="M368.4 1403.7l-6.2 -46.5 8.1 48 6.2 46.5Z"/><path fill="#04b6cd" stroke="#04b6cd" stroke-width=".5" d="M531.8 1382.8l-3 17 8.1 -57 3 -17Z"/><path fill="#3e70ff" stroke="#3e70ff" stroke-width=".5" d="M317.6 1452.9l-6.2 -48.3 8.1 50.4 6.2 48.3Z"/><path fill="#13beb9" stroke="#13beb9" stroke-width=".5" d="M484.2 1345l-6.2 54.9 8.1 -54.6 6.2 -54.9Z"/><path fill="#317efb" stroke="#317efb" stroke-width=".5" d="M266.8 1389.8l-6.2 47 8.1 52.8 6.2 -47Z"/><path fill="#19addc" stroke="#19addc" stroke-width=".5" d="M433.4 1428.9l-6.2 -44.1 8.1 -52.2 6.2 44.1Z"/><path fill="#01b8ca" stroke="#01b8ca" stroke-width=".5" d="M216.1 1311.6l-6.2 45.2 8.1 55.2 6.2 -45.2Z"/><path fill="#3975fe" stroke="#3975fe" stroke-width=".5" d="M382.6 1497.5l-6.2 -45.9 8.1 -49.8 6.2 45.9Z"/><path fill="#23c1af" stroke="#23c1af" stroke-width=".5" d="M169.5 1355.5l-6.2 -53.8 3.9 17.5 6.2 53.8Z"/><path fill="#3e70ff" stroke="#3e70ff" stroke-width=".5" d="M331.9 1453.9l-6.2 49.4 8.1 -47.3 6.2 -49.4Z"/><path fill="#7bcc5d" stroke="#7bcc5d" stroke-width=".5" d="M498.4 1332.1l-6.2 -41.6 8.1 -55.2 6.2 41.6Z"/><path fill="#21a3e4" stroke="#21a3e4" stroke-width=".5" d="M281.1 1395.1l-6.2 47.6 8.1 -44.9 6.2 -47.6Z"/><path fill="#0db3d3" stroke="#0db3d3" stroke-width=".5" d="M447.7 1420.1l-6.2 -43.5 8.1 -52.8 6.2 43.5Z"/><path fill="#0bb3d2" stroke="#0bb3d2" stroke-width=".5" d="M230.3 1418.2l-6.2 -51.4 8.1 -42.5 6.2 51.4Z"/><path fill="#21a3e4" stroke="#21a3e4" stroke-width=".5" d="M396.9 1395.9l-6.2 51.8 8.1 -50.4 6.2 -51.8Z"/><path fill="#16afd9" stroke="#16afd9" stroke-width=".5" d="M179.5 1426.2l-6.2 -53.2 8.1 -40.1 6.2 53.2Z"/><path fill="#02bac4" stroke="#02bac4" stroke-width=".5" d="M346.1 1356.5l-6.2 50 8.1 -47.9 6.2 -50Z"/><path fill="#39c895" stroke="#39c895" stroke-width=".5" d="M512.7 1317.9l-6.2 -41 8.1 41.3 6.2 41Z"/><path fill="#0abdbd" stroke="#0abdbd" stroke-width=".5" d="M295.3 1399.1l-6.2 -48.9 8.1 -45.5 6.2 48.9Z"/><path fill="#01b8c8" stroke="#01b8c8" stroke-width=".5" d="M461.9 1313.1l-6.2 54.3 8.1 43.7 6.2 -54.3Z"/><path fill="#15afd9" stroke="#15afd9" stroke-width=".5" d="M244.5 1426.5l-6.2 -50.7 8.1 -43.1 6.2 50.7Z"/><path fill="#1ec0b2" stroke="#1ec0b2" stroke-width=".5" d="M411.1 1293.1l-6.2 52.4 8.1 46.1 6.2 -52.4Z"/><path fill="#1dc0b3" stroke="#1dc0b3" stroke-width=".5" d="M193.8 1341.6l-6.2 44.5 8.1 -40.7 6.2 -44.5Z"/><path fill="#05bbc1" stroke="#05bbc1" stroke-width=".5" d="M360.3 1355.1l-6.2 -46.5 8.1 48.6 6.2 46.5Z"/><path fill="#0ab4d2" stroke="#0ab4d2" stroke-width=".5" d="M523.7 1342.2l-3 17 8.1 40.7 3 -17Z"/><path fill="#249fe5" stroke="#249fe5" stroke-width=".5" d="M309.6 1401.9l-6.2 -48.3 8.1 51 6.2 48.3Z"/><path fill="#0dbdbb" stroke="#0dbdbb" stroke-width=".5" d="M476.1 1301.9l-6.2 54.9 8.1 43.1 6.2 -54.9Z"/><path fill="#1aabdd" stroke="#1aabdd" stroke-width=".5" d="M258.8 1336.4l-6.2 47 8.1 53.4 6.2 -47Z"/><path fill="#19addc" stroke="#19addc" stroke-width=".5" d="M425.3 1383.3l-6.2 -44.1 8.1 45.5 6.2 44.1Z"/><path fill="#50cc7f" stroke="#50cc7f" stroke-width=".5" d="M208 1255.7l-6.2 45.2 8.1 55.9 6.2 -45.2Z"/><path fill="#3777fe" stroke="#3777fe" stroke-width=".5" d="M374.6 1449.6l-6.2 -45.9 8.1 48 6.2 45.9Z"/><path fill="#3975fe" stroke="#3975fe" stroke-width=".5" d="M323.8 1403.5l-6.2 49.4 8.1 50.4 6.2 -49.4Z"/><path fill="#26c2ac" stroke="#26c2ac" stroke-width=".5" d="M490.4 1386.7l-6.2 -41.6 8.1 -54.6 6.2 41.6Z"/><path fill="#1da8e0" stroke="#1da8e0" stroke-width=".5" d="M273 1342.2l-6.2 47.6 8.1 52.8 6.2 -47.6Z"/><path fill="#2c8ff0" stroke="#2c8ff0" stroke-width=".5" d="M439.6 1472.3l-6.2 -43.5 8.1 -52.2 6.2 43.5Z"/><path fill="#01b8c8" stroke="#01b8c8" stroke-width=".5" d="M222.2 1362.9l-6.2 -51.4 8.1 55.2 6.2 51.4Z"/><path fill="#327cfc" stroke="#327cfc" stroke-width=".5" d="M388.8 1445.7l-6.2 51.8 8.1 -49.8 6.2 -51.8Z"/><path fill="#1ca9e0" stroke="#1ca9e0" stroke-width=".5" d="M175.6 1408.7l-6.2 -53.2 3.9 17.5 6.2 53.2Z"/><path fill="#249fe5" stroke="#249fe5" stroke-width=".5" d="M338 1403.9l-6.2 50 8.1 -47.3 6.2 -50Z"/><path fill="#35c79a" stroke="#35c79a" stroke-width=".5" d="M504.6 1373.1l-6.2 -41 8.1 -55.2 6.2 41Z"/><path fill="#1fa5e2" stroke="#1fa5e2" stroke-width=".5" d="M287.2 1444l-6.2 -48.9 8.1 -44.9 6.2 48.9Z"/><path fill="#01b8ca" stroke="#01b8ca" stroke-width=".5" d="M453.8 1365.9l-6.2 54.3 8.1 -52.8 6.2 -54.3Z"/><path fill="#2a92ee" stroke="#2a92ee" stroke-width=".5" d="M236.5 1468.9l-6.2 -50.7 8.1 -42.5 6.2 50.7Z"/><path fill="#20c1b1" stroke="#20c1b1" stroke-width=".5" d="M403 1343.5l-6.2 52.4 8.1 -50.4 6.2 -52.4Z"/><path fill="#16afd9" stroke="#16afd9" stroke-width=".5" d="M185.7 1381.6l-6.2 44.5 8.1 -40.1 6.2 -44.5Z"/><path fill="#0abdbd" stroke="#0abdbd" stroke-width=".5" d="M352.3 1403l-6.2 -46.5 8.1 -47.9 6.2 46.5Z"/><path fill="#30c5a1" stroke="#30c5a1" stroke-width=".5" d="M515.6 1300.9l-3 17 8.1 41.3 3 -17Z"/><path fill="#21a4e3" stroke="#21a4e3" stroke-width=".5" d="M301.5 1447.4l-6.2 -48.3 8.1 -45.5 6.2 48.3Z"/><path fill="#53cc7d" stroke="#53cc7d" stroke-width=".5" d="M468.1 1258.2l-6.2 54.9 8.1 43.7 6.2 -54.9Z"/><path fill="#12b1d7" stroke="#12b1d7" stroke-width=".5" d="M250.7 1379.5l-6.2 47 8.1 -43.1 6.2 -47Z"/><path fill="#2ac3a9" stroke="#2ac3a9" stroke-width=".5" d="M417.3 1337.2l-6.2 -44.1 8.1 46.1 6.2 44.1Z"/><path fill="#67cd6c" stroke="#67cd6c" stroke-width=".5" d="M199.9 1296.4l-6.2 45.2 8.1 -40.7 6.2 -45.2Z"/><path fill="#21a3e4" stroke="#21a3e4" stroke-width=".5" d="M366.5 1401l-6.2 -45.9 8.1 48.6 6.2 45.9Z"/><path fill="#21a3e4" stroke="#21a3e4" stroke-width=".5" d="M315.7 1352.5l-6.2 49.4 8.1 51 6.2 -49.4Z"/><path fill="#23c1af" stroke="#23c1af" stroke-width=".5" d="M482.3 1343.6l-6.2 -41.6 8.1 43.1 6.2 41.6Z"/><path fill="#2ac3a9" stroke="#2ac3a9" stroke-width=".5" d="M264.9 1288.8l-6.2 47.6 8.1 53.4 6.2 -47.6Z"/><path fill="#2c8ff0" stroke="#2c8ff0" stroke-width=".5" d="M431.5 1426.8l-6.2 -43.5 8.1 45.5 6.2 43.5Z"/><path fill="#53cc7d" stroke="#53cc7d" stroke-width=".5" d="M214.2 1307.1l-6.2 -51.4 8.1 55.9 6.2 51.4Z"/><path fill="#317efb" stroke="#317efb" stroke-width=".5" d="M380.7 1397.7l-6.2 51.8 8.1 48 6.2 -51.8Z"/><path fill="#21a3e4" stroke="#21a3e4" stroke-width=".5" d="M330 1353.5l-6.2 50 8.1 50.4 6.2 -50Z"/><path fill="#0eb2d4" stroke="#0eb2d4" stroke-width=".5" d="M496.5 1427.7l-6.2 -41 8.1 -54.6 6.2 41Z"/><path fill="#1babde" stroke="#1babde" stroke-width=".5" d="M279.2 1391.2l-6.2 -48.9 8.1 52.8 6.2 48.9Z"/><path fill="#2797eb" stroke="#2797eb" stroke-width=".5" d="M445.7 1418.1l-6.2 54.3 8.1 -52.2 6.2 -54.3Z"/><path fill="#269ae9" stroke="#269ae9" stroke-width=".5" d="M228.4 1413.7l-6.2 -50.7 8.1 55.2 6.2 50.7Z"/><path fill="#1caadf" stroke="#1caadf" stroke-width=".5" d="M395 1393.2l-6.2 52.4 8.1 -49.8 6.2 -52.4Z"/><path fill="#1ca9e0" stroke="#1ca9e0" stroke-width=".5" d="M181.8 1364.1l-6.2 44.5 3.9 17.5 6.2 -44.5Z"/><path fill="#21a4e3" stroke="#21a4e3" stroke-width=".5" d="M344.2 1450.4l-6.2 -46.5 8.1 -47.3 6.2 46.5Z"/><path fill="#2dc4a5" stroke="#2dc4a5" stroke-width=".5" d="M507.6 1356.1l-3 17 8.1 -55.2 3 -17Z"/><path fill="#2f82fa" stroke="#2f82fa" stroke-width=".5" d="M293.4 1492.3l-6.2 -48.3 8.1 -44.9 6.2 48.3Z"/><path fill="#50cc7f" stroke="#50cc7f" stroke-width=".5" d="M460 1311l-6.2 54.9 8.1 -52.8 6.2 -54.9Z"/><path fill="#2994ed" stroke="#2994ed" stroke-width=".5" d="M242.6 1422l-6.2 47 8.1 -42.5 6.2 -47Z"/><path fill="#2cc4a7" stroke="#2cc4a7" stroke-width=".5" d="M409.2 1387.6l-6.2 -44.1 8.1 -50.4 6.2 44.1Z"/><path fill="#2dc4a5" stroke="#2dc4a5" stroke-width=".5" d="M191.9 1336.4l-6.2 45.2 8.1 -40.1 6.2 -45.2Z"/><path fill="#1fa5e2" stroke="#1fa5e2" stroke-width=".5" d="M358.4 1448.9l-6.2 -45.9 8.1 -47.9 6.2 45.9Z"/><path fill="#1ea7e1" stroke="#1ea7e1" stroke-width=".5" d="M307.6 1398l-6.2 49.4 8.1 -45.5 6.2 -49.4Z"/><path fill="#6acd6a" stroke="#6acd6a" stroke-width=".5" d="M474.2 1299.9l-6.2 -41.6 8.1 43.7 6.2 41.6Z"/><path fill="#32c69e" stroke="#32c69e" stroke-width=".5" d="M256.9 1331.9l-6.2 47.6 8.1 -43.1 6.2 -47.6Z"/><path fill="#0db3d3" stroke="#0db3d3" stroke-width=".5" d="M423.4 1380.6l-6.2 -43.5 8.1 46.1 6.2 43.5Z"/><path fill="#6acd6a" stroke="#6acd6a" stroke-width=".5" d="M206.1 1347.8l-6.2 -51.4 8.1 -40.7 6.2 51.4Z"/><path fill="#1da8e0" stroke="#1da8e0" stroke-width=".5" d="M372.7 1349.1l-6.2 51.8 8.1 48.6 6.2 -51.8Z"/><path fill="#1bc0b4" stroke="#1bc0b4" stroke-width=".5" d="M321.9 1302.5l-6.2 50 8.1 51 6.2 -50Z"/><path fill="#12b1d6" stroke="#12b1d6" stroke-width=".5" d="M488.5 1384.6l-6.2 -41 8.1 43.1 6.2 41Z"/><path fill="#2ec4a4" stroke="#2ec4a4" stroke-width=".5" d="M271.1 1337.7l-6.2 -48.9 8.1 53.4 6.2 48.9Z"/><path fill="#2797eb" stroke="#2797eb" stroke-width=".5" d="M437.7 1372.5l-6.2 54.3 8.1 45.5 6.2 -54.3Z"/><path fill="#0dbdbb" stroke="#0dbdbb" stroke-width=".5" d="M220.3 1357.8l-6.2 -50.7 8.1 55.9 6.2 50.7Z"/><path fill="#1aabdd" stroke="#1aabdd" stroke-width=".5" d="M386.9 1345.3l-6.2 52.4 8.1 48 6.2 -52.4Z"/><path fill="#1ea7e1" stroke="#1ea7e1" stroke-width=".5" d="M336.1 1400l-6.2 -46.5 8.1 50.4 6.2 46.5Z"/><path fill="#18addb" stroke="#18addb" stroke-width=".5" d="M499.5 1410.7l-3 17 8.1 -54.6 3 -17Z"/><path fill="#2d88f6" stroke="#2d88f6" stroke-width=".5" d="M285.3 1439.5l-6.2 -48.3 8.1 52.8 6.2 48.3Z"/><path fill="#07bcbf" stroke="#07bcbf" stroke-width=".5" d="M451.9 1363.2l-6.2 54.9 8.1 -52.2 6.2 -54.9Z"/><path fill="#259ce7" stroke="#259ce7" stroke-width=".5" d="M234.6 1366.7l-6.2 47 8.1 55.2 6.2 -47Z"/><path fill="#15afd9" stroke="#15afd9" stroke-width=".5" d="M401.1 1437.3l-6.2 -44.1 8.1 -49.8 6.2 44.1Z"/><path fill="#23c1af" stroke="#23c1af" stroke-width=".5" d="M188 1319l-6.2 45.2 3.9 17.5 6.2 -45.2Z"/><path fill="#2f82fa" stroke="#2f82fa" stroke-width=".5" d="M350.4 1496.3l-6.2 -45.9 8.1 -47.3 6.2 45.9Z"/><path fill="#2e86f7" stroke="#2e86f7" stroke-width=".5" d="M299.6 1442.9l-6.2 49.4 8.1 -44.9 6.2 -49.4Z"/><path fill="#67cd6c" stroke="#67cd6c" stroke-width=".5" d="M466.1 1352.7l-6.2 -41.6 8.1 -52.8 6.2 41.6Z"/><path fill="#02b7cb" stroke="#02b7cb" stroke-width=".5" d="M248.8 1374.4l-6.2 47.6 8.1 -42.5 6.2 -47.6Z"/><path fill="#0bb3d2" stroke="#0bb3d2" stroke-width=".5" d="M415.4 1431l-6.2 -43.5 8.1 -50.4 6.2 43.5Z"/><path fill="#2fc5a3" stroke="#2fc5a3" stroke-width=".5" d="M198 1387.8l-6.2 -51.4 8.1 -40.1 6.2 51.4Z"/><path fill="#1babde" stroke="#1babde" stroke-width=".5" d="M364.6 1397.1l-6.2 51.8 8.1 -47.9 6.2 -51.8Z"/><path fill="#26c2ad" stroke="#26c2ad" stroke-width=".5" d="M313.8 1348l-6.2 50 8.1 -45.5 6.2 -50Z"/><path fill="#2fc5a3" stroke="#2fc5a3" stroke-width=".5" d="M480.4 1340.9l-6.2 -41 8.1 43.7 6.2 41Z"/><path fill="#36c799" stroke="#36c799" stroke-width=".5" d="M263 1380.8l-6.2 -48.9 8.1 -43.1 6.2 48.9Z"/><path fill="#01b8ca" stroke="#01b8ca" stroke-width=".5" d="M429.6 1326.4l-6.2 54.3 8.1 46.1 6.2 -54.3Z"/><path fill="#23c1af" stroke="#23c1af" stroke-width=".5" d="M212.3 1398.5l-6.2 -50.7 8.1 -40.7 6.2 50.7Z"/><path fill="#2ac3a9" stroke="#2ac3a9" stroke-width=".5" d="M378.8 1296.7l-6.2 52.4 8.1 48.6 6.2 -52.4Z"/><path fill="#26c2ad" stroke="#26c2ad" stroke-width=".5" d="M328 1349l-6.2 -46.5 8.1 51 6.2 46.5Z"/><path fill="#1aacdd" stroke="#1aacdd" stroke-width=".5" d="M491.4 1367.6l-3 17 8.1 43.1 3 -17Z"/><path fill="#0fb2d4" stroke="#0fb2d4" stroke-width=".5" d="M277.3 1386.1l-6.2 -48.3 8.1 53.4 6.2 48.3Z"/><path fill="#07bcbf" stroke="#07bcbf" stroke-width=".5" d="M443.8 1317.7l-6.2 54.9 8.1 45.5 6.2 -54.9Z"/><path fill="#13beb9" stroke="#13beb9" stroke-width=".5" d="M226.5 1310.9l-6.2 47 8.1 55.9 6.2 -47Z"/><path fill="#12b1d7" stroke="#12b1d7" stroke-width=".5" d="M393.1 1389.4l-6.2 -44.1 8.1 48 6.2 44.1Z"/><path fill="#2e86f7" stroke="#2e86f7" stroke-width=".5" d="M342.3 1445.9l-6.2 -45.9 8.1 50.4 6.2 45.9Z"/><path fill="#2d8cf3" stroke="#2d8cf3" stroke-width=".5" d="M291.5 1390.1l-6.2 49.4 8.1 52.8 6.2 -49.4Z"/><path fill="#1dc0b3" stroke="#1dc0b3" stroke-width=".5" d="M458.1 1404.8l-6.2 -41.6 8.1 -52.2 6.2 41.6Z"/><path fill="#05bbc1" stroke="#05bbc1" stroke-width=".5" d="M240.7 1319.1l-6.2 47.6 8.1 55.2 6.2 -47.6Z"/><path fill="#2a92ee" stroke="#2a92ee" stroke-width=".5" d="M407.3 1480.8l-6.2 -43.5 8.1 -49.8 6.2 43.5Z"/><path fill="#25c2ae" stroke="#25c2ae" stroke-width=".5" d="M194.1 1370.3l-6.2 -51.4 3.9 17.5 6.2 51.4Z"/><path fill="#2d88f6" stroke="#2d88f6" stroke-width=".5" d="M356.5 1444.4l-6.2 51.8 8.1 -47.3 6.2 -51.8Z"/><path fill="#15afd9" stroke="#15afd9" stroke-width=".5" d="M305.7 1392.9l-6.2 50 8.1 -44.9 6.2 -50Z"/><path fill="#2dc4a5" stroke="#2dc4a5" stroke-width=".5" d="M472.3 1393.7l-6.2 -41 8.1 -52.8 6.2 41Z"/><path fill="#01b9c7" stroke="#01b9c7" stroke-width=".5" d="M255 1423.3l-6.2 -48.9 8.1 -42.5 6.2 48.9Z"/><path fill="#01b8c8" stroke="#01b8c8" stroke-width=".5" d="M421.5 1376.8l-6.2 54.3 8.1 -50.4 6.2 -54.3Z"/><path fill="#12b1d6" stroke="#12b1d6" stroke-width=".5" d="M204.2 1438.6l-6.2 -50.7 8.1 -40.1 6.2 50.7Z"/><path fill="#2ec4a4" stroke="#2ec4a4" stroke-width=".5" d="M370.8 1344.7l-6.2 52.4 8.1 -47.9 6.2 -52.4Z"/><path fill="#2dc4a6" stroke="#2dc4a6" stroke-width=".5" d="M320 1394.5l-6.2 -46.5 8.1 -45.5 6.2 46.5Z"/><path fill="#25c2ae" stroke="#25c2ae" stroke-width=".5" d="M483.3 1323.9l-3 17 8.1 43.7 3 -17Z"/><path fill="#03b7cc" stroke="#03b7cc" stroke-width=".5" d="M269.2 1429.2l-6.2 -48.3 8.1 -43.1 6.2 48.3Z"/><path fill="#50cc7f" stroke="#50cc7f" stroke-width=".5" d="M435.8 1271.5l-6.2 54.9 8.1 46.1 6.2 -54.9Z"/><path fill="#26c2ac" stroke="#26c2ac" stroke-width=".5" d="M218.4 1351.5l-6.2 47 8.1 -40.7 6.2 -47Z"/><path fill="#32c69e" stroke="#32c69e" stroke-width=".5" d="M385 1340.8l-6.2 -44.1 8.1 48.6 6.2 44.1Z"/><path fill="#15afd9" stroke="#15afd9" stroke-width=".5" d="M334.2 1394.9l-6.2 -45.9 8.1 51 6.2 45.9Z"/><path fill="#07b5d0" stroke="#07b5d0" stroke-width=".5" d="M283.4 1336.7l-6.2 49.4 8.1 53.4 6.2 -49.4Z"/><path fill="#1dc0b3" stroke="#1dc0b3" stroke-width=".5" d="M450 1359.3l-6.2 -41.6 8.1 45.5 6.2 41.6Z"/><path fill="#62cd71" stroke="#62cd71" stroke-width=".5" d="M232.7 1263.3l-6.2 47.6 8.1 55.9 6.2 -47.6Z"/><path fill="#2994ed" stroke="#2994ed" stroke-width=".5" d="M399.2 1432.8l-6.2 -43.5 8.1 48 6.2 43.5Z"/><path fill="#2d8cf3" stroke="#2d8cf3" stroke-width=".5" d="M348.4 1394l-6.2 51.8 8.1 50.4 6.2 -51.8Z"/><path fill="#0bb3d2" stroke="#0bb3d2" stroke-width=".5" d="M297.7 1340.1l-6.2 50 8.1 52.8 6.2 -50Z"/><path fill="#16afd9" stroke="#16afd9" stroke-width=".5" d="M464.2 1445.9l-6.2 -41 8.1 -52.2 6.2 41Z"/><path fill="#0bbdbd" stroke="#0bbdbd" stroke-width=".5" d="M246.9 1368.1l-6.2 -48.9 8.1 55.2 6.2 48.9Z"/><path fill="#269ae9" stroke="#269ae9" stroke-width=".5" d="M413.5 1426.5l-6.2 54.3 8.1 -49.8 6.2 -54.3Z"/><path fill="#1aacdd" stroke="#1aacdd" stroke-width=".5" d="M200.3 1421.1l-6.2 -50.7 3.9 17.5 6.2 50.7Z"/><path fill="#0fb2d4" stroke="#0fb2d4" stroke-width=".5" d="M362.7 1392l-6.2 52.4 8.1 -47.3 6.2 -52.4Z"/><path fill="#0db3d3" stroke="#0db3d3" stroke-width=".5" d="M311.9 1439.4l-6.2 -46.5 8.1 -44.9 6.2 46.5Z"/><path fill="#23c1af" stroke="#23c1af" stroke-width=".5" d="M475.3 1376.7l-3 17 8.1 -52.8 3 -17Z"/><path fill="#259de7" stroke="#259de7" stroke-width=".5" d="M261.1 1471.6l-6.2 -48.3 8.1 -42.5 6.2 48.3Z"/><path fill="#53cc7d" stroke="#53cc7d" stroke-width=".5" d="M427.7 1321.9l-6.2 54.9 8.1 -50.4 6.2 -54.9Z"/><path fill="#0eb2d4" stroke="#0eb2d4" stroke-width=".5" d="M210.3 1391.6l-6.2 47 8.1 -40.1 6.2 -47Z"/><path fill="#36c799" stroke="#36c799" stroke-width=".5" d="M376.9 1388.7l-6.2 -44.1 8.1 -47.9 6.2 44.1Z"/><path fill="#0db3d3" stroke="#0db3d3" stroke-width=".5" d="M326.1 1440.4l-6.2 -45.9 8.1 -45.5 6.2 45.9Z"/><path fill="#01b9c7" stroke="#01b9c7" stroke-width=".5" d="M275.4 1379.7l-6.2 49.4 8.1 -43.1 6.2 -49.4Z"/><path fill="#67cd6c" stroke="#67cd6c" stroke-width=".5" d="M441.9 1313.2l-6.2 -41.6 8.1 46.1 6.2 41.6Z"/><path fill="#7bcc5d" stroke="#7bcc5d" stroke-width=".5" d="M224.6 1303.9l-6.2 47.6 8.1 -40.7 6.2 -47.6Z"/><path fill="#02b7cb" stroke="#02b7cb" stroke-width=".5" d="M391.2 1384.2l-6.2 -43.5 8.1 48.6 6.2 43.5Z"/><path fill="#0bb3d2" stroke="#0bb3d2" stroke-width=".5" d="M340.4 1343l-6.2 51.8 8.1 51 6.2 -51.8Z"/><path fill="#3dc990" stroke="#3dc990" stroke-width=".5" d="M289.6 1286.7l-6.2 50 8.1 53.4 6.2 -50Z"/><path fill="#16afd9" stroke="#16afd9" stroke-width=".5" d="M456.2 1400.3l-6.2 -41 8.1 45.5 6.2 41Z"/><path fill="#6acd6a" stroke="#6acd6a" stroke-width=".5" d="M238.8 1312.2l-6.2 -48.9 8.1 55.9 6.2 48.9Z"/><path fill="#259ce7" stroke="#259ce7" stroke-width=".5" d="M405.4 1378.6l-6.2 54.3 8.1 48 6.2 -54.3Z"/><path fill="#07b5d0" stroke="#07b5d0" stroke-width=".5" d="M354.6 1341.6l-6.2 52.4 8.1 50.4 6.2 -52.4Z"/><path fill="#03b7cc" stroke="#03b7cc" stroke-width=".5" d="M303.8 1386.6l-6.2 -46.5 8.1 52.8 6.2 46.5Z"/><path fill="#1ca9e0" stroke="#1ca9e0" stroke-width=".5" d="M467.2 1428.9l-3 17 8.1 -52.2 3 -17Z"/><path fill="#20a4e3" stroke="#20a4e3" stroke-width=".5" d="M253.1 1416.4l-6.2 -48.3 8.1 55.2 6.2 48.3Z"/><path fill="#0dbdbb" stroke="#0dbdbb" stroke-width=".5" d="M419.6 1371.7l-6.2 54.9 8.1 -49.8 6.2 -54.9Z"/><path fill="#18addb" stroke="#18addb" stroke-width=".5" d="M206.5 1374.1l-6.2 47 3.9 17.5 6.2 -47Z"/><path fill="#03b7cc" stroke="#03b7cc" stroke-width=".5" d="M368.8 1436.1l-6.2 -44.1 8.1 -47.3 6.2 44.1Z"/><path fill="#2895ec" stroke="#2895ec" stroke-width=".5" d="M318.1 1485.3l-6.2 -45.9 8.1 -44.9 6.2 45.9Z"/><path fill="#23a0e5" stroke="#23a0e5" stroke-width=".5" d="M267.3 1422.2l-6.2 49.4 8.1 -42.5 6.2 -49.4Z"/><path fill="#6acd6a" stroke="#6acd6a" stroke-width=".5" d="M433.9 1363.5l-6.2 -41.6 8.1 -50.4 6.2 41.6Z"/><path fill="#35c79a" stroke="#35c79a" stroke-width=".5" d="M216.5 1344l-6.2 47.6 8.1 -40.1 6.2 -47.6Z"/><path fill="#01b9c7" stroke="#01b9c7" stroke-width=".5" d="M383.1 1432.2l-6.2 -43.5 8.1 -47.9 6.2 43.5Z"/><path fill="#03b7cc" stroke="#03b7cc" stroke-width=".5" d="M332.3 1388.6l-6.2 51.8 8.1 -45.5 6.2 -51.8Z"/><path fill="#4bcb83" stroke="#4bcb83" stroke-width=".5" d="M281.5 1329.7l-6.2 50 8.1 -43.1 6.2 -50Z"/><path fill="#2dc4a5" stroke="#2dc4a5" stroke-width=".5" d="M448.1 1354.2l-6.2 -41 8.1 46.1 6.2 41Z"/><path fill="#84cc56" stroke="#84cc56" stroke-width=".5" d="M230.7 1352.9l-6.2 -48.9 8.1 -40.7 6.2 48.9Z"/><path fill="#05bbc1" stroke="#05bbc1" stroke-width=".5" d="M397.3 1330l-6.2 54.3 8.1 48.6 6.2 -54.3Z"/><path fill="#3dc990" stroke="#3dc990" stroke-width=".5" d="M346.5 1290.6l-6.2 52.4 8.1 51 6.2 -52.4Z"/><path fill="#47cb87" stroke="#47cb87" stroke-width=".5" d="M295.8 1333.2l-6.2 -46.5 8.1 53.4 6.2 46.5Z"/><path fill="#1ca9e0" stroke="#1ca9e0" stroke-width=".5" d="M459.1 1383.4l-3 17 8.1 45.5 3 -17Z"/><path fill="#26c2ac" stroke="#26c2ac" stroke-width=".5" d="M245 1360.5l-6.2 -48.3 8.1 55.9 6.2 48.3Z"/><path fill="#13beb9" stroke="#13beb9" stroke-width=".5" d="M411.6 1323.7l-6.2 54.9 8.1 48 6.2 -54.9Z"/><path fill="#01b9c7" stroke="#01b9c7" stroke-width=".5" d="M360.8 1385.7l-6.2 -44.1 8.1 50.4 6.2 44.1Z"/><path fill="#259be8" stroke="#259be8" stroke-width=".5" d="M310 1432.5l-6.2 -45.9 8.1 52.8 6.2 45.9Z"/><path fill="#1ea8e1" stroke="#1ea8e1" stroke-width=".5" d="M259.2 1367l-6.2 49.4 8.1 55.2 6.2 -49.4Z"/><path fill="#23c1af" stroke="#23c1af" stroke-width=".5" d="M425.8 1413.3l-6.2 -41.6 8.1 -49.8 6.2 41.6Z"/><path fill="#2dc4a5" stroke="#2dc4a5" stroke-width=".5" d="M212.6 1326.5l-6.2 47.6 3.9 17.5 6.2 -47.6Z"/><path fill="#259de7" stroke="#259de7" stroke-width=".5" d="M375 1479.5l-6.2 -43.5 8.1 -47.3 6.2 43.5Z"/><path fill="#259be8" stroke="#259be8" stroke-width=".5" d="M324.2 1433.5l-6.2 51.8 8.1 -44.9 6.2 -51.8Z"/><path fill="#15bfb7" stroke="#15bfb7" stroke-width=".5" d="M273.5 1372.2l-6.2 50 8.1 -42.5 6.2 -50Z"/><path fill="#2fc5a3" stroke="#2fc5a3" stroke-width=".5" d="M440 1404.6l-6.2 -41 8.1 -50.4 6.2 41Z"/><path fill="#39c895" stroke="#39c895" stroke-width=".5" d="M222.7 1392.9l-6.2 -48.9 8.1 -40.1 6.2 48.9Z"/><path fill="#0bbdbd" stroke="#0bbdbd" stroke-width=".5" d="M389.2 1377.9l-6.2 54.3 8.1 -47.9 6.2 -54.3Z"/><path fill="#47cb87" stroke="#47cb87" stroke-width=".5" d="M338.5 1336.1l-6.2 52.4 8.1 -45.5 6.2 -52.4Z"/><path fill="#58cc79" stroke="#58cc79" stroke-width=".5" d="M287.7 1376.2l-6.2 -46.5 8.1 -43.1 6.2 46.5Z"/><path fill="#23c1af" stroke="#23c1af" stroke-width=".5" d="M451.1 1337.2l-3 17 8.1 46.1 3 -17Z"/><path fill="#32c69f" stroke="#32c69f" stroke-width=".5" d="M236.9 1401.2l-6.2 -48.3 8.1 -40.7 6.2 48.3Z"/><path fill="#62cd71" stroke="#62cd71" stroke-width=".5" d="M403.5 1275.1l-6.2 54.9 8.1 48.6 6.2 -54.9Z"/><path fill="#4bcb83" stroke="#4bcb83" stroke-width=".5" d="M352.7 1334.7l-6.2 -44.1 8.1 51 6.2 44.1Z"/><path fill="#0bbdbd" stroke="#0bbdbd" stroke-width=".5" d="M301.9 1379l-6.2 -45.9 8.1 53.4 6.2 45.9Z"/><path fill="#2cc4a6" stroke="#2cc4a6" stroke-width=".5" d="M251.1 1311.1l-6.2 49.4 8.1 55.9 6.2 -49.4Z"/><path fill="#26c2ac" stroke="#26c2ac" stroke-width=".5" d="M417.7 1365.3l-6.2 -41.6 8.1 48 6.2 41.6Z"/><path fill="#23a0e5" stroke="#23a0e5" stroke-width=".5" d="M366.9 1429.1l-6.2 -43.5 8.1 50.4 6.2 43.5Z"/><path fill="#23a0e5" stroke="#23a0e5" stroke-width=".5" d="M316.2 1380.6l-6.2 51.8 8.1 52.8 6.2 -51.8Z"/><path fill="#26c2ac" stroke="#26c2ac" stroke-width=".5" d="M265.4 1317l-6.2 50 8.1 55.2 6.2 -50Z"/><path fill="#12b1d6" stroke="#12b1d6" stroke-width=".5" d="M432 1454.3l-6.2 -41 8.1 -49.8 6.2 41Z"/><path fill="#30c5a1" stroke="#30c5a1" stroke-width=".5" d="M218.8 1375.5l-6.2 -48.9 3.9 17.5 6.2 48.9Z"/><path fill="#20a4e3" stroke="#20a4e3" stroke-width=".5" d="M381.2 1425.3l-6.2 54.3 8.1 -47.3 6.2 -54.3Z"/><path fill="#0bbdbd" stroke="#0bbdbd" stroke-width=".5" d="M330.4 1381l-6.2 52.4 8.1 -44.9 6.2 -52.4Z"/><path fill="#21c1b0" stroke="#21c1b0" stroke-width=".5" d="M279.6 1418.7l-6.2 -46.5 8.1 -42.5 6.2 46.5Z"/><path fill="#25c2ae" stroke="#25c2ae" stroke-width=".5" d="M443 1387.6l-3 17 8.1 -50.4 3 -17Z"/><path fill="#01b8c9" stroke="#01b8c9" stroke-width=".5" d="M228.8 1441.2l-6.2 -48.3 8.1 -40.1 6.2 48.3Z"/><path fill="#6acd6a" stroke="#6acd6a" stroke-width=".5" d="M395.4 1323.1l-6.2 54.9 8.1 -47.9 6.2 -54.9Z"/><path fill="#58cc79" stroke="#58cc79" stroke-width=".5" d="M344.6 1380.2l-6.2 -44.1 8.1 -45.5 6.2 44.1Z"/><path fill="#1dc0b3" stroke="#1dc0b3" stroke-width=".5" d="M293.9 1422.1l-6.2 -45.9 8.1 -43.1 6.2 45.9Z"/><path fill="#36c898" stroke="#36c898" stroke-width=".5" d="M243.1 1351.8l-6.2 49.4 8.1 -40.7 6.2 -49.4Z"/><path fill="#7bcc5d" stroke="#7bcc5d" stroke-width=".5" d="M409.6 1316.8l-6.2 -41.6 8.1 48.6 6.2 41.6Z"/><path fill="#15bfb7" stroke="#15bfb7" stroke-width=".5" d="M358.9 1378.1l-6.2 -43.5 8.1 51 6.2 43.5Z"/><path fill="#1ac0b4" stroke="#1ac0b4" stroke-width=".5" d="M308.1 1327.2l-6.2 51.8 8.1 53.4 6.2 -51.8Z"/><path fill="#8ccb50" stroke="#8ccb50" stroke-width=".5" d="M257.3 1261.1l-6.2 50 8.1 55.9 6.2 -50Z"/><path fill="#0eb2d4" stroke="#0eb2d4" stroke-width=".5" d="M423.9 1406.4l-6.2 -41 8.1 48 6.2 41Z"/><path fill="#1ea8e1" stroke="#1ea8e1" stroke-width=".5" d="M373.1 1374.9l-6.2 54.3 8.1 50.4 6.2 -54.3Z"/><path fill="#1ac0b4" stroke="#1ac0b4" stroke-width=".5" d="M322.3 1328.2l-6.2 52.4 8.1 52.8 6.2 -52.4Z"/><path fill="#2dc4a5" stroke="#2dc4a5" stroke-width=".5" d="M271.5 1363.5l-6.2 -46.5 8.1 55.2 6.2 46.5Z"/><path fill="#1aacdd" stroke="#1aacdd" stroke-width=".5" d="M434.9 1437.3l-3 17 8.1 -49.8 3 -17Z"/><path fill="#0ab4d2" stroke="#0ab4d2" stroke-width=".5" d="M225 1423.8l-6.2 -48.3 3.9 17.5 6.2 48.3Z"/><path fill="#26c2ac" stroke="#26c2ac" stroke-width=".5" d="M387.3 1370.4l-6.2 54.9 8.1 -47.3 6.2 -54.9Z"/><path fill="#1dc0b3" stroke="#1dc0b3" stroke-width=".5" d="M336.6 1425.1l-6.2 -44.1 8.1 -44.9 6.2 44.1Z"/><path fill="#18addb" stroke="#18addb" stroke-width=".5" d="M285.8 1464.6l-6.2 -45.9 8.1 -42.5 6.2 45.9Z"/><path fill="#02bac4" stroke="#02bac4" stroke-width=".5" d="M235 1391.8l-6.2 49.4 8.1 -40.1 6.2 -49.4Z"/><path fill="#84cc56" stroke="#84cc56" stroke-width=".5" d="M401.6 1364.7l-6.2 -41.6 8.1 -47.9 6.2 41.6Z"/><path fill="#21c1b0" stroke="#21c1b0" stroke-width=".5" d="M350.8 1423.6l-6.2 -43.5 8.1 -45.5 6.2 43.5Z"/><path fill="#28c3ab" stroke="#28c3ab" stroke-width=".5" d="M300 1370.3l-6.2 51.8 8.1 -43.1 6.2 -51.8Z"/><path fill="#a5c83d" stroke="#a5c83d" stroke-width=".5" d="M249.2 1301.8l-6.2 50 8.1 -40.7 6.2 -50Z"/><path fill="#35c79a" stroke="#35c79a" stroke-width=".5" d="M415.8 1357.8l-6.2 -41 8.1 48.6 6.2 41Z"/><path fill="#26c2ac" stroke="#26c2ac" stroke-width=".5" d="M365 1323.9l-6.2 54.3 8.1 51 6.2 -54.3Z"/><path fill="#75cc61" stroke="#75cc61" stroke-width=".5" d="M314.3 1274.8l-6.2 52.4 8.1 53.4 6.2 -52.4Z"/><path fill="#9ac945" stroke="#9ac945" stroke-width=".5" d="M263.5 1307.6l-6.2 -46.5 8.1 55.9 6.2 46.5Z"/><path fill="#18addb" stroke="#18addb" stroke-width=".5" d="M426.8 1389.4l-3 17 8.1 48 3 -17Z"/><path fill="#2cc4a6" stroke="#2cc4a6" stroke-width=".5" d="M379.3 1320l-6.2 54.9 8.1 50.4 6.2 -54.9Z"/><path fill="#28c3ab" stroke="#28c3ab" stroke-width=".5" d="M328.5 1372.3l-6.2 -44.1 8.1 52.8 6.2 44.1Z"/><path fill="#0cb3d3" stroke="#0cb3d3" stroke-width=".5" d="M277.7 1409.4l-6.2 -45.9 8.1 55.2 6.2 45.9Z"/><path fill="#04b6cd" stroke="#04b6cd" stroke-width=".5" d="M231.1 1374.4l-6.2 49.4 3.9 17.5 6.2 -49.4Z"/><path fill="#32c69f" stroke="#32c69f" stroke-width=".5" d="M393.5 1412l-6.2 -41.6 8.1 -47.3 6.2 41.6Z"/><path fill="#18addb" stroke="#18addb" stroke-width=".5" d="M342.7 1468.6l-6.2 -43.5 8.1 -44.9 6.2 43.5Z"/><path fill="#10b2d5" stroke="#10b2d5" stroke-width=".5" d="M291.9 1412.8l-6.2 51.8 8.1 -42.5 6.2 -51.8Z"/><path fill="#52cc7e" stroke="#52cc7e" stroke-width=".5" d="M241.2 1341.8l-6.2 50 8.1 -40.1 6.2 -50Z"/><path fill="#39c895" stroke="#39c895" stroke-width=".5" d="M407.7 1405.7l-6.2 -41 8.1 -47.9 6.2 41Z"/><path fill="#2dc4a5" stroke="#2dc4a5" stroke-width=".5" d="M357 1369.4l-6.2 54.3 8.1 -45.5 6.2 -54.3Z"/><path fill="#89cb52" stroke="#89cb52" stroke-width=".5" d="M306.2 1317.9l-6.2 52.4 8.1 -43.1 6.2 -52.4Z"/><path fill="#b2c535" stroke="#b2c535" stroke-width=".5" d="M255.4 1348.3l-6.2 -46.5 8.1 -40.7 6.2 46.5Z"/><path fill="#2dc4a5" stroke="#2dc4a5" stroke-width=".5" d="M418.8 1340.8l-3 17 8.1 48.6 3 -17Z"/><path fill="#8ccb50" stroke="#8ccb50" stroke-width=".5" d="M371.2 1269l-6.2 54.9 8.1 51 6.2 -54.9Z"/><path fill="#89cb52" stroke="#89cb52" stroke-width=".5" d="M320.4 1318.8l-6.2 -44.1 8.1 53.4 6.2 44.1Z"/><path fill="#3fca8e" stroke="#3fca8e" stroke-width=".5" d="M269.6 1353.5l-6.2 -45.9 8.1 55.9 6.2 45.9Z"/><path fill="#36c898" stroke="#36c898" stroke-width=".5" d="M385.4 1361.6l-6.2 -41.6 8.1 50.4 6.2 41.6Z"/><path fill="#10b2d5" stroke="#10b2d5" stroke-width=".5" d="M334.7 1415.7l-6.2 -43.5 8.1 52.8 6.2 43.5Z"/><path fill="#03b7cc" stroke="#03b7cc" stroke-width=".5" d="M283.9 1357.5l-6.2 51.8 8.1 55.2 6.2 -51.8Z"/><path fill="#41ca8c" stroke="#41ca8c" stroke-width=".5" d="M237.3 1324.4l-6.2 50 3.9 17.5 6.2 -50Z"/><path fill="#01b8c9" stroke="#01b8c9" stroke-width=".5" d="M399.7 1453.1l-6.2 -41 8.1 -47.3 6.2 41Z"/><path fill="#0cb3d3" stroke="#0cb3d3" stroke-width=".5" d="M348.9 1414.3l-6.2 54.3 8.1 -44.9 6.2 -54.3Z"/><path fill="#39c895" stroke="#39c895" stroke-width=".5" d="M298.1 1360.3l-6.2 52.4 8.1 -42.5 6.2 -52.4Z"/><path fill="#5ecd74" stroke="#5ecd74" stroke-width=".5" d="M247.3 1388.3l-6.2 -46.5 8.1 -40.1 6.2 46.5Z"/><path fill="#30c5a1" stroke="#30c5a1" stroke-width=".5" d="M410.7 1388.8l-3 17 8.1 -47.9 3 -17Z"/><path fill="#9ac945" stroke="#9ac945" stroke-width=".5" d="M363.1 1314.5l-6.2 54.9 8.1 -45.5 6.2 -54.9Z"/><path fill="#9dc943" stroke="#9dc943" stroke-width=".5" d="M312.3 1361.9l-6.2 -44.1 8.1 -43.1 6.2 44.1Z"/><path fill="#54cc7c" stroke="#54cc7c" stroke-width=".5" d="M261.6 1394.2l-6.2 -45.9 8.1 -40.7 6.2 45.9Z"/><path fill="#a5c83d" stroke="#a5c83d" stroke-width=".5" d="M377.4 1310.6l-6.2 -41.6 8.1 51 6.2 41.6Z"/><path fill="#39c895" stroke="#39c895" stroke-width=".5" d="M326.6 1362.3l-6.2 -43.5 8.1 53.4 6.2 43.5Z"/><path fill="#4dcb82" stroke="#4dcb82" stroke-width=".5" d="M275.8 1301.7l-6.2 51.8 8.1 55.9 6.2 -51.8Z"/><path fill="#02bac4" stroke="#02bac4" stroke-width=".5" d="M391.6 1402.7l-6.2 -41 8.1 50.4 6.2 41Z"/><path fill="#03b7cc" stroke="#03b7cc" stroke-width=".5" d="M340.8 1361.5l-6.2 54.3 8.1 52.8 6.2 -54.3Z"/><path fill="#48cb86" stroke="#48cb86" stroke-width=".5" d="M290 1305.1l-6.2 52.4 8.1 55.2 6.2 -52.4Z"/><path fill="#4ccb83" stroke="#4ccb83" stroke-width=".5" d="M243.5 1370.9l-6.2 -46.5 3.9 17.5 6.2 46.5Z"/><path fill="#0ab4d2" stroke="#0ab4d2" stroke-width=".5" d="M402.6 1436.1l-3 17 8.1 -47.3 3 -17Z"/><path fill="#3fca8e" stroke="#3fca8e" stroke-width=".5" d="M355.1 1359.4l-6.2 54.9 8.1 -44.9 6.2 -54.9Z"/><path fill="#46cb88" stroke="#46cb88" stroke-width=".5" d="M304.3 1404.4l-6.2 -44.1 8.1 -42.5 6.2 44.1Z"/><path fill="#22c1b0" stroke="#22c1b0" stroke-width=".5" d="M253.5 1434.2l-6.2 -45.9 8.1 -40.1 6.2 45.9Z"/><path fill="#b2c535" stroke="#b2c535" stroke-width=".5" d="M369.3 1356.2l-6.2 -41.6 8.1 -45.5 6.2 41.6Z"/><path fill="#46cb88" stroke="#46cb88" stroke-width=".5" d="M318.5 1405.4l-6.2 -43.5 8.1 -43.1 6.2 43.5Z"/><path fill="#63cd6f" stroke="#63cd6f" stroke-width=".5" d="M267.7 1342.3l-6.2 51.8 8.1 -40.7 6.2 -51.8Z"/><path fill="#52cc7e" stroke="#52cc7e" stroke-width=".5" d="M383.5 1351.7l-6.2 -41 8.1 51 6.2 41Z"/><path fill="#48cb86" stroke="#48cb86" stroke-width=".5" d="M332.7 1308l-6.2 54.3 8.1 53.4 6.2 -54.3Z"/><path fill="#c9c129" stroke="#c9c129" stroke-width=".5" d="M282 1249.2l-6.2 52.4 8.1 55.9 6.2 -52.4Z"/><path fill="#04b6cd" stroke="#04b6cd" stroke-width=".5" d="M394.6 1385.7l-3 17 8.1 50.4 3 -17Z"/><path fill="#4dcb82" stroke="#4dcb82" stroke-width=".5" d="M347 1306.6l-6.2 54.9 8.1 52.8 6.2 -54.9Z"/><path fill="#59cc78" stroke="#59cc78" stroke-width=".5" d="M296.2 1349.2l-6.2 -44.1 8.1 55.2 6.2 44.1Z"/><path fill="#11beba" stroke="#11beba" stroke-width=".5" d="M249.6 1416.8l-6.2 -45.9 3.9 17.5 6.2 45.9Z"/><path fill="#54cc7c" stroke="#54cc7c" stroke-width=".5" d="M361.2 1401.1l-6.2 -41.6 8.1 -44.9 6.2 41.6Z"/><path fill="#0fbebb" stroke="#0fbebb" stroke-width=".5" d="M310.4 1447.9l-6.2 -43.5 8.1 -42.5 6.2 43.5Z"/><path fill="#2cc4a7" stroke="#2cc4a7" stroke-width=".5" d="M259.7 1382.4l-6.2 51.8 8.1 -40.1 6.2 -51.8Z"/><path fill="#5ecd74" stroke="#5ecd74" stroke-width=".5" d="M375.5 1397.2l-6.2 -41 8.1 -45.5 6.2 41Z"/><path fill="#59cc78" stroke="#59cc78" stroke-width=".5" d="M324.7 1351.1l-6.2 54.3 8.1 -43.1 6.2 -54.3Z"/><path fill="#ddbd29" stroke="#ddbd29" stroke-width=".5" d="M273.9 1289.9l-6.2 52.4 8.1 -40.7 6.2 -52.4Z"/><path fill="#41ca8c" stroke="#41ca8c" stroke-width=".5" d="M386.5 1334.7l-3 17 8.1 51 3 -17Z"/><path fill="#c9c129" stroke="#c9c129" stroke-width=".5" d="M338.9 1253.2l-6.2 54.9 8.1 53.4 6.2 -54.9Z"/><path fill="#d8be28" stroke="#d8be28" stroke-width=".5" d="M288.1 1293.3l-6.2 -44.1 8.1 55.9 6.2 44.1Z"/><path fill="#63cd6f" stroke="#63cd6f" stroke-width=".5" d="M353.1 1348.2l-6.2 -41.6 8.1 52.8 6.2 41.6Z"/><path fill="#22c1b0" stroke="#22c1b0" stroke-width=".5" d="M302.4 1392.6l-6.2 -43.5 8.1 55.2 6.2 43.5Z"/><path fill="#1fc1b1" stroke="#1fc1b1" stroke-width=".5" d="M255.8 1364.9l-6.2 51.8 3.9 17.5 6.2 -51.8Z"/><path fill="#22c1b0" stroke="#22c1b0" stroke-width=".5" d="M367.4 1442.1l-6.2 -41 8.1 -44.9 6.2 41Z"/><path fill="#22c1b0" stroke="#22c1b0" stroke-width=".5" d="M316.6 1393.6l-6.2 54.3 8.1 -42.5 6.2 -54.3Z"/><path fill="#90ca4d" stroke="#90ca4d" stroke-width=".5" d="M265.8 1329.9l-6.2 52.4 8.1 -40.1 6.2 -52.4Z"/><path fill="#4ccb83" stroke="#4ccb83" stroke-width=".5" d="M378.4 1380.2l-3 17 8.1 -45.5 3 -17Z"/><path fill="#d8be28" stroke="#d8be28" stroke-width=".5" d="M330.8 1296.3l-6.2 54.9 8.1 -43.1 6.2 -54.9Z"/><path fill="#eaba31" stroke="#eaba31" stroke-width=".5" d="M280.1 1334l-6.2 -44.1 8.1 -40.7 6.2 44.1Z"/><path fill="#ddbd29" stroke="#ddbd29" stroke-width=".5" d="M345.1 1294.8l-6.2 -41.6 8.1 53.4 6.2 41.6Z"/><path fill="#85cb55" stroke="#85cb55" stroke-width=".5" d="M294.3 1336.8l-6.2 -43.5 8.1 55.9 6.2 43.5Z"/><path fill="#2cc4a7" stroke="#2cc4a7" stroke-width=".5" d="M359.3 1389.3l-6.2 -41 8.1 52.8 6.2 41Z"/><path fill="#2ec4a4" stroke="#2ec4a4" stroke-width=".5" d="M308.5 1338.4l-6.2 54.3 8.1 55.2 6.2 -54.3Z"/><path fill="#7ccc5c" stroke="#7ccc5c" stroke-width=".5" d="M262 1312.5l-6.2 52.4 3.9 17.5 6.2 -52.4Z"/><path fill="#11beba" stroke="#11beba" stroke-width=".5" d="M370.3 1425.1l-3 17 8.1 -44.9 3 -17Z"/><path fill="#85cb55" stroke="#85cb55" stroke-width=".5" d="M322.8 1338.7l-6.2 54.9 8.1 -42.5 6.2 -54.9Z"/><path fill="#a4c83e" stroke="#a4c83e" stroke-width=".5" d="M272 1374l-6.2 -44.1 8.1 -40.1 6.2 44.1Z"/><path fill="#eaba31" stroke="#eaba31" stroke-width=".5" d="M337 1337.9l-6.2 -41.6 8.1 -43.1 6.2 41.6Z"/><path fill="#9ec942" stroke="#9ec942" stroke-width=".5" d="M286.2 1377.4l-6.2 -43.5 8.1 -40.7 6.2 43.5Z"/><path fill="#90ca4d" stroke="#90ca4d" stroke-width=".5" d="M351.2 1335.9l-6.2 -41 8.1 53.4 6.2 41Z"/><path fill="#9bc944" stroke="#9bc944" stroke-width=".5" d="M300.5 1282.5l-6.2 54.3 8.1 55.9 6.2 -54.3Z"/><path fill="#1fc1b1" stroke="#1fc1b1" stroke-width=".5" d="M362.3 1372.3l-3 17 8.1 52.8 3 -17Z"/><path fill="#9bc944" stroke="#9bc944" stroke-width=".5" d="M314.7 1283.5l-6.2 54.9 8.1 55.2 6.2 -54.9Z"/><path fill="#90ca4d" stroke="#90ca4d" stroke-width=".5" d="M268.1 1356.6l-6.2 -44.1 3.9 17.5 6.2 44.1Z"/><path fill="#9ec942" stroke="#9ec942" stroke-width=".5" d="M328.9 1380.4l-6.2 -41.6 8.1 -42.5 6.2 41.6Z"/><path fill="#4bcb83" stroke="#4bcb83" stroke-width=".5" d="M278.2 1417.5l-6.2 -43.5 8.1 -40.1 6.2 43.5Z"/><path fill="#a4c83e" stroke="#a4c83e" stroke-width=".5" d="M343.2 1378.9l-6.2 -41 8.1 -43.1 6.2 41Z"/><path fill="#b4c534" stroke="#b4c534" stroke-width=".5" d="M292.4 1323.2l-6.2 54.3 8.1 -40.7 6.2 -54.3Z"/><path fill="#7ccc5c" stroke="#7ccc5c" stroke-width=".5" d="M354.2 1318.9l-3 17 8.1 53.4 3 -17Z"/><path fill="#febf3b" stroke="#febf3b" stroke-width=".5" d="M306.6 1227.6l-6.2 54.9 8.1 55.9 6.2 -54.9Z"/><path fill="#b4c534" stroke="#b4c534" stroke-width=".5" d="M320.9 1325.1l-6.2 -41.6 8.1 55.2 6.2 41.6Z"/><path fill="#3dc991" stroke="#3dc991" stroke-width=".5" d="M274.3 1400l-6.2 -43.5 3.9 17.5 6.2 43.5Z"/><path fill="#4bcb83" stroke="#4bcb83" stroke-width=".5" d="M335.1 1421.4l-6.2 -41 8.1 -42.5 6.2 41Z"/><path fill="#5fcd73" stroke="#5fcd73" stroke-width=".5" d="M284.3 1363.2l-6.2 54.3 8.1 -40.1 6.2 -54.3Z"/><path fill="#90ca4d" stroke="#90ca4d" stroke-width=".5" d="M346.1 1362l-3 17 8.1 -43.1 3 -17Z"/><path fill="#feca33" stroke="#feca33" stroke-width=".5" d="M298.6 1268.3l-6.2 54.9 8.1 -40.7 6.2 -54.9Z"/><path fill="#feca33" stroke="#feca33" stroke-width=".5" d="M312.8 1269.3l-6.2 -41.6 8.1 55.9 6.2 41.6Z"/><path fill="#5fcd73" stroke="#5fcd73" stroke-width=".5" d="M327 1366.2l-6.2 -41 8.1 55.2 6.2 41Z"/><path fill="#4dcc82" stroke="#4dcc82" stroke-width=".5" d="M280.4 1345.8l-6.2 54.3 3.9 17.5 6.2 -54.3Z"/><path fill="#3dc991" stroke="#3dc991" stroke-width=".5" d="M338.1 1404.4l-3 17 8.1 -42.5 3 -17Z"/><path fill="#debd29" stroke="#debd29" stroke-width=".5" d="M290.5 1308.4l-6.2 54.9 8.1 -40.1 6.2 -54.9Z"/><path fill="#fad52e" stroke="#fad52e" stroke-width=".5" d="M304.7 1309.9l-6.2 -41.6 8.1 -40.7 6.2 41.6Z"/><path fill="#debd29" stroke="#debd29" stroke-width=".5" d="M319 1310.3l-6.2 -41 8.1 55.9 6.2 41Z"/><path fill="#4dcc82" stroke="#4dcc82" stroke-width=".5" d="M330 1349.2l-3 17 8.1 55.2 3 -17Z"/><path fill="#cec028" stroke="#cec028" stroke-width=".5" d="M286.6 1290.9l-6.2 54.9 3.9 17.5 6.2 -54.9Z"/><path fill="#efba35" stroke="#efba35" stroke-width=".5" d="M296.7 1350l-6.2 -41.6 8.1 -40.1 6.2 41.6Z"/><path fill="#efba35" stroke="#efba35" stroke-width=".5" d="M310.9 1351l-6.2 -41 8.1 -40.7 6.2 41Z"/><path fill="#cec028" stroke="#cec028" stroke-width=".5" d="M321.9 1293.3l-3 17 8.1 55.9 3 -17Z"/><path fill="#e1bc2b" stroke="#e1bc2b" stroke-width=".5" d="M292.8 1332.5l-6.2 -41.6 3.9 17.5 6.2 41.6Z"/><path fill="#aac739" stroke="#aac739" stroke-width=".5" d="M302.8 1391l-6.2 -41 8.1 -40.1 6.2 41Z"/><path fill="#e1bc2b" stroke="#e1bc2b" stroke-width=".5" d="M313.8 1334l-3 17 8.1 -40.7 3 -17Z"/><path fill="#97ca48" stroke="#97ca48" stroke-width=".5" d="M298.9 1373.6l-6.2 -41 3.9 17.5 6.2 41Z"/><path fill="#97ca48" stroke="#97ca48" stroke-width=".5" d="M305.8 1374l-3 17 8.1 -40.1 3 -17Z"/><path fill="#82cc58" stroke="#82cc58" stroke-width=".5" d="M301.9 1356.6l-3 17 3.9 17.5 3 -17Z"/></svg>
<canvas id="cv" width="700" height="1789"></canvas>
<svg width="1425" height="1789" viewBox="0 0 1425 1789">
<path d="M49.3 155.8L49.3 546.1L301.9 724.7L631.8 587.4" fill="none" stroke="#262626" stroke-width="1.1"/>
<path d="M49.3 546.1L40.9 540.2M49.3 507.3L40.9 501.4M49.3 468.5L40.9 462.6M49.3 429.7L40.9 423.8M49.3 390.9L40.9 385M49.3 352.1L40.9 346.2M49.3 313.3L40.9 307.4M49.3 274.5L40.9 268.6M49.3 235.7L40.9 229.8M49.3 196.9L40.9 191M49.3 158.1L40.9 152.2M301.9 724.7L292.4 728.7M238.7 680.1L229.2 684M175.6 635.4L166.1 639.4M112.4 590.8L102.9 594.7M49.3 546.1L39.8 550.1M301.9 724.7L310.3 730.6M384.4 690.4L392.8 696.3M466.8 656.1L475.3 662M549.3 621.7L557.7 627.7M631.8 587.4L640.2 593.3" stroke="#262626" stroke-width="1.1" fill="none"/>
<g font-family="Liberation Sans, sans-serif" font-size="12.0" fill="#262626"><text x="36.5" y="544.1" text-anchor="end">0</text><text x="36.5" y="505.3" text-anchor="end">1</text><text x="36.5" y="466.5" text-anchor="end">2</text><text x="36.5" y="427.7" text-anchor="end">3</text><text x="36.5" y="388.9" text-anchor="end">4</text><text x="36.5" y="350.1" text-anchor="end">5</text><text x="36.5" y="311.3" text-anchor="end">6</text><text x="36.5" y="272.5" text-anchor="end">7</text><text x="36.5" y="233.7" text-anchor="end">8</text><text x="36.5" y="194.9" text-anchor="end">9</text><text x="36.5" y="156.1" text-anchor="end">10</text><text x="287.9" y="744" text-anchor="end">−10</text><text x="224.7" y="699.3" text-anchor="end">−5</text><text x="161.6" y="654.7" text-anchor="end">0</text><text x="98.4" y="610" text-anchor="end">5</text><text x="35.3" y="565.4" text-anchor="end">10</text><text x="309.9" y="747">−10</text><text x="392.4" y="712.7">−5</text><text x="479.3" y="678.3">0</text><text x="561.8" y="644">5</text><text x="644.3" y="609.7">10</text></g>
<g font-family="Liberation Sans, sans-serif" fill="#262626"><text x="16.6" y="134.6" font-size="15">×</text><text x="26.0" y="132.8" font-size="11.7">10</text><text x="40.6" y="126.5" font-size="8.5">7</text></g>
<path d="M49.4 1068.9L49.4 1460.8L301.9 1637.5L632.5 1501.2" fill="none" stroke="#262626" stroke-width="1.1"/>
<path d="M49.4 1412.2L41 1406.3M49.4 1363.7L41 1357.8M49.4 1315.1L41 1309.2M49.4 1266.6L41 1260.7M49.4 1218L41 1212.1M49.4 1169.4L41 1163.5M49.4 1120.9L41 1115M49.4 1072.3L41 1066.4M298.9 1635.4L289.4 1639.4M175.6 1549.2L166.1 1553.1M52.4 1462.9L42.8 1466.8M305.8 1635.9L314.2 1641.8M467.2 1569.3L475.6 1575.3M628.6 1502.8L637.1 1508.7" stroke="#262626" stroke-width="1.1" fill="none"/>
<g font-family="Liberation Sans, sans-serif" font-size="12.0" fill="#262626"><text x="36.5" y="1410.2" text-anchor="end">10</text><text x="36.5" y="1361.7" text-anchor="end">20</text><text x="36.5" y="1313.1" text-anchor="end">30</text><text x="36.5" y="1264.6" text-anchor="end">40</text><text x="36.5" y="1216" text-anchor="end">50</text><text x="36.5" y="1167.4" text-anchor="end">60</text><text x="36.5" y="1118.9" text-anchor="end">70</text><text x="36.5" y="1070.3" text-anchor="end">80</text><text x="284.9" y="1653.2" text-anchor="end">−5</text><text x="161.6" y="1566.9" text-anchor="end">0</text><text x="38.4" y="1480.7" text-anchor="end">5</text><text x="313.8" y="1657.7">−5</text><text x="479.7" y="1591.1">0</text><text x="641.1" y="1524.6">5</text></g>
<rect x="817.0" y="18.6" width="584.3" height="705.7" fill="none" stroke="#262626" stroke-width="1.2"/>
<path d="M875.4 724.3v-6M875.4 18.6v6M933.9 724.3v-6M933.9 18.6v6M992.3 724.3v-6M992.3 18.6v6M1050.8 724.3v-6M1050.8 18.6v6M1109.2 724.3v-6M1109.2 18.6v6M1167.7 724.3v-6M1167.7 18.6v6M1226.1 724.3v-6M1226.1 18.6v6M1284.6 724.3v-6M1284.6 18.6v6M1343 724.3v-6M1343 18.6v6M817 36.6h6.5M1401.3 36.6h-6.5M817 55.6h3M1401.3 55.6h-3M817 74.5h3M1401.3 74.5h-3M817 93.5h3M1401.3 93.5h-3M817 112.4h3M1401.3 112.4h-3M817 131.4h6.5M1401.3 131.4h-6.5M817 150.3h3M1401.3 150.3h-3M817 169.3h3M1401.3 169.3h-3M817 188.2h3M1401.3 188.2h-3M817 207.2h3M1401.3 207.2h-3M817 226.1h6.5M1401.3 226.1h-6.5M817 245.1h3M1401.3 245.1h-3M817 264h3M1401.3 264h-3M817 283h3M1401.3 283h-3M817 302h3M1401.3 302h-3M817 320.9h6.5M1401.3 320.9h-6.5M817 339.9h3M1401.3 339.9h-3M817 358.8h3M1401.3 358.8h-3M817 377.8h3M1401.3 377.8h-3M817 396.7h3M1401.3 396.7h-3M817 415.7h6.5M1401.3 415.7h-6.5M817 434.6h3M1401.3 434.6h-3M817 453.6h3M1401.3 453.6h-3M817 472.5h3M1401.3 472.5h-3M817 491.5h3M1401.3 491.5h-3M817 510.4h6.5M1401.3 510.4h-6.5M817 529.4h3M1401.3 529.4h-3M817 548.4h3M1401.3 548.4h-3M817 567.3h3M1401.3 567.3h-3M817 586.3h3M1401.3 586.3h-3M817 605.2h6.5M1401.3 605.2h-6.5M817 624.2h3M1401.3 624.2h-3M817 643.1h3M1401.3 643.1h-3M817 662.1h3M1401.3 662.1h-3M817 681h3M1401.3 681h-3M817 700h6.5M1401.3 700h-6.5M817 718.9h3M1401.3 718.9h-3" stroke="#262626" stroke-width="1.1" fill="none"/>
<clipPath id="clip18"><rect x="816" y="17.6" width="586.3" height="707.2"/></clipPath>
<g clip-path="url(#clip18)" fill="none" stroke-width="4.6" stroke-linejoin="round" stroke-linecap="butt"><path d="M817 126L820 128L824.6 134.5L829.7 155L832.1 168.9L837.4 185.8L839.1 200L845 280L851.1 350L855.4 413.7L857.5 452L860.7 488.1L864.9 562.4L868.1 604.9L872.3 647.4L875.5 700.5L876 719" stroke="#ff0000"/><path d="M816.5 122L830 124.5L841.6 126.3L900 130L960 133L999 134.4L1010.7 137L1091.6 139.5L1135.4 141.2L1142.1 144.5L1158.9 147.9L1170 150.4L1220.5 152.1L1228.9 158L1271 160.5L1313.2 165.6L1318.2 168.1L1365.4 171.5L1375.5 177.4L1389 179.1L1395.7 184.1L1401.6 184.1" stroke="#ffd700"/><path d="M817.3 128L817.5 132.4L822.5 155L829 185.8L831.8 200L834.1 222.5L838.6 239.3L842 258.4L846.4 274.1L851 301.1L854.3 332.5L855.4 350L860.7 381.9L866 398.9L869.2 430.7L876.6 460.4L878.7 481.7L888.3 532.7L890.4 556L896.8 579.4L900 604.9L904.2 626.1L908.5 658L913.8 685.6L919.5 727" stroke="#000080"/><path d="M817.5 123L840 127L869 132.6L911 135.3L940 136.1L961.9 136.6L964.4 142L988.8 142.3L992.2 145L1024.2 145.4L1027.6 147.1L1071.4 148.4L1074.7 151.3L1121.9 152.9L1125.3 155.5L1170 158.8L1176.7 159.7L1186.8 165.6L1215.5 166.4L1234 169.8L1252.5 170.6L1257.6 172.3L1274.4 173.2L1281.2 176.5L1298 177.4L1301.4 179.1L1325 179.1L1328.3 180.7L1346.8 180.7L1350.2 182.1L1401.6 182.8" stroke="#008000"/><path d="M817 125L835.3 132.1L854.2 138.4L881.6 141.6L883.7 144.7L897.4 146.3L899.5 159.5L920.5 161.6L925.8 166.8L940 171.5L948.4 178.2L960.2 180.7L966.9 187.5L983.8 192.5L990.5 198.4L1010.7 203.5L1020.8 211.1L1034.3 216.9L1047.8 222L1054.5 227.6L1061.3 238.5L1066.3 243.6L1083.2 244.4L1088.2 250.3L1098.3 253.7L1101.7 259.6L1108.4 263.8L1115.2 270.5L1128.6 277.3L1133.7 283.2L1142.1 285.7L1155.6 294.1L1170 303.5L1191.9 315.3L1203.7 325.4L1220.5 338.8L1242.4 350.6L1254.2 357.4L1255.9 365.8L1271 369.2L1274.4 376.7L1292.9 381.8L1298 388.5L1313.2 394.4L1318.2 400.3L1328.3 402L1331.7 407.9L1348.5 415.5L1363.7 423L1367.1 428.9L1377.2 429.8L1380.5 434L1389 436.5L1392.3 442.4L1401.6 443.3" stroke="#ff6600"/><path d="M817.5 125L836.3 132.1L867.9 135.3L899.5 140.5L940 143.7L965.3 145.4L967.8 152.9L1073 156.3L1076.4 159.7L1170 160.5L1186.8 162.2L1298 163.9L1368.7 164.7L1372.1 166.9L1401.6 167.3" stroke="#9932cc"/><path d="M816.5 126L830 134L841.6 145.8L873.2 146.8L915.3 150L940 152.9L953.5 153.8L965.3 160.5L982.1 163.9L1002.3 168.9L1004 180.7L1024.2 187.5L1034.3 194.2L1037.7 200.9L1054.5 209.4L1061.3 216.1L1074.7 221.2L1081.5 225.1L1101.7 236.8L1105 245.3L1120.2 257.1L1125.3 265.5L1138.7 283.2L1150.5 289.1L1158.9 297.5L1170 305.2L1181.8 320.3L1203.7 332.1L1234 350.6L1245.8 359.1L1261 369.2L1281.2 375.9L1294.6 380.1L1318.2 386L1338.4 389.4L1372.1 391.9L1401.6 392.4" stroke="#1e90ff"/><path d="M817.5 121L822.5 121.8L833.1 124.8L840.6 127.3L872 128.6L940 129.9L982.1 131.1L1024.2 132.7L1025.9 134.9L1294.6 134.9L1298 137.8L1401.6 138.4" stroke="#00b2aa"/><path d="M817 127L831 127.9L846.8 139.5L871 144.7L873.2 150L915.3 153.7L920.5 158.4L942.6 160.5L945.8 165.6L965.3 167.3L985.5 172.3L1022.5 174.8L1027.6 185.8L1088.2 191.7L1091.6 195.9L1135.4 197.6L1157.3 202.6L1170 206.4L1178.4 207.6L1186.8 211.8L1220.5 214.3L1223.9 217.7L1254.2 222.7L1260.9 226.1L1296.3 228.6L1303 233.7L1330 237L1333.4 239.6L1350.2 240.4L1353.6 244.6L1380.5 246.3L1401.6 248.8" stroke="#ff3399"/><path d="M817.5 124.5L818.4 125.8L824 131L833.2 138.4L838 146L843.8 155.5L849 160L854.2 164.7L866.8 183.7L874.2 196.3L877.9 203.4L882.4 211.2L888 216.8L889.1 222.5L900.3 231.4L904.8 240.4L908.2 246L909.3 251.7L920.5 258.4L930.7 271.9L934 283.1L939.6 287.6L952 297.7L956.5 306.7L961 316.8L968.8 322.4L971 330L975.2 335.1L981.9 341.8L984.4 351.9L993.7 358.6L1002.1 372.1L1010.5 383.9L1022.3 395.7L1029.1 405.8L1040.8 424.3L1047.6 432.7L1061.1 447.9L1069.5 464.7L1081.3 476.5L1091.4 491.7L1099.8 503.5L1104.8 510.2L1106.5 520.3L1113.3 522L1118.1 526.7L1126.5 536.5L1130.7 544.9L1137.7 550.5L1140.5 557.5L1149 566L1154.6 581.4L1163 585.6L1168.6 598.2L1174.2 602.5L1177 612.3L1188.2 623.5L1191.1 631.9L1196.7 633.3L1202.3 643.2L1207.9 648.8L1213.5 658.6L1219.1 662.8L1224.7 675.4L1231.8 682.5L1240.2 696.5L1245.8 702.1L1252.8 710.5L1257 719L1262.5 727" stroke="#4d4d4d"/><path d="M818.5 119.7L823.8 123.1L828.8 130.3L837.3 135.3L844.8 139.5L849.9 145.4L854.1 149.2L862.5 151.3L865.8 162.6L873.2 175.3L885.8 178.4L896.3 187.9L904.7 192.1L916.1 198L927.3 203.4L944.1 210.1L955.4 218L956.5 223.6L963.2 230.3L971.1 233.7L973.3 241.5L983.8 246.9L995.6 259.6L1004 263.8L1019.2 268.8L1027.6 278.9L1039.4 287.4L1046.1 292.4L1054.5 296.6L1064.6 310.9L1074.7 319.4L1089.9 326.1L1101.7 336.2L1108.4 339.9L1115 346.8L1125 353.6L1133.5 363.7L1136.8 368.7L1147 377.2L1158.7 382.2L1167.2 387.3L1183.5 397.8L1203.7 411.3L1215.5 416.3L1235.7 429.8L1245.8 438.2L1271 451.7L1291.3 461.8L1313.2 470.2L1325 476.9L1341.8 483.7L1345.2 487.1L1355.3 490.4L1380.5 493L1401.6 493.8" stroke="#8b0045"/></g>
<g font-family="Liberation Sans, sans-serif" font-size="11.4" fill="#333"><text x="875.4" y="742.8" text-anchor="middle">50</text><text x="933.9" y="742.8" text-anchor="middle">100</text><text x="992.3" y="742.8" text-anchor="middle">150</text><text x="1050.8" y="742.8" text-anchor="middle">200</text><text x="1109.2" y="742.8" text-anchor="middle">250</text><text x="1167.7" y="742.8" text-anchor="middle">300</text><text x="1226.1" y="742.8" text-anchor="middle">350</text><text x="1284.6" y="742.8" text-anchor="middle">400</text><text x="1343" y="742.8" text-anchor="middle">450</text><text x="1401.5" y="742.8" text-anchor="middle">500</text><text x="812.7" y="43.2" text-anchor="end">10<tspan font-size="10" dy="-5.5">50</tspan></text><text x="812.7" y="138" text-anchor="end">10<tspan font-size="10" dy="-5.5">0</tspan></text><text x="812.7" y="232.7" text-anchor="end">10<tspan font-size="10" dy="-5.5">−50</tspan></text><text x="812.7" y="327.5" text-anchor="end">10<tspan font-size="10" dy="-5.5">−100</tspan></text><text x="812.7" y="422.3" text-anchor="end">10<tspan font-size="10" dy="-5.5">−150</tspan></text><text x="812.7" y="517" text-anchor="end">10<tspan font-size="10" dy="-5.5">−200</tspan></text><text x="812.7" y="611.8" text-anchor="end">10<tspan font-size="10" dy="-5.5">−250</tspan></text><text x="812.7" y="706.6" text-anchor="end">10<tspan font-size="10" dy="-5.5">−300</tspan></text></g>
<text font-family="Liberation Sans, sans-serif" font-weight="bold" font-size="21.5" fill="#1a1a1a" transform="translate(767.3 372.1) rotate(-90)" text-anchor="middle" letter-spacing="0.33">Average Fitness Value</text>
<text font-family="Liberation Sans, sans-serif" font-weight="bold" font-size="21" fill="#1a1a1a" x="961.0" y="769.6" letter-spacing="0.43">Function Evaluations</text>
<text font-family="Liberation Sans, sans-serif" font-weight="bold" font-size="21" fill="#1a1a1a" x="1203.4" y="769.6" letter-spacing="1.3">/30</text>
<path d="M1200.8 753Q1187.8 761.3 1200.8 770M1239 753Q1251.2 761.3 1239 770" fill="none" stroke="#262626" stroke-width="1.4"/>
<rect x="930.8" y="485.2" width="125.8" height="217" fill="#fff" stroke="#333" stroke-width="1"/>
<g font-family="Liberation Sans, sans-serif" font-weight="bold" font-size="14.3" fill="#000"><path d="M934.8 496.4H970.8" stroke="#ff0000" stroke-width="4.6"/><text transform="matrix(1 0 0 1.08 973.8 502)">AP-IVYPSO</text><path d="M934.8 515.9H970.8" stroke="#ffd700" stroke-width="4.6"/><text transform="matrix(1 0 0 1.08 973.8 521.5)">PSO</text><path d="M934.8 535.4H970.8" stroke="#000080" stroke-width="4.6"/><text transform="matrix(1 0 0 1.08 973.8 541)">IVY</text><path d="M934.8 555H970.8" stroke="#008000" stroke-width="4.6"/><text transform="matrix(1 0 0 1.08 973.8 560.6)">HFPSO</text><path d="M934.8 574.5H970.8" stroke="#ff6600" stroke-width="4.6"/><text transform="matrix(1 0 0 1.08 973.8 580.1)">HJSPSO</text><path d="M934.8 594H970.8" stroke="#9932cc" stroke-width="4.6"/><text transform="matrix(1 0 0 1.08 973.8 599.6)">BOA</text><path d="M934.8 613.5H970.8" stroke="#1e90ff" stroke-width="4.6"/><text transform="matrix(1 0 0 1.08 973.8 619.1)">WOA</text><path d="M934.8 633H970.8" stroke="#00b2aa" stroke-width="4.6"/><text transform="matrix(1 0 0 1.08 973.8 638.6)">GOOSE</text><path d="M934.8 652.6H970.8" stroke="#ff3399" stroke-width="4.6"/><text transform="matrix(1 0 0 1.08 973.8 658.2)">PSOBOA</text><path d="M934.8 672.1H970.8" stroke="#4d4d4d" stroke-width="4.6"/><text transform="matrix(1 0 0 1.08 973.8 677.7)">NSM-BO</text><path d="M934.8 691.6H970.8" stroke="#8b0045" stroke-width="4.6"/><text transform="matrix(1 0 0 1.08 973.8 697.2)">FDB-AGSK</text></g>
<rect x="817.0" y="931.6" width="584.3" height="706" fill="none" stroke="#262626" stroke-width="1.2"/>
<path d="M875.4 1637.6v-6M875.4 931.6v6M933.9 1637.6v-6M933.9 931.6v6M992.3 1637.6v-6M992.3 931.6v6M1050.8 1637.6v-6M1050.8 931.6v6M1109.2 1637.6v-6M1109.2 931.6v6M1167.7 1637.6v-6M1167.7 931.6v6M1226.1 1637.6v-6M1226.1 931.6v6M1284.6 1637.6v-6M1284.6 931.6v6M1343 1637.6v-6M1343 931.6v6M817 1634.1h3M1401.3 1634.1h-3M817 1631h3M1401.3 1631h-3M817 1628.4h3M1401.3 1628.4h-3M817 1626.1h3M1401.3 1626.1h-3M817 1624.1h3M1401.3 1624.1h-3M817 1622.3h6.5M1401.3 1622.3h-6.5M817 1610.5h3M1401.3 1610.5h-3M817 1603.5h3M1401.3 1603.5h-3M817 1598.6h3M1401.3 1598.6h-3M817 1594.8h3M1401.3 1594.8h-3M817 1591.7h3M1401.3 1591.7h-3M817 1589.1h3M1401.3 1589.1h-3M817 1586.8h3M1401.3 1586.8h-3M817 1584.8h3M1401.3 1584.8h-3M817 1583h3M1401.3 1583h-3M817 1571.2h3M1401.3 1571.2h-3M817 1564.2h3M1401.3 1564.2h-3M817 1559.3h3M1401.3 1559.3h-3M817 1555.5h3M1401.3 1555.5h-3M817 1552.4h3M1401.3 1552.4h-3M817 1549.8h3M1401.3 1549.8h-3M817 1547.5h3M1401.3 1547.5h-3M817 1545.5h3M1401.3 1545.5h-3M817 1543.7h6.5M1401.3 1543.7h-6.5M817 1531.9h3M1401.3 1531.9h-3M817 1524.9h3M1401.3 1524.9h-3M817 1520h3M1401.3 1520h-3M817 1516.2h3M1401.3 1516.2h-3M817 1513.1h3M1401.3 1513.1h-3M817 1510.5h3M1401.3 1510.5h-3M817 1508.2h3M1401.3 1508.2h-3M817 1506.2h3M1401.3 1506.2h-3M817 1504.4h3M1401.3 1504.4h-3M817 1492.6h3M1401.3 1492.6h-3M817 1485.6h3M1401.3 1485.6h-3M817 1480.7h3M1401.3 1480.7h-3M817 1476.9h3M1401.3 1476.9h-3M817 1473.8h3M1401.3 1473.8h-3M817 1471.2h3M1401.3 1471.2h-3M817 1468.9h3M1401.3 1468.9h-3M817 1466.9h3M1401.3 1466.9h-3M817 1465.1h6.5M1401.3 1465.1h-6.5M817 1453.3h3M1401.3 1453.3h-3M817 1446.3h3M1401.3 1446.3h-3M817 1441.4h3M1401.3 1441.4h-3M817 1437.6h3M1401.3 1437.6h-3M817 1434.5h3M1401.3 1434.5h-3M817 1431.9h3M1401.3 1431.9h-3M817 1429.6h3M1401.3 1429.6h-3M817 1427.6h3M1401.3 1427.6h-3M817 1425.8h3M1401.3 1425.8h-3M817 1414h3M1401.3 1414h-3M817 1407h3M1401.3 1407h-3M817 1402.1h3M1401.3 1402.1h-3M817 1398.3h3M1401.3 1398.3h-3M817 1395.2h3M1401.3 1395.2h-3M817 1392.6h3M1401.3 1392.6h-3M817 1390.3h3M1401.3 1390.3h-3M817 1388.3h3M1401.3 1388.3h-3M817 1386.5h6.5M1401.3 1386.5h-6.5M817 1374.7h3M1401.3 1374.7h-3M817 1367.7h3M1401.3 1367.7h-3M817 1362.8h3M1401.3 1362.8h-3M817 1359h3M1401.3 1359h-3M817 1355.9h3M1401.3 1355.9h-3M817 1353.3h3M1401.3 1353.3h-3M817 1351h3M1401.3 1351h-3M817 1349h3M1401.3 1349h-3M817 1347.2h3M1401.3 1347.2h-3M817 1335.4h3M1401.3 1335.4h-3M817 1328.4h3M1401.3 1328.4h-3M817 1323.5h3M1401.3 1323.5h-3M817 1319.7h3M1401.3 1319.7h-3M817 1316.6h3M1401.3 1316.6h-3M817 1314h3M1401.3 1314h-3M817 1311.7h3M1401.3 1311.7h-3M817 1309.7h3M1401.3 1309.7h-3M817 1307.9h6.5M1401.3 1307.9h-6.5M817 1296.1h3M1401.3 1296.1h-3M817 1289.1h3M1401.3 1289.1h-3M817 1284.2h3M1401.3 1284.2h-3M817 1280.4h3M1401.3 1280.4h-3M817 1277.3h3M1401.3 1277.3h-3M817 1274.7h3M1401.3 1274.7h-3M817 1272.4h3M1401.3 1272.4h-3M817 1270.4h3M1401.3 1270.4h-3M817 1268.6h3M1401.3 1268.6h-3M817 1256.8h3M1401.3 1256.8h-3M817 1249.8h3M1401.3 1249.8h-3M817 1244.9h3M1401.3 1244.9h-3M817 1241.1h3M1401.3 1241.1h-3M817 1238h3M1401.3 1238h-3M817 1235.4h3M1401.3 1235.4h-3M817 1233.1h3M1401.3 1233.1h-3M817 1231.1h3M1401.3 1231.1h-3M817 1229.3h6.5M1401.3 1229.3h-6.5M817 1217.5h3M1401.3 1217.5h-3M817 1210.5h3M1401.3 1210.5h-3M817 1205.6h3M1401.3 1205.6h-3M817 1201.8h3M1401.3 1201.8h-3M817 1198.7h3M1401.3 1198.7h-3M817 1196.1h3M1401.3 1196.1h-3M817 1193.8h3M1401.3 1193.8h-3M817 1191.8h3M1401.3 1191.8h-3M817 1190h3M1401.3 1190h-3M817 1178.2h3M1401.3 1178.2h-3M817 1171.2h3M1401.3 1171.2h-3M817 1166.3h3M1401.3 1166.3h-3M817 1162.5h3M1401.3 1162.5h-3M817 1159.4h3M1401.3 1159.4h-3M817 1156.8h3M1401.3 1156.8h-3M817 1154.5h3M1401.3 1154.5h-3M817 1152.5h3M1401.3 1152.5h-3M817 1150.7h6.5M1401.3 1150.7h-6.5M817 1138.9h3M1401.3 1138.9h-3M817 1131.9h3M1401.3 1131.9h-3M817 1127h3M1401.3 1127h-3M817 1123.2h3M1401.3 1123.2h-3M817 1120.1h3M1401.3 1120.1h-3M817 1117.5h3M1401.3 1117.5h-3M817 1115.2h3M1401.3 1115.2h-3M817 1113.2h3M1401.3 1113.2h-3M817 1111.4h3M1401.3 1111.4h-3M817 1099.6h3M1401.3 1099.6h-3M817 1092.6h3M1401.3 1092.6h-3M817 1087.7h3M1401.3 1087.7h-3M817 1083.9h3M1401.3 1083.9h-3M817 1080.8h3M1401.3 1080.8h-3M817 1078.2h3M1401.3 1078.2h-3M817 1075.9h3M1401.3 1075.9h-3M817 1073.9h3M1401.3 1073.9h-3M817 1072.1h6.5M1401.3 1072.1h-6.5M817 1060.3h3M1401.3 1060.3h-3M817 1053.3h3M1401.3 1053.3h-3M817 1048.4h3M1401.3 1048.4h-3M817 1044.6h3M1401.3 1044.6h-3M817 1041.5h3M1401.3 1041.5h-3M817 1038.9h3M1401.3 1038.9h-3M817 1036.6h3M1401.3 1036.6h-3M817 1034.6h3M1401.3 1034.6h-3M817 1032.8h3M1401.3 1032.8h-3M817 1021h3M1401.3 1021h-3M817 1014h3M1401.3 1014h-3M817 1009.1h3M1401.3 1009.1h-3M817 1005.3h3M1401.3 1005.3h-3M817 1002.2h3M1401.3 1002.2h-3M817 999.6h3M1401.3 999.6h-3M817 997.3h3M1401.3 997.3h-3M817 995.3h3M1401.3 995.3h-3M817 993.5h6.5M1401.3 993.5h-6.5M817 981.7h3M1401.3 981.7h-3M817 974.7h3M1401.3 974.7h-3M817 969.8h3M1401.3 969.8h-3M817 966h3M1401.3 966h-3M817 962.9h3M1401.3 962.9h-3M817 960.3h3M1401.3 960.3h-3M817 958h3M1401.3 958h-3M817 956h3M1401.3 956h-3M817 954.2h3M1401.3 954.2h-3M817 942.4h3M1401.3 942.4h-3M817 935.4h3M1401.3 935.4h-3" stroke="#262626" stroke-width="1.1" fill="none"/>
<clipPath id="clip931"><rect x="816" y="930.6" width="586.3" height="707.5"/></clipPath>
<g clip-path="url(#clip931)" fill="none" stroke-width="4.6" stroke-linejoin="round" stroke-linecap="butt"><path d="M816.8 1054L818.3 1080L818.7 1130L821 1231L822 1330L823.3 1440L824.5 1640" stroke="#ff0000"/><path d="M817.5 1046L823 1048.5L862 1049.8L940 1051.5L1029 1051.2L1043.6 1049.9L1059.7 1050L1085.6 1055L1096.9 1055.3L1170 1052.8L1245.8 1053.5L1257.6 1055.2L1311.5 1056L1314.8 1057.3L1368.7 1057.7L1372 1061L1401.6 1061.4" stroke="#ffd700"/><path d="M818.5 1055L819.3 1057.4L820.9 1063L823.7 1135L826.6 1186.1L827.7 1231L828.5 1330L829.3 1440L831.8 1640" stroke="#000080"/><path d="M816.5 1050.1L830.5 1059.6L840 1061.8L862.6 1060.9L910 1062.1L913.2 1065.3L950 1066.5L966.1 1068.7L1003.3 1071.2L1008.1 1073.6L1025.9 1073.9L1033.9 1077.6L1063 1080.8L1111.4 1083.6L1170 1084.6L1401.6 1084.6" stroke="#008000"/><path d="M828.8 1071.4L829.3 1078.6L838.8 1077.5L843.3 1077.5L845 1082.5L845.6 1088.7L857.9 1089.3L860.5 1093.7L863.7 1106.3L871.1 1107.4L873.2 1114.7L875.3 1120L877.4 1131.6L880.5 1133.7L883.9 1150.2L888.4 1153.6L890.6 1163.7L895.1 1167.1L897.3 1177.2L900.7 1178.3L900.7 1194L906.3 1195.1L909.7 1204.1L910.8 1222.1L914.2 1225.4L916.4 1236.7L925.4 1241.2L927.7 1256.9L928.8 1271.5L928.8 1287.2L936.6 1287.2L941.1 1309.7L946.7 1318.6L949.4 1320L956.6 1323.6L957.5 1339.7L963.8 1354L969.1 1366.5L972.7 1391.6L976.3 1396.9L979 1427.3L983.4 1434.5L987 1441.6L990.6 1448.8L996 1463.1L1001.3 1475.6L1004.9 1489.9L1006.7 1507.8L1010.3 1518.6L1015.6 1523.9L1018.3 1538.2L1022.8 1540L1026.4 1559.7L1029.9 1563.3L1032.6 1597.3L1037.1 1599.1L1038.9 1609.8L1042.5 1613.4L1045.2 1624.1L1047 1640" stroke="#ff6600"/><path d="M817.5 1049L826 1052.3L862 1054L883.7 1053.7L931 1056.3L950 1057.1L982.3 1058.7L1029.1 1059L1030.7 1060.3L1150.1 1060.3L1153.4 1062L1401.6 1061.8" stroke="#9932cc"/><path d="M828.8 1057.9L832.1 1063L833.3 1068.6L834.4 1082.5L838.3 1085.3L860.7 1085.8L863.7 1091.6L866.8 1106.3L870 1111.6L872.1 1120L874.9 1140L874.9 1158.1L879.4 1165.9L881.6 1192.9L885 1206.4L889.5 1215.3L890.6 1218.7L899.6 1219.8L904.1 1224.3L905.2 1229.9L910.8 1234.4L913.1 1243.4L919.8 1245.7L924.3 1253.5L927.7 1270.4L932.1 1273.7L936.6 1279.3L941.1 1289.4L946.7 1298.4L950.1 1309.7L956.8 1318.6L961.3 1330L963.8 1337.9L972.7 1350.4L978.1 1373.7L983.4 1400.5L988.8 1413L992.4 1454.2L996 1491.7L1001.3 1516.8L1004.9 1543.6L1008.5 1584.8L1012.1 1599.1L1015.6 1615.2L1020.3 1640" stroke="#1e90ff"/><path d="M817.5 1044.5L819.3 1045.6L823.2 1047.9L862 1049L887.9 1048.9L890 1050.5L950 1050.7L1029.1 1051L1030.7 1052.3L1095.3 1052.6L1098.5 1053.9L1170 1053.9L1220.5 1054.8L1245.8 1055.2L1257.6 1057.7L1304.7 1061.1L1338.4 1065.3L1372.1 1067.8L1401.6 1069" stroke="#00b2aa"/><path d="M817 1052.3L821.5 1058.5L824.3 1074.2L826.5 1096.5L828.8 1110.5L832.1 1116.1L837.2 1116.1L838.8 1130.1L840.1 1136.7L845.7 1139L850.2 1146.8L856.9 1146.8L859.2 1168.2L861.4 1182.8L869.3 1183.9L870.4 1188.4L911.9 1188.4L913.1 1196.2L942.2 1196.2L945.6 1203L946.7 1216.5L988.6 1216.9L989.5 1245.6L1040 1245.6L1040.8 1252.3L1061.9 1253.2L1063.6 1259.9L1066.9 1262.4L1068.6 1279.3L1103.2 1280.1L1104.8 1290.2L1107.4 1295.3L1130.9 1296.1L1132.6 1306.2L1149.5 1306.2L1152 1311.3L1196.1 1311.3L1196.9 1332.3L1215.5 1333.1L1217.1 1341.2L1222 1342.8L1223.6 1351.6L1226.8 1353.3L1227.6 1367.8L1253.4 1367.8L1255 1379.1L1259.1 1384.7L1263.9 1387.2L1266.3 1404.9L1278.5 1405.7L1279.3 1415.4L1291.4 1416.2L1293.8 1432.3L1296.2 1434.8L1313.9 1435.6L1317.2 1440.4L1326.9 1441.2L1329.3 1450.9L1331.7 1452.5L1332.5 1463L1345.4 1463.8L1351.1 1468.7L1353.5 1475.1L1357.5 1475.9L1359.1 1485.6L1372.1 1486.4L1373.7 1511.4L1389.8 1512.2L1396.3 1516.3L1398.7 1524.3L1401.6 1526" stroke="#ff3399"/><path d="M817.5 1049L826 1052.9L840 1058.5L848.4 1061.8L851.1 1065.2L862 1068.3L870 1072.6L875.3 1074.7L894.2 1077.9L950 1079.2L966.1 1081.6L1000 1082L1003.3 1084.9L1054.9 1086.2L1058.1 1088.1L1111.4 1088.9L1193.6 1088.8L1197 1093L1203.7 1094.7L1237.4 1096.4L1240.7 1100.6L1250.8 1100.6L1255.9 1104L1338.4 1104L1343.5 1105.3L1373.8 1105.3L1377.2 1106.5L1401.6 1106.5" stroke="#4d4d4d"/><path d="M817.5 1046.5L822.1 1050.7L826.5 1063L828.8 1067.4L832.1 1069.7L834.9 1074.2L836 1099.3L838.3 1102.1L841.1 1103.8L843.9 1110.5L845.6 1127.3L847.9 1136.7L850.2 1158.1L852.4 1172.7L856.9 1180.5L859.2 1197.4L861.4 1219.8L863.7 1245.7L867 1251.3L869.3 1281.6L872.6 1289.4L874.9 1304L878.2 1319.8L883.3 1334.3L886.8 1355.8L889.5 1368.3L892.2 1391.6L894.9 1441.6L897.6 1447L900.3 1472.1L902.9 1498.9L904.7 1527.5L907.4 1531.1L910.1 1588.3L912.8 1620.5L917.2 1627.7L919 1640" stroke="#8b0045"/></g>
<g font-family="Liberation Sans, sans-serif" font-size="11.4" fill="#333"><text x="817" y="1656.1" text-anchor="middle">0</text><text x="875.4" y="1656.1" text-anchor="middle">50</text><text x="933.9" y="1656.1" text-anchor="middle">100</text><text x="992.3" y="1656.1" text-anchor="middle">150</text><text x="1050.8" y="1656.1" text-anchor="middle">200</text><text x="1109.2" y="1656.1" text-anchor="middle">250</text><text x="1167.7" y="1656.1" text-anchor="middle">300</text><text x="1226.1" y="1656.1" text-anchor="middle">350</text><text x="1284.6" y="1656.1" text-anchor="middle">400</text><text x="1343" y="1656.1" text-anchor="middle">450</text><text x="1401.5" y="1656.1" text-anchor="middle">500</text><text x="812.7" y="1000.1" text-anchor="end">10<tspan font-size="10" dy="-5.5">4</tspan></text><text x="812.7" y="1078.7" text-anchor="end">10<tspan font-size="10" dy="-5.5">2</tspan></text><text x="812.7" y="1157.3" text-anchor="end">10<tspan font-size="10" dy="-5.5">0</tspan></text><text x="812.7" y="1235.9" text-anchor="end">10<tspan font-size="10" dy="-5.5">−2</tspan></text><text x="812.7" y="1314.5" text-anchor="end">10<tspan font-size="10" dy="-5.5">−4</tspan></text><text x="812.7" y="1393.1" text-anchor="end">10<tspan font-size="10" dy="-5.5">−6</tspan></text><text x="812.7" y="1471.7" text-anchor="end">10<tspan font-size="10" dy="-5.5">−8</tspan></text><text x="812.7" y="1550.3" text-anchor="end">10<tspan font-size="10" dy="-5.5">−10</tspan></text><text x="812.7" y="1628.9" text-anchor="end">10<tspan font-size="10" dy="-5.5">−12</tspan></text></g>
<text font-family="Liberation Sans, sans-serif" font-weight="bold" font-size="21.5" fill="#1a1a1a" transform="translate(772.4 1285.3) rotate(-90)" text-anchor="middle" letter-spacing="0.33">Average Fitness Value</text>
<text font-family="Liberation Sans, sans-serif" font-weight="bold" font-size="21" fill="#1a1a1a" x="961.0" y="1683.0" letter-spacing="0.43">Function Evaluations</text>
<text font-family="Liberation Sans, sans-serif" font-weight="bold" font-size="21" fill="#1a1a1a" x="1203.4" y="1683.0" letter-spacing="1.3">/30</text>
<path d="M1200.8 1666.4Q1187.8 1674.7 1200.8 1683.4M1239 1666.4Q1251.2 1674.7 1239 1683.4" fill="none" stroke="#262626" stroke-width="1.4"/>
<rect x="1106.6" y="1374.9" width="125.7" height="217.3" fill="#fff" stroke="#333" stroke-width="1"/>
<g font-family="Liberation Sans, sans-serif" font-weight="bold" font-size="14.3" fill="#000"><path d="M1110.6 1385.8H1146.6" stroke="#ff0000" stroke-width="4.6"/><text transform="matrix(1 0 0 1.08 1149.6 1391.4)">AP-IVYPSO</text><path d="M1110.6 1405.4H1146.6" stroke="#ffd700" stroke-width="4.6"/><text transform="matrix(1 0 0 1.08 1149.6 1411)">PSO</text><path d="M1110.6 1425H1146.6" stroke="#000080" stroke-width="4.6"/><text transform="matrix(1 0 0 1.08 1149.6 1430.6)">IVY</text><path d="M1110.6 1444.6H1146.6" stroke="#008000" stroke-width="4.6"/><text transform="matrix(1 0 0 1.08 1149.6 1450.2)">HFPSO</text><path d="M1110.6 1464.2H1146.6" stroke="#ff6600" stroke-width="4.6"/><text transform="matrix(1 0 0 1.08 1149.6 1469.8)">HJSPSO</text><path d="M1110.6 1483.8H1146.6" stroke="#9932cc" stroke-width="4.6"/><text transform="matrix(1 0 0 1.08 1149.6 1489.3)">BOA</text><path d="M1110.6 1503.3H1146.6" stroke="#1e90ff" stroke-width="4.6"/><text transform="matrix(1 0 0 1.08 1149.6 1508.9)">WOA</text><path d="M1110.6 1522.9H1146.6" stroke="#00b2aa" stroke-width="4.6"/><text transform="matrix(1 0 0 1.08 1149.6 1528.5)">GOOSE</text><path d="M1110.6 1542.5H1146.6" stroke="#ff3399" stroke-width="4.6"/><text transform="matrix(1 0 0 1.08 1149.6 1548.1)">PSOBOA</text><path d="M1110.6 1562.1H1146.6" stroke="#4d4d4d" stroke-width="4.6"/><text transform="matrix(1 0 0 1.08 1149.6 1567.7)">NSM-BO</text><path d="M1110.6 1581.7H1146.6" stroke="#8b0045" stroke-width="4.6"/><text transform="matrix(1 0 0 1.08 1149.6 1587.3)">FDB-AGSK</text></g>
<g font-family="Liberation Serif, serif" font-size="33" fill="#000" letter-spacing="0.55">
<text x="643.0" y="855.9">(<tspan font-weight="bold">o</tspan>) f15.</text>
<text x="642.6" y="1768.7">(<tspan font-weight="bold">p</tspan>) f16.</text>
</g>
</svg>
<script>
var PAR=[[0.2422,0.1504,0.6603],[0.2504,0.165,0.7076],[0.2578,0.1818,0.7511],[0.2647,0.1978,0.7952],[0.2706,0.2147,0.8364],[0.2751,0.2342,0.871],[0.2783,0.2559,0.8991],[0.2803,0.2782,0.9221],[0.2813,0.3006,0.9414],[0.281,0.3228,0.9579],[0.2795,0.3447,0.9717],[0.276,0.3667,0.9829],[0.2699,0.3892,0.9906],[0.2602,0.4123,0.9952],[0.244,0.4358,0.9988],[0.2206,0.4603,0.9973],[0.1963,0.4847,0.9892],[0.1834,0.5074,0.9798],[0.1786,0.5289,0.9682],[0.1764,0.5499,0.952],[0.1687,0.5703,0.9359],[0.154,0.5902,0.9218],[0.146,0.6091,0.9079],[0.138,0.6276,0.8973],[0.1248,0.6459,0.8883],[0.1113,0.6635,0.8763],[0.0952,0.6798,0.8598],[0.0689,0.6948,0.8394],[0.0297,0.7082,0.8163],[0.0036,0.7203,0.7917],[0.0067,0.7312,0.766],[0.0433,0.7411,0.7394],[0.0964,0.75,0.712],[0.1408,0.7584,0.6842],[0.1717,0.767,0.6554],[0.1938,0.7758,0.6251],[0.2161,0.7843,0.5923],[0.247,0.7918,0.5567],[0.2906,0.7973,0.5188],[0.3406,0.8008,0.4789],[0.3909,0.8029,0.4354],[0.4456,0.8024,0.3909],[0.5044,0.7993,0.348],[0.5616,0.7942,0.3045],[0.6174,0.7876,0.2612],[0.672,0.7793,0.2227],[0.7242,0.7698,0.191],[0.7738,0.7598,0.1646],[0.8203,0.7498,0.1535],[0.8634,0.7406,0.1596],[0.9035,0.733,0.1774],[0.9393,0.7288,0.21],[0.9728,0.7298,0.2394],[0.9956,0.7434,0.2371],[0.997,0.7659,0.2199],[0.9952,0.7893,0.2028],[0.9892,0.8136,0.1885],[0.9786,0.8386,0.1766],[0.9676,0.8639,0.1643],[0.961,0.889,0.1537],[0.9597,0.9135,0.1423],[0.9628,0.9373,0.1265],[0.9691,0.9606,0.1064],[0.9769,0.9839,0.0805]];
var C1={"B": [301.9, 724.7], "LB": [-252.6, -178.6], "RB": [329.9, -137.3], "zs": 38.8, "amin": -10, "amax": 10, "zmaxu": 10.06, "grid": [[301.9, 724.7, 631.8, 587.4], [301.9, 724.7, 49.3, 546.1], [49.3, 546.1, 49.3, 155.8], [631.8, 587.4, 631.8, 197.1], [238.7, 680.1, 568.6, 542.8], [384.4, 690.4, 131.8, 511.8], [131.8, 511.8, 131.8, 121.4], [568.6, 542.8, 568.6, 152.4], [175.6, 635.4, 505.5, 498.1], [466.8, 656.1, 214.2, 477.5], [214.2, 477.5, 214.2, 87.1], [505.5, 498.1, 505.5, 107.8], [112.4, 590.8, 442.3, 453.4], [549.3, 621.7, 296.7, 443.1], [296.7, 443.1, 296.7, 52.8], [442.3, 453.4, 442.3, 63.1], [49.3, 546.1, 379.2, 408.8], [631.8, 587.4, 379.2, 408.8], [379.2, 408.8, 379.2, 18.5], [379.2, 408.8, 379.2, 18.5], [49.3, 546.1, 379.2, 408.8], [631.8, 587.4, 379.2, 408.8], [49.3, 507.3, 379.2, 370.0], [631.8, 548.6, 379.2, 370.0], [49.3, 468.5, 379.2, 331.2], [631.8, 509.8, 379.2, 331.2], [49.3, 429.7, 379.2, 292.4], [631.8, 471.0, 379.2, 292.4], [49.3, 390.9, 379.2, 253.6], [631.8, 432.2, 379.2, 253.6], [49.3, 352.1, 379.2, 214.8], [631.8, 393.4, 379.2, 214.8], [49.3, 313.3, 379.2, 176.0], [631.8, 354.6, 379.2, 176.0], [49.3, 274.5, 379.2, 137.2], [631.8, 315.8, 379.2, 137.2], [49.3, 235.7, 379.2, 98.4], [631.8, 277.0, 379.2, 98.4], [49.3, 196.9, 379.2, 59.6], [631.8, 238.2, 379.2, 59.6], [49.3, 158.1, 379.2, 20.8], [631.8, 199.4, 379.2, 20.8]]};
var C2={"B": [301.9, 1637.5], "LB": [-252.5, -176.7], "RB": [330.6, -136.3], "zs": 4.856, "amin": -5.12, "amax": 5.12, "zmaxu": 80.7, "grid": [[298.9, 1635.4, 629.5, 1499.1], [305.8, 1635.9, 53.3, 1459.2], [53.3, 1459.2, 53.3, 1067.3], [629.5, 1499.1, 629.5, 1107.3], [175.6, 1549.2, 506.2, 1412.9], [467.2, 1569.3, 214.7, 1392.6], [214.7, 1392.6, 214.7, 1000.8], [506.2, 1412.9, 506.2, 1021.0], [52.4, 1462.9, 383.0, 1326.6], [628.6, 1502.8, 376.1, 1326.1], [376.1, 1326.1, 376.1, 934.2], [383.0, 1326.6, 383.0, 934.7], [49.4, 1412.2, 380.0, 1275.9], [632.5, 1452.6, 380.0, 1275.9], [49.4, 1363.7, 380.0, 1227.4], [632.5, 1404.1, 380.0, 1227.4], [49.4, 1315.1, 380.0, 1178.8], [632.5, 1355.5, 380.0, 1178.8], [49.4, 1266.6, 380.0, 1130.3], [632.5, 1307.0, 380.0, 1130.3], [49.4, 1218.0, 380.0, 1081.7], [632.5, 1258.4, 380.0, 1081.7], [49.4, 1169.4, 380.0, 1033.1], [632.5, 1209.8, 380.0, 1033.1], [49.4, 1120.9, 380.0, 984.6], [632.5, 1161.3, 380.0, 984.6], [49.4, 1072.3, 380.0, 936.0], [632.5, 1112.7, 380.0, 936.0], [49.4, 1460.8, 380.0, 1324.5], [632.5, 1501.2, 380.0, 1324.5]]};
(function(){
var cv=document.getElementById('cv'), g=cv.getContext('2d'); g.lineJoin='round'; g.fillStyle='#fff'; g.fillRect(0,0,700,1789);
function col(t){ t=t<0?0:t>1?1:t; var fi=t*63, i=Math.min(62,Math.floor(fi)), u=fi-i, a=PAR[i], b=PAR[i+1];
 return 'rgb('+Math.round((a[0]+(b[0]-a[0])*u)*255)+','+Math.round((a[1]+(b[1]-a[1])*u)*255)+','+Math.round((a[2]+(b[2]-a[2])*u)*255)+')'; }
function mk(C){ var r=C.amax-C.amin; return function(a,b,z){ var an=(a-C.amin)/r, bn=(b-C.amin)/r; return [C.B[0]+an*C.LB[0]+bn*C.RB[0], C.B[1]+an*C.LB[1]+bn*C.RB[1]-z*C.zs]; }; }
function grid(C){ g.strokeStyle='#d6d6d6'; g.lineWidth=0.9; g.beginPath(); C.grid.forEach(function(s){g.moveTo(s[0],s[1]);g.lineTo(s[2],s[3]);}); g.stroke(); }
function quad(q,c,lw){ g.fillStyle=c; g.strokeStyle=c; g.lineWidth=lw; g.beginPath(); g.moveTo(q[0][0],q[0][1]); for(var j=1;j<q.length;j++) g.lineTo(q[j][0],q[j][1]); g.closePath(); g.fill(); g.stroke(); }
// ---------- plot 1: bent cigar ----------
grid(C1);
var p1=mk(C1);
g.lineWidth=1.05;
for(var k=1;k<=10;k++){ var a=Math.sqrt(10*k); [a,-a].forEach(function(aa){ var s=p1(aa,-10,0), e=p1(aa,10,0); g.strokeStyle=col(k/10); g.beginPath(); g.moveTo(s[0],s[1]); g.lineTo(e[0],e[1]); g.stroke(); }); }
var N=500, st=[], dA=20/N, OFS=0.0085;
function zf(a){ var t=a*a/100; return (t+OFS*(1-t))*C1.zmaxu; }
for(var i=0;i<N;i++){ var a0=-10+dA*i-dA*0.6, a1=-10+dA*(i+1)+dA*0.6, am=-10+dA*(i+0.5);
  if(a0<-10)a0=-10; if(a1>10)a1=10; var z0=zf(a0), z1=zf(a1);
  st.push([1.3026*(am+10)/20-0.936*zf(am)/C1.zmaxu,a0,a1,z0,z1,am*am/100]); }
st.sort(function(x,y){return y[0]-x[0];});
st.forEach(function(s){ var q=[p1(s[1],-10,s[3]),p1(s[2],-10,s[4]),p1(s[2],10,s[4]),p1(s[1],10,s[3])]; g.fillStyle=col(s[5]); g.beginPath(); g.moveTo(q[0][0],q[0][1]); for(var j=1;j<4;j++) g.lineTo(q[j][0],q[j][1]); g.closePath(); g.fill(); });
// ---------- plot 2: rastrigin ----------
var p2=mk(C2), n=102, A0=C2.amin, h=(C2.amax-C2.amin)/n, Z=[], P=[], zmax=0;
for(var i=0;i<=n;i++){ var a=A0+i*h; Z.push([]); P.push([]); for(var j=0;j<=n;j++){ var b=A0+j*h;
  var z=20+a*a-10*Math.cos(2*Math.PI*a)+b*b-10*Math.cos(2*Math.PI*b); if(z>zmax) zmax=z; Z[i].push(z); P[i].push(p2(a,b,z)); } }
grid(C2);
g.lineWidth=1.2;
for(var L=10;L<=80;L+=10){ g.strokeStyle=col(L/zmax); g.beginPath();
  for(var i=0;i<n;i++) for(var j=0;j<n;j++){
    var c=[[i,j],[i+1,j],[i+1,j+1],[i,j+1]], pts=[];
    for(var e=0;e<4;e++){ var u=c[e], v=c[(e+1)%4], zu=Z[u[0]][u[1]]-L, zv=Z[v[0]][v[1]]-L;
      if((zu<0)!=(zv<0)){ var t=zu/(zu-zv); var ai=u[0]+(v[0]-u[0])*t, bj=u[1]+(v[1]-u[1])*t; pts.push(p2(A0+ai*h,A0+bj*h,0)); } }
    if(pts.length>=2){ g.moveTo(pts[0][0],pts[0][1]); g.lineTo(pts[1][0],pts[1][1]); }
    if(pts.length==4){ g.moveTo(pts[2][0],pts[2][1]); g.lineTo(pts[3][0],pts[3][1]); }
  }
  g.stroke(); }
var qs=[]; for(var i=0;i<n;i++) for(var j=0;j<n;j++) qs.push([1.3026*i+j,i,j]);
qs.sort(function(x,y){return y[0]-x[0];});
qs.forEach(function(q){ var i=q[1], j=q[2]; var zz=Z[i][j];
  quad([P[i][j],P[i+1][j],P[i+1][j+1],P[i][j+1]], col(zz/zmax), 0.6); });
})();

</script>
</body></html>
